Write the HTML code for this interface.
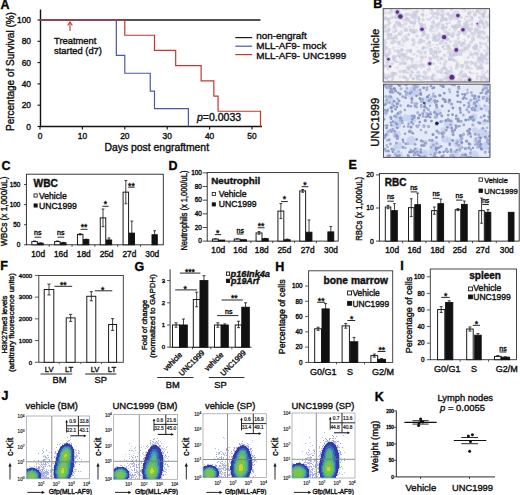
<!DOCTYPE html>
<html><head><meta charset="utf-8"><style>
html,body{margin:0;padding:0;background:#fff;}
svg{display:block;font-family:"Liberation Sans", sans-serif;}
text{stroke:#111;stroke-width:0.38px;}
</style></head><body>
<svg width="520" height="495" viewBox="0 0 520 495">
<defs><filter id="bl1" x="-30%" y="-30%" width="160%" height="160%"><feGaussianBlur stdDeviation="0.7"/></filter><filter id="bl2" x="-10%" y="-10%" width="120%" height="120%"><feGaussianBlur stdDeviation="0.45"/></filter></defs>
<rect width="520" height="495" fill="#fff"/>
<text x="0.5" y="8.5" font-size="12.5" text-anchor="start" font-weight="bold" fill="#000">A</text>
<line x1="40.5" y1="9.5" x2="40.5" y2="127.0" stroke="#111" stroke-width="1.4"/>
<line x1="39.9" y1="126.5" x2="262" y2="126.5" stroke="#111" stroke-width="1.4"/>
<line x1="37.5" y1="126.5" x2="40.5" y2="126.5" stroke="#111" stroke-width="1.1"/>
<text x="31" y="129.5" font-size="8.4" text-anchor="end" fill="#111">0</text>
<line x1="37.5" y1="105.2" x2="40.5" y2="105.2" stroke="#111" stroke-width="1.1"/>
<text x="31" y="108.2" font-size="8.4" text-anchor="end" fill="#111">20</text>
<line x1="37.5" y1="83.9" x2="40.5" y2="83.9" stroke="#111" stroke-width="1.1"/>
<text x="31" y="86.9" font-size="8.4" text-anchor="end" fill="#111">40</text>
<line x1="37.5" y1="62.6" x2="40.5" y2="62.6" stroke="#111" stroke-width="1.1"/>
<text x="31" y="65.6" font-size="8.4" text-anchor="end" fill="#111">60</text>
<line x1="37.5" y1="41.30000000000001" x2="40.5" y2="41.30000000000001" stroke="#111" stroke-width="1.1"/>
<text x="31" y="44.30000000000001" font-size="8.4" text-anchor="end" fill="#111">80</text>
<line x1="37.5" y1="20.0" x2="40.5" y2="20.0" stroke="#111" stroke-width="1.1"/>
<text x="31" y="23.0" font-size="8.4" text-anchor="end" fill="#111">100</text>
<line x1="40.0" y1="126.5" x2="40.0" y2="129.5" stroke="#111" stroke-width="1.1"/>
<text x="40.0" y="139" font-size="8.4" text-anchor="middle" fill="#111">0</text>
<line x1="82.4" y1="126.5" x2="82.4" y2="129.5" stroke="#111" stroke-width="1.1"/>
<text x="82.4" y="139" font-size="8.4" text-anchor="middle" fill="#111">10</text>
<line x1="124.80000000000001" y1="126.5" x2="124.80000000000001" y2="129.5" stroke="#111" stroke-width="1.1"/>
<text x="124.80000000000001" y="139" font-size="8.4" text-anchor="middle" fill="#111">20</text>
<line x1="167.2" y1="126.5" x2="167.2" y2="129.5" stroke="#111" stroke-width="1.1"/>
<text x="167.2" y="139" font-size="8.4" text-anchor="middle" fill="#111">30</text>
<line x1="209.60000000000002" y1="126.5" x2="209.60000000000002" y2="129.5" stroke="#111" stroke-width="1.1"/>
<text x="209.60000000000002" y="139" font-size="8.4" text-anchor="middle" fill="#111">40</text>
<line x1="252.0" y1="126.5" x2="252.0" y2="129.5" stroke="#111" stroke-width="1.1"/>
<text x="252.0" y="139" font-size="8.4" text-anchor="middle" fill="#111">50</text>
<text x="104.5" y="151" font-size="10.4" text-anchor="start" fill="#111">Days post engraftment</text>
<text x="13.5" y="131" font-size="10" text-anchor="start" fill="#111" transform="rotate(-90 13.5 131)">Percentage of Survival (%)</text>
<path d="M40.0,20.0 H260.48" stroke="#1a1a1a" stroke-width="1.3" fill="none"/>
<path d="M40.0,20.0 H116.32 V55.46 H124.80 V73.25 H150.24 V91.04 H154.48 V108.71 H188.40 V126.50" stroke="#4b5aa6" stroke-width="1.2" fill="none"/>
<path d="M40.0,20.0 H124.80 V35.23 H154.48 V50.46 H175.68 V65.69 H201.12 V80.81 H213.84 V96.04 H218.08 V111.27 H260.48 V126.50" stroke="#c8362f" stroke-width="1.2" fill="none"/>
<path d="M70,31 V22.5" stroke="#c8362f" stroke-width="1.1" fill="none"/>
<path d="M67.6,25.5 L70,22 L72.4,25.5" stroke="#c8362f" stroke-width="1.1" fill="none"/>
<text x="54" y="44.2" font-size="9.4" text-anchor="start" fill="#111">Treatment</text>
<text x="54" y="53.6" font-size="9.4" text-anchor="start" fill="#111">started (d7)</text>
<text x="197" y="121.3" font-size="10.5" fill="#111"><tspan font-style="italic">p</tspan>=0.0033</text>
<line x1="235.3" y1="37.6" x2="252.2" y2="37.6" stroke="#1a1a1a" stroke-width="1.2"/>
<text x="256.2" y="39.3" font-size="9.9" text-anchor="start" fill="#111">non-engraft</text>
<line x1="235.3" y1="46.2" x2="252.2" y2="46.2" stroke="#4b5aa6" stroke-width="1.2"/>
<text x="256.2" y="49.3" font-size="9.9" text-anchor="start" fill="#111">MLL-AF9- mock</text>
<line x1="235.3" y1="54.6" x2="252.2" y2="54.6" stroke="#c8362f" stroke-width="1.2"/>
<text x="256.2" y="58.7" font-size="9.9" text-anchor="start" fill="#111">MLL-AF9- UNC1999</text>
<text x="1.5" y="170" font-size="12.5" text-anchor="start" font-weight="bold" fill="#000">C</text>
<rect x="26.4" y="174.2" width="136.9" height="70.60000000000002" fill="none" stroke="#222" stroke-width="0.9"/>
<line x1="24.0" y1="244.8" x2="26.4" y2="244.8" stroke="#222" stroke-width="0.8"/>
<text x="20.4" y="247.104" font-size="6.4" text-anchor="end" fill="#111">0</text>
<line x1="24.0" y1="224.70000000000002" x2="26.4" y2="224.70000000000002" stroke="#222" stroke-width="0.8"/>
<text x="20.4" y="227.00400000000002" font-size="6.4" text-anchor="end" fill="#111">50</text>
<line x1="24.0" y1="204.60000000000002" x2="26.4" y2="204.60000000000002" stroke="#222" stroke-width="0.8"/>
<text x="20.4" y="206.90400000000002" font-size="6.4" text-anchor="end" fill="#111">100</text>
<line x1="24.0" y1="184.5" x2="26.4" y2="184.5" stroke="#222" stroke-width="0.8"/>
<text x="20.4" y="186.804" font-size="6.4" text-anchor="end" fill="#111">150</text>
<line x1="49.21666666666667" y1="244.8" x2="49.21666666666667" y2="246.8" stroke="#222" stroke-width="0.8"/>
<line x1="72.03333333333333" y1="244.8" x2="72.03333333333333" y2="246.8" stroke="#222" stroke-width="0.8"/>
<line x1="94.85" y1="244.8" x2="94.85" y2="246.8" stroke="#222" stroke-width="0.8"/>
<line x1="117.66666666666666" y1="244.8" x2="117.66666666666666" y2="246.8" stroke="#222" stroke-width="0.8"/>
<line x1="140.48333333333332" y1="244.8" x2="140.48333333333332" y2="246.8" stroke="#222" stroke-width="0.8"/>
<rect x="31.81" y="241.58" width="5.50" height="3.22" fill="#fff" stroke="#111" stroke-width="0.95"/>
<line x1="34.55833333333333" y1="241.584" x2="34.55833333333333" y2="240.98100000000002" stroke="#111" stroke-width="0.8"/>
<line x1="33.15833333333333" y1="240.98100000000002" x2="35.95833333333333" y2="240.98100000000002" stroke="#111" stroke-width="0.8"/>
<rect x="37.91" y="243.19" width="5.30" height="1.61" fill="#111" stroke="#111" stroke-width="0.95"/>
<line x1="40.55833333333332" y1="243.192" x2="40.55833333333332" y2="242.87040000000002" stroke="#111" stroke-width="0.8"/>
<line x1="39.158333333333324" y1="242.87040000000002" x2="41.95833333333332" y2="242.87040000000002" stroke="#111" stroke-width="0.8"/>
<rect x="54.62" y="241.58" width="5.50" height="3.22" fill="#fff" stroke="#111" stroke-width="0.95"/>
<line x1="57.375" y1="241.584" x2="57.375" y2="240.98100000000002" stroke="#111" stroke-width="0.8"/>
<line x1="55.975" y1="240.98100000000002" x2="58.775" y2="240.98100000000002" stroke="#111" stroke-width="0.8"/>
<rect x="60.72" y="242.79" width="5.30" height="2.01" fill="#111" stroke="#111" stroke-width="0.95"/>
<line x1="63.37499999999999" y1="242.79000000000002" x2="63.37499999999999" y2="242.388" stroke="#111" stroke-width="0.8"/>
<line x1="61.974999999999994" y1="242.388" x2="64.77499999999999" y2="242.388" stroke="#111" stroke-width="0.8"/>
<rect x="77.44" y="234.35" width="5.50" height="10.45" fill="#fff" stroke="#111" stroke-width="0.95"/>
<line x1="80.19166666666666" y1="234.348" x2="80.19166666666666" y2="233.745" stroke="#111" stroke-width="0.8"/>
<line x1="78.79166666666666" y1="233.745" x2="81.59166666666667" y2="233.745" stroke="#111" stroke-width="0.8"/>
<line x1="80.19166666666666" y1="234.348" x2="80.19166666666666" y2="234.95100000000002" stroke="#111" stroke-width="0.8"/>
<line x1="78.79166666666666" y1="234.95100000000002" x2="81.59166666666667" y2="234.95100000000002" stroke="#111" stroke-width="0.8"/>
<rect x="83.54" y="239.57" width="5.30" height="5.23" fill="#111" stroke="#111" stroke-width="0.95"/>
<line x1="86.19166666666666" y1="239.574" x2="86.19166666666666" y2="239.17200000000003" stroke="#111" stroke-width="0.8"/>
<line x1="84.79166666666666" y1="239.17200000000003" x2="87.59166666666667" y2="239.17200000000003" stroke="#111" stroke-width="0.8"/>
<rect x="100.26" y="217.87" width="5.50" height="26.93" fill="#fff" stroke="#111" stroke-width="0.95"/>
<line x1="103.00833333333333" y1="217.866" x2="103.00833333333333" y2="209.02200000000002" stroke="#111" stroke-width="0.8"/>
<line x1="101.60833333333332" y1="209.02200000000002" x2="104.40833333333333" y2="209.02200000000002" stroke="#111" stroke-width="0.8"/>
<line x1="103.00833333333333" y1="217.866" x2="103.00833333333333" y2="226.71" stroke="#111" stroke-width="0.8"/>
<line x1="101.60833333333332" y1="226.71" x2="104.40833333333333" y2="226.71" stroke="#111" stroke-width="0.8"/>
<rect x="106.36" y="239.98" width="5.30" height="4.82" fill="#111" stroke="#111" stroke-width="0.95"/>
<line x1="109.00833333333333" y1="239.976" x2="109.00833333333333" y2="237.966" stroke="#111" stroke-width="0.8"/>
<line x1="107.60833333333332" y1="237.966" x2="110.40833333333333" y2="237.966" stroke="#111" stroke-width="0.8"/>
<rect x="123.08" y="192.14" width="5.50" height="52.66" fill="#fff" stroke="#111" stroke-width="0.95"/>
<line x1="125.82499999999999" y1="192.138" x2="125.82499999999999" y2="180.48000000000002" stroke="#111" stroke-width="0.8"/>
<line x1="124.42499999999998" y1="180.48000000000002" x2="127.225" y2="180.48000000000002" stroke="#111" stroke-width="0.8"/>
<line x1="125.82499999999999" y1="192.138" x2="125.82499999999999" y2="203.796" stroke="#111" stroke-width="0.8"/>
<line x1="124.42499999999998" y1="203.796" x2="127.225" y2="203.796" stroke="#111" stroke-width="0.8"/>
<rect x="129.18" y="233.14" width="5.30" height="11.66" fill="#111" stroke="#111" stroke-width="0.95"/>
<line x1="131.825" y1="233.142" x2="131.825" y2="221.08200000000002" stroke="#111" stroke-width="0.8"/>
<line x1="130.42499999999998" y1="221.08200000000002" x2="133.225" y2="221.08200000000002" stroke="#111" stroke-width="0.8"/>
<rect x="151.99" y="234.75" width="5.30" height="10.05" fill="#111" stroke="#111" stroke-width="0.95"/>
<line x1="154.64166666666665" y1="234.75" x2="154.64166666666665" y2="230.73000000000002" stroke="#111" stroke-width="0.8"/>
<line x1="153.24166666666665" y1="230.73000000000002" x2="156.04166666666666" y2="230.73000000000002" stroke="#111" stroke-width="0.8"/>
<text x="38.10833333333333" y="256.6" font-size="8.3" text-anchor="middle" fill="#111">10d</text>
<text x="60.925" y="256.6" font-size="8.3" text-anchor="middle" fill="#111">16d</text>
<text x="83.74166666666666" y="256.6" font-size="8.3" text-anchor="middle" fill="#111">18d</text>
<text x="106.55833333333332" y="256.6" font-size="8.3" text-anchor="middle" fill="#111">25d</text>
<text x="129.375" y="256.6" font-size="8.3" text-anchor="middle" fill="#111">27d</text>
<text x="152.19166666666666" y="256.6" font-size="8.3" text-anchor="middle" fill="#111">30d</text>
<text x="33.6" y="186.6" font-size="10.2" text-anchor="start" font-weight="bold" fill="#111">WBC</text>
<rect x="34.0" y="193.9" width="3.2" height="3.2" fill="#fff" stroke="#111" stroke-width="0.8"/>
<text x="39.0" y="198.596" font-size="8.6" text-anchor="start" fill="#111">Vehicle</text>
<rect x="34.0" y="203.9" width="3.2" height="3.2" fill="#111" stroke="#111" stroke-width="0.8"/>
<text x="39.0" y="208.596" font-size="8.6" text-anchor="start" fill="#111">UNC1999</text>
<text x="6.7" y="211.3" font-size="8.9" text-anchor="middle" fill="#111" textLength="69.5" lengthAdjust="spacingAndGlyphs" transform="rotate(-90 6.7 211.3)">WBCs (x 1,000/uL)</text>
<text x="37.7" y="234.8" font-size="7" text-anchor="middle" fill="#111">ns</text>
<line x1="34.6" y1="237.2" x2="41.2" y2="237.2" stroke="#111" stroke-width="0.9"/>
<text x="60.8" y="234.8" font-size="7" text-anchor="middle" fill="#111">ns</text>
<line x1="57.6" y1="237.2" x2="64.2" y2="237.2" stroke="#111" stroke-width="0.9"/>
<text x="84.1" y="230.1" font-size="8.6" text-anchor="middle" fill="#111">**</text>
<line x1="80.6" y1="229.3" x2="87.6" y2="229.3" stroke="#111" stroke-width="0.9"/>
<text x="105.4" y="207.20000000000002" font-size="8.6" text-anchor="middle" fill="#111">*</text>
<line x1="102.3" y1="206.3" x2="108.6" y2="206.3" stroke="#111" stroke-width="0.9"/>
<text x="131.4" y="189.0" font-size="8.6" text-anchor="middle" fill="#111">**</text>
<line x1="128.2" y1="187.2" x2="134.6" y2="187.2" stroke="#111" stroke-width="0.9"/>
<text x="168.4" y="169.6" font-size="12.5" text-anchor="start" font-weight="bold" fill="#000">D</text>
<rect x="207.2" y="172.6" width="131.0" height="68.5" fill="none" stroke="#222" stroke-width="0.9"/>
<line x1="202.7" y1="241.1" x2="207.2" y2="241.1" stroke="#222" stroke-width="0.8"/>
<text x="201.8" y="243.404" font-size="6.4" text-anchor="end" fill="#111">0</text>
<line x1="202.7" y1="227.45999999999998" x2="207.2" y2="227.45999999999998" stroke="#222" stroke-width="0.8"/>
<text x="201.8" y="229.76399999999998" font-size="6.4" text-anchor="end" fill="#111">20</text>
<line x1="202.7" y1="213.82" x2="207.2" y2="213.82" stroke="#222" stroke-width="0.8"/>
<text x="201.8" y="216.124" font-size="6.4" text-anchor="end" fill="#111">40</text>
<line x1="202.7" y1="200.18" x2="207.2" y2="200.18" stroke="#222" stroke-width="0.8"/>
<text x="201.8" y="202.484" font-size="6.4" text-anchor="end" fill="#111">60</text>
<line x1="202.7" y1="186.54" x2="207.2" y2="186.54" stroke="#222" stroke-width="0.8"/>
<text x="201.8" y="188.844" font-size="6.4" text-anchor="end" fill="#111">80</text>
<line x1="202.7" y1="172.89999999999998" x2="207.2" y2="172.89999999999998" stroke="#222" stroke-width="0.8"/>
<text x="201.8" y="175.20399999999998" font-size="6.4" text-anchor="end" fill="#111">100</text>
<line x1="229.03333333333333" y1="241.1" x2="229.03333333333333" y2="243.1" stroke="#222" stroke-width="0.8"/>
<line x1="250.86666666666665" y1="241.1" x2="250.86666666666665" y2="243.1" stroke="#222" stroke-width="0.8"/>
<line x1="272.7" y1="241.1" x2="272.7" y2="243.1" stroke="#222" stroke-width="0.8"/>
<line x1="294.5333333333333" y1="241.1" x2="294.5333333333333" y2="243.1" stroke="#222" stroke-width="0.8"/>
<line x1="316.3666666666667" y1="241.1" x2="316.3666666666667" y2="243.1" stroke="#222" stroke-width="0.8"/>
<rect x="212.42" y="239.05" width="5.90" height="2.05" fill="#fff" stroke="#111" stroke-width="0.95"/>
<line x1="215.36666666666667" y1="239.054" x2="215.36666666666667" y2="238.713" stroke="#111" stroke-width="0.8"/>
<line x1="213.96666666666667" y1="238.713" x2="216.76666666666668" y2="238.713" stroke="#111" stroke-width="0.8"/>
<rect x="218.72" y="240.08" width="5.90" height="1.02" fill="#111" stroke="#111" stroke-width="0.95"/>
<rect x="234.25" y="239.05" width="5.90" height="2.05" fill="#fff" stroke="#111" stroke-width="0.95"/>
<line x1="237.2" y1="239.054" x2="237.2" y2="238.713" stroke="#111" stroke-width="0.8"/>
<line x1="235.79999999999998" y1="238.713" x2="238.6" y2="238.713" stroke="#111" stroke-width="0.8"/>
<rect x="240.55" y="239.74" width="5.90" height="1.36" fill="#111" stroke="#111" stroke-width="0.95"/>
<rect x="256.08" y="232.92" width="5.90" height="8.18" fill="#fff" stroke="#111" stroke-width="0.95"/>
<line x1="259.0333333333333" y1="232.916" x2="259.0333333333333" y2="231.552" stroke="#111" stroke-width="0.8"/>
<line x1="257.6333333333333" y1="231.552" x2="260.4333333333333" y2="231.552" stroke="#111" stroke-width="0.8"/>
<line x1="259.0333333333333" y1="232.916" x2="259.0333333333333" y2="234.28" stroke="#111" stroke-width="0.8"/>
<line x1="257.6333333333333" y1="234.28" x2="260.4333333333333" y2="234.28" stroke="#111" stroke-width="0.8"/>
<rect x="262.38" y="238.71" width="5.90" height="2.39" fill="#111" stroke="#111" stroke-width="0.95"/>
<line x1="265.33333333333326" y1="238.713" x2="265.33333333333326" y2="238.37199999999999" stroke="#111" stroke-width="0.8"/>
<line x1="263.9333333333333" y1="238.37199999999999" x2="266.73333333333323" y2="238.37199999999999" stroke="#111" stroke-width="0.8"/>
<rect x="277.92" y="211.09" width="5.90" height="30.01" fill="#fff" stroke="#111" stroke-width="0.95"/>
<line x1="280.8666666666667" y1="211.09199999999998" x2="280.8666666666667" y2="203.58999999999997" stroke="#111" stroke-width="0.8"/>
<line x1="279.4666666666667" y1="203.58999999999997" x2="282.26666666666665" y2="203.58999999999997" stroke="#111" stroke-width="0.8"/>
<line x1="280.8666666666667" y1="211.09199999999998" x2="280.8666666666667" y2="218.594" stroke="#111" stroke-width="0.8"/>
<line x1="279.4666666666667" y1="218.594" x2="282.26666666666665" y2="218.594" stroke="#111" stroke-width="0.8"/>
<rect x="284.22" y="239.74" width="5.90" height="1.36" fill="#111" stroke="#111" stroke-width="0.95"/>
<line x1="287.16666666666663" y1="239.736" x2="287.16666666666663" y2="239.054" stroke="#111" stroke-width="0.8"/>
<line x1="285.76666666666665" y1="239.054" x2="288.5666666666666" y2="239.054" stroke="#111" stroke-width="0.8"/>
<rect x="299.75" y="190.90" width="5.90" height="50.20" fill="#fff" stroke="#111" stroke-width="0.95"/>
<line x1="302.69999999999993" y1="190.9048" x2="302.69999999999993" y2="189.5408" stroke="#111" stroke-width="0.8"/>
<line x1="301.29999999999995" y1="189.5408" x2="304.0999999999999" y2="189.5408" stroke="#111" stroke-width="0.8"/>
<line x1="302.69999999999993" y1="190.9048" x2="302.69999999999993" y2="192.2688" stroke="#111" stroke-width="0.8"/>
<line x1="301.29999999999995" y1="192.2688" x2="304.0999999999999" y2="192.2688" stroke="#111" stroke-width="0.8"/>
<rect x="306.05" y="232.23" width="5.90" height="8.87" fill="#111" stroke="#111" stroke-width="0.95"/>
<line x1="309.0" y1="232.23399999999998" x2="309.0" y2="219.958" stroke="#111" stroke-width="0.8"/>
<line x1="307.6" y1="219.958" x2="310.4" y2="219.958" stroke="#111" stroke-width="0.8"/>
<rect x="327.88" y="231.89" width="5.90" height="9.21" fill="#111" stroke="#111" stroke-width="0.95"/>
<line x1="330.83333333333326" y1="231.893" x2="330.83333333333326" y2="226.43699999999998" stroke="#111" stroke-width="0.8"/>
<line x1="329.4333333333333" y1="226.43699999999998" x2="332.23333333333323" y2="226.43699999999998" stroke="#111" stroke-width="0.8"/>
<text x="218.2" y="252.9" font-size="8.3" text-anchor="middle" fill="#111">10d</text>
<text x="240.2" y="252.9" font-size="8.3" text-anchor="middle" fill="#111">16d</text>
<text x="261.7" y="252.9" font-size="8.3" text-anchor="middle" fill="#111">18d</text>
<text x="284.4" y="252.9" font-size="8.3" text-anchor="middle" fill="#111">25d</text>
<text x="307.6" y="252.9" font-size="8.3" text-anchor="middle" fill="#111">27d</text>
<text x="331.0" y="252.9" font-size="8.3" text-anchor="middle" fill="#111">30d</text>
<text x="211.2" y="184.4" font-size="9.8" text-anchor="start" font-weight="bold" fill="#111">Neutrophil</text>
<rect x="212.20000000000002" y="192.4" width="3.2" height="3.2" fill="#fff" stroke="#111" stroke-width="0.8"/>
<text x="218.8" y="197.096" font-size="8.6" text-anchor="start" fill="#111">Vehicle</text>
<rect x="212.20000000000002" y="202.8" width="3.2" height="3.2" fill="#111" stroke="#111" stroke-width="0.8"/>
<text x="218.8" y="207.496" font-size="8.6" text-anchor="start" fill="#111">UNC1999</text>
<text x="187.4" y="210.6" font-size="8.5" text-anchor="middle" fill="#111" textLength="80.0" lengthAdjust="spacingAndGlyphs" transform="rotate(-90 187.4 210.6)">Neutrophils (x 1,000/uL)</text>
<text x="217.7" y="236.20000000000002" font-size="8.6" text-anchor="middle" fill="#111">*</text>
<line x1="214.8" y1="234.6" x2="221.2" y2="234.6" stroke="#111" stroke-width="0.9"/>
<text x="240.2" y="232.6" font-size="7" text-anchor="middle" fill="#111">ns</text>
<line x1="236.8" y1="234.0" x2="243.6" y2="234.0" stroke="#111" stroke-width="0.9"/>
<text x="261.0" y="228.70000000000002" font-size="8.6" text-anchor="middle" fill="#111">**</text>
<line x1="257.8" y1="227.8" x2="264.6" y2="227.8" stroke="#111" stroke-width="0.9"/>
<text x="284.4" y="202.20000000000002" font-size="8.6" text-anchor="middle" fill="#111">*</text>
<line x1="281.0" y1="201.6" x2="287.8" y2="201.6" stroke="#111" stroke-width="0.9"/>
<text x="304.9" y="187.70000000000002" font-size="8.6" text-anchor="middle" fill="#111">*</text>
<line x1="301.6" y1="186.7" x2="308.4" y2="186.7" stroke="#111" stroke-width="0.9"/>
<text x="348.6" y="169.2" font-size="12.5" text-anchor="start" font-weight="bold" fill="#000">E</text>
<rect x="379.4" y="173.6" width="139.80000000000007" height="67.5" fill="none" stroke="#222" stroke-width="0.9"/>
<line x1="376.0" y1="241.1" x2="379.4" y2="241.1" stroke="#222" stroke-width="0.8"/>
<text x="373.8" y="243.548" font-size="6.8" text-anchor="end" fill="#111">0</text>
<line x1="376.0" y1="208.0" x2="379.4" y2="208.0" stroke="#222" stroke-width="0.8"/>
<text x="373.8" y="210.448" font-size="6.8" text-anchor="end" fill="#111">10</text>
<line x1="376.0" y1="174.89999999999998" x2="379.4" y2="174.89999999999998" stroke="#222" stroke-width="0.8"/>
<text x="373.8" y="177.34799999999998" font-size="6.8" text-anchor="end" fill="#111">20</text>
<line x1="402.6" y1="241.1" x2="402.6" y2="243.1" stroke="#222" stroke-width="0.8"/>
<line x1="425.9" y1="241.1" x2="425.9" y2="243.1" stroke="#222" stroke-width="0.8"/>
<line x1="449.1" y1="241.1" x2="449.1" y2="243.1" stroke="#222" stroke-width="0.8"/>
<line x1="472.5" y1="241.1" x2="472.5" y2="243.1" stroke="#222" stroke-width="0.8"/>
<line x1="496.3" y1="241.1" x2="496.3" y2="243.1" stroke="#222" stroke-width="0.8"/>
<rect x="385.30" y="207.01" width="5.50" height="34.09" fill="#fff" stroke="#111" stroke-width="0.95"/>
<line x1="388.05" y1="207.007" x2="388.05" y2="205.35199999999998" stroke="#111" stroke-width="0.8"/>
<line x1="386.65000000000003" y1="205.35199999999998" x2="389.45" y2="205.35199999999998" stroke="#111" stroke-width="0.8"/>
<line x1="388.05" y1="207.007" x2="388.05" y2="208.66199999999998" stroke="#111" stroke-width="0.8"/>
<line x1="386.65000000000003" y1="208.66199999999998" x2="389.45" y2="208.66199999999998" stroke="#111" stroke-width="0.8"/>
<rect x="391.60" y="210.65" width="5.70" height="30.45" fill="#111" stroke="#111" stroke-width="0.95"/>
<line x1="394.45000000000005" y1="210.648" x2="394.45000000000005" y2="203.697" stroke="#111" stroke-width="0.8"/>
<line x1="393.05000000000007" y1="203.697" x2="395.85" y2="203.697" stroke="#111" stroke-width="0.8"/>
<rect x="408.50" y="207.67" width="5.50" height="33.43" fill="#fff" stroke="#111" stroke-width="0.95"/>
<line x1="411.25" y1="207.66899999999998" x2="411.25" y2="198.732" stroke="#111" stroke-width="0.8"/>
<line x1="409.85" y1="198.732" x2="412.65" y2="198.732" stroke="#111" stroke-width="0.8"/>
<line x1="411.25" y1="207.66899999999998" x2="411.25" y2="216.606" stroke="#111" stroke-width="0.8"/>
<line x1="409.85" y1="216.606" x2="412.65" y2="216.606" stroke="#111" stroke-width="0.8"/>
<rect x="414.80" y="204.69" width="5.70" height="36.41" fill="#111" stroke="#111" stroke-width="0.95"/>
<line x1="417.65" y1="204.69" x2="417.65" y2="193.105" stroke="#111" stroke-width="0.8"/>
<line x1="416.25" y1="193.105" x2="419.04999999999995" y2="193.105" stroke="#111" stroke-width="0.8"/>
<rect x="431.60" y="210.65" width="5.50" height="30.45" fill="#fff" stroke="#111" stroke-width="0.95"/>
<line x1="434.35" y1="210.648" x2="434.35" y2="207.007" stroke="#111" stroke-width="0.8"/>
<line x1="432.95000000000005" y1="207.007" x2="435.75" y2="207.007" stroke="#111" stroke-width="0.8"/>
<line x1="434.35" y1="210.648" x2="434.35" y2="214.289" stroke="#111" stroke-width="0.8"/>
<line x1="432.95000000000005" y1="214.289" x2="435.75" y2="214.289" stroke="#111" stroke-width="0.8"/>
<rect x="437.90" y="203.70" width="5.70" height="37.40" fill="#111" stroke="#111" stroke-width="0.95"/>
<line x1="440.75" y1="203.697" x2="440.75" y2="199.063" stroke="#111" stroke-width="0.8"/>
<line x1="439.35" y1="199.063" x2="442.15" y2="199.063" stroke="#111" stroke-width="0.8"/>
<rect x="455.20" y="209.66" width="5.50" height="31.44" fill="#fff" stroke="#111" stroke-width="0.95"/>
<line x1="457.95" y1="209.655" x2="457.95" y2="208.66199999999998" stroke="#111" stroke-width="0.8"/>
<line x1="456.55" y1="208.66199999999998" x2="459.34999999999997" y2="208.66199999999998" stroke="#111" stroke-width="0.8"/>
<line x1="457.95" y1="209.655" x2="457.95" y2="210.648" stroke="#111" stroke-width="0.8"/>
<line x1="456.55" y1="210.648" x2="459.34999999999997" y2="210.648" stroke="#111" stroke-width="0.8"/>
<rect x="461.50" y="204.36" width="5.70" height="36.74" fill="#111" stroke="#111" stroke-width="0.95"/>
<line x1="464.35" y1="204.35899999999998" x2="464.35" y2="201.04899999999998" stroke="#111" stroke-width="0.8"/>
<line x1="462.95000000000005" y1="201.04899999999998" x2="465.75" y2="201.04899999999998" stroke="#111" stroke-width="0.8"/>
<rect x="478.80" y="210.65" width="5.50" height="30.45" fill="#fff" stroke="#111" stroke-width="0.95"/>
<line x1="481.55" y1="210.648" x2="481.55" y2="198.07" stroke="#111" stroke-width="0.8"/>
<line x1="480.15000000000003" y1="198.07" x2="482.95" y2="198.07" stroke="#111" stroke-width="0.8"/>
<line x1="481.55" y1="210.648" x2="481.55" y2="223.226" stroke="#111" stroke-width="0.8"/>
<line x1="480.15000000000003" y1="223.226" x2="482.95" y2="223.226" stroke="#111" stroke-width="0.8"/>
<rect x="485.10" y="212.30" width="5.70" height="28.80" fill="#111" stroke="#111" stroke-width="0.95"/>
<line x1="487.95000000000005" y1="212.303" x2="487.95000000000005" y2="209.655" stroke="#111" stroke-width="0.8"/>
<line x1="486.55000000000007" y1="209.655" x2="489.35" y2="209.655" stroke="#111" stroke-width="0.8"/>
<rect x="508.30" y="212.30" width="5.70" height="28.80" fill="#111" stroke="#111" stroke-width="0.95"/>
<text x="392.1" y="252.9" font-size="8.3" text-anchor="middle" fill="#111">10d</text>
<text x="414.3" y="252.9" font-size="8.3" text-anchor="middle" fill="#111">16d</text>
<text x="437.4" y="252.9" font-size="8.3" text-anchor="middle" fill="#111">18d</text>
<text x="459.6" y="252.9" font-size="8.3" text-anchor="middle" fill="#111">25d</text>
<text x="482.6" y="252.9" font-size="8.3" text-anchor="middle" fill="#111">27d</text>
<text x="506.7" y="252.9" font-size="8.3" text-anchor="middle" fill="#111">30d</text>
<text x="384.8" y="185.8" font-size="10" text-anchor="start" font-weight="bold" fill="#111">RBC</text>
<rect x="479.0" y="177.9" width="3.4" height="3.4" fill="#fff" stroke="#111" stroke-width="0.8"/>
<rect x="479.0" y="189.0" width="3.4" height="3.4" fill="#111" stroke="#111" stroke-width="0.8"/>
<text x="484.3" y="182.6" font-size="8.0" text-anchor="start" fill="#111" textLength="23.5" lengthAdjust="spacingAndGlyphs">Vehicle</text>
<text x="484.3" y="193.7" font-size="8.0" text-anchor="start" fill="#111" textLength="33.4" lengthAdjust="spacingAndGlyphs">UNC1999</text>
<text x="361.9" y="208.8" font-size="8.5" text-anchor="middle" fill="#111" textLength="64.0" lengthAdjust="spacingAndGlyphs" transform="rotate(-90 361.9 208.8)">RBCs (x 1,000/uL)</text>
<text x="390.6" y="199.2" font-size="7" text-anchor="middle" fill="#111">ns</text>
<line x1="387.3" y1="201.2" x2="393.90000000000003" y2="201.2" stroke="#111" stroke-width="0.9"/>
<text x="413.9" y="190.3" font-size="7" text-anchor="middle" fill="#111">ns</text>
<line x1="410.59999999999997" y1="191.89999999999998" x2="417.2" y2="191.89999999999998" stroke="#111" stroke-width="0.9"/>
<text x="436.1" y="196.1" font-size="7" text-anchor="middle" fill="#111">ns</text>
<line x1="432.8" y1="198.29999999999998" x2="439.40000000000003" y2="198.29999999999998" stroke="#111" stroke-width="0.9"/>
<text x="459.3" y="197.7" font-size="7" text-anchor="middle" fill="#111">ns</text>
<line x1="456.0" y1="200.1" x2="462.6" y2="200.1" stroke="#111" stroke-width="0.9"/>
<text x="485.6" y="202.8" font-size="7" text-anchor="middle" fill="#111">ns</text>
<line x1="482.3" y1="204.5" x2="488.90000000000003" y2="204.5" stroke="#111" stroke-width="0.9"/>
<text x="0.3" y="269.9" font-size="12.5" text-anchor="start" font-weight="bold" fill="#000">F</text>
<rect x="38.8" y="275.5" width="84.5" height="86.80000000000001" fill="none" stroke="#333" stroke-width="0.9"/>
<line x1="34.8" y1="362.3" x2="38.8" y2="362.3" stroke="#333" stroke-width="0.8"/>
<text x="32.2" y="364.5" font-size="6.0" text-anchor="end" fill="#111">0</text>
<line x1="34.8" y1="340.575" x2="38.8" y2="340.575" stroke="#333" stroke-width="0.8"/>
<text x="32.2" y="342.775" font-size="6.0" text-anchor="end" fill="#111">1000</text>
<line x1="34.8" y1="318.85" x2="38.8" y2="318.85" stroke="#333" stroke-width="0.8"/>
<text x="32.2" y="321.05" font-size="6.0" text-anchor="end" fill="#111">2000</text>
<line x1="34.8" y1="297.125" x2="38.8" y2="297.125" stroke="#333" stroke-width="0.8"/>
<text x="32.2" y="299.325" font-size="6.0" text-anchor="end" fill="#111">3000</text>
<line x1="34.8" y1="275.4" x2="38.8" y2="275.4" stroke="#333" stroke-width="0.8"/>
<text x="32.2" y="277.59999999999997" font-size="6.0" text-anchor="end" fill="#111">4000</text>
<line x1="59.2" y1="362.3" x2="59.2" y2="364.1" stroke="#333" stroke-width="0.8"/>
<line x1="80.8" y1="362.3" x2="80.8" y2="364.1" stroke="#333" stroke-width="0.8"/>
<line x1="101.6" y1="362.3" x2="101.6" y2="364.1" stroke="#333" stroke-width="0.8"/>
<rect x="44.20" y="289.52" width="9.60" height="72.78" fill="#fff" stroke="#111" stroke-width="0.95"/>
<line x1="49.0" y1="289.52125" x2="49.0" y2="284.09" stroke="#111" stroke-width="0.8"/>
<line x1="47.4" y1="284.09" x2="50.6" y2="284.09" stroke="#111" stroke-width="0.8"/>
<line x1="49.0" y1="289.52125" x2="49.0" y2="294.9525" stroke="#111" stroke-width="0.8"/>
<line x1="47.4" y1="294.9525" x2="50.6" y2="294.9525" stroke="#111" stroke-width="0.8"/>
<rect x="66.20" y="317.87" width="8.90" height="44.43" fill="#fff" stroke="#111" stroke-width="0.95"/>
<line x1="70.65" y1="317.872375" x2="70.65" y2="314.396375" stroke="#111" stroke-width="0.8"/>
<line x1="69.05000000000001" y1="314.396375" x2="72.25" y2="314.396375" stroke="#111" stroke-width="0.8"/>
<line x1="70.65" y1="317.872375" x2="70.65" y2="321.348375" stroke="#111" stroke-width="0.8"/>
<line x1="69.05000000000001" y1="321.348375" x2="72.25" y2="321.348375" stroke="#111" stroke-width="0.8"/>
<rect x="86.80" y="296.26" width="9.00" height="66.04" fill="#fff" stroke="#111" stroke-width="0.95"/>
<line x1="91.3" y1="296.256" x2="91.3" y2="291.69374999999997" stroke="#111" stroke-width="0.8"/>
<line x1="89.7" y1="291.69374999999997" x2="92.89999999999999" y2="291.69374999999997" stroke="#111" stroke-width="0.8"/>
<line x1="91.3" y1="296.256" x2="91.3" y2="300.81825" stroke="#111" stroke-width="0.8"/>
<line x1="89.7" y1="300.81825" x2="92.89999999999999" y2="300.81825" stroke="#111" stroke-width="0.8"/>
<rect x="108.60" y="324.50" width="8.00" height="37.80" fill="#fff" stroke="#111" stroke-width="0.95"/>
<line x1="112.6" y1="324.4985" x2="112.6" y2="318.63275" stroke="#111" stroke-width="0.8"/>
<line x1="111.0" y1="318.63275" x2="114.19999999999999" y2="318.63275" stroke="#111" stroke-width="0.8"/>
<line x1="112.6" y1="324.4985" x2="112.6" y2="330.36424999999997" stroke="#111" stroke-width="0.8"/>
<line x1="111.0" y1="330.36424999999997" x2="114.19999999999999" y2="330.36424999999997" stroke="#111" stroke-width="0.8"/>
<text x="63.3" y="288.29999999999995" font-size="8.6" text-anchor="middle" fill="#111">**</text>
<line x1="54.4" y1="286.3" x2="72.2" y2="286.3" stroke="#111" stroke-width="0.9"/>
<text x="102.7" y="292.9" font-size="8.6" text-anchor="middle" fill="#111">*</text>
<line x1="94.9" y1="290.8" x2="112.3" y2="290.8" stroke="#111" stroke-width="0.9"/>
<text x="49.1" y="371.7" font-size="7.6" text-anchor="middle" fill="#111">LV</text>
<text x="69.1" y="371.7" font-size="7.6" text-anchor="middle" fill="#111">LT</text>
<text x="95.0" y="371.7" font-size="7.6" text-anchor="middle" fill="#111">LV</text>
<text x="112.0" y="371.7" font-size="7.6" text-anchor="middle" fill="#111">LT</text>
<line x1="40.5" y1="374.0" x2="72.2" y2="374.0" stroke="#333" stroke-width="1.1"/>
<line x1="85.2" y1="374.0" x2="116.3" y2="374.0" stroke="#333" stroke-width="1.1"/>
<text x="59.6" y="383.3" font-size="9.3" text-anchor="middle" fill="#111">BM</text>
<text x="100.8" y="383.3" font-size="9.3" text-anchor="middle" fill="#111">SP</text>
<text x="7.3" y="324.6" font-size="7.4" text-anchor="middle" fill="#111" transform="rotate(-90 7.3 324.6)">H3K27me3 levels</text>
<text x="13.7" y="322.6" font-size="7.8" text-anchor="middle" fill="#111" transform="rotate(-90 13.7 322.6)">(arbitrary fluorescence units)</text>
<text x="134.4" y="270.6" font-size="12.5" text-anchor="start" font-weight="bold" fill="#000">G</text>
<line x1="170.1" y1="269.3" x2="170.1" y2="347.2" stroke="#222" stroke-width="0.9"/>
<line x1="170.1" y1="347.2" x2="251.5" y2="347.2" stroke="#222" stroke-width="0.9"/>
<line x1="167.1" y1="347.2" x2="170.1" y2="347.2" stroke="#222" stroke-width="0.8"/>
<text x="165.0" y="349.4" font-size="6.0" text-anchor="end" fill="#111">0</text>
<line x1="167.1" y1="325.0" x2="170.1" y2="325.0" stroke="#222" stroke-width="0.8"/>
<text x="165.0" y="327.2" font-size="6.0" text-anchor="end" fill="#111">1</text>
<line x1="167.1" y1="302.8" x2="170.1" y2="302.8" stroke="#222" stroke-width="0.8"/>
<text x="165.0" y="305.0" font-size="6.0" text-anchor="end" fill="#111">2</text>
<line x1="167.1" y1="280.6" x2="170.1" y2="280.6" stroke="#222" stroke-width="0.8"/>
<text x="165.0" y="282.8" font-size="6.0" text-anchor="end" fill="#111">3</text>
<line x1="192.5" y1="347.2" x2="192.5" y2="349.2" stroke="#222" stroke-width="0.8"/>
<line x1="210.8" y1="347.2" x2="210.8" y2="349.2" stroke="#222" stroke-width="0.8"/>
<line x1="231.9" y1="347.2" x2="231.9" y2="349.2" stroke="#222" stroke-width="0.8"/>
<rect x="172.50" y="325.00" width="7.10" height="22.20" fill="#fff" stroke="#111" stroke-width="0.95"/>
<line x1="176.05" y1="325.0" x2="176.05" y2="322.78" stroke="#111" stroke-width="0.8"/>
<line x1="174.55" y1="322.78" x2="177.55" y2="322.78" stroke="#111" stroke-width="0.8"/>
<line x1="176.05" y1="325.0" x2="176.05" y2="327.21999999999997" stroke="#111" stroke-width="0.8"/>
<line x1="174.55" y1="327.21999999999997" x2="177.55" y2="327.21999999999997" stroke="#111" stroke-width="0.8"/>
<rect x="179.60" y="325.00" width="7.70" height="22.20" fill="#111" stroke="#111" stroke-width="0.95"/>
<line x1="183.45" y1="325.0" x2="183.45" y2="319.006" stroke="#111" stroke-width="0.8"/>
<line x1="181.95" y1="319.006" x2="184.95" y2="319.006" stroke="#111" stroke-width="0.8"/>
<rect x="193.30" y="299.47" width="6.70" height="47.73" fill="#fff" stroke="#111" stroke-width="0.95"/>
<line x1="196.65" y1="299.46999999999997" x2="196.65" y2="292.144" stroke="#111" stroke-width="0.8"/>
<line x1="195.15" y1="292.144" x2="198.15" y2="292.144" stroke="#111" stroke-width="0.8"/>
<line x1="196.65" y1="299.46999999999997" x2="196.65" y2="306.796" stroke="#111" stroke-width="0.8"/>
<line x1="195.15" y1="306.796" x2="198.15" y2="306.796" stroke="#111" stroke-width="0.8"/>
<rect x="200.00" y="280.60" width="7.90" height="66.60" fill="#111" stroke="#111" stroke-width="0.95"/>
<line x1="203.95" y1="280.6" x2="203.95" y2="275.716" stroke="#111" stroke-width="0.8"/>
<line x1="202.45" y1="275.716" x2="205.45" y2="275.716" stroke="#111" stroke-width="0.8"/>
<rect x="214.50" y="325.00" width="6.70" height="22.20" fill="#fff" stroke="#111" stroke-width="0.95"/>
<line x1="217.85" y1="325.0" x2="217.85" y2="322.78" stroke="#111" stroke-width="0.8"/>
<line x1="216.35" y1="322.78" x2="219.35" y2="322.78" stroke="#111" stroke-width="0.8"/>
<line x1="217.85" y1="325.0" x2="217.85" y2="327.21999999999997" stroke="#111" stroke-width="0.8"/>
<line x1="216.35" y1="327.21999999999997" x2="219.35" y2="327.21999999999997" stroke="#111" stroke-width="0.8"/>
<rect x="221.20" y="325.00" width="7.10" height="22.20" fill="#111" stroke="#111" stroke-width="0.95"/>
<line x1="224.75" y1="325.0" x2="224.75" y2="323.89" stroke="#111" stroke-width="0.8"/>
<line x1="223.25" y1="323.89" x2="226.25" y2="323.89" stroke="#111" stroke-width="0.8"/>
<rect x="235.20" y="325.00" width="6.60" height="22.20" fill="#fff" stroke="#111" stroke-width="0.95"/>
<line x1="238.5" y1="325.0" x2="238.5" y2="321.226" stroke="#111" stroke-width="0.8"/>
<line x1="237.0" y1="321.226" x2="240.0" y2="321.226" stroke="#111" stroke-width="0.8"/>
<line x1="238.5" y1="325.0" x2="238.5" y2="327.664" stroke="#111" stroke-width="0.8"/>
<line x1="237.0" y1="327.664" x2="240.0" y2="327.664" stroke="#111" stroke-width="0.8"/>
<rect x="241.80" y="307.24" width="7.50" height="39.96" fill="#111" stroke="#111" stroke-width="0.95"/>
<line x1="245.55" y1="307.24" x2="245.55" y2="302.8" stroke="#111" stroke-width="0.8"/>
<line x1="244.05" y1="302.8" x2="247.05" y2="302.8" stroke="#111" stroke-width="0.8"/>
<text x="189.9" y="274.7" font-size="8.6" text-anchor="middle" fill="#111">***</text>
<line x1="179.8" y1="273.1" x2="200.4" y2="273.1" stroke="#111" stroke-width="0.9"/>
<text x="185.3" y="291.5" font-size="8.6" text-anchor="middle" fill="#111">*</text>
<line x1="175.2" y1="289.9" x2="197.0" y2="289.9" stroke="#111" stroke-width="0.9"/>
<text x="234.3" y="301.4" font-size="8.6" text-anchor="middle" fill="#111">**</text>
<line x1="221.6" y1="300.0" x2="242.8" y2="300.0" stroke="#111" stroke-width="0.9"/>
<text x="228.7" y="314.0" font-size="7" text-anchor="middle" fill="#111">ns</text>
<line x1="217.2" y1="315.6" x2="238.4" y2="315.6" stroke="#111" stroke-width="0.9"/>
<rect x="226.4" y="272.0" width="3.2" height="3.3" fill="#fff" stroke="#111" stroke-width="0.9"/>
<rect x="226.4" y="279.2" width="3.2" height="3.3" fill="#111" stroke="#111" stroke-width="0.9"/>
<text x="230.6" y="276.6" font-size="8.6" text-anchor="start" font-weight="bold" font-style="italic" fill="#111" textLength="39.4" lengthAdjust="spacingAndGlyphs">p16Ink4a</text>
<text x="231.0" y="283.6" font-size="8.6" text-anchor="start" font-weight="bold" font-style="italic" fill="#111" textLength="28.2" lengthAdjust="spacingAndGlyphs">p19Arf</text>
<text x="147.3" y="324.8" font-size="7.6" text-anchor="middle" fill="#111" transform="rotate(-90 147.3 324.8)">Fold of change</text>
<text x="154.9" y="316.0" font-size="8.0" text-anchor="middle" fill="#111" transform="rotate(-90 154.9 316.0)">(normalized to GAPDH)</text>
<text x="166.4" y="371.6" font-size="7.8" text-anchor="start" fill="#111" textLength="23.0" lengthAdjust="spacingAndGlyphs" transform="rotate(-45 166.4 371.6)">vehicle</text>
<text x="182.0" y="376.4" font-size="7.8" text-anchor="start" fill="#111" textLength="32.5" lengthAdjust="spacingAndGlyphs" transform="rotate(-45 182.0 376.4)">UNC1999</text>
<text x="207.6" y="371.6" font-size="7.8" text-anchor="start" fill="#111" textLength="23.0" lengthAdjust="spacingAndGlyphs" transform="rotate(-45 207.6 371.6)">vehicle</text>
<text x="223.4" y="376.4" font-size="7.8" text-anchor="start" fill="#111" textLength="32.5" lengthAdjust="spacingAndGlyphs" transform="rotate(-45 223.4 376.4)">UNC1999</text>
<line x1="157.3" y1="377.5" x2="193.5" y2="377.5" stroke="#333" stroke-width="1.1"/>
<line x1="208.8" y1="377.5" x2="244.4" y2="377.5" stroke="#333" stroke-width="1.1"/>
<text x="172.8" y="388.2" font-size="9.3" text-anchor="middle" fill="#111">BM</text>
<text x="220.4" y="388.2" font-size="9.3" text-anchor="middle" fill="#111">SP</text>
<text x="275.2" y="271.0" font-size="12.5" text-anchor="start" font-weight="bold" fill="#000">H</text>
<rect x="308.6" y="270.8" width="84.09999999999997" height="91.59999999999997" fill="none" stroke="#333" stroke-width="0.9"/>
<line x1="305.1" y1="362.4" x2="308.6" y2="362.4" stroke="#333" stroke-width="0.8"/>
<text x="302.6" y="364.7" font-size="6.3" text-anchor="end" fill="#111">0</text>
<line x1="305.1" y1="347.12" x2="308.6" y2="347.12" stroke="#333" stroke-width="0.8"/>
<text x="302.6" y="349.42" font-size="6.3" text-anchor="end" fill="#111">20</text>
<line x1="305.1" y1="331.84" x2="308.6" y2="331.84" stroke="#333" stroke-width="0.8"/>
<text x="302.6" y="334.14" font-size="6.3" text-anchor="end" fill="#111">40</text>
<line x1="305.1" y1="316.56" x2="308.6" y2="316.56" stroke="#333" stroke-width="0.8"/>
<text x="302.6" y="318.86" font-size="6.3" text-anchor="end" fill="#111">60</text>
<line x1="305.1" y1="301.28" x2="308.6" y2="301.28" stroke="#333" stroke-width="0.8"/>
<text x="302.6" y="303.58" font-size="6.3" text-anchor="end" fill="#111">80</text>
<line x1="305.1" y1="286.0" x2="308.6" y2="286.0" stroke="#333" stroke-width="0.8"/>
<text x="302.6" y="288.3" font-size="6.3" text-anchor="end" fill="#111">100</text>
<line x1="336.5" y1="362.4" x2="336.5" y2="364.4" stroke="#333" stroke-width="0.8"/>
<line x1="364.5" y1="362.4" x2="364.5" y2="364.4" stroke="#333" stroke-width="0.8"/>
<rect x="314.70" y="328.78" width="6.80" height="33.62" fill="#fff" stroke="#111" stroke-width="0.95"/>
<line x1="318.1" y1="328.784" x2="318.1" y2="327.256" stroke="#111" stroke-width="0.8"/>
<line x1="316.6" y1="327.256" x2="319.6" y2="327.256" stroke="#111" stroke-width="0.8"/>
<line x1="318.1" y1="328.784" x2="318.1" y2="330.312" stroke="#111" stroke-width="0.8"/>
<line x1="316.6" y1="330.312" x2="319.6" y2="330.312" stroke="#111" stroke-width="0.8"/>
<rect x="322.00" y="308.92" width="7.20" height="53.48" fill="#111" stroke="#111" stroke-width="0.95"/>
<line x1="325.6" y1="308.92" x2="325.6" y2="303.572" stroke="#111" stroke-width="0.8"/>
<line x1="324.1" y1="303.572" x2="327.1" y2="303.572" stroke="#111" stroke-width="0.8"/>
<rect x="342.10" y="325.88" width="7.30" height="36.52" fill="#fff" stroke="#111" stroke-width="0.95"/>
<line x1="345.75" y1="325.88079999999997" x2="345.75" y2="323.5888" stroke="#111" stroke-width="0.8"/>
<line x1="344.25" y1="323.5888" x2="347.25" y2="323.5888" stroke="#111" stroke-width="0.8"/>
<line x1="345.75" y1="325.88079999999997" x2="345.75" y2="328.1728" stroke="#111" stroke-width="0.8"/>
<line x1="344.25" y1="328.1728" x2="347.25" y2="328.1728" stroke="#111" stroke-width="0.8"/>
<rect x="350.30" y="341.77" width="7.50" height="20.63" fill="#111" stroke="#111" stroke-width="0.95"/>
<line x1="354.05" y1="341.772" x2="354.05" y2="337.4172" stroke="#111" stroke-width="0.8"/>
<line x1="352.55" y1="337.4172" x2="355.55" y2="337.4172" stroke="#111" stroke-width="0.8"/>
<rect x="370.90" y="355.60" width="6.80" height="6.80" fill="#fff" stroke="#111" stroke-width="0.95"/>
<line x1="374.29999999999995" y1="355.6004" x2="374.29999999999995" y2="354.07239999999996" stroke="#111" stroke-width="0.8"/>
<line x1="372.79999999999995" y1="354.07239999999996" x2="375.79999999999995" y2="354.07239999999996" stroke="#111" stroke-width="0.8"/>
<line x1="374.29999999999995" y1="355.6004" x2="374.29999999999995" y2="357.1284" stroke="#111" stroke-width="0.8"/>
<line x1="372.79999999999995" y1="357.1284" x2="375.79999999999995" y2="357.1284" stroke="#111" stroke-width="0.8"/>
<rect x="377.70" y="359.34" width="7.80" height="3.06" fill="#111" stroke="#111" stroke-width="0.95"/>
<line x1="381.6" y1="359.344" x2="381.6" y2="358.58" stroke="#111" stroke-width="0.8"/>
<line x1="380.1" y1="358.58" x2="383.1" y2="358.58" stroke="#111" stroke-width="0.8"/>
<text x="321.2" y="303.9" font-size="8.6" text-anchor="middle" fill="#111">**</text>
<line x1="317.1" y1="302.3" x2="325.1" y2="302.3" stroke="#111" stroke-width="0.9"/>
<text x="351.8" y="322.09999999999997" font-size="8.6" text-anchor="middle" fill="#111">*</text>
<line x1="347.4" y1="320.5" x2="355.2" y2="320.5" stroke="#111" stroke-width="0.9"/>
<text x="381.8" y="352.9" font-size="8.6" text-anchor="middle" fill="#111">**</text>
<line x1="377.7" y1="351.5" x2="385.5" y2="351.5" stroke="#111" stroke-width="0.9"/>
<text x="323.6" y="283.6" font-size="10.2" text-anchor="start" font-weight="bold" fill="#111" textLength="64.3" lengthAdjust="spacingAndGlyphs">bone marrow</text>
<rect x="347.6" y="291.0" width="3.9" height="3.9" fill="#fff" stroke="#111" stroke-width="0.9"/>
<rect x="347.6" y="301.4" width="3.9" height="3.9" fill="#111" stroke="#111" stroke-width="0.9"/>
<text x="352.4" y="296.2" font-size="8.6" text-anchor="start" fill="#111" textLength="27.4" lengthAdjust="spacingAndGlyphs">Vehicle</text>
<text x="352.4" y="306.6" font-size="8.6" text-anchor="start" fill="#111" textLength="36.8" lengthAdjust="spacingAndGlyphs">UNC1999</text>
<text x="285.2" y="316.8" font-size="8.8" text-anchor="middle" fill="#111" transform="rotate(-90 285.2 316.8)">Percentage of cells</text>
<text x="323.2" y="374.6" font-size="9.0" text-anchor="middle" fill="#111">G0/G1</text>
<text x="350.0" y="374.6" font-size="9.0" text-anchor="middle" fill="#111">S</text>
<text x="383.0" y="374.6" font-size="9.0" text-anchor="middle" fill="#111">G2/M</text>
<text x="400.2" y="269.6" font-size="12.5" text-anchor="start" font-weight="bold" fill="#000">I</text>
<rect x="430.3" y="269.0" width="86.19999999999999" height="90.69999999999999" fill="none" stroke="#333" stroke-width="0.9"/>
<line x1="426.8" y1="359.7" x2="430.3" y2="359.7" stroke="#333" stroke-width="0.8"/>
<text x="424.6" y="362.0" font-size="6.3" text-anchor="end" fill="#111">0</text>
<line x1="426.8" y1="343.12" x2="430.3" y2="343.12" stroke="#333" stroke-width="0.8"/>
<text x="424.6" y="345.42" font-size="6.3" text-anchor="end" fill="#111">20</text>
<line x1="426.8" y1="326.54" x2="430.3" y2="326.54" stroke="#333" stroke-width="0.8"/>
<text x="424.6" y="328.84000000000003" font-size="6.3" text-anchor="end" fill="#111">40</text>
<line x1="426.8" y1="309.96000000000004" x2="430.3" y2="309.96000000000004" stroke="#333" stroke-width="0.8"/>
<text x="424.6" y="312.26000000000005" font-size="6.3" text-anchor="end" fill="#111">60</text>
<line x1="426.8" y1="293.38" x2="430.3" y2="293.38" stroke="#333" stroke-width="0.8"/>
<text x="424.6" y="295.68" font-size="6.3" text-anchor="end" fill="#111">80</text>
<line x1="426.8" y1="276.8" x2="430.3" y2="276.8" stroke="#333" stroke-width="0.8"/>
<text x="424.6" y="279.1" font-size="6.3" text-anchor="end" fill="#111">100</text>
<line x1="460.1" y1="359.7" x2="460.1" y2="361.7" stroke="#333" stroke-width="0.8"/>
<line x1="488.5" y1="359.7" x2="488.5" y2="361.7" stroke="#333" stroke-width="0.8"/>
<rect x="437.60" y="309.55" width="7.20" height="50.15" fill="#fff" stroke="#111" stroke-width="0.95"/>
<line x1="441.20000000000005" y1="309.5455" x2="441.20000000000005" y2="306.644" stroke="#111" stroke-width="0.8"/>
<line x1="439.70000000000005" y1="306.644" x2="442.70000000000005" y2="306.644" stroke="#111" stroke-width="0.8"/>
<line x1="441.20000000000005" y1="309.5455" x2="441.20000000000005" y2="312.447" stroke="#111" stroke-width="0.8"/>
<line x1="439.70000000000005" y1="312.447" x2="442.70000000000005" y2="312.447" stroke="#111" stroke-width="0.8"/>
<rect x="445.60" y="302.50" width="7.20" height="57.20" fill="#111" stroke="#111" stroke-width="0.95"/>
<line x1="449.20000000000005" y1="302.499" x2="449.20000000000005" y2="300.841" stroke="#111" stroke-width="0.8"/>
<line x1="447.70000000000005" y1="300.841" x2="450.70000000000005" y2="300.841" stroke="#111" stroke-width="0.8"/>
<rect x="466.70" y="329.03" width="6.50" height="30.67" fill="#fff" stroke="#111" stroke-width="0.95"/>
<line x1="469.95" y1="329.027" x2="469.95" y2="326.9545" stroke="#111" stroke-width="0.8"/>
<line x1="468.45" y1="326.9545" x2="471.45" y2="326.9545" stroke="#111" stroke-width="0.8"/>
<line x1="469.95" y1="329.027" x2="469.95" y2="331.0995" stroke="#111" stroke-width="0.8"/>
<line x1="468.45" y1="331.0995" x2="471.45" y2="331.0995" stroke="#111" stroke-width="0.8"/>
<rect x="474.70" y="335.24" width="6.50" height="24.46" fill="#111" stroke="#111" stroke-width="0.95"/>
<line x1="477.95" y1="335.2445" x2="477.95" y2="333.5865" stroke="#111" stroke-width="0.8"/>
<line x1="476.45" y1="333.5865" x2="479.45" y2="333.5865" stroke="#111" stroke-width="0.8"/>
<rect x="494.50" y="356.38" width="6.60" height="3.32" fill="#fff" stroke="#111" stroke-width="0.95"/>
<line x1="497.8" y1="356.384" x2="497.8" y2="355.555" stroke="#111" stroke-width="0.8"/>
<line x1="496.3" y1="355.555" x2="499.3" y2="355.555" stroke="#111" stroke-width="0.8"/>
<rect x="501.10" y="357.21" width="8.50" height="2.49" fill="#111" stroke="#111" stroke-width="0.95"/>
<line x1="505.35" y1="357.21299999999997" x2="505.35" y2="356.7985" stroke="#111" stroke-width="0.8"/>
<line x1="503.85" y1="356.7985" x2="506.85" y2="356.7985" stroke="#111" stroke-width="0.8"/>
<text x="445.6" y="299.09999999999997" font-size="8.6" text-anchor="middle" fill="#111">*</text>
<line x1="441.2" y1="297.4" x2="449.7" y2="297.4" stroke="#111" stroke-width="0.9"/>
<text x="476.4" y="327.0" font-size="8.6" text-anchor="middle" fill="#111">*</text>
<line x1="472.7" y1="325.3" x2="480.0" y2="325.3" stroke="#111" stroke-width="0.9"/>
<text x="503.0" y="351.0" font-size="7" text-anchor="middle" fill="#111">ns</text>
<line x1="499.5" y1="352.0" x2="506.5" y2="352.0" stroke="#111" stroke-width="0.9"/>
<text x="469.2" y="279.3" font-size="10.0" text-anchor="start" font-weight="bold" fill="#111" textLength="31.8" lengthAdjust="spacingAndGlyphs">spleen</text>
<rect x="468.6" y="287.0" width="3.8" height="3.8" fill="#fff" stroke="#111" stroke-width="0.9"/>
<rect x="468.6" y="295.0" width="3.8" height="3.8" fill="#111" stroke="#111" stroke-width="0.9"/>
<text x="473.3" y="291.4" font-size="8.2" text-anchor="start" fill="#111" textLength="28.0" lengthAdjust="spacingAndGlyphs">Vehicle</text>
<text x="473.3" y="299.6" font-size="8.2" text-anchor="start" fill="#111" textLength="37.4" lengthAdjust="spacingAndGlyphs">UNC1999</text>
<text x="411.6" y="315.0" font-size="9.0" text-anchor="middle" fill="#111" transform="rotate(-90 411.6 315.0)">Percentage of cells</text>
<text x="447.3" y="372.4" font-size="9.0" text-anchor="middle" fill="#111">G0/G1</text>
<text x="473.9" y="372.4" font-size="9.0" text-anchor="middle" fill="#111">S</text>
<text x="506.7" y="372.4" font-size="9.0" text-anchor="middle" fill="#111">G2/M</text>
<text x="373.2" y="7.8" font-size="12.5" text-anchor="start" font-weight="bold" fill="#000">B</text>
<text x="379.2" y="46.3" font-size="11.3" text-anchor="middle" fill="#111" textLength="35.0" lengthAdjust="spacingAndGlyphs" transform="rotate(-90 379.2 46.3)">vehicle</text>
<text x="379.2" y="122.2" font-size="11.3" text-anchor="middle" fill="#111" textLength="49.0" lengthAdjust="spacingAndGlyphs" transform="rotate(-90 379.2 122.2)">UNC1999</text>
<clipPath id="cb1"><rect x="383.2" y="8.6" width="106.40000000000003" height="73.4"/></clipPath>
<g clip-path="url(#cb1)">
<rect x="383.2" y="8.6" width="106.40000000000003" height="73.4" fill="#f2f2f7"/>
<g filter="url(#bl2)">
<circle cx="431.1" cy="49.9" r="2.1" fill="#d2d2e3" fill-opacity="0.65"/>
<circle cx="431.1" cy="72.8" r="1.4" fill="#f2f2f7" fill-opacity="0.65"/>
<circle cx="437.7" cy="55.4" r="2.0" fill="#c8c8dc" fill-opacity="0.65"/>
<circle cx="430.5" cy="17.6" r="1.7" fill="#cacbde" fill-opacity="0.65"/>
<circle cx="451.2" cy="52.7" r="1.6" fill="#d2d2e3" fill-opacity="0.65"/>
<circle cx="453.4" cy="54.2" r="1.4" fill="#c8c8dc" fill-opacity="0.65"/>
<circle cx="473.0" cy="11.5" r="1.2" fill="#cdcde0" fill-opacity="0.65"/>
<circle cx="447.4" cy="66.8" r="1.5" fill="#f7f7fa" fill-opacity="0.65"/>
<circle cx="474.2" cy="46.8" r="1.8" fill="#d2d2e3" fill-opacity="0.65"/>
<circle cx="381.7" cy="13.2" r="1.9" fill="#d2d2e3" fill-opacity="0.65"/>
<circle cx="491.3" cy="83.7" r="2.0" fill="#cacbde" fill-opacity="0.65"/>
<circle cx="409.2" cy="65.3" r="1.7" fill="#c8c8dc" fill-opacity="0.65"/>
<circle cx="389.0" cy="65.9" r="1.6" fill="#f2f2f7" fill-opacity="0.65"/>
<circle cx="413.3" cy="11.8" r="1.2" fill="#cacbde" fill-opacity="0.65"/>
<circle cx="381.3" cy="22.8" r="2.1" fill="#d2d2e3" fill-opacity="0.65"/>
<circle cx="422.7" cy="61.5" r="1.6" fill="#f7f7fa" fill-opacity="0.65"/>
<circle cx="450.7" cy="66.9" r="1.5" fill="#c8c8dc" fill-opacity="0.65"/>
<circle cx="415.6" cy="7.8" r="1.6" fill="#c8c8dc" fill-opacity="0.65"/>
<circle cx="396.1" cy="61.3" r="1.2" fill="#d2d2e3" fill-opacity="0.65"/>
<circle cx="469.2" cy="20.4" r="1.8" fill="#d2d2e3" fill-opacity="0.65"/>
<circle cx="437.4" cy="82.9" r="2.0" fill="#d2d2e3" fill-opacity="0.65"/>
<circle cx="452.3" cy="15.6" r="1.6" fill="#cdcde0" fill-opacity="0.65"/>
<circle cx="381.3" cy="73.5" r="2.2" fill="#f7f7fa" fill-opacity="0.65"/>
<circle cx="414.8" cy="75.1" r="1.4" fill="#d2d2e3" fill-opacity="0.65"/>
<circle cx="491.1" cy="53.2" r="1.8" fill="#c8c8dc" fill-opacity="0.65"/>
<circle cx="490.4" cy="23.1" r="1.5" fill="#f2f2f7" fill-opacity="0.65"/>
<circle cx="448.6" cy="70.9" r="1.6" fill="#c8c8dc" fill-opacity="0.65"/>
<circle cx="391.1" cy="51.7" r="1.4" fill="#f7f7fa" fill-opacity="0.65"/>
<circle cx="421.9" cy="54.8" r="1.3" fill="#f7f7fa" fill-opacity="0.65"/>
<circle cx="434.6" cy="51.1" r="2.1" fill="#cdcde0" fill-opacity="0.65"/>
<circle cx="450.4" cy="30.7" r="1.4" fill="#f7f7fa" fill-opacity="0.65"/>
<circle cx="408.7" cy="21.3" r="1.9" fill="#f7f7fa" fill-opacity="0.65"/>
<circle cx="402.9" cy="80.1" r="2.1" fill="#f7f7fa" fill-opacity="0.65"/>
<circle cx="389.9" cy="10.3" r="1.3" fill="#f7f7fa" fill-opacity="0.65"/>
<circle cx="487.5" cy="25.1" r="1.9" fill="#c4c5da" fill-opacity="0.65"/>
<circle cx="427.7" cy="76.6" r="1.7" fill="#f7f7fa" fill-opacity="0.65"/>
<circle cx="400.6" cy="62.4" r="1.3" fill="#cdcde0" fill-opacity="0.65"/>
<circle cx="434.1" cy="57.2" r="1.8" fill="#c8c8dc" fill-opacity="0.65"/>
<circle cx="412.1" cy="77.6" r="1.4" fill="#c8c8dc" fill-opacity="0.65"/>
<circle cx="388.8" cy="38.4" r="1.4" fill="#c8c8dc" fill-opacity="0.65"/>
<circle cx="400.7" cy="35.1" r="1.8" fill="#cdcde0" fill-opacity="0.65"/>
<circle cx="391.4" cy="17.3" r="1.7" fill="#c4c5da" fill-opacity="0.65"/>
<circle cx="453.7" cy="60.1" r="1.8" fill="#cdcde0" fill-opacity="0.65"/>
<circle cx="446.3" cy="78.1" r="1.7" fill="#c4c5da" fill-opacity="0.65"/>
<circle cx="458.6" cy="81.1" r="1.2" fill="#cacbde" fill-opacity="0.65"/>
<circle cx="389.5" cy="11.8" r="1.5" fill="#cdcde0" fill-opacity="0.65"/>
<circle cx="491.5" cy="12.4" r="1.7" fill="#cacbde" fill-opacity="0.65"/>
<circle cx="386.1" cy="79.1" r="1.9" fill="#cdcde0" fill-opacity="0.65"/>
<circle cx="468.8" cy="77.4" r="1.6" fill="#cacbde" fill-opacity="0.65"/>
<circle cx="433.4" cy="12.6" r="2.1" fill="#f2f2f7" fill-opacity="0.65"/>
<circle cx="384.5" cy="45.3" r="1.2" fill="#cacbde" fill-opacity="0.65"/>
<circle cx="423.4" cy="51.7" r="1.8" fill="#c8c8dc" fill-opacity="0.65"/>
<circle cx="391.2" cy="15.5" r="1.5" fill="#d2d2e3" fill-opacity="0.65"/>
<circle cx="461.6" cy="36.7" r="1.9" fill="#f7f7fa" fill-opacity="0.65"/>
<circle cx="431.7" cy="42.4" r="1.7" fill="#f7f7fa" fill-opacity="0.65"/>
<circle cx="464.0" cy="8.9" r="1.8" fill="#d2d2e3" fill-opacity="0.65"/>
<circle cx="383.7" cy="80.7" r="1.3" fill="#f2f2f7" fill-opacity="0.65"/>
<circle cx="449.0" cy="77.8" r="1.5" fill="#c8c8dc" fill-opacity="0.65"/>
<circle cx="421.8" cy="17.7" r="1.8" fill="#f7f7fa" fill-opacity="0.65"/>
<circle cx="399.9" cy="76.7" r="1.9" fill="#d2d2e3" fill-opacity="0.65"/>
<circle cx="436.2" cy="25.3" r="1.6" fill="#c4c5da" fill-opacity="0.65"/>
<circle cx="403.1" cy="40.0" r="2.0" fill="#cdcde0" fill-opacity="0.65"/>
<circle cx="478.4" cy="36.4" r="1.8" fill="#c4c5da" fill-opacity="0.65"/>
<circle cx="404.4" cy="17.0" r="1.6" fill="#f2f2f7" fill-opacity="0.65"/>
<circle cx="385.7" cy="11.6" r="2.2" fill="#f2f2f7" fill-opacity="0.65"/>
<circle cx="399.9" cy="41.5" r="1.5" fill="#cdcde0" fill-opacity="0.65"/>
<circle cx="472.9" cy="36.2" r="1.7" fill="#cacbde" fill-opacity="0.65"/>
<circle cx="416.0" cy="71.5" r="2.2" fill="#d2d2e3" fill-opacity="0.65"/>
<circle cx="416.6" cy="70.7" r="1.5" fill="#f7f7fa" fill-opacity="0.65"/>
<circle cx="385.8" cy="61.4" r="1.8" fill="#c4c5da" fill-opacity="0.65"/>
<circle cx="452.9" cy="50.3" r="1.8" fill="#d2d2e3" fill-opacity="0.65"/>
<circle cx="431.4" cy="8.5" r="2.0" fill="#cdcde0" fill-opacity="0.65"/>
<circle cx="467.2" cy="68.3" r="2.2" fill="#c8c8dc" fill-opacity="0.65"/>
<circle cx="430.5" cy="55.4" r="1.9" fill="#f2f2f7" fill-opacity="0.65"/>
<circle cx="421.9" cy="12.6" r="1.4" fill="#f2f2f7" fill-opacity="0.65"/>
<circle cx="433.7" cy="20.4" r="1.2" fill="#d2d2e3" fill-opacity="0.65"/>
<circle cx="440.2" cy="9.4" r="1.4" fill="#f2f2f7" fill-opacity="0.65"/>
<circle cx="419.4" cy="60.6" r="1.7" fill="#f7f7fa" fill-opacity="0.65"/>
<circle cx="491.2" cy="18.9" r="2.0" fill="#cacbde" fill-opacity="0.65"/>
<circle cx="481.2" cy="13.4" r="2.1" fill="#cacbde" fill-opacity="0.65"/>
<circle cx="424.0" cy="41.5" r="1.4" fill="#c8c8dc" fill-opacity="0.65"/>
<circle cx="422.8" cy="50.6" r="2.1" fill="#f2f2f7" fill-opacity="0.65"/>
<circle cx="471.7" cy="33.2" r="1.5" fill="#cdcde0" fill-opacity="0.65"/>
<circle cx="392.1" cy="73.6" r="2.0" fill="#cacbde" fill-opacity="0.65"/>
<circle cx="394.8" cy="25.4" r="1.6" fill="#c8c8dc" fill-opacity="0.65"/>
<circle cx="489.1" cy="48.2" r="2.0" fill="#c4c5da" fill-opacity="0.65"/>
<circle cx="410.1" cy="62.2" r="1.2" fill="#f7f7fa" fill-opacity="0.65"/>
<circle cx="390.3" cy="40.7" r="1.8" fill="#f2f2f7" fill-opacity="0.65"/>
<circle cx="411.6" cy="77.8" r="1.4" fill="#f2f2f7" fill-opacity="0.65"/>
<circle cx="388.3" cy="68.5" r="1.4" fill="#c4c5da" fill-opacity="0.65"/>
<circle cx="457.0" cy="77.5" r="1.7" fill="#f7f7fa" fill-opacity="0.65"/>
<circle cx="480.6" cy="46.7" r="1.9" fill="#d2d2e3" fill-opacity="0.65"/>
<circle cx="485.6" cy="44.7" r="2.1" fill="#c8c8dc" fill-opacity="0.65"/>
<circle cx="464.9" cy="40.6" r="1.8" fill="#f2f2f7" fill-opacity="0.65"/>
<circle cx="461.7" cy="56.0" r="1.7" fill="#f2f2f7" fill-opacity="0.65"/>
<circle cx="481.4" cy="26.5" r="1.9" fill="#f2f2f7" fill-opacity="0.65"/>
<circle cx="477.3" cy="53.8" r="1.5" fill="#cdcde0" fill-opacity="0.65"/>
<circle cx="488.1" cy="47.2" r="1.8" fill="#cdcde0" fill-opacity="0.65"/>
<circle cx="426.6" cy="15.4" r="1.2" fill="#d2d2e3" fill-opacity="0.65"/>
<circle cx="384.3" cy="81.6" r="1.7" fill="#d2d2e3" fill-opacity="0.65"/>
<circle cx="441.3" cy="83.2" r="1.3" fill="#c8c8dc" fill-opacity="0.65"/>
<circle cx="457.5" cy="11.7" r="1.7" fill="#d2d2e3" fill-opacity="0.65"/>
<circle cx="482.9" cy="68.6" r="1.6" fill="#cdcde0" fill-opacity="0.65"/>
<circle cx="433.4" cy="16.4" r="1.6" fill="#f2f2f7" fill-opacity="0.65"/>
<circle cx="484.5" cy="77.8" r="1.7" fill="#c8c8dc" fill-opacity="0.65"/>
<circle cx="402.3" cy="54.4" r="2.1" fill="#cdcde0" fill-opacity="0.65"/>
<circle cx="458.7" cy="82.2" r="1.2" fill="#cdcde0" fill-opacity="0.65"/>
<circle cx="406.3" cy="59.8" r="1.5" fill="#c4c5da" fill-opacity="0.65"/>
<circle cx="408.2" cy="45.2" r="1.7" fill="#f7f7fa" fill-opacity="0.65"/>
<circle cx="394.8" cy="46.1" r="1.5" fill="#cdcde0" fill-opacity="0.65"/>
<circle cx="458.6" cy="74.6" r="1.2" fill="#cacbde" fill-opacity="0.65"/>
<circle cx="426.8" cy="47.6" r="1.4" fill="#cdcde0" fill-opacity="0.65"/>
<circle cx="476.6" cy="47.9" r="1.4" fill="#cdcde0" fill-opacity="0.65"/>
<circle cx="475.2" cy="53.9" r="2.1" fill="#cdcde0" fill-opacity="0.65"/>
<circle cx="482.2" cy="55.2" r="1.5" fill="#cdcde0" fill-opacity="0.65"/>
<circle cx="416.1" cy="31.0" r="2.1" fill="#cdcde0" fill-opacity="0.65"/>
<circle cx="467.1" cy="21.7" r="1.3" fill="#cdcde0" fill-opacity="0.65"/>
<circle cx="395.8" cy="13.4" r="1.6" fill="#d2d2e3" fill-opacity="0.65"/>
<circle cx="473.1" cy="39.2" r="2.0" fill="#cdcde0" fill-opacity="0.65"/>
<circle cx="403.4" cy="55.2" r="2.0" fill="#c8c8dc" fill-opacity="0.65"/>
<circle cx="403.4" cy="59.4" r="2.1" fill="#c4c5da" fill-opacity="0.65"/>
<circle cx="393.9" cy="45.7" r="2.0" fill="#f7f7fa" fill-opacity="0.65"/>
<circle cx="491.4" cy="71.1" r="2.0" fill="#d2d2e3" fill-opacity="0.65"/>
<circle cx="392.9" cy="9.5" r="1.8" fill="#f7f7fa" fill-opacity="0.65"/>
<circle cx="481.1" cy="43.9" r="1.4" fill="#c8c8dc" fill-opacity="0.65"/>
<circle cx="403.7" cy="71.6" r="2.2" fill="#cacbde" fill-opacity="0.65"/>
<circle cx="391.7" cy="11.4" r="2.2" fill="#d2d2e3" fill-opacity="0.65"/>
<circle cx="389.8" cy="14.1" r="1.6" fill="#d2d2e3" fill-opacity="0.65"/>
<circle cx="438.1" cy="39.9" r="1.8" fill="#c8c8dc" fill-opacity="0.65"/>
<circle cx="451.2" cy="9.8" r="1.4" fill="#d2d2e3" fill-opacity="0.65"/>
<circle cx="431.3" cy="63.8" r="1.6" fill="#cdcde0" fill-opacity="0.65"/>
<circle cx="448.0" cy="13.9" r="2.0" fill="#c4c5da" fill-opacity="0.65"/>
<circle cx="479.8" cy="68.7" r="1.9" fill="#f2f2f7" fill-opacity="0.65"/>
<circle cx="481.5" cy="79.3" r="1.8" fill="#cdcde0" fill-opacity="0.65"/>
<circle cx="436.9" cy="82.7" r="2.0" fill="#c4c5da" fill-opacity="0.65"/>
<circle cx="412.1" cy="15.6" r="1.9" fill="#cdcde0" fill-opacity="0.65"/>
<circle cx="471.1" cy="38.0" r="2.1" fill="#f7f7fa" fill-opacity="0.65"/>
<circle cx="457.9" cy="66.0" r="2.0" fill="#d2d2e3" fill-opacity="0.65"/>
<circle cx="404.0" cy="20.9" r="2.0" fill="#c4c5da" fill-opacity="0.65"/>
<circle cx="433.0" cy="7.4" r="1.6" fill="#cacbde" fill-opacity="0.65"/>
<circle cx="480.9" cy="10.4" r="1.5" fill="#cacbde" fill-opacity="0.65"/>
<circle cx="414.2" cy="23.3" r="1.6" fill="#cdcde0" fill-opacity="0.65"/>
<circle cx="440.1" cy="36.8" r="2.2" fill="#cacbde" fill-opacity="0.65"/>
<circle cx="404.7" cy="15.9" r="1.6" fill="#f7f7fa" fill-opacity="0.65"/>
<circle cx="383.7" cy="54.2" r="1.9" fill="#c4c5da" fill-opacity="0.65"/>
<circle cx="430.2" cy="45.7" r="2.0" fill="#cacbde" fill-opacity="0.65"/>
<circle cx="422.7" cy="14.2" r="1.5" fill="#c4c5da" fill-opacity="0.65"/>
<circle cx="441.9" cy="45.9" r="2.2" fill="#f7f7fa" fill-opacity="0.65"/>
<circle cx="474.6" cy="14.3" r="1.6" fill="#cacbde" fill-opacity="0.65"/>
<circle cx="389.6" cy="52.8" r="2.0" fill="#c8c8dc" fill-opacity="0.65"/>
<circle cx="423.9" cy="79.2" r="1.6" fill="#cdcde0" fill-opacity="0.65"/>
<circle cx="475.7" cy="48.5" r="1.8" fill="#d2d2e3" fill-opacity="0.65"/>
<circle cx="485.6" cy="39.2" r="1.7" fill="#f7f7fa" fill-opacity="0.65"/>
<circle cx="415.7" cy="47.7" r="1.7" fill="#c4c5da" fill-opacity="0.65"/>
<circle cx="443.1" cy="28.5" r="1.9" fill="#c4c5da" fill-opacity="0.65"/>
<circle cx="384.2" cy="66.4" r="1.8" fill="#cacbde" fill-opacity="0.65"/>
<circle cx="398.5" cy="65.0" r="1.6" fill="#c4c5da" fill-opacity="0.65"/>
<circle cx="463.8" cy="10.5" r="2.2" fill="#c4c5da" fill-opacity="0.65"/>
<circle cx="389.3" cy="76.7" r="1.6" fill="#d2d2e3" fill-opacity="0.65"/>
<circle cx="408.9" cy="65.1" r="1.2" fill="#c8c8dc" fill-opacity="0.65"/>
<circle cx="484.7" cy="62.5" r="1.7" fill="#f2f2f7" fill-opacity="0.65"/>
<circle cx="408.3" cy="61.3" r="1.3" fill="#d2d2e3" fill-opacity="0.65"/>
<circle cx="431.5" cy="22.4" r="1.3" fill="#f7f7fa" fill-opacity="0.65"/>
<circle cx="398.3" cy="34.7" r="1.3" fill="#d2d2e3" fill-opacity="0.65"/>
<circle cx="431.5" cy="26.9" r="1.8" fill="#d2d2e3" fill-opacity="0.65"/>
<circle cx="421.4" cy="64.2" r="2.0" fill="#cdcde0" fill-opacity="0.65"/>
<circle cx="486.4" cy="63.4" r="1.4" fill="#c8c8dc" fill-opacity="0.65"/>
<circle cx="436.7" cy="30.5" r="1.7" fill="#f2f2f7" fill-opacity="0.65"/>
<circle cx="420.9" cy="27.6" r="1.9" fill="#f7f7fa" fill-opacity="0.65"/>
<circle cx="458.4" cy="21.3" r="1.5" fill="#cdcde0" fill-opacity="0.65"/>
<circle cx="402.2" cy="25.9" r="2.2" fill="#cdcde0" fill-opacity="0.65"/>
<circle cx="478.2" cy="9.7" r="1.3" fill="#c4c5da" fill-opacity="0.65"/>
<circle cx="409.9" cy="8.7" r="1.2" fill="#cdcde0" fill-opacity="0.65"/>
<circle cx="441.0" cy="12.2" r="1.3" fill="#cacbde" fill-opacity="0.65"/>
<circle cx="399.0" cy="24.8" r="2.2" fill="#d2d2e3" fill-opacity="0.65"/>
<circle cx="434.0" cy="22.9" r="1.5" fill="#cacbde" fill-opacity="0.65"/>
<circle cx="395.9" cy="73.9" r="2.0" fill="#d2d2e3" fill-opacity="0.65"/>
<circle cx="470.5" cy="54.9" r="2.0" fill="#cdcde0" fill-opacity="0.65"/>
<circle cx="430.3" cy="64.4" r="1.6" fill="#cdcde0" fill-opacity="0.65"/>
<circle cx="421.9" cy="57.2" r="2.2" fill="#c4c5da" fill-opacity="0.65"/>
<circle cx="413.3" cy="65.3" r="2.0" fill="#cdcde0" fill-opacity="0.65"/>
<circle cx="428.4" cy="35.2" r="1.3" fill="#c4c5da" fill-opacity="0.65"/>
<circle cx="389.9" cy="13.0" r="1.8" fill="#d2d2e3" fill-opacity="0.65"/>
<circle cx="471.2" cy="42.5" r="2.0" fill="#c8c8dc" fill-opacity="0.65"/>
<circle cx="389.6" cy="23.1" r="1.9" fill="#c8c8dc" fill-opacity="0.65"/>
<circle cx="457.9" cy="44.9" r="2.0" fill="#c4c5da" fill-opacity="0.65"/>
<circle cx="412.4" cy="17.7" r="1.6" fill="#cacbde" fill-opacity="0.65"/>
<circle cx="417.3" cy="76.7" r="1.5" fill="#d2d2e3" fill-opacity="0.65"/>
<circle cx="444.0" cy="77.7" r="2.1" fill="#c4c5da" fill-opacity="0.65"/>
<circle cx="429.6" cy="68.8" r="1.5" fill="#c4c5da" fill-opacity="0.65"/>
<circle cx="405.6" cy="81.5" r="1.9" fill="#f7f7fa" fill-opacity="0.65"/>
<circle cx="408.6" cy="34.6" r="1.6" fill="#c4c5da" fill-opacity="0.65"/>
<circle cx="455.9" cy="51.9" r="2.0" fill="#cacbde" fill-opacity="0.65"/>
<circle cx="443.4" cy="68.3" r="1.7" fill="#f2f2f7" fill-opacity="0.65"/>
<circle cx="446.5" cy="20.3" r="1.3" fill="#d2d2e3" fill-opacity="0.65"/>
<circle cx="478.5" cy="28.4" r="1.2" fill="#f7f7fa" fill-opacity="0.65"/>
<circle cx="387.6" cy="18.9" r="1.5" fill="#c8c8dc" fill-opacity="0.65"/>
<circle cx="453.1" cy="68.9" r="1.3" fill="#f7f7fa" fill-opacity="0.65"/>
<circle cx="414.9" cy="48.8" r="1.5" fill="#c4c5da" fill-opacity="0.65"/>
<circle cx="462.6" cy="76.2" r="1.3" fill="#cacbde" fill-opacity="0.65"/>
<circle cx="453.4" cy="14.1" r="2.0" fill="#d2d2e3" fill-opacity="0.65"/>
<circle cx="408.3" cy="23.7" r="2.0" fill="#f7f7fa" fill-opacity="0.65"/>
<circle cx="418.5" cy="42.1" r="1.6" fill="#f2f2f7" fill-opacity="0.65"/>
<circle cx="488.1" cy="58.6" r="1.7" fill="#f7f7fa" fill-opacity="0.65"/>
<circle cx="470.0" cy="12.2" r="1.8" fill="#c8c8dc" fill-opacity="0.65"/>
<circle cx="426.5" cy="70.6" r="1.9" fill="#f2f2f7" fill-opacity="0.65"/>
<circle cx="381.6" cy="35.9" r="1.3" fill="#d2d2e3" fill-opacity="0.65"/>
<circle cx="486.9" cy="56.2" r="1.7" fill="#cacbde" fill-opacity="0.65"/>
<circle cx="382.3" cy="15.1" r="2.1" fill="#cdcde0" fill-opacity="0.65"/>
<circle cx="408.3" cy="19.2" r="1.8" fill="#cacbde" fill-opacity="0.65"/>
<circle cx="399.7" cy="22.4" r="1.6" fill="#c4c5da" fill-opacity="0.65"/>
<circle cx="411.5" cy="75.2" r="1.7" fill="#cacbde" fill-opacity="0.65"/>
<circle cx="393.9" cy="56.8" r="2.0" fill="#cdcde0" fill-opacity="0.65"/>
<circle cx="481.9" cy="64.9" r="1.2" fill="#d2d2e3" fill-opacity="0.65"/>
<circle cx="481.6" cy="9.4" r="1.3" fill="#cdcde0" fill-opacity="0.65"/>
<circle cx="420.9" cy="52.1" r="1.8" fill="#d2d2e3" fill-opacity="0.65"/>
<circle cx="446.9" cy="23.9" r="1.4" fill="#c4c5da" fill-opacity="0.65"/>
<circle cx="425.6" cy="77.1" r="2.1" fill="#cacbde" fill-opacity="0.65"/>
<circle cx="441.7" cy="69.8" r="1.7" fill="#c4c5da" fill-opacity="0.65"/>
<circle cx="434.7" cy="37.8" r="2.2" fill="#cacbde" fill-opacity="0.65"/>
<circle cx="441.6" cy="80.7" r="1.7" fill="#cdcde0" fill-opacity="0.65"/>
<circle cx="425.3" cy="23.4" r="1.3" fill="#f2f2f7" fill-opacity="0.65"/>
<circle cx="423.7" cy="47.4" r="1.7" fill="#c4c5da" fill-opacity="0.65"/>
<circle cx="468.2" cy="11.1" r="2.1" fill="#c8c8dc" fill-opacity="0.65"/>
<circle cx="477.7" cy="76.7" r="1.7" fill="#cdcde0" fill-opacity="0.65"/>
<circle cx="459.9" cy="53.5" r="1.4" fill="#cdcde0" fill-opacity="0.65"/>
<circle cx="466.4" cy="17.8" r="2.1" fill="#f2f2f7" fill-opacity="0.65"/>
<circle cx="438.2" cy="55.9" r="2.2" fill="#c4c5da" fill-opacity="0.65"/>
<circle cx="438.2" cy="10.7" r="1.8" fill="#cdcde0" fill-opacity="0.65"/>
<circle cx="381.4" cy="70.2" r="2.0" fill="#f2f2f7" fill-opacity="0.65"/>
<circle cx="395.4" cy="33.8" r="1.8" fill="#f7f7fa" fill-opacity="0.65"/>
<circle cx="391.9" cy="43.8" r="1.7" fill="#cacbde" fill-opacity="0.65"/>
<circle cx="446.0" cy="73.0" r="1.5" fill="#f2f2f7" fill-opacity="0.65"/>
<circle cx="401.9" cy="21.5" r="1.9" fill="#f2f2f7" fill-opacity="0.65"/>
<circle cx="472.4" cy="22.7" r="1.7" fill="#f7f7fa" fill-opacity="0.65"/>
<circle cx="435.8" cy="79.9" r="2.2" fill="#c4c5da" fill-opacity="0.65"/>
<circle cx="415.5" cy="12.5" r="1.5" fill="#d2d2e3" fill-opacity="0.65"/>
<circle cx="454.9" cy="11.8" r="1.3" fill="#cdcde0" fill-opacity="0.65"/>
<circle cx="392.9" cy="37.1" r="1.7" fill="#f2f2f7" fill-opacity="0.65"/>
<circle cx="472.8" cy="57.2" r="1.2" fill="#d2d2e3" fill-opacity="0.65"/>
<circle cx="459.8" cy="43.4" r="1.5" fill="#c8c8dc" fill-opacity="0.65"/>
<circle cx="431.8" cy="7.4" r="2.2" fill="#f2f2f7" fill-opacity="0.65"/>
<circle cx="460.6" cy="76.4" r="1.4" fill="#cacbde" fill-opacity="0.65"/>
<circle cx="422.7" cy="48.4" r="1.5" fill="#c4c5da" fill-opacity="0.65"/>
<circle cx="464.5" cy="49.6" r="1.3" fill="#cdcde0" fill-opacity="0.65"/>
<circle cx="403.3" cy="63.2" r="1.5" fill="#c4c5da" fill-opacity="0.65"/>
<circle cx="443.3" cy="62.6" r="1.5" fill="#f2f2f7" fill-opacity="0.65"/>
<circle cx="423.4" cy="14.5" r="1.8" fill="#cdcde0" fill-opacity="0.65"/>
<circle cx="456.0" cy="61.4" r="1.4" fill="#d2d2e3" fill-opacity="0.65"/>
<circle cx="385.2" cy="42.4" r="1.9" fill="#c8c8dc" fill-opacity="0.65"/>
<circle cx="406.2" cy="18.8" r="1.3" fill="#d2d2e3" fill-opacity="0.65"/>
<circle cx="466.3" cy="33.0" r="2.0" fill="#f7f7fa" fill-opacity="0.65"/>
<circle cx="396.6" cy="22.5" r="1.3" fill="#cacbde" fill-opacity="0.65"/>
<circle cx="423.8" cy="32.3" r="1.6" fill="#c8c8dc" fill-opacity="0.65"/>
<circle cx="461.5" cy="54.1" r="1.5" fill="#f2f2f7" fill-opacity="0.65"/>
<circle cx="468.4" cy="57.7" r="1.8" fill="#c8c8dc" fill-opacity="0.65"/>
<circle cx="410.0" cy="21.2" r="1.5" fill="#d2d2e3" fill-opacity="0.65"/>
<circle cx="392.9" cy="35.8" r="1.7" fill="#f2f2f7" fill-opacity="0.65"/>
<circle cx="413.6" cy="14.5" r="1.9" fill="#c4c5da" fill-opacity="0.65"/>
<circle cx="465.8" cy="76.5" r="1.7" fill="#c4c5da" fill-opacity="0.65"/>
<circle cx="448.8" cy="46.3" r="1.8" fill="#cdcde0" fill-opacity="0.65"/>
<circle cx="490.1" cy="46.5" r="1.9" fill="#f2f2f7" fill-opacity="0.65"/>
<circle cx="484.5" cy="50.5" r="1.2" fill="#cacbde" fill-opacity="0.65"/>
<circle cx="403.0" cy="13.0" r="1.4" fill="#f7f7fa" fill-opacity="0.65"/>
<circle cx="427.3" cy="32.4" r="1.3" fill="#f2f2f7" fill-opacity="0.65"/>
<circle cx="421.1" cy="42.4" r="1.3" fill="#cacbde" fill-opacity="0.65"/>
<circle cx="396.2" cy="76.6" r="1.7" fill="#f7f7fa" fill-opacity="0.65"/>
<circle cx="388.2" cy="77.4" r="1.4" fill="#cacbde" fill-opacity="0.65"/>
<circle cx="490.7" cy="69.9" r="1.8" fill="#c8c8dc" fill-opacity="0.65"/>
<circle cx="484.3" cy="6.9" r="1.9" fill="#c4c5da" fill-opacity="0.65"/>
<circle cx="407.8" cy="51.0" r="2.0" fill="#cdcde0" fill-opacity="0.65"/>
<circle cx="447.2" cy="69.4" r="1.7" fill="#d2d2e3" fill-opacity="0.65"/>
<circle cx="401.1" cy="83.0" r="2.1" fill="#cacbde" fill-opacity="0.65"/>
<circle cx="396.5" cy="65.1" r="2.0" fill="#d2d2e3" fill-opacity="0.65"/>
<circle cx="449.1" cy="56.2" r="2.0" fill="#cdcde0" fill-opacity="0.65"/>
<circle cx="403.2" cy="42.8" r="1.3" fill="#d2d2e3" fill-opacity="0.65"/>
<circle cx="394.3" cy="38.0" r="1.5" fill="#cdcde0" fill-opacity="0.65"/>
<circle cx="410.3" cy="50.6" r="1.5" fill="#cacbde" fill-opacity="0.65"/>
<circle cx="467.8" cy="62.5" r="2.0" fill="#d2d2e3" fill-opacity="0.65"/>
<circle cx="487.1" cy="53.0" r="1.7" fill="#d2d2e3" fill-opacity="0.65"/>
<circle cx="480.2" cy="77.3" r="1.8" fill="#d2d2e3" fill-opacity="0.65"/>
<circle cx="464.2" cy="44.2" r="2.2" fill="#f2f2f7" fill-opacity="0.65"/>
<circle cx="481.2" cy="60.0" r="2.0" fill="#c8c8dc" fill-opacity="0.65"/>
<circle cx="443.7" cy="76.7" r="1.7" fill="#f7f7fa" fill-opacity="0.65"/>
<circle cx="438.7" cy="39.1" r="1.2" fill="#c8c8dc" fill-opacity="0.65"/>
<circle cx="413.9" cy="54.3" r="1.6" fill="#d2d2e3" fill-opacity="0.65"/>
<circle cx="447.2" cy="64.8" r="1.5" fill="#f7f7fa" fill-opacity="0.65"/>
<circle cx="478.0" cy="25.5" r="2.0" fill="#cdcde0" fill-opacity="0.65"/>
<circle cx="436.7" cy="37.3" r="1.3" fill="#cacbde" fill-opacity="0.65"/>
<circle cx="392.8" cy="77.0" r="1.7" fill="#cacbde" fill-opacity="0.65"/>
<circle cx="424.9" cy="24.9" r="1.3" fill="#cacbde" fill-opacity="0.65"/>
<circle cx="487.9" cy="58.1" r="2.1" fill="#d2d2e3" fill-opacity="0.65"/>
<circle cx="443.5" cy="19.3" r="1.8" fill="#d2d2e3" fill-opacity="0.65"/>
<circle cx="443.8" cy="76.5" r="1.3" fill="#f2f2f7" fill-opacity="0.65"/>
<circle cx="395.5" cy="74.9" r="1.8" fill="#d2d2e3" fill-opacity="0.65"/>
<circle cx="381.3" cy="25.5" r="1.5" fill="#c4c5da" fill-opacity="0.65"/>
<circle cx="400.2" cy="40.7" r="1.7" fill="#f7f7fa" fill-opacity="0.65"/>
<circle cx="425.1" cy="34.2" r="1.8" fill="#c8c8dc" fill-opacity="0.65"/>
<circle cx="415.0" cy="41.8" r="1.5" fill="#c4c5da" fill-opacity="0.65"/>
<circle cx="436.2" cy="78.9" r="2.2" fill="#d2d2e3" fill-opacity="0.65"/>
<circle cx="478.2" cy="22.3" r="2.1" fill="#cacbde" fill-opacity="0.65"/>
<circle cx="480.2" cy="21.7" r="2.0" fill="#c4c5da" fill-opacity="0.65"/>
<circle cx="480.5" cy="7.8" r="1.8" fill="#cacbde" fill-opacity="0.65"/>
<circle cx="491.1" cy="22.2" r="1.8" fill="#cdcde0" fill-opacity="0.65"/>
<circle cx="486.0" cy="82.2" r="1.9" fill="#c4c5da" fill-opacity="0.65"/>
<circle cx="461.3" cy="30.8" r="2.1" fill="#f2f2f7" fill-opacity="0.65"/>
<circle cx="427.6" cy="74.6" r="1.5" fill="#f2f2f7" fill-opacity="0.65"/>
<circle cx="430.3" cy="12.7" r="1.4" fill="#c4c5da" fill-opacity="0.65"/>
<circle cx="394.5" cy="60.1" r="1.5" fill="#cacbde" fill-opacity="0.65"/>
<circle cx="407.2" cy="58.0" r="2.0" fill="#c4c5da" fill-opacity="0.65"/>
<circle cx="469.9" cy="47.2" r="1.3" fill="#f7f7fa" fill-opacity="0.65"/>
<circle cx="406.5" cy="29.9" r="2.1" fill="#cacbde" fill-opacity="0.65"/>
<circle cx="406.1" cy="16.9" r="1.9" fill="#d2d2e3" fill-opacity="0.65"/>
<circle cx="489.7" cy="40.7" r="1.7" fill="#f7f7fa" fill-opacity="0.65"/>
<circle cx="481.4" cy="7.1" r="1.8" fill="#f7f7fa" fill-opacity="0.65"/>
<circle cx="408.9" cy="68.8" r="1.3" fill="#c4c5da" fill-opacity="0.65"/>
<circle cx="490.3" cy="21.3" r="1.4" fill="#cacbde" fill-opacity="0.65"/>
<circle cx="441.7" cy="21.0" r="2.1" fill="#c8c8dc" fill-opacity="0.65"/>
<circle cx="449.9" cy="77.5" r="1.8" fill="#c8c8dc" fill-opacity="0.65"/>
<circle cx="483.8" cy="45.3" r="1.4" fill="#f7f7fa" fill-opacity="0.65"/>
<circle cx="467.0" cy="77.0" r="1.5" fill="#d2d2e3" fill-opacity="0.65"/>
<circle cx="467.6" cy="46.6" r="1.7" fill="#f2f2f7" fill-opacity="0.65"/>
<circle cx="451.3" cy="82.7" r="1.9" fill="#f7f7fa" fill-opacity="0.65"/>
<circle cx="400.4" cy="66.9" r="1.4" fill="#f7f7fa" fill-opacity="0.65"/>
<circle cx="429.3" cy="58.3" r="1.7" fill="#c4c5da" fill-opacity="0.65"/>
<circle cx="468.0" cy="67.8" r="1.4" fill="#d2d2e3" fill-opacity="0.65"/>
<circle cx="441.3" cy="72.6" r="1.8" fill="#c4c5da" fill-opacity="0.65"/>
<circle cx="385.1" cy="52.8" r="1.9" fill="#f7f7fa" fill-opacity="0.65"/>
<circle cx="430.7" cy="74.8" r="1.5" fill="#f7f7fa" fill-opacity="0.65"/>
<circle cx="383.2" cy="45.0" r="1.6" fill="#d2d2e3" fill-opacity="0.65"/>
<circle cx="461.0" cy="72.9" r="1.2" fill="#c8c8dc" fill-opacity="0.65"/>
<circle cx="481.4" cy="50.6" r="1.7" fill="#f2f2f7" fill-opacity="0.65"/>
<circle cx="460.9" cy="54.8" r="1.3" fill="#d2d2e3" fill-opacity="0.65"/>
<circle cx="385.9" cy="30.9" r="1.8" fill="#f7f7fa" fill-opacity="0.65"/>
<circle cx="467.4" cy="65.8" r="1.7" fill="#cacbde" fill-opacity="0.65"/>
<circle cx="471.8" cy="19.9" r="1.5" fill="#cdcde0" fill-opacity="0.65"/>
<circle cx="436.1" cy="57.6" r="1.8" fill="#d2d2e3" fill-opacity="0.65"/>
<circle cx="388.0" cy="38.4" r="1.6" fill="#cdcde0" fill-opacity="0.65"/>
<circle cx="458.9" cy="80.7" r="1.3" fill="#f2f2f7" fill-opacity="0.65"/>
<circle cx="465.2" cy="82.9" r="1.3" fill="#d2d2e3" fill-opacity="0.65"/>
<circle cx="438.8" cy="82.9" r="1.2" fill="#d2d2e3" fill-opacity="0.65"/>
<circle cx="479.5" cy="17.6" r="1.6" fill="#c4c5da" fill-opacity="0.65"/>
<circle cx="433.3" cy="79.0" r="2.2" fill="#cacbde" fill-opacity="0.65"/>
<circle cx="491.2" cy="65.7" r="1.9" fill="#cdcde0" fill-opacity="0.65"/>
<circle cx="413.8" cy="15.8" r="2.1" fill="#d2d2e3" fill-opacity="0.65"/>
<circle cx="432.2" cy="78.8" r="1.6" fill="#c4c5da" fill-opacity="0.65"/>
<circle cx="485.7" cy="78.1" r="1.4" fill="#cdcde0" fill-opacity="0.65"/>
<circle cx="425.7" cy="56.9" r="1.3" fill="#c4c5da" fill-opacity="0.65"/>
<circle cx="443.8" cy="77.2" r="2.1" fill="#cdcde0" fill-opacity="0.65"/>
<circle cx="432.3" cy="37.0" r="2.0" fill="#d2d2e3" fill-opacity="0.65"/>
<circle cx="423.0" cy="10.4" r="1.6" fill="#cdcde0" fill-opacity="0.65"/>
<circle cx="401.5" cy="49.1" r="1.4" fill="#cdcde0" fill-opacity="0.65"/>
<circle cx="425.4" cy="52.6" r="2.0" fill="#d2d2e3" fill-opacity="0.65"/>
<circle cx="430.6" cy="83.5" r="1.9" fill="#f2f2f7" fill-opacity="0.65"/>
<circle cx="435.0" cy="48.4" r="1.6" fill="#c8c8dc" fill-opacity="0.65"/>
<circle cx="457.5" cy="34.7" r="1.5" fill="#c8c8dc" fill-opacity="0.65"/>
<circle cx="438.5" cy="64.0" r="1.7" fill="#f7f7fa" fill-opacity="0.65"/>
<circle cx="483.2" cy="62.0" r="1.5" fill="#c4c5da" fill-opacity="0.65"/>
<circle cx="387.5" cy="63.0" r="2.0" fill="#cdcde0" fill-opacity="0.65"/>
<circle cx="465.7" cy="62.6" r="2.1" fill="#c8c8dc" fill-opacity="0.65"/>
<circle cx="491.4" cy="71.5" r="1.6" fill="#f2f2f7" fill-opacity="0.65"/>
<circle cx="478.6" cy="31.8" r="2.0" fill="#f7f7fa" fill-opacity="0.65"/>
<circle cx="455.1" cy="30.0" r="1.8" fill="#d2d2e3" fill-opacity="0.65"/>
<circle cx="385.7" cy="18.3" r="1.8" fill="#c8c8dc" fill-opacity="0.65"/>
<circle cx="404.2" cy="38.4" r="1.7" fill="#cacbde" fill-opacity="0.65"/>
<circle cx="396.2" cy="61.3" r="1.5" fill="#cacbde" fill-opacity="0.65"/>
<circle cx="431.1" cy="35.8" r="2.1" fill="#f2f2f7" fill-opacity="0.65"/>
<circle cx="412.1" cy="61.8" r="1.6" fill="#d2d2e3" fill-opacity="0.65"/>
<circle cx="438.3" cy="34.1" r="1.3" fill="#c4c5da" fill-opacity="0.65"/>
<circle cx="419.3" cy="23.3" r="1.2" fill="#c8c8dc" fill-opacity="0.65"/>
<circle cx="463.7" cy="44.0" r="1.2" fill="#f2f2f7" fill-opacity="0.65"/>
<circle cx="488.9" cy="29.7" r="1.9" fill="#f2f2f7" fill-opacity="0.65"/>
<circle cx="405.1" cy="59.9" r="1.9" fill="#f2f2f7" fill-opacity="0.65"/>
<circle cx="477.1" cy="24.8" r="1.8" fill="#c8c8dc" fill-opacity="0.65"/>
<circle cx="469.5" cy="15.9" r="1.7" fill="#d2d2e3" fill-opacity="0.65"/>
<circle cx="423.5" cy="32.0" r="1.7" fill="#c4c5da" fill-opacity="0.65"/>
<circle cx="405.7" cy="78.2" r="1.4" fill="#f2f2f7" fill-opacity="0.65"/>
<circle cx="399.6" cy="58.1" r="1.4" fill="#c8c8dc" fill-opacity="0.65"/>
<circle cx="463.2" cy="76.8" r="2.0" fill="#d2d2e3" fill-opacity="0.65"/>
<circle cx="445.5" cy="60.9" r="1.8" fill="#cacbde" fill-opacity="0.65"/>
<circle cx="482.2" cy="76.5" r="1.3" fill="#c8c8dc" fill-opacity="0.65"/>
<circle cx="481.9" cy="27.7" r="1.6" fill="#f2f2f7" fill-opacity="0.65"/>
<circle cx="445.9" cy="42.9" r="1.5" fill="#c4c5da" fill-opacity="0.65"/>
<circle cx="389.2" cy="9.3" r="1.5" fill="#c4c5da" fill-opacity="0.65"/>
<circle cx="443.7" cy="26.9" r="1.9" fill="#cdcde0" fill-opacity="0.65"/>
<circle cx="452.1" cy="36.4" r="1.5" fill="#c4c5da" fill-opacity="0.65"/>
<circle cx="384.6" cy="61.3" r="1.4" fill="#c8c8dc" fill-opacity="0.65"/>
<circle cx="450.5" cy="54.7" r="1.6" fill="#d2d2e3" fill-opacity="0.65"/>
<circle cx="388.2" cy="11.9" r="1.7" fill="#d2d2e3" fill-opacity="0.65"/>
<circle cx="423.4" cy="77.0" r="1.2" fill="#cdcde0" fill-opacity="0.65"/>
<circle cx="456.7" cy="27.7" r="1.7" fill="#d2d2e3" fill-opacity="0.65"/>
<circle cx="489.1" cy="18.2" r="1.4" fill="#cdcde0" fill-opacity="0.65"/>
<circle cx="409.7" cy="23.6" r="1.7" fill="#f7f7fa" fill-opacity="0.65"/>
<circle cx="489.4" cy="6.9" r="1.7" fill="#f2f2f7" fill-opacity="0.65"/>
<circle cx="453.0" cy="49.0" r="1.8" fill="#f7f7fa" fill-opacity="0.65"/>
<circle cx="478.8" cy="60.1" r="2.0" fill="#c4c5da" fill-opacity="0.65"/>
<circle cx="419.5" cy="75.2" r="1.5" fill="#cacbde" fill-opacity="0.65"/>
<circle cx="404.2" cy="37.3" r="1.4" fill="#cdcde0" fill-opacity="0.65"/>
<circle cx="472.2" cy="18.9" r="1.8" fill="#d2d2e3" fill-opacity="0.65"/>
<circle cx="470.1" cy="29.3" r="1.6" fill="#c4c5da" fill-opacity="0.65"/>
<circle cx="463.9" cy="47.9" r="1.4" fill="#cdcde0" fill-opacity="0.65"/>
<circle cx="421.2" cy="61.3" r="2.1" fill="#cacbde" fill-opacity="0.65"/>
<circle cx="395.1" cy="11.5" r="1.3" fill="#c8c8dc" fill-opacity="0.65"/>
<circle cx="479.0" cy="30.6" r="2.0" fill="#f7f7fa" fill-opacity="0.65"/>
<circle cx="466.4" cy="43.8" r="1.4" fill="#f2f2f7" fill-opacity="0.65"/>
<circle cx="426.8" cy="43.9" r="1.5" fill="#d2d2e3" fill-opacity="0.65"/>
<circle cx="437.2" cy="68.2" r="1.6" fill="#cacbde" fill-opacity="0.65"/>
<circle cx="451.3" cy="35.1" r="1.9" fill="#cdcde0" fill-opacity="0.65"/>
<circle cx="418.1" cy="65.4" r="2.0" fill="#f2f2f7" fill-opacity="0.65"/>
<circle cx="395.5" cy="82.7" r="1.8" fill="#cdcde0" fill-opacity="0.65"/>
<circle cx="450.0" cy="70.9" r="2.0" fill="#cdcde0" fill-opacity="0.65"/>
<circle cx="403.4" cy="54.7" r="1.5" fill="#cacbde" fill-opacity="0.65"/>
<circle cx="401.6" cy="7.7" r="1.8" fill="#f2f2f7" fill-opacity="0.65"/>
<circle cx="488.3" cy="17.0" r="1.9" fill="#d2d2e3" fill-opacity="0.65"/>
<circle cx="409.0" cy="58.1" r="1.6" fill="#cacbde" fill-opacity="0.65"/>
<circle cx="490.4" cy="10.4" r="1.9" fill="#c8c8dc" fill-opacity="0.65"/>
<circle cx="477.3" cy="21.6" r="1.6" fill="#f7f7fa" fill-opacity="0.65"/>
<circle cx="490.9" cy="15.9" r="1.5" fill="#c8c8dc" fill-opacity="0.65"/>
<circle cx="473.1" cy="72.8" r="1.4" fill="#c8c8dc" fill-opacity="0.65"/>
<circle cx="415.3" cy="68.6" r="2.0" fill="#c4c5da" fill-opacity="0.65"/>
<circle cx="405.9" cy="62.5" r="1.6" fill="#cdcde0" fill-opacity="0.65"/>
<circle cx="489.5" cy="36.7" r="1.9" fill="#f7f7fa" fill-opacity="0.65"/>
<circle cx="412.4" cy="73.7" r="1.6" fill="#f2f2f7" fill-opacity="0.65"/>
<circle cx="393.0" cy="78.9" r="1.5" fill="#d2d2e3" fill-opacity="0.65"/>
<circle cx="429.0" cy="18.4" r="2.1" fill="#c4c5da" fill-opacity="0.65"/>
<circle cx="443.7" cy="17.7" r="1.8" fill="#c4c5da" fill-opacity="0.65"/>
<circle cx="416.8" cy="12.9" r="1.4" fill="#f7f7fa" fill-opacity="0.65"/>
<circle cx="409.9" cy="10.6" r="1.3" fill="#f2f2f7" fill-opacity="0.65"/>
<circle cx="415.4" cy="12.7" r="1.4" fill="#d2d2e3" fill-opacity="0.65"/>
<circle cx="396.6" cy="67.7" r="2.2" fill="#d2d2e3" fill-opacity="0.65"/>
<circle cx="434.7" cy="38.7" r="2.0" fill="#d2d2e3" fill-opacity="0.65"/>
<circle cx="442.7" cy="23.2" r="1.8" fill="#f2f2f7" fill-opacity="0.65"/>
<circle cx="450.0" cy="28.0" r="2.1" fill="#f2f2f7" fill-opacity="0.65"/>
<circle cx="408.8" cy="68.9" r="1.8" fill="#cacbde" fill-opacity="0.65"/>
<circle cx="386.4" cy="73.0" r="2.1" fill="#f7f7fa" fill-opacity="0.65"/>
<circle cx="394.3" cy="12.4" r="1.6" fill="#f2f2f7" fill-opacity="0.65"/>
<circle cx="442.6" cy="11.5" r="1.7" fill="#cdcde0" fill-opacity="0.65"/>
<circle cx="388.2" cy="34.8" r="2.0" fill="#c4c5da" fill-opacity="0.65"/>
<circle cx="470.6" cy="67.9" r="1.9" fill="#d2d2e3" fill-opacity="0.65"/>
<circle cx="415.2" cy="47.7" r="1.9" fill="#f2f2f7" fill-opacity="0.65"/>
<circle cx="490.0" cy="14.4" r="2.2" fill="#d2d2e3" fill-opacity="0.65"/>
<circle cx="473.9" cy="38.2" r="2.1" fill="#f7f7fa" fill-opacity="0.65"/>
<circle cx="383.8" cy="51.2" r="1.4" fill="#d2d2e3" fill-opacity="0.65"/>
<circle cx="461.2" cy="45.8" r="1.5" fill="#c4c5da" fill-opacity="0.65"/>
<circle cx="450.4" cy="41.4" r="1.5" fill="#c8c8dc" fill-opacity="0.65"/>
<circle cx="481.1" cy="31.5" r="1.3" fill="#c4c5da" fill-opacity="0.65"/>
<circle cx="404.8" cy="20.5" r="1.2" fill="#cdcde0" fill-opacity="0.65"/>
<circle cx="441.5" cy="59.2" r="1.4" fill="#c8c8dc" fill-opacity="0.65"/>
<circle cx="398.4" cy="35.5" r="1.4" fill="#c8c8dc" fill-opacity="0.65"/>
<circle cx="382.2" cy="45.5" r="1.6" fill="#c4c5da" fill-opacity="0.65"/>
<circle cx="486.1" cy="71.6" r="2.0" fill="#c8c8dc" fill-opacity="0.65"/>
<circle cx="478.4" cy="31.4" r="2.0" fill="#c8c8dc" fill-opacity="0.65"/>
<circle cx="445.1" cy="31.5" r="1.7" fill="#cdcde0" fill-opacity="0.65"/>
<circle cx="436.3" cy="67.0" r="2.1" fill="#f2f2f7" fill-opacity="0.65"/>
<circle cx="411.4" cy="59.0" r="2.1" fill="#c4c5da" fill-opacity="0.65"/>
<circle cx="478.5" cy="66.8" r="1.7" fill="#c8c8dc" fill-opacity="0.65"/>
<circle cx="397.6" cy="55.7" r="1.6" fill="#cacbde" fill-opacity="0.65"/>
<circle cx="387.3" cy="54.3" r="1.5" fill="#d2d2e3" fill-opacity="0.65"/>
<circle cx="475.7" cy="55.3" r="1.7" fill="#f7f7fa" fill-opacity="0.65"/>
<circle cx="483.3" cy="16.0" r="1.9" fill="#cacbde" fill-opacity="0.65"/>
<circle cx="431.2" cy="58.1" r="1.6" fill="#d2d2e3" fill-opacity="0.65"/>
<circle cx="436.6" cy="35.7" r="1.7" fill="#c8c8dc" fill-opacity="0.65"/>
<circle cx="438.1" cy="9.1" r="1.8" fill="#d2d2e3" fill-opacity="0.65"/>
<circle cx="412.6" cy="10.2" r="1.3" fill="#c4c5da" fill-opacity="0.65"/>
<circle cx="398.0" cy="42.9" r="2.2" fill="#cacbde" fill-opacity="0.65"/>
<circle cx="450.0" cy="21.2" r="1.7" fill="#f7f7fa" fill-opacity="0.65"/>
<circle cx="425.6" cy="73.7" r="1.3" fill="#d2d2e3" fill-opacity="0.65"/>
<circle cx="393.5" cy="21.1" r="2.1" fill="#f2f2f7" fill-opacity="0.65"/>
<circle cx="484.7" cy="70.8" r="2.0" fill="#f7f7fa" fill-opacity="0.65"/>
<circle cx="409.0" cy="26.8" r="1.4" fill="#c8c8dc" fill-opacity="0.65"/>
<circle cx="459.8" cy="26.0" r="2.0" fill="#d2d2e3" fill-opacity="0.65"/>
<circle cx="404.1" cy="7.7" r="1.6" fill="#d2d2e3" fill-opacity="0.65"/>
<circle cx="412.1" cy="56.4" r="1.3" fill="#f7f7fa" fill-opacity="0.65"/>
<circle cx="429.8" cy="65.2" r="2.1" fill="#c8c8dc" fill-opacity="0.65"/>
<circle cx="469.5" cy="72.8" r="2.0" fill="#f7f7fa" fill-opacity="0.65"/>
<circle cx="488.6" cy="11.7" r="2.1" fill="#f2f2f7" fill-opacity="0.65"/>
<circle cx="421.6" cy="14.4" r="1.2" fill="#c4c5da" fill-opacity="0.65"/>
<circle cx="486.7" cy="23.6" r="1.5" fill="#d2d2e3" fill-opacity="0.65"/>
<circle cx="401.3" cy="36.7" r="2.0" fill="#f7f7fa" fill-opacity="0.65"/>
<circle cx="432.6" cy="44.5" r="1.3" fill="#cacbde" fill-opacity="0.65"/>
<circle cx="404.0" cy="55.3" r="2.1" fill="#cacbde" fill-opacity="0.65"/>
<circle cx="488.3" cy="49.9" r="2.2" fill="#d2d2e3" fill-opacity="0.65"/>
<circle cx="382.9" cy="32.9" r="1.5" fill="#cacbde" fill-opacity="0.65"/>
<circle cx="485.6" cy="57.6" r="1.4" fill="#cdcde0" fill-opacity="0.65"/>
<circle cx="401.1" cy="16.5" r="1.9" fill="#d2d2e3" fill-opacity="0.65"/>
<circle cx="385.8" cy="28.1" r="1.5" fill="#c4c5da" fill-opacity="0.65"/>
<circle cx="448.5" cy="34.3" r="1.4" fill="#c8c8dc" fill-opacity="0.65"/>
<circle cx="457.6" cy="63.6" r="1.6" fill="#c4c5da" fill-opacity="0.65"/>
<circle cx="466.2" cy="22.1" r="1.3" fill="#c4c5da" fill-opacity="0.65"/>
<circle cx="428.1" cy="70.1" r="1.6" fill="#d2d2e3" fill-opacity="0.65"/>
<circle cx="396.0" cy="16.2" r="1.3" fill="#f7f7fa" fill-opacity="0.65"/>
<circle cx="458.9" cy="24.8" r="1.8" fill="#c4c5da" fill-opacity="0.65"/>
<circle cx="394.8" cy="74.5" r="2.2" fill="#c8c8dc" fill-opacity="0.65"/>
<circle cx="455.9" cy="41.8" r="2.1" fill="#d2d2e3" fill-opacity="0.65"/>
<circle cx="403.1" cy="38.6" r="1.4" fill="#cacbde" fill-opacity="0.65"/>
<circle cx="388.3" cy="39.0" r="1.5" fill="#d2d2e3" fill-opacity="0.65"/>
<circle cx="453.9" cy="27.3" r="1.9" fill="#c8c8dc" fill-opacity="0.65"/>
<circle cx="455.4" cy="25.5" r="1.6" fill="#cdcde0" fill-opacity="0.65"/>
<circle cx="446.7" cy="73.6" r="1.6" fill="#c4c5da" fill-opacity="0.65"/>
<circle cx="418.9" cy="70.1" r="2.1" fill="#f7f7fa" fill-opacity="0.65"/>
<circle cx="392.7" cy="57.5" r="1.7" fill="#cdcde0" fill-opacity="0.65"/>
<circle cx="391.0" cy="34.7" r="1.6" fill="#cacbde" fill-opacity="0.65"/>
<circle cx="446.4" cy="60.6" r="2.2" fill="#f2f2f7" fill-opacity="0.65"/>
<circle cx="486.0" cy="8.4" r="1.8" fill="#d2d2e3" fill-opacity="0.65"/>
<circle cx="389.2" cy="19.8" r="1.7" fill="#d2d2e3" fill-opacity="0.65"/>
<circle cx="455.3" cy="53.5" r="2.2" fill="#c8c8dc" fill-opacity="0.65"/>
<circle cx="490.8" cy="37.2" r="2.0" fill="#cacbde" fill-opacity="0.65"/>
<circle cx="441.0" cy="15.1" r="1.3" fill="#d2d2e3" fill-opacity="0.65"/>
<circle cx="453.6" cy="67.8" r="2.1" fill="#f7f7fa" fill-opacity="0.65"/>
<circle cx="490.5" cy="22.8" r="1.6" fill="#cdcde0" fill-opacity="0.65"/>
<circle cx="438.1" cy="14.0" r="2.0" fill="#c8c8dc" fill-opacity="0.65"/>
<circle cx="399.6" cy="56.8" r="1.8" fill="#cacbde" fill-opacity="0.65"/>
<circle cx="481.2" cy="57.9" r="2.2" fill="#d2d2e3" fill-opacity="0.65"/>
<circle cx="466.9" cy="15.9" r="1.7" fill="#c8c8dc" fill-opacity="0.65"/>
<circle cx="422.1" cy="34.9" r="2.0" fill="#c8c8dc" fill-opacity="0.65"/>
<circle cx="393.2" cy="38.6" r="1.8" fill="#c8c8dc" fill-opacity="0.65"/>
<circle cx="466.9" cy="13.9" r="2.2" fill="#f7f7fa" fill-opacity="0.65"/>
<circle cx="395.0" cy="50.6" r="1.3" fill="#c8c8dc" fill-opacity="0.65"/>
<circle cx="437.5" cy="30.5" r="1.6" fill="#cdcde0" fill-opacity="0.65"/>
<circle cx="408.4" cy="38.6" r="1.3" fill="#cdcde0" fill-opacity="0.65"/>
<circle cx="446.2" cy="19.8" r="1.3" fill="#cdcde0" fill-opacity="0.65"/>
<circle cx="475.1" cy="14.7" r="2.1" fill="#cdcde0" fill-opacity="0.65"/>
<circle cx="397.1" cy="50.3" r="1.4" fill="#f7f7fa" fill-opacity="0.65"/>
<circle cx="448.8" cy="73.5" r="2.2" fill="#d2d2e3" fill-opacity="0.65"/>
<circle cx="472.0" cy="24.3" r="2.0" fill="#c8c8dc" fill-opacity="0.65"/>
<circle cx="462.3" cy="61.8" r="1.4" fill="#f7f7fa" fill-opacity="0.65"/>
<circle cx="449.5" cy="37.9" r="1.7" fill="#f7f7fa" fill-opacity="0.65"/>
<circle cx="452.2" cy="72.2" r="1.2" fill="#d2d2e3" fill-opacity="0.65"/>
<circle cx="414.3" cy="23.2" r="1.7" fill="#cacbde" fill-opacity="0.65"/>
<circle cx="482.6" cy="32.0" r="1.7" fill="#cacbde" fill-opacity="0.65"/>
<circle cx="490.9" cy="50.0" r="1.3" fill="#f7f7fa" fill-opacity="0.65"/>
<circle cx="483.5" cy="14.1" r="1.8" fill="#c4c5da" fill-opacity="0.65"/>
<circle cx="462.8" cy="26.6" r="1.6" fill="#d2d2e3" fill-opacity="0.65"/>
<circle cx="468.6" cy="36.4" r="1.8" fill="#c4c5da" fill-opacity="0.65"/>
<circle cx="431.0" cy="10.4" r="2.0" fill="#c8c8dc" fill-opacity="0.65"/>
<circle cx="399.2" cy="36.2" r="1.5" fill="#f2f2f7" fill-opacity="0.65"/>
<circle cx="405.8" cy="14.3" r="1.6" fill="#c4c5da" fill-opacity="0.65"/>
<circle cx="420.9" cy="80.2" r="1.7" fill="#f7f7fa" fill-opacity="0.65"/>
<circle cx="435.0" cy="7.3" r="1.6" fill="#c8c8dc" fill-opacity="0.65"/>
<circle cx="382.0" cy="52.5" r="2.2" fill="#c4c5da" fill-opacity="0.65"/>
<circle cx="487.6" cy="60.3" r="2.0" fill="#cdcde0" fill-opacity="0.65"/>
<circle cx="448.5" cy="52.2" r="1.5" fill="#d2d2e3" fill-opacity="0.65"/>
<circle cx="394.2" cy="65.3" r="1.5" fill="#f2f2f7" fill-opacity="0.65"/>
<circle cx="391.4" cy="26.1" r="1.5" fill="#f2f2f7" fill-opacity="0.65"/>
<circle cx="485.4" cy="56.7" r="1.6" fill="#c8c8dc" fill-opacity="0.65"/>
<circle cx="412.7" cy="59.2" r="1.3" fill="#cdcde0" fill-opacity="0.65"/>
<circle cx="473.0" cy="32.0" r="1.5" fill="#f2f2f7" fill-opacity="0.65"/>
<circle cx="398.4" cy="28.7" r="1.5" fill="#f2f2f7" fill-opacity="0.65"/>
<circle cx="435.3" cy="37.2" r="1.3" fill="#cdcde0" fill-opacity="0.65"/>
<circle cx="483.6" cy="56.0" r="1.2" fill="#cacbde" fill-opacity="0.65"/>
<circle cx="464.3" cy="51.5" r="1.2" fill="#cacbde" fill-opacity="0.65"/>
<circle cx="434.1" cy="32.6" r="1.8" fill="#f2f2f7" fill-opacity="0.65"/>
<circle cx="389.5" cy="67.1" r="1.6" fill="#f2f2f7" fill-opacity="0.65"/>
<circle cx="396.7" cy="65.2" r="1.9" fill="#f2f2f7" fill-opacity="0.65"/>
<circle cx="394.2" cy="31.4" r="1.9" fill="#c8c8dc" fill-opacity="0.65"/>
<circle cx="473.4" cy="80.6" r="1.6" fill="#f2f2f7" fill-opacity="0.65"/>
<circle cx="441.7" cy="15.4" r="1.3" fill="#c4c5da" fill-opacity="0.65"/>
<circle cx="457.5" cy="57.1" r="1.3" fill="#f2f2f7" fill-opacity="0.65"/>
<circle cx="404.5" cy="38.7" r="1.7" fill="#f2f2f7" fill-opacity="0.65"/>
<circle cx="485.8" cy="18.6" r="1.5" fill="#d2d2e3" fill-opacity="0.65"/>
<circle cx="384.7" cy="40.0" r="1.6" fill="#cacbde" fill-opacity="0.65"/>
<circle cx="458.8" cy="44.9" r="1.6" fill="#f2f2f7" fill-opacity="0.65"/>
<circle cx="424.0" cy="66.9" r="1.3" fill="#cacbde" fill-opacity="0.65"/>
<circle cx="475.6" cy="66.4" r="1.5" fill="#c8c8dc" fill-opacity="0.65"/>
<circle cx="419.4" cy="19.3" r="1.5" fill="#f7f7fa" fill-opacity="0.65"/>
<circle cx="469.8" cy="59.5" r="1.7" fill="#f7f7fa" fill-opacity="0.65"/>
<circle cx="474.2" cy="34.3" r="1.8" fill="#d2d2e3" fill-opacity="0.65"/>
<circle cx="458.9" cy="37.3" r="1.3" fill="#d2d2e3" fill-opacity="0.65"/>
<circle cx="407.0" cy="26.8" r="1.9" fill="#f7f7fa" fill-opacity="0.65"/>
<circle cx="386.2" cy="77.9" r="2.0" fill="#c4c5da" fill-opacity="0.65"/>
<circle cx="422.9" cy="62.1" r="1.6" fill="#f7f7fa" fill-opacity="0.65"/>
<circle cx="388.4" cy="20.5" r="1.6" fill="#f7f7fa" fill-opacity="0.65"/>
<circle cx="431.5" cy="44.3" r="1.4" fill="#f2f2f7" fill-opacity="0.65"/>
<circle cx="449.6" cy="59.2" r="1.7" fill="#cdcde0" fill-opacity="0.65"/>
<circle cx="385.1" cy="60.7" r="1.8" fill="#f7f7fa" fill-opacity="0.65"/>
<circle cx="435.3" cy="44.5" r="1.6" fill="#f2f2f7" fill-opacity="0.65"/>
<circle cx="420.6" cy="30.0" r="1.4" fill="#cdcde0" fill-opacity="0.65"/>
<circle cx="405.3" cy="22.0" r="1.7" fill="#f7f7fa" fill-opacity="0.65"/>
<circle cx="419.2" cy="19.2" r="1.4" fill="#cdcde0" fill-opacity="0.65"/>
<circle cx="480.5" cy="78.1" r="1.9" fill="#c4c5da" fill-opacity="0.65"/>
<circle cx="393.2" cy="67.6" r="2.0" fill="#f7f7fa" fill-opacity="0.65"/>
<circle cx="475.9" cy="62.9" r="1.5" fill="#cdcde0" fill-opacity="0.65"/>
<circle cx="420.7" cy="20.0" r="2.1" fill="#cacbde" fill-opacity="0.65"/>
<circle cx="413.6" cy="26.2" r="1.3" fill="#d2d2e3" fill-opacity="0.65"/>
<circle cx="389.6" cy="8.8" r="2.0" fill="#f7f7fa" fill-opacity="0.65"/>
<circle cx="398.0" cy="36.8" r="2.0" fill="#f7f7fa" fill-opacity="0.65"/>
<circle cx="475.6" cy="53.8" r="1.7" fill="#cacbde" fill-opacity="0.65"/>
<circle cx="399.2" cy="64.7" r="1.9" fill="#f7f7fa" fill-opacity="0.65"/>
<circle cx="466.8" cy="26.7" r="1.3" fill="#f2f2f7" fill-opacity="0.65"/>
<circle cx="421.2" cy="67.5" r="1.4" fill="#d2d2e3" fill-opacity="0.65"/>
<circle cx="457.0" cy="33.4" r="1.4" fill="#cacbde" fill-opacity="0.65"/>
<circle cx="437.0" cy="50.4" r="1.5" fill="#cdcde0" fill-opacity="0.65"/>
<circle cx="389.5" cy="49.2" r="1.8" fill="#cacbde" fill-opacity="0.65"/>
<circle cx="463.2" cy="30.0" r="1.2" fill="#f7f7fa" fill-opacity="0.65"/>
<circle cx="487.3" cy="21.7" r="1.6" fill="#c4c5da" fill-opacity="0.65"/>
<circle cx="477.5" cy="11.4" r="1.9" fill="#c8c8dc" fill-opacity="0.65"/>
<circle cx="396.7" cy="38.6" r="1.3" fill="#cacbde" fill-opacity="0.65"/>
<circle cx="488.8" cy="82.0" r="2.1" fill="#f7f7fa" fill-opacity="0.65"/>
<circle cx="389.7" cy="47.4" r="1.4" fill="#f7f7fa" fill-opacity="0.65"/>
<circle cx="457.9" cy="54.0" r="2.1" fill="#cacbde" fill-opacity="0.65"/>
<circle cx="392.4" cy="17.4" r="1.4" fill="#cacbde" fill-opacity="0.65"/>
<circle cx="435.0" cy="49.8" r="2.2" fill="#f7f7fa" fill-opacity="0.65"/>
<circle cx="391.0" cy="76.2" r="1.5" fill="#cdcde0" fill-opacity="0.65"/>
<circle cx="458.7" cy="79.3" r="2.2" fill="#f2f2f7" fill-opacity="0.65"/>
<circle cx="483.4" cy="73.1" r="2.1" fill="#c8c8dc" fill-opacity="0.65"/>
<circle cx="448.4" cy="68.2" r="2.2" fill="#f7f7fa" fill-opacity="0.65"/>
<circle cx="448.8" cy="54.1" r="2.1" fill="#c8c8dc" fill-opacity="0.65"/>
<circle cx="466.1" cy="18.8" r="2.1" fill="#c8c8dc" fill-opacity="0.65"/>
<circle cx="393.5" cy="73.9" r="2.2" fill="#c8c8dc" fill-opacity="0.65"/>
<circle cx="426.9" cy="18.1" r="1.4" fill="#f7f7fa" fill-opacity="0.65"/>
<circle cx="438.6" cy="51.5" r="2.0" fill="#f2f2f7" fill-opacity="0.65"/>
<circle cx="390.4" cy="35.3" r="2.2" fill="#cdcde0" fill-opacity="0.65"/>
<circle cx="488.9" cy="71.1" r="1.6" fill="#c4c5da" fill-opacity="0.65"/>
<circle cx="405.4" cy="36.9" r="2.1" fill="#cdcde0" fill-opacity="0.65"/>
<circle cx="410.2" cy="51.9" r="1.7" fill="#c4c5da" fill-opacity="0.65"/>
<circle cx="438.7" cy="33.8" r="1.9" fill="#d2d2e3" fill-opacity="0.65"/>
<circle cx="400.6" cy="18.2" r="1.5" fill="#d2d2e3" fill-opacity="0.65"/>
<circle cx="405.6" cy="77.7" r="1.4" fill="#cacbde" fill-opacity="0.65"/>
<circle cx="453.4" cy="26.7" r="1.7" fill="#c4c5da" fill-opacity="0.65"/>
<circle cx="444.5" cy="8.3" r="1.5" fill="#c8c8dc" fill-opacity="0.65"/>
<circle cx="414.5" cy="32.1" r="1.9" fill="#cacbde" fill-opacity="0.65"/>
<circle cx="385.0" cy="25.8" r="1.3" fill="#cacbde" fill-opacity="0.65"/>
<circle cx="465.5" cy="25.5" r="1.4" fill="#d2d2e3" fill-opacity="0.65"/>
<circle cx="442.7" cy="17.3" r="1.9" fill="#c8c8dc" fill-opacity="0.65"/>
<circle cx="481.8" cy="83.3" r="1.6" fill="#cdcde0" fill-opacity="0.65"/>
<circle cx="427.5" cy="58.5" r="1.4" fill="#f2f2f7" fill-opacity="0.65"/>
<circle cx="404.0" cy="76.8" r="1.8" fill="#cacbde" fill-opacity="0.65"/>
<circle cx="388.7" cy="82.0" r="2.1" fill="#c8c8dc" fill-opacity="0.65"/>
<circle cx="436.3" cy="36.0" r="1.3" fill="#cdcde0" fill-opacity="0.65"/>
<circle cx="397.0" cy="22.5" r="2.1" fill="#cdcde0" fill-opacity="0.65"/>
<circle cx="484.0" cy="33.1" r="2.1" fill="#cdcde0" fill-opacity="0.65"/>
<circle cx="469.9" cy="31.3" r="1.2" fill="#cdcde0" fill-opacity="0.65"/>
<circle cx="396.2" cy="59.1" r="2.1" fill="#cacbde" fill-opacity="0.65"/>
<circle cx="479.0" cy="58.3" r="1.6" fill="#cacbde" fill-opacity="0.65"/>
<circle cx="394.5" cy="27.7" r="2.1" fill="#c8c8dc" fill-opacity="0.65"/>
<circle cx="489.8" cy="62.8" r="1.9" fill="#c8c8dc" fill-opacity="0.65"/>
<circle cx="415.1" cy="20.8" r="1.3" fill="#f7f7fa" fill-opacity="0.65"/>
<circle cx="438.8" cy="69.8" r="1.6" fill="#f2f2f7" fill-opacity="0.65"/>
<circle cx="439.4" cy="79.9" r="1.3" fill="#cdcde0" fill-opacity="0.65"/>
<circle cx="383.0" cy="77.9" r="2.2" fill="#cacbde" fill-opacity="0.65"/>
<circle cx="436.8" cy="19.0" r="1.5" fill="#f7f7fa" fill-opacity="0.65"/>
<circle cx="392.8" cy="44.0" r="2.1" fill="#f7f7fa" fill-opacity="0.65"/>
<circle cx="432.0" cy="53.3" r="2.0" fill="#d2d2e3" fill-opacity="0.65"/>
<circle cx="385.5" cy="18.0" r="1.7" fill="#cacbde" fill-opacity="0.65"/>
<circle cx="383.9" cy="65.6" r="1.6" fill="#c8c8dc" fill-opacity="0.65"/>
<circle cx="412.3" cy="10.1" r="1.6" fill="#f2f2f7" fill-opacity="0.65"/>
<circle cx="404.6" cy="8.1" r="1.4" fill="#f2f2f7" fill-opacity="0.65"/>
<circle cx="487.3" cy="54.0" r="1.3" fill="#c8c8dc" fill-opacity="0.65"/>
<circle cx="401.4" cy="7.8" r="1.5" fill="#c8c8dc" fill-opacity="0.65"/>
<circle cx="418.4" cy="72.2" r="1.8" fill="#cacbde" fill-opacity="0.65"/>
<circle cx="433.4" cy="54.9" r="1.5" fill="#c4c5da" fill-opacity="0.65"/>
<circle cx="397.1" cy="51.4" r="1.8" fill="#d2d2e3" fill-opacity="0.65"/>
<circle cx="440.8" cy="42.2" r="1.5" fill="#d2d2e3" fill-opacity="0.65"/>
<circle cx="407.0" cy="79.0" r="2.1" fill="#cacbde" fill-opacity="0.65"/>
<circle cx="399.2" cy="46.0" r="2.2" fill="#c4c5da" fill-opacity="0.65"/>
<circle cx="465.7" cy="78.9" r="1.5" fill="#f7f7fa" fill-opacity="0.65"/>
<circle cx="445.6" cy="18.8" r="2.1" fill="#c4c5da" fill-opacity="0.65"/>
<circle cx="451.7" cy="55.7" r="1.2" fill="#d2d2e3" fill-opacity="0.65"/>
<circle cx="443.0" cy="45.1" r="2.1" fill="#f7f7fa" fill-opacity="0.65"/>
<circle cx="453.0" cy="59.7" r="1.9" fill="#d2d2e3" fill-opacity="0.65"/>
<circle cx="410.9" cy="51.0" r="1.8" fill="#d2d2e3" fill-opacity="0.65"/>
<circle cx="387.4" cy="31.3" r="1.8" fill="#c8c8dc" fill-opacity="0.65"/>
<circle cx="452.0" cy="81.7" r="1.5" fill="#d2d2e3" fill-opacity="0.65"/>
<circle cx="386.8" cy="28.3" r="1.3" fill="#f7f7fa" fill-opacity="0.65"/>
<circle cx="472.7" cy="68.4" r="1.5" fill="#cacbde" fill-opacity="0.65"/>
<circle cx="436.8" cy="39.6" r="1.8" fill="#c8c8dc" fill-opacity="0.65"/>
<circle cx="435.3" cy="43.9" r="1.5" fill="#f2f2f7" fill-opacity="0.65"/>
<circle cx="454.7" cy="45.5" r="2.1" fill="#cacbde" fill-opacity="0.65"/>
<circle cx="405.0" cy="71.2" r="2.0" fill="#cacbde" fill-opacity="0.65"/>
<circle cx="482.4" cy="59.6" r="2.0" fill="#cacbde" fill-opacity="0.65"/>
<circle cx="411.4" cy="29.6" r="2.1" fill="#c8c8dc" fill-opacity="0.65"/>
<circle cx="471.1" cy="30.1" r="1.4" fill="#f2f2f7" fill-opacity="0.65"/>
<circle cx="383.7" cy="46.2" r="1.5" fill="#f2f2f7" fill-opacity="0.65"/>
<circle cx="452.3" cy="58.9" r="1.6" fill="#cacbde" fill-opacity="0.65"/>
<circle cx="476.7" cy="82.2" r="1.4" fill="#c4c5da" fill-opacity="0.65"/>
<circle cx="489.6" cy="74.0" r="1.5" fill="#cdcde0" fill-opacity="0.65"/>
<circle cx="448.6" cy="66.6" r="1.5" fill="#cacbde" fill-opacity="0.65"/>
<circle cx="450.0" cy="16.3" r="1.9" fill="#c8c8dc" fill-opacity="0.65"/>
<circle cx="429.4" cy="38.1" r="1.6" fill="#f2f2f7" fill-opacity="0.65"/>
<circle cx="477.6" cy="50.7" r="2.1" fill="#cacbde" fill-opacity="0.65"/>
<circle cx="483.3" cy="24.0" r="1.9" fill="#c8c8dc" fill-opacity="0.65"/>
<circle cx="383.7" cy="19.1" r="2.0" fill="#cdcde0" fill-opacity="0.65"/>
<circle cx="406.7" cy="54.5" r="1.3" fill="#cdcde0" fill-opacity="0.65"/>
<circle cx="438.1" cy="31.1" r="1.5" fill="#cdcde0" fill-opacity="0.65"/>
<circle cx="384.2" cy="27.3" r="2.0" fill="#c8c8dc" fill-opacity="0.65"/>
<circle cx="417.7" cy="78.4" r="2.1" fill="#c4c5da" fill-opacity="0.65"/>
<circle cx="440.0" cy="51.5" r="1.5" fill="#d2d2e3" fill-opacity="0.65"/>
<circle cx="466.7" cy="32.4" r="1.5" fill="#f7f7fa" fill-opacity="0.65"/>
<circle cx="490.7" cy="11.7" r="1.3" fill="#cacbde" fill-opacity="0.65"/>
<circle cx="440.3" cy="43.2" r="1.9" fill="#cdcde0" fill-opacity="0.65"/>
<circle cx="413.0" cy="78.8" r="1.6" fill="#d2d2e3" fill-opacity="0.65"/>
<circle cx="417.4" cy="12.0" r="1.3" fill="#c4c5da" fill-opacity="0.65"/>
<circle cx="413.8" cy="73.2" r="2.1" fill="#f7f7fa" fill-opacity="0.65"/>
<circle cx="427.0" cy="38.1" r="1.4" fill="#d2d2e3" fill-opacity="0.65"/>
<circle cx="482.4" cy="12.7" r="1.6" fill="#d2d2e3" fill-opacity="0.65"/>
<circle cx="456.9" cy="65.6" r="1.8" fill="#cacbde" fill-opacity="0.65"/>
<circle cx="483.3" cy="45.3" r="2.1" fill="#f7f7fa" fill-opacity="0.65"/>
<circle cx="440.9" cy="83.8" r="1.7" fill="#cdcde0" fill-opacity="0.65"/>
<circle cx="401.3" cy="83.0" r="1.8" fill="#cdcde0" fill-opacity="0.65"/>
<circle cx="442.1" cy="27.7" r="1.9" fill="#cacbde" fill-opacity="0.65"/>
<circle cx="484.4" cy="27.4" r="2.0" fill="#c8c8dc" fill-opacity="0.65"/>
<circle cx="459.1" cy="41.9" r="1.6" fill="#c8c8dc" fill-opacity="0.65"/>
<circle cx="486.3" cy="21.6" r="1.5" fill="#c8c8dc" fill-opacity="0.65"/>
<circle cx="442.0" cy="6.8" r="1.7" fill="#f7f7fa" fill-opacity="0.65"/>
<circle cx="429.5" cy="16.5" r="1.6" fill="#f7f7fa" fill-opacity="0.65"/>
<circle cx="467.8" cy="25.5" r="2.0" fill="#cdcde0" fill-opacity="0.65"/>
<circle cx="456.4" cy="54.3" r="1.2" fill="#cacbde" fill-opacity="0.65"/>
<circle cx="443.5" cy="25.6" r="1.8" fill="#d2d2e3" fill-opacity="0.65"/>
<circle cx="383.1" cy="12.2" r="1.6" fill="#d2d2e3" fill-opacity="0.65"/>
<circle cx="449.5" cy="22.7" r="1.4" fill="#cacbde" fill-opacity="0.65"/>
<circle cx="434.9" cy="52.1" r="1.5" fill="#cacbde" fill-opacity="0.65"/>
<circle cx="394.4" cy="30.1" r="1.4" fill="#f2f2f7" fill-opacity="0.65"/>
<circle cx="460.8" cy="51.3" r="1.9" fill="#f2f2f7" fill-opacity="0.65"/>
<circle cx="479.1" cy="26.5" r="2.0" fill="#cacbde" fill-opacity="0.65"/>
<circle cx="410.8" cy="22.6" r="1.9" fill="#cdcde0" fill-opacity="0.65"/>
<circle cx="431.2" cy="31.0" r="1.8" fill="#d2d2e3" fill-opacity="0.65"/>
<circle cx="477.5" cy="54.7" r="1.3" fill="#cacbde" fill-opacity="0.65"/>
<circle cx="433.5" cy="74.7" r="1.7" fill="#d2d2e3" fill-opacity="0.65"/>
<circle cx="456.0" cy="45.7" r="2.0" fill="#d2d2e3" fill-opacity="0.65"/>
<circle cx="479.0" cy="12.4" r="1.4" fill="#cdcde0" fill-opacity="0.65"/>
<circle cx="461.1" cy="80.1" r="1.9" fill="#cacbde" fill-opacity="0.65"/>
<circle cx="431.4" cy="23.1" r="1.5" fill="#f7f7fa" fill-opacity="0.65"/>
<circle cx="466.2" cy="48.3" r="2.2" fill="#c4c5da" fill-opacity="0.65"/>
<circle cx="443.4" cy="36.9" r="2.0" fill="#c4c5da" fill-opacity="0.65"/>
<circle cx="465.8" cy="26.7" r="1.8" fill="#cdcde0" fill-opacity="0.65"/>
<circle cx="476.6" cy="29.8" r="2.2" fill="#cacbde" fill-opacity="0.65"/>
<circle cx="482.0" cy="11.2" r="1.8" fill="#f2f2f7" fill-opacity="0.65"/>
<circle cx="405.0" cy="57.1" r="1.3" fill="#cacbde" fill-opacity="0.65"/>
<circle cx="459.8" cy="32.9" r="1.6" fill="#d2d2e3" fill-opacity="0.65"/>
<circle cx="409.0" cy="61.2" r="1.8" fill="#f7f7fa" fill-opacity="0.65"/>
<circle cx="398.5" cy="8.6" r="2.0" fill="#f7f7fa" fill-opacity="0.65"/>
<circle cx="417.1" cy="62.8" r="2.2" fill="#c4c5da" fill-opacity="0.65"/>
<circle cx="464.8" cy="33.2" r="2.2" fill="#c4c5da" fill-opacity="0.65"/>
<circle cx="399.6" cy="55.0" r="2.1" fill="#cacbde" fill-opacity="0.65"/>
<circle cx="435.0" cy="76.7" r="2.2" fill="#cacbde" fill-opacity="0.65"/>
<circle cx="397.2" cy="53.5" r="1.7" fill="#f7f7fa" fill-opacity="0.65"/>
<circle cx="442.7" cy="40.6" r="1.2" fill="#c4c5da" fill-opacity="0.65"/>
<circle cx="420.1" cy="65.3" r="1.3" fill="#c4c5da" fill-opacity="0.65"/>
<circle cx="441.5" cy="19.6" r="1.6" fill="#cdcde0" fill-opacity="0.65"/>
<circle cx="423.2" cy="27.8" r="1.6" fill="#f7f7fa" fill-opacity="0.65"/>
<circle cx="437.9" cy="48.4" r="1.6" fill="#d2d2e3" fill-opacity="0.65"/>
<circle cx="397.6" cy="30.7" r="2.1" fill="#f7f7fa" fill-opacity="0.65"/>
<circle cx="408.8" cy="20.4" r="1.3" fill="#c8c8dc" fill-opacity="0.65"/>
<circle cx="451.5" cy="8.7" r="1.4" fill="#c8c8dc" fill-opacity="0.65"/>
<circle cx="435.2" cy="60.4" r="1.2" fill="#f2f2f7" fill-opacity="0.65"/>
<circle cx="413.4" cy="32.2" r="1.8" fill="#c4c5da" fill-opacity="0.65"/>
<circle cx="458.4" cy="32.7" r="2.1" fill="#cdcde0" fill-opacity="0.65"/>
<circle cx="474.6" cy="60.9" r="1.2" fill="#f2f2f7" fill-opacity="0.65"/>
<circle cx="468.2" cy="28.4" r="1.7" fill="#c4c5da" fill-opacity="0.65"/>
<circle cx="405.9" cy="23.8" r="1.8" fill="#cdcde0" fill-opacity="0.65"/>
<circle cx="452.7" cy="77.9" r="2.0" fill="#d2d2e3" fill-opacity="0.65"/>
<circle cx="400.6" cy="20.7" r="1.8" fill="#f2f2f7" fill-opacity="0.65"/>
<circle cx="400.1" cy="34.1" r="1.9" fill="#cdcde0" fill-opacity="0.65"/>
<circle cx="466.2" cy="31.3" r="2.1" fill="#d2d2e3" fill-opacity="0.65"/>
<circle cx="421.4" cy="24.3" r="1.9" fill="#c8c8dc" fill-opacity="0.65"/>
<circle cx="475.1" cy="64.3" r="2.0" fill="#cacbde" fill-opacity="0.65"/>
<circle cx="441.2" cy="51.7" r="1.3" fill="#c8c8dc" fill-opacity="0.65"/>
<circle cx="446.7" cy="65.6" r="1.7" fill="#f7f7fa" fill-opacity="0.65"/>
<circle cx="476.4" cy="11.4" r="1.3" fill="#c8c8dc" fill-opacity="0.65"/>
<circle cx="481.5" cy="54.2" r="1.8" fill="#c8c8dc" fill-opacity="0.65"/>
<circle cx="454.8" cy="60.4" r="1.5" fill="#d2d2e3" fill-opacity="0.65"/>
<circle cx="467.3" cy="23.7" r="1.2" fill="#cdcde0" fill-opacity="0.65"/>
<circle cx="420.9" cy="25.9" r="1.5" fill="#c4c5da" fill-opacity="0.65"/>
<circle cx="382.9" cy="34.8" r="1.6" fill="#cdcde0" fill-opacity="0.65"/>
<circle cx="410.9" cy="15.3" r="2.0" fill="#d2d2e3" fill-opacity="0.65"/>
<circle cx="456.0" cy="21.3" r="1.7" fill="#f2f2f7" fill-opacity="0.65"/>
<circle cx="477.5" cy="68.5" r="1.6" fill="#cacbde" fill-opacity="0.65"/>
<circle cx="436.5" cy="38.6" r="1.6" fill="#f7f7fa" fill-opacity="0.65"/>
<circle cx="410.5" cy="41.0" r="1.8" fill="#f2f2f7" fill-opacity="0.65"/>
<circle cx="469.9" cy="72.0" r="1.5" fill="#c4c5da" fill-opacity="0.65"/>
<circle cx="414.4" cy="9.1" r="2.0" fill="#f7f7fa" fill-opacity="0.65"/>
<circle cx="431.6" cy="47.0" r="1.6" fill="#f2f2f7" fill-opacity="0.65"/>
<circle cx="442.7" cy="42.4" r="1.6" fill="#d2d2e3" fill-opacity="0.65"/>
<circle cx="391.2" cy="45.4" r="1.4" fill="#f7f7fa" fill-opacity="0.65"/>
<circle cx="490.6" cy="77.6" r="2.0" fill="#c8c8dc" fill-opacity="0.65"/>
<circle cx="393.3" cy="48.0" r="1.5" fill="#d2d2e3" fill-opacity="0.65"/>
<circle cx="438.0" cy="30.6" r="2.1" fill="#f7f7fa" fill-opacity="0.65"/>
<circle cx="420.6" cy="80.5" r="1.7" fill="#c8c8dc" fill-opacity="0.65"/>
<circle cx="382.7" cy="18.1" r="1.6" fill="#cacbde" fill-opacity="0.65"/>
<circle cx="464.1" cy="41.2" r="2.2" fill="#d2d2e3" fill-opacity="0.65"/>
<circle cx="446.5" cy="48.9" r="1.3" fill="#cacbde" fill-opacity="0.65"/>
<circle cx="400.3" cy="42.5" r="2.1" fill="#cacbde" fill-opacity="0.65"/>
<circle cx="436.3" cy="79.0" r="1.9" fill="#f2f2f7" fill-opacity="0.65"/>
<circle cx="418.4" cy="51.3" r="1.8" fill="#c8c8dc" fill-opacity="0.65"/>
<circle cx="382.6" cy="62.4" r="2.1" fill="#f7f7fa" fill-opacity="0.65"/>
<circle cx="389.2" cy="65.6" r="1.5" fill="#f7f7fa" fill-opacity="0.65"/>
<circle cx="439.0" cy="82.2" r="1.4" fill="#cdcde0" fill-opacity="0.65"/>
<circle cx="471.1" cy="62.6" r="2.0" fill="#c8c8dc" fill-opacity="0.65"/>
<circle cx="419.2" cy="62.8" r="1.9" fill="#f2f2f7" fill-opacity="0.65"/>
<circle cx="403.5" cy="8.9" r="1.4" fill="#d2d2e3" fill-opacity="0.65"/>
<circle cx="452.4" cy="82.8" r="2.0" fill="#f2f2f7" fill-opacity="0.65"/>
<circle cx="463.1" cy="31.3" r="1.3" fill="#c8c8dc" fill-opacity="0.65"/>
<circle cx="484.5" cy="10.0" r="1.8" fill="#d2d2e3" fill-opacity="0.65"/>
<circle cx="478.2" cy="57.4" r="1.6" fill="#cacbde" fill-opacity="0.65"/>
<circle cx="401.7" cy="44.9" r="2.2" fill="#cdcde0" fill-opacity="0.65"/>
<circle cx="446.4" cy="27.5" r="1.4" fill="#c8c8dc" fill-opacity="0.65"/>
<circle cx="388.5" cy="21.0" r="1.4" fill="#c4c5da" fill-opacity="0.65"/>
<circle cx="484.5" cy="58.1" r="1.3" fill="#cacbde" fill-opacity="0.65"/>
<circle cx="455.1" cy="55.2" r="1.6" fill="#cacbde" fill-opacity="0.65"/>
<circle cx="416.5" cy="7.1" r="1.6" fill="#f7f7fa" fill-opacity="0.65"/>
<circle cx="423.6" cy="47.7" r="1.2" fill="#c8c8dc" fill-opacity="0.65"/>
<circle cx="420.9" cy="53.7" r="1.8" fill="#d2d2e3" fill-opacity="0.65"/>
<circle cx="397.6" cy="52.5" r="2.1" fill="#cdcde0" fill-opacity="0.65"/>
<circle cx="403.7" cy="7.5" r="1.9" fill="#cacbde" fill-opacity="0.65"/>
<circle cx="443.6" cy="25.1" r="1.4" fill="#cacbde" fill-opacity="0.65"/>
<circle cx="385.9" cy="48.6" r="2.2" fill="#cdcde0" fill-opacity="0.65"/>
<circle cx="402.1" cy="42.8" r="2.0" fill="#f7f7fa" fill-opacity="0.65"/>
<circle cx="422.7" cy="19.2" r="1.6" fill="#c8c8dc" fill-opacity="0.65"/>
<circle cx="419.9" cy="11.8" r="1.5" fill="#f7f7fa" fill-opacity="0.65"/>
<circle cx="385.3" cy="8.8" r="2.1" fill="#d2d2e3" fill-opacity="0.65"/>
<circle cx="397.2" cy="61.8" r="1.3" fill="#c4c5da" fill-opacity="0.65"/>
<circle cx="447.6" cy="77.5" r="1.2" fill="#c8c8dc" fill-opacity="0.65"/>
<circle cx="406.6" cy="20.5" r="1.7" fill="#d2d2e3" fill-opacity="0.65"/>
<circle cx="403.3" cy="56.2" r="1.4" fill="#cdcde0" fill-opacity="0.65"/>
<circle cx="472.4" cy="67.9" r="1.6" fill="#d2d2e3" fill-opacity="0.65"/>
<circle cx="443.9" cy="45.9" r="1.6" fill="#d2d2e3" fill-opacity="0.65"/>
<circle cx="415.1" cy="83.0" r="1.2" fill="#f2f2f7" fill-opacity="0.65"/>
<circle cx="418.3" cy="7.3" r="2.1" fill="#f7f7fa" fill-opacity="0.65"/>
<circle cx="475.2" cy="29.0" r="1.5" fill="#cacbde" fill-opacity="0.65"/>
<circle cx="395.8" cy="36.3" r="1.9" fill="#c4c5da" fill-opacity="0.65"/>
<circle cx="483.3" cy="14.9" r="1.9" fill="#c4c5da" fill-opacity="0.65"/>
<circle cx="412.6" cy="29.3" r="2.0" fill="#f2f2f7" fill-opacity="0.65"/>
<circle cx="392.2" cy="63.4" r="1.8" fill="#cacbde" fill-opacity="0.65"/>
<circle cx="424.6" cy="72.6" r="2.0" fill="#c8c8dc" fill-opacity="0.65"/>
<circle cx="442.7" cy="15.9" r="1.6" fill="#cacbde" fill-opacity="0.65"/>
<circle cx="421.2" cy="53.5" r="2.2" fill="#f7f7fa" fill-opacity="0.65"/>
<circle cx="479.4" cy="28.1" r="1.4" fill="#d2d2e3" fill-opacity="0.65"/>
<circle cx="453.6" cy="80.9" r="1.3" fill="#d2d2e3" fill-opacity="0.65"/>
<circle cx="436.0" cy="13.6" r="2.0" fill="#cacbde" fill-opacity="0.65"/>
<circle cx="388.1" cy="55.3" r="1.5" fill="#c4c5da" fill-opacity="0.65"/>
<circle cx="486.7" cy="36.7" r="1.5" fill="#cacbde" fill-opacity="0.65"/>
<circle cx="475.8" cy="83.0" r="1.5" fill="#c4c5da" fill-opacity="0.65"/>
<circle cx="437.1" cy="53.5" r="1.7" fill="#c4c5da" fill-opacity="0.65"/>
<circle cx="403.1" cy="49.7" r="1.5" fill="#c8c8dc" fill-opacity="0.65"/>
<circle cx="393.9" cy="59.8" r="1.8" fill="#cacbde" fill-opacity="0.65"/>
<circle cx="411.6" cy="83.3" r="1.8" fill="#c8c8dc" fill-opacity="0.65"/>
<circle cx="428.8" cy="77.8" r="2.0" fill="#cdcde0" fill-opacity="0.65"/>
<circle cx="461.0" cy="72.9" r="2.1" fill="#d2d2e3" fill-opacity="0.65"/>
<circle cx="410.8" cy="50.1" r="1.4" fill="#cacbde" fill-opacity="0.65"/>
<circle cx="463.1" cy="42.4" r="1.9" fill="#cdcde0" fill-opacity="0.65"/>
<circle cx="482.2" cy="57.3" r="2.2" fill="#cdcde0" fill-opacity="0.65"/>
<circle cx="449.3" cy="19.1" r="1.2" fill="#d2d2e3" fill-opacity="0.65"/>
<circle cx="474.4" cy="48.8" r="1.4" fill="#cacbde" fill-opacity="0.65"/>
<circle cx="455.7" cy="81.5" r="1.3" fill="#c8c8dc" fill-opacity="0.65"/>
<circle cx="484.2" cy="17.4" r="1.9" fill="#c4c5da" fill-opacity="0.65"/>
<circle cx="456.7" cy="49.0" r="2.1" fill="#c4c5da" fill-opacity="0.65"/>
<circle cx="485.1" cy="11.0" r="1.8" fill="#d2d2e3" fill-opacity="0.65"/>
<circle cx="406.5" cy="8.9" r="1.4" fill="#c8c8dc" fill-opacity="0.65"/>
<circle cx="398.9" cy="33.6" r="1.3" fill="#cacbde" fill-opacity="0.65"/>
<circle cx="472.2" cy="33.3" r="1.3" fill="#cacbde" fill-opacity="0.65"/>
<circle cx="452.9" cy="35.3" r="1.6" fill="#cacbde" fill-opacity="0.65"/>
<circle cx="445.5" cy="73.4" r="1.9" fill="#c4c5da" fill-opacity="0.65"/>
<circle cx="412.9" cy="66.5" r="1.8" fill="#d2d2e3" fill-opacity="0.65"/>
<circle cx="404.5" cy="40.8" r="2.1" fill="#d2d2e3" fill-opacity="0.65"/>
<circle cx="447.6" cy="46.0" r="1.7" fill="#c8c8dc" fill-opacity="0.65"/>
<circle cx="440.7" cy="34.4" r="1.6" fill="#c8c8dc" fill-opacity="0.65"/>
<circle cx="490.6" cy="68.0" r="1.5" fill="#d2d2e3" fill-opacity="0.65"/>
<circle cx="448.4" cy="39.1" r="1.5" fill="#cacbde" fill-opacity="0.65"/>
<circle cx="434.6" cy="37.4" r="1.7" fill="#c4c5da" fill-opacity="0.65"/>
<circle cx="390.1" cy="15.7" r="1.9" fill="#f7f7fa" fill-opacity="0.65"/>
<circle cx="390.0" cy="59.1" r="1.4" fill="#cdcde0" fill-opacity="0.65"/>
<circle cx="444.0" cy="14.2" r="1.4" fill="#cdcde0" fill-opacity="0.65"/>
<circle cx="430.3" cy="29.4" r="1.6" fill="#cdcde0" fill-opacity="0.65"/>
<circle cx="461.6" cy="6.9" r="1.4" fill="#cdcde0" fill-opacity="0.65"/>
<circle cx="395.8" cy="17.1" r="2.1" fill="#cacbde" fill-opacity="0.65"/>
<circle cx="462.2" cy="50.4" r="1.4" fill="#c4c5da" fill-opacity="0.65"/>
<circle cx="430.4" cy="53.4" r="1.3" fill="#c8c8dc" fill-opacity="0.65"/>
<circle cx="418.2" cy="17.7" r="2.0" fill="#c8c8dc" fill-opacity="0.65"/>
<circle cx="442.2" cy="82.1" r="1.5" fill="#d2d2e3" fill-opacity="0.65"/>
<circle cx="480.6" cy="67.8" r="1.4" fill="#c8c8dc" fill-opacity="0.65"/>
<circle cx="481.8" cy="20.4" r="1.7" fill="#c4c5da" fill-opacity="0.65"/>
<circle cx="482.4" cy="22.7" r="1.8" fill="#c8c8dc" fill-opacity="0.65"/>
<circle cx="427.5" cy="18.8" r="1.7" fill="#cdcde0" fill-opacity="0.65"/>
<circle cx="416.6" cy="62.6" r="2.1" fill="#f2f2f7" fill-opacity="0.65"/>
<circle cx="488.8" cy="69.8" r="1.4" fill="#f2f2f7" fill-opacity="0.65"/>
<circle cx="441.5" cy="80.1" r="2.1" fill="#cdcde0" fill-opacity="0.65"/>
<circle cx="400.1" cy="46.6" r="2.1" fill="#f7f7fa" fill-opacity="0.65"/>
<circle cx="463.3" cy="65.4" r="1.5" fill="#d2d2e3" fill-opacity="0.65"/>
<circle cx="477.1" cy="79.1" r="1.4" fill="#c8c8dc" fill-opacity="0.65"/>
<circle cx="394.3" cy="14.0" r="1.4" fill="#f2f2f7" fill-opacity="0.65"/>
<circle cx="427.7" cy="72.1" r="1.7" fill="#cdcde0" fill-opacity="0.65"/>
<circle cx="421.9" cy="20.2" r="2.2" fill="#f7f7fa" fill-opacity="0.65"/>
<circle cx="408.6" cy="13.6" r="1.7" fill="#f7f7fa" fill-opacity="0.65"/>
<circle cx="448.9" cy="66.2" r="1.8" fill="#f2f2f7" fill-opacity="0.65"/>
<circle cx="488.3" cy="38.1" r="1.8" fill="#c4c5da" fill-opacity="0.65"/>
<circle cx="481.8" cy="67.1" r="1.3" fill="#c4c5da" fill-opacity="0.65"/>
<circle cx="420.1" cy="33.8" r="2.0" fill="#f2f2f7" fill-opacity="0.65"/>
<circle cx="457.2" cy="18.5" r="1.5" fill="#cacbde" fill-opacity="0.65"/>
<circle cx="452.1" cy="26.0" r="1.5" fill="#c8c8dc" fill-opacity="0.65"/>
<circle cx="488.2" cy="20.0" r="2.1" fill="#f7f7fa" fill-opacity="0.65"/>
<circle cx="423.0" cy="15.7" r="1.3" fill="#cacbde" fill-opacity="0.65"/>
<circle cx="439.8" cy="55.3" r="1.7" fill="#f2f2f7" fill-opacity="0.65"/>
<circle cx="465.0" cy="24.1" r="2.1" fill="#c4c5da" fill-opacity="0.65"/>
<circle cx="458.4" cy="79.5" r="2.0" fill="#d2d2e3" fill-opacity="0.65"/>
<circle cx="470.2" cy="30.2" r="1.7" fill="#cdcde0" fill-opacity="0.65"/>
<circle cx="451.7" cy="68.7" r="1.5" fill="#cdcde0" fill-opacity="0.65"/>
<circle cx="382.5" cy="39.1" r="1.3" fill="#cacbde" fill-opacity="0.65"/>
<circle cx="447.8" cy="7.8" r="1.7" fill="#f7f7fa" fill-opacity="0.65"/>
<circle cx="435.1" cy="31.3" r="1.7" fill="#d2d2e3" fill-opacity="0.65"/>
<circle cx="420.2" cy="81.9" r="1.6" fill="#f2f2f7" fill-opacity="0.65"/>
<circle cx="477.0" cy="51.1" r="1.3" fill="#f2f2f7" fill-opacity="0.65"/>
<circle cx="450.7" cy="20.2" r="1.9" fill="#f7f7fa" fill-opacity="0.65"/>
<circle cx="391.4" cy="38.4" r="1.4" fill="#c4c5da" fill-opacity="0.65"/>
<circle cx="445.0" cy="76.0" r="2.2" fill="#f2f2f7" fill-opacity="0.65"/>
<circle cx="431.3" cy="9.4" r="1.3" fill="#c4c5da" fill-opacity="0.65"/>
<circle cx="455.1" cy="18.8" r="1.7" fill="#d2d2e3" fill-opacity="0.65"/>
<circle cx="470.2" cy="64.3" r="2.1" fill="#f7f7fa" fill-opacity="0.65"/>
<circle cx="444.1" cy="67.7" r="2.0" fill="#c8c8dc" fill-opacity="0.65"/>
<circle cx="471.5" cy="64.3" r="2.1" fill="#f2f2f7" fill-opacity="0.65"/>
<circle cx="415.4" cy="40.6" r="1.7" fill="#f7f7fa" fill-opacity="0.65"/>
<circle cx="444.6" cy="55.2" r="1.8" fill="#c8c8dc" fill-opacity="0.65"/>
<circle cx="474.6" cy="68.8" r="1.2" fill="#f7f7fa" fill-opacity="0.65"/>
<circle cx="423.0" cy="76.6" r="1.4" fill="#c4c5da" fill-opacity="0.65"/>
<circle cx="410.7" cy="66.1" r="1.8" fill="#cacbde" fill-opacity="0.65"/>
<circle cx="401.3" cy="32.0" r="1.9" fill="#d2d2e3" fill-opacity="0.65"/>
<circle cx="432.2" cy="26.5" r="1.9" fill="#c8c8dc" fill-opacity="0.65"/>
<circle cx="441.7" cy="52.8" r="1.8" fill="#f7f7fa" fill-opacity="0.65"/>
<circle cx="445.4" cy="6.8" r="2.2" fill="#f2f2f7" fill-opacity="0.65"/>
<circle cx="453.1" cy="55.1" r="1.7" fill="#cacbde" fill-opacity="0.65"/>
<circle cx="489.1" cy="20.4" r="2.0" fill="#f2f2f7" fill-opacity="0.65"/>
<circle cx="435.8" cy="51.9" r="1.8" fill="#c4c5da" fill-opacity="0.65"/>
<circle cx="399.4" cy="24.5" r="2.1" fill="#c8c8dc" fill-opacity="0.65"/>
<circle cx="433.5" cy="16.5" r="1.6" fill="#cdcde0" fill-opacity="0.65"/>
<circle cx="412.6" cy="72.1" r="1.7" fill="#c4c5da" fill-opacity="0.65"/>
<circle cx="429.4" cy="42.0" r="1.7" fill="#c4c5da" fill-opacity="0.65"/>
<circle cx="468.8" cy="45.7" r="2.2" fill="#c4c5da" fill-opacity="0.65"/>
<circle cx="488.5" cy="60.6" r="1.4" fill="#f7f7fa" fill-opacity="0.65"/>
<circle cx="423.9" cy="34.4" r="1.2" fill="#c8c8dc" fill-opacity="0.65"/>
<circle cx="480.0" cy="58.4" r="1.4" fill="#c4c5da" fill-opacity="0.65"/>
<circle cx="384.5" cy="31.1" r="1.6" fill="#c4c5da" fill-opacity="0.65"/>
<circle cx="467.9" cy="11.2" r="1.9" fill="#f7f7fa" fill-opacity="0.65"/>
<circle cx="423.3" cy="20.2" r="1.3" fill="#c8c8dc" fill-opacity="0.65"/>
<circle cx="430.2" cy="65.9" r="1.4" fill="#f2f2f7" fill-opacity="0.65"/>
<circle cx="468.5" cy="13.1" r="1.4" fill="#c4c5da" fill-opacity="0.65"/>
<circle cx="433.1" cy="13.6" r="2.0" fill="#c8c8dc" fill-opacity="0.65"/>
<circle cx="431.1" cy="34.1" r="1.7" fill="#f2f2f7" fill-opacity="0.65"/>
<circle cx="488.1" cy="78.9" r="1.3" fill="#c4c5da" fill-opacity="0.65"/>
<circle cx="447.6" cy="80.8" r="2.1" fill="#cdcde0" fill-opacity="0.65"/>
<circle cx="475.3" cy="32.1" r="2.1" fill="#cdcde0" fill-opacity="0.65"/>
<circle cx="394.6" cy="30.0" r="1.6" fill="#f2f2f7" fill-opacity="0.65"/>
<circle cx="446.0" cy="31.3" r="1.3" fill="#d2d2e3" fill-opacity="0.65"/>
<circle cx="476.7" cy="46.1" r="1.3" fill="#c4c5da" fill-opacity="0.65"/>
<circle cx="481.9" cy="69.0" r="1.6" fill="#c8c8dc" fill-opacity="0.65"/>
<circle cx="446.9" cy="70.0" r="1.3" fill="#cdcde0" fill-opacity="0.65"/>
<circle cx="425.8" cy="52.9" r="1.6" fill="#d2d2e3" fill-opacity="0.65"/>
<circle cx="388.2" cy="10.5" r="1.6" fill="#f7f7fa" fill-opacity="0.65"/>
<circle cx="413.4" cy="78.2" r="1.7" fill="#c4c5da" fill-opacity="0.65"/>
<circle cx="383.1" cy="58.8" r="1.5" fill="#d2d2e3" fill-opacity="0.65"/>
<circle cx="469.1" cy="13.8" r="1.8" fill="#c8c8dc" fill-opacity="0.65"/>
<circle cx="413.9" cy="29.7" r="1.3" fill="#c8c8dc" fill-opacity="0.65"/>
<circle cx="469.9" cy="52.7" r="1.9" fill="#c8c8dc" fill-opacity="0.65"/>
<circle cx="421.0" cy="40.9" r="1.7" fill="#c8c8dc" fill-opacity="0.65"/>
<circle cx="427.5" cy="37.7" r="2.0" fill="#cacbde" fill-opacity="0.65"/>
<circle cx="435.7" cy="33.2" r="2.0" fill="#f7f7fa" fill-opacity="0.65"/>
<circle cx="424.3" cy="81.6" r="1.9" fill="#f2f2f7" fill-opacity="0.65"/>
<circle cx="461.3" cy="58.8" r="1.7" fill="#f7f7fa" fill-opacity="0.65"/>
<circle cx="480.3" cy="71.3" r="1.7" fill="#f2f2f7" fill-opacity="0.65"/>
<circle cx="482.9" cy="71.1" r="2.0" fill="#f7f7fa" fill-opacity="0.65"/>
<circle cx="447.3" cy="76.9" r="1.2" fill="#d2d2e3" fill-opacity="0.65"/>
<circle cx="395.8" cy="7.2" r="1.8" fill="#f7f7fa" fill-opacity="0.65"/>
<circle cx="411.0" cy="76.0" r="2.0" fill="#c8c8dc" fill-opacity="0.65"/>
<circle cx="462.4" cy="30.4" r="2.1" fill="#c8c8dc" fill-opacity="0.65"/>
<circle cx="417.4" cy="75.8" r="1.6" fill="#cacbde" fill-opacity="0.65"/>
<circle cx="467.0" cy="27.9" r="1.3" fill="#cacbde" fill-opacity="0.65"/>
<circle cx="432.2" cy="78.6" r="1.8" fill="#cacbde" fill-opacity="0.65"/>
<circle cx="439.5" cy="9.2" r="1.7" fill="#c4c5da" fill-opacity="0.65"/>
<circle cx="400.1" cy="51.5" r="1.6" fill="#d2d2e3" fill-opacity="0.65"/>
<circle cx="394.9" cy="41.1" r="1.5" fill="#cacbde" fill-opacity="0.65"/>
<circle cx="436.5" cy="20.7" r="1.6" fill="#f7f7fa" fill-opacity="0.65"/>
<circle cx="433.4" cy="40.3" r="1.8" fill="#c8c8dc" fill-opacity="0.65"/>
<circle cx="484.0" cy="76.8" r="2.0" fill="#cdcde0" fill-opacity="0.65"/>
<circle cx="459.3" cy="21.9" r="2.1" fill="#d2d2e3" fill-opacity="0.65"/>
<circle cx="448.1" cy="33.7" r="2.2" fill="#c4c5da" fill-opacity="0.65"/>
<circle cx="453.3" cy="16.6" r="2.1" fill="#cacbde" fill-opacity="0.65"/>
<circle cx="486.3" cy="79.7" r="1.9" fill="#c8c8dc" fill-opacity="0.65"/>
<circle cx="408.0" cy="67.5" r="2.1" fill="#c4c5da" fill-opacity="0.65"/>
<circle cx="441.7" cy="41.0" r="1.5" fill="#cacbde" fill-opacity="0.65"/>
<circle cx="445.3" cy="16.5" r="1.6" fill="#f7f7fa" fill-opacity="0.65"/>
<circle cx="465.5" cy="80.6" r="1.8" fill="#cacbde" fill-opacity="0.65"/>
<circle cx="417.0" cy="56.1" r="1.3" fill="#cdcde0" fill-opacity="0.65"/>
<circle cx="400.4" cy="64.2" r="1.3" fill="#c8c8dc" fill-opacity="0.65"/>
<circle cx="483.3" cy="71.7" r="2.0" fill="#f2f2f7" fill-opacity="0.65"/>
<circle cx="418.1" cy="59.3" r="2.1" fill="#f2f2f7" fill-opacity="0.65"/>
<circle cx="463.3" cy="11.2" r="1.6" fill="#f7f7fa" fill-opacity="0.65"/>
<circle cx="461.9" cy="44.4" r="2.1" fill="#cacbde" fill-opacity="0.65"/>
<circle cx="430.5" cy="58.9" r="1.9" fill="#cacbde" fill-opacity="0.65"/>
<circle cx="429.2" cy="11.2" r="2.2" fill="#f2f2f7" fill-opacity="0.65"/>
<circle cx="480.6" cy="62.6" r="2.0" fill="#d2d2e3" fill-opacity="0.65"/>
<circle cx="485.3" cy="18.2" r="1.6" fill="#f2f2f7" fill-opacity="0.65"/>
<circle cx="441.7" cy="15.0" r="1.2" fill="#d2d2e3" fill-opacity="0.65"/>
<circle cx="482.7" cy="71.3" r="1.3" fill="#d2d2e3" fill-opacity="0.65"/>
<circle cx="471.7" cy="52.3" r="1.3" fill="#f2f2f7" fill-opacity="0.65"/>
<circle cx="383.5" cy="73.8" r="1.8" fill="#cacbde" fill-opacity="0.65"/>
<circle cx="415.1" cy="20.2" r="1.3" fill="#cacbde" fill-opacity="0.65"/>
<circle cx="389.1" cy="58.0" r="1.3" fill="#cacbde" fill-opacity="0.65"/>
<circle cx="441.9" cy="10.7" r="1.7" fill="#d2d2e3" fill-opacity="0.65"/>
<circle cx="470.4" cy="80.9" r="2.0" fill="#d2d2e3" fill-opacity="0.65"/>
<circle cx="431.9" cy="7.7" r="1.8" fill="#cacbde" fill-opacity="0.65"/>
<circle cx="400.0" cy="71.4" r="1.6" fill="#c8c8dc" fill-opacity="0.65"/>
<circle cx="381.7" cy="70.9" r="1.8" fill="#d2d2e3" fill-opacity="0.65"/>
<circle cx="446.7" cy="72.6" r="2.0" fill="#cdcde0" fill-opacity="0.65"/>
<circle cx="432.2" cy="76.0" r="1.6" fill="#c8c8dc" fill-opacity="0.65"/>
<circle cx="442.4" cy="77.6" r="1.3" fill="#f7f7fa" fill-opacity="0.65"/>
<circle cx="424.8" cy="27.9" r="1.9" fill="#c8c8dc" fill-opacity="0.65"/>
<circle cx="444.8" cy="64.2" r="1.9" fill="#c8c8dc" fill-opacity="0.65"/>
<circle cx="447.2" cy="39.3" r="2.0" fill="#c4c5da" fill-opacity="0.65"/>
<circle cx="449.8" cy="59.5" r="1.8" fill="#c4c5da" fill-opacity="0.65"/>
<circle cx="406.2" cy="7.7" r="1.5" fill="#cacbde" fill-opacity="0.65"/>
<circle cx="413.4" cy="44.4" r="1.7" fill="#c4c5da" fill-opacity="0.65"/>
<circle cx="458.2" cy="34.3" r="1.6" fill="#c4c5da" fill-opacity="0.65"/>
<circle cx="486.3" cy="66.7" r="2.0" fill="#f7f7fa" fill-opacity="0.65"/>
<circle cx="395.9" cy="30.6" r="1.6" fill="#c4c5da" fill-opacity="0.65"/>
<circle cx="395.6" cy="64.5" r="2.0" fill="#f7f7fa" fill-opacity="0.65"/>
<circle cx="466.8" cy="18.8" r="1.8" fill="#f7f7fa" fill-opacity="0.65"/>
<circle cx="429.6" cy="42.5" r="1.6" fill="#c4c5da" fill-opacity="0.65"/>
<circle cx="437.5" cy="27.4" r="2.2" fill="#d2d2e3" fill-opacity="0.65"/>
<circle cx="472.0" cy="63.5" r="1.2" fill="#c8c8dc" fill-opacity="0.65"/>
<circle cx="405.3" cy="30.0" r="1.8" fill="#c4c5da" fill-opacity="0.65"/>
<circle cx="474.7" cy="82.2" r="1.8" fill="#cdcde0" fill-opacity="0.65"/>
<circle cx="479.3" cy="77.9" r="1.5" fill="#f2f2f7" fill-opacity="0.65"/>
<circle cx="420.7" cy="53.1" r="2.0" fill="#d2d2e3" fill-opacity="0.65"/>
<circle cx="392.1" cy="80.0" r="1.3" fill="#cacbde" fill-opacity="0.65"/>
<circle cx="460.9" cy="51.9" r="2.0" fill="#cdcde0" fill-opacity="0.65"/>
<circle cx="387.9" cy="75.2" r="2.0" fill="#d2d2e3" fill-opacity="0.65"/>
<circle cx="475.8" cy="44.9" r="1.6" fill="#c4c5da" fill-opacity="0.65"/>
<circle cx="385.5" cy="47.3" r="2.1" fill="#cacbde" fill-opacity="0.65"/>
<circle cx="491.5" cy="32.0" r="1.4" fill="#d2d2e3" fill-opacity="0.65"/>
<circle cx="417.6" cy="66.3" r="1.8" fill="#d2d2e3" fill-opacity="0.65"/>
<circle cx="438.1" cy="71.2" r="2.1" fill="#cacbde" fill-opacity="0.65"/>
<circle cx="479.3" cy="33.7" r="2.0" fill="#c4c5da" fill-opacity="0.65"/>
<circle cx="403.8" cy="77.7" r="1.3" fill="#c8c8dc" fill-opacity="0.65"/>
<circle cx="464.2" cy="82.6" r="1.8" fill="#c8c8dc" fill-opacity="0.65"/>
<circle cx="433.4" cy="76.7" r="1.9" fill="#c4c5da" fill-opacity="0.65"/>
<circle cx="449.9" cy="80.6" r="1.5" fill="#cdcde0" fill-opacity="0.65"/>
<circle cx="390.5" cy="8.0" r="2.0" fill="#cdcde0" fill-opacity="0.65"/>
<circle cx="435.7" cy="39.1" r="1.6" fill="#c4c5da" fill-opacity="0.65"/>
<circle cx="415.0" cy="21.2" r="1.6" fill="#d2d2e3" fill-opacity="0.65"/>
<circle cx="384.5" cy="53.8" r="2.1" fill="#c8c8dc" fill-opacity="0.65"/>
<circle cx="408.1" cy="16.3" r="1.5" fill="#f2f2f7" fill-opacity="0.65"/>
<circle cx="473.2" cy="62.9" r="1.4" fill="#cdcde0" fill-opacity="0.65"/>
<circle cx="436.8" cy="45.0" r="1.3" fill="#cdcde0" fill-opacity="0.65"/>
<circle cx="440.9" cy="10.6" r="1.6" fill="#cdcde0" fill-opacity="0.65"/>
<circle cx="388.6" cy="29.5" r="1.2" fill="#c4c5da" fill-opacity="0.65"/>
<circle cx="477.0" cy="73.7" r="1.2" fill="#d2d2e3" fill-opacity="0.65"/>
<circle cx="407.6" cy="72.6" r="1.4" fill="#c4c5da" fill-opacity="0.65"/>
<circle cx="440.2" cy="10.9" r="1.6" fill="#f2f2f7" fill-opacity="0.65"/>
<circle cx="462.8" cy="40.7" r="1.3" fill="#f7f7fa" fill-opacity="0.65"/>
<circle cx="424.6" cy="67.9" r="1.2" fill="#f7f7fa" fill-opacity="0.65"/>
<circle cx="422.7" cy="25.3" r="1.6" fill="#cdcde0" fill-opacity="0.65"/>
<circle cx="457.9" cy="23.9" r="1.4" fill="#d2d2e3" fill-opacity="0.65"/>
<circle cx="475.1" cy="23.9" r="2.2" fill="#f7f7fa" fill-opacity="0.65"/>
<circle cx="457.8" cy="38.8" r="1.2" fill="#c8c8dc" fill-opacity="0.65"/>
<circle cx="386.9" cy="55.5" r="1.7" fill="#cacbde" fill-opacity="0.65"/>
<circle cx="424.2" cy="82.8" r="1.4" fill="#cacbde" fill-opacity="0.65"/>
<circle cx="431.0" cy="50.0" r="2.2" fill="#cdcde0" fill-opacity="0.65"/>
<circle cx="395.2" cy="13.1" r="2.0" fill="#f7f7fa" fill-opacity="0.65"/>
<circle cx="473.0" cy="38.8" r="2.2" fill="#c8c8dc" fill-opacity="0.65"/>
<circle cx="396.3" cy="16.9" r="1.8" fill="#cacbde" fill-opacity="0.65"/>
<circle cx="481.2" cy="84.0" r="1.8" fill="#f7f7fa" fill-opacity="0.65"/>
<circle cx="414.8" cy="17.7" r="1.7" fill="#c8c8dc" fill-opacity="0.65"/>
<circle cx="451.0" cy="19.0" r="2.1" fill="#cacbde" fill-opacity="0.65"/>
<circle cx="435.1" cy="77.2" r="2.0" fill="#f2f2f7" fill-opacity="0.65"/>
<circle cx="461.8" cy="71.0" r="1.5" fill="#cdcde0" fill-opacity="0.65"/>
<circle cx="387.4" cy="65.8" r="1.7" fill="#cdcde0" fill-opacity="0.65"/>
<circle cx="413.2" cy="40.0" r="2.1" fill="#c4c5da" fill-opacity="0.65"/>
<circle cx="464.8" cy="74.9" r="2.1" fill="#c4c5da" fill-opacity="0.65"/>
<circle cx="414.6" cy="49.3" r="2.2" fill="#f7f7fa" fill-opacity="0.65"/>
<circle cx="437.0" cy="17.9" r="1.8" fill="#c8c8dc" fill-opacity="0.65"/>
<circle cx="421.7" cy="83.4" r="2.0" fill="#d2d2e3" fill-opacity="0.65"/>
<circle cx="471.5" cy="63.8" r="2.1" fill="#d2d2e3" fill-opacity="0.65"/>
<circle cx="436.9" cy="68.2" r="2.1" fill="#c8c8dc" fill-opacity="0.65"/>
<circle cx="444.1" cy="38.2" r="1.3" fill="#d2d2e3" fill-opacity="0.65"/>
<circle cx="460.8" cy="17.2" r="1.7" fill="#cacbde" fill-opacity="0.65"/>
<circle cx="428.1" cy="17.2" r="2.0" fill="#f7f7fa" fill-opacity="0.65"/>
<circle cx="389.3" cy="41.1" r="1.9" fill="#f2f2f7" fill-opacity="0.65"/>
<circle cx="411.7" cy="71.6" r="1.8" fill="#cacbde" fill-opacity="0.65"/>
<circle cx="444.2" cy="48.8" r="1.2" fill="#c4c5da" fill-opacity="0.65"/>
<circle cx="428.8" cy="71.9" r="2.1" fill="#f7f7fa" fill-opacity="0.65"/>
<circle cx="388.5" cy="18.9" r="1.4" fill="#c4c5da" fill-opacity="0.65"/>
<circle cx="426.4" cy="78.6" r="1.4" fill="#cdcde0" fill-opacity="0.65"/>
<circle cx="404.6" cy="38.5" r="1.3" fill="#f2f2f7" fill-opacity="0.65"/>
<circle cx="477.4" cy="18.5" r="1.2" fill="#f7f7fa" fill-opacity="0.65"/>
<circle cx="419.1" cy="21.0" r="1.4" fill="#cacbde" fill-opacity="0.65"/>
<circle cx="439.6" cy="62.9" r="1.8" fill="#c4c5da" fill-opacity="0.65"/>
<circle cx="465.1" cy="26.6" r="2.1" fill="#cacbde" fill-opacity="0.65"/>
<circle cx="404.5" cy="49.2" r="1.4" fill="#f7f7fa" fill-opacity="0.65"/>
<circle cx="445.5" cy="26.5" r="1.8" fill="#c4c5da" fill-opacity="0.65"/>
<circle cx="462.2" cy="66.3" r="1.8" fill="#cdcde0" fill-opacity="0.65"/>
<circle cx="407.9" cy="14.3" r="2.0" fill="#cdcde0" fill-opacity="0.65"/>
<circle cx="480.1" cy="42.8" r="1.4" fill="#c8c8dc" fill-opacity="0.65"/>
<circle cx="472.7" cy="71.2" r="2.2" fill="#f7f7fa" fill-opacity="0.65"/>
<circle cx="445.3" cy="25.4" r="1.4" fill="#f7f7fa" fill-opacity="0.65"/>
<circle cx="417.0" cy="36.0" r="1.8" fill="#cdcde0" fill-opacity="0.65"/>
<circle cx="490.5" cy="37.0" r="1.4" fill="#f2f2f7" fill-opacity="0.65"/>
<circle cx="406.0" cy="8.7" r="1.6" fill="#d2d2e3" fill-opacity="0.65"/>
<circle cx="396.2" cy="68.9" r="1.5" fill="#f7f7fa" fill-opacity="0.65"/>
<circle cx="471.8" cy="9.3" r="1.4" fill="#f2f2f7" fill-opacity="0.65"/>
<circle cx="442.2" cy="24.9" r="1.3" fill="#d2d2e3" fill-opacity="0.65"/>
<circle cx="415.7" cy="14.8" r="2.1" fill="#c8c8dc" fill-opacity="0.65"/>
<circle cx="444.6" cy="46.7" r="1.7" fill="#cdcde0" fill-opacity="0.65"/>
<circle cx="486.8" cy="53.9" r="1.9" fill="#cacbde" fill-opacity="0.65"/>
<circle cx="412.0" cy="22.3" r="1.4" fill="#c8c8dc" fill-opacity="0.65"/>
<circle cx="401.0" cy="62.1" r="1.8" fill="#cacbde" fill-opacity="0.65"/>
<circle cx="447.5" cy="54.9" r="1.7" fill="#f7f7fa" fill-opacity="0.65"/>
<circle cx="396.7" cy="45.8" r="1.7" fill="#f7f7fa" fill-opacity="0.65"/>
<circle cx="405.0" cy="63.4" r="1.8" fill="#c4c5da" fill-opacity="0.65"/>
<circle cx="449.2" cy="49.1" r="2.0" fill="#c4c5da" fill-opacity="0.65"/>
<circle cx="415.2" cy="65.6" r="1.7" fill="#cacbde" fill-opacity="0.65"/>
<circle cx="441.8" cy="34.2" r="1.3" fill="#f7f7fa" fill-opacity="0.65"/>
<circle cx="435.9" cy="83.7" r="1.8" fill="#d2d2e3" fill-opacity="0.65"/>
<circle cx="429.6" cy="15.8" r="1.5" fill="#f2f2f7" fill-opacity="0.65"/>
<circle cx="460.5" cy="54.3" r="2.0" fill="#d2d2e3" fill-opacity="0.65"/>
<circle cx="490.8" cy="44.2" r="2.0" fill="#cacbde" fill-opacity="0.65"/>
<circle cx="441.7" cy="58.2" r="1.8" fill="#c8c8dc" fill-opacity="0.65"/>
<circle cx="476.2" cy="49.0" r="1.2" fill="#d2d2e3" fill-opacity="0.65"/>
<circle cx="488.3" cy="43.8" r="1.4" fill="#f7f7fa" fill-opacity="0.65"/>
<circle cx="449.7" cy="29.7" r="1.2" fill="#cdcde0" fill-opacity="0.65"/>
<circle cx="400.8" cy="61.7" r="1.4" fill="#f7f7fa" fill-opacity="0.65"/>
<circle cx="405.7" cy="29.2" r="1.9" fill="#d2d2e3" fill-opacity="0.65"/>
<circle cx="381.9" cy="82.3" r="2.1" fill="#d2d2e3" fill-opacity="0.65"/>
<circle cx="389.8" cy="67.4" r="2.2" fill="#f2f2f7" fill-opacity="0.65"/>
<circle cx="420.5" cy="40.7" r="2.1" fill="#c8c8dc" fill-opacity="0.65"/>
<circle cx="448.9" cy="82.7" r="2.0" fill="#c8c8dc" fill-opacity="0.65"/>
<circle cx="468.7" cy="53.0" r="1.5" fill="#f7f7fa" fill-opacity="0.65"/>
<circle cx="456.6" cy="33.0" r="1.7" fill="#f7f7fa" fill-opacity="0.65"/>
<circle cx="386.3" cy="56.7" r="1.7" fill="#c4c5da" fill-opacity="0.65"/>
<circle cx="435.7" cy="40.9" r="1.4" fill="#cdcde0" fill-opacity="0.65"/>
<circle cx="427.8" cy="53.1" r="1.5" fill="#f7f7fa" fill-opacity="0.65"/>
<circle cx="451.6" cy="55.8" r="2.1" fill="#cdcde0" fill-opacity="0.65"/>
<circle cx="407.4" cy="82.2" r="1.7" fill="#c4c5da" fill-opacity="0.65"/>
<circle cx="421.0" cy="40.2" r="2.2" fill="#d2d2e3" fill-opacity="0.65"/>
<circle cx="456.7" cy="26.4" r="2.1" fill="#c4c5da" fill-opacity="0.65"/>
<circle cx="423.4" cy="83.9" r="1.6" fill="#d2d2e3" fill-opacity="0.65"/>
<circle cx="445.0" cy="47.1" r="1.7" fill="#f7f7fa" fill-opacity="0.65"/>
<circle cx="407.1" cy="18.4" r="1.4" fill="#c4c5da" fill-opacity="0.65"/>
<circle cx="490.3" cy="7.8" r="1.3" fill="#f2f2f7" fill-opacity="0.65"/>
<circle cx="481.4" cy="81.6" r="2.0" fill="#d2d2e3" fill-opacity="0.65"/>
<circle cx="392.8" cy="42.3" r="2.2" fill="#c4c5da" fill-opacity="0.65"/>
<circle cx="382.6" cy="10.7" r="1.5" fill="#d2d2e3" fill-opacity="0.65"/>
<circle cx="471.9" cy="54.4" r="1.9" fill="#cdcde0" fill-opacity="0.65"/>
<circle cx="446.4" cy="77.1" r="1.9" fill="#cdcde0" fill-opacity="0.65"/>
<circle cx="433.7" cy="34.6" r="1.9" fill="#d2d2e3" fill-opacity="0.65"/>
<circle cx="483.2" cy="44.0" r="1.4" fill="#d2d2e3" fill-opacity="0.65"/>
<circle cx="464.3" cy="44.2" r="1.4" fill="#c8c8dc" fill-opacity="0.65"/>
<circle cx="391.3" cy="25.3" r="1.4" fill="#f7f7fa" fill-opacity="0.65"/>
<circle cx="425.1" cy="14.5" r="1.2" fill="#f7f7fa" fill-opacity="0.65"/>
<circle cx="410.2" cy="74.8" r="1.2" fill="#cdcde0" fill-opacity="0.65"/>
<circle cx="491.2" cy="41.8" r="1.7" fill="#cdcde0" fill-opacity="0.65"/>
<circle cx="408.9" cy="64.1" r="2.2" fill="#f2f2f7" fill-opacity="0.65"/>
<circle cx="385.0" cy="13.1" r="1.7" fill="#cdcde0" fill-opacity="0.65"/>
<circle cx="479.8" cy="68.1" r="1.8" fill="#c4c5da" fill-opacity="0.65"/>
<circle cx="397.5" cy="59.2" r="2.2" fill="#f7f7fa" fill-opacity="0.65"/>
<circle cx="406.8" cy="62.1" r="1.4" fill="#f2f2f7" fill-opacity="0.65"/>
<circle cx="473.7" cy="67.4" r="1.4" fill="#f2f2f7" fill-opacity="0.65"/>
<circle cx="471.0" cy="73.1" r="1.3" fill="#cdcde0" fill-opacity="0.65"/>
<circle cx="401.6" cy="50.0" r="1.5" fill="#c4c5da" fill-opacity="0.65"/>
<circle cx="429.0" cy="69.7" r="2.1" fill="#d2d2e3" fill-opacity="0.65"/>
<circle cx="409.7" cy="7.4" r="2.2" fill="#c4c5da" fill-opacity="0.65"/>
<circle cx="394.9" cy="57.6" r="2.1" fill="#cacbde" fill-opacity="0.65"/>
<circle cx="426.2" cy="11.9" r="2.0" fill="#f2f2f7" fill-opacity="0.65"/>
<circle cx="424.4" cy="66.4" r="1.2" fill="#d2d2e3" fill-opacity="0.65"/>
<circle cx="414.3" cy="70.8" r="1.7" fill="#f7f7fa" fill-opacity="0.65"/>
<circle cx="409.2" cy="37.8" r="1.4" fill="#f7f7fa" fill-opacity="0.65"/>
<circle cx="438.7" cy="61.9" r="1.7" fill="#f7f7fa" fill-opacity="0.65"/>
<circle cx="467.7" cy="49.3" r="1.3" fill="#d2d2e3" fill-opacity="0.65"/>
<circle cx="448.0" cy="65.1" r="1.6" fill="#f7f7fa" fill-opacity="0.65"/>
<circle cx="434.2" cy="63.8" r="1.4" fill="#cacbde" fill-opacity="0.65"/>
<circle cx="481.0" cy="37.2" r="2.0" fill="#cacbde" fill-opacity="0.65"/>
<circle cx="383.9" cy="76.8" r="2.2" fill="#c4c5da" fill-opacity="0.65"/>
<circle cx="461.6" cy="65.8" r="1.7" fill="#cdcde0" fill-opacity="0.65"/>
<circle cx="386.2" cy="65.9" r="1.3" fill="#cdcde0" fill-opacity="0.65"/>
<circle cx="383.4" cy="45.6" r="2.0" fill="#d2d2e3" fill-opacity="0.65"/>
<circle cx="437.3" cy="68.6" r="1.8" fill="#f7f7fa" fill-opacity="0.65"/>
<circle cx="438.8" cy="23.9" r="2.0" fill="#c4c5da" fill-opacity="0.65"/>
<circle cx="439.1" cy="52.7" r="1.7" fill="#cacbde" fill-opacity="0.65"/>
<circle cx="451.4" cy="51.4" r="1.7" fill="#d2d2e3" fill-opacity="0.65"/>
<circle cx="474.2" cy="47.7" r="2.1" fill="#c8c8dc" fill-opacity="0.65"/>
<circle cx="472.6" cy="66.4" r="1.9" fill="#f7f7fa" fill-opacity="0.65"/>
<circle cx="439.5" cy="51.9" r="1.3" fill="#c4c5da" fill-opacity="0.65"/>
<circle cx="408.6" cy="54.0" r="1.7" fill="#f7f7fa" fill-opacity="0.65"/>
<circle cx="420.2" cy="76.3" r="1.4" fill="#cacbde" fill-opacity="0.65"/>
<circle cx="381.9" cy="17.3" r="1.7" fill="#f7f7fa" fill-opacity="0.65"/>
<circle cx="430.6" cy="39.8" r="1.8" fill="#f2f2f7" fill-opacity="0.65"/>
<circle cx="383.5" cy="49.4" r="2.1" fill="#f7f7fa" fill-opacity="0.65"/>
<circle cx="488.5" cy="41.3" r="1.6" fill="#cacbde" fill-opacity="0.65"/>
<circle cx="412.5" cy="22.7" r="1.5" fill="#cdcde0" fill-opacity="0.65"/>
<circle cx="442.7" cy="46.8" r="1.6" fill="#c8c8dc" fill-opacity="0.65"/>
<circle cx="470.6" cy="57.1" r="1.7" fill="#f2f2f7" fill-opacity="0.65"/>
<circle cx="396.3" cy="76.5" r="2.2" fill="#f2f2f7" fill-opacity="0.65"/>
<circle cx="456.4" cy="68.1" r="1.9" fill="#cdcde0" fill-opacity="0.65"/>
<circle cx="388.8" cy="29.7" r="2.1" fill="#cacbde" fill-opacity="0.65"/>
<circle cx="439.0" cy="54.6" r="2.2" fill="#f7f7fa" fill-opacity="0.65"/>
<circle cx="480.9" cy="65.1" r="1.4" fill="#c4c5da" fill-opacity="0.65"/>
<circle cx="471.4" cy="29.0" r="1.9" fill="#cdcde0" fill-opacity="0.65"/>
<circle cx="431.1" cy="66.0" r="2.2" fill="#f7f7fa" fill-opacity="0.65"/>
<circle cx="445.9" cy="61.8" r="1.6" fill="#d2d2e3" fill-opacity="0.65"/>
<circle cx="461.0" cy="50.6" r="2.1" fill="#cdcde0" fill-opacity="0.65"/>
<circle cx="438.8" cy="64.6" r="1.3" fill="#f2f2f7" fill-opacity="0.65"/>
<circle cx="486.7" cy="59.2" r="1.2" fill="#c4c5da" fill-opacity="0.65"/>
<circle cx="432.8" cy="22.5" r="2.0" fill="#cacbde" fill-opacity="0.65"/>
<circle cx="396.1" cy="52.9" r="1.5" fill="#f7f7fa" fill-opacity="0.65"/>
<circle cx="433.1" cy="42.7" r="1.6" fill="#f7f7fa" fill-opacity="0.65"/>
<circle cx="427.4" cy="64.5" r="1.4" fill="#d2d2e3" fill-opacity="0.65"/>
<circle cx="384.2" cy="47.3" r="1.9" fill="#d2d2e3" fill-opacity="0.65"/>
<circle cx="471.8" cy="17.4" r="1.6" fill="#c4c5da" fill-opacity="0.65"/>
<circle cx="412.8" cy="76.2" r="1.5" fill="#f2f2f7" fill-opacity="0.65"/>
<circle cx="459.5" cy="21.7" r="1.6" fill="#d2d2e3" fill-opacity="0.65"/>
<circle cx="400.9" cy="63.2" r="1.4" fill="#d2d2e3" fill-opacity="0.65"/>
<circle cx="421.9" cy="25.6" r="1.5" fill="#cdcde0" fill-opacity="0.65"/>
<circle cx="398.9" cy="37.6" r="1.3" fill="#f2f2f7" fill-opacity="0.65"/>
<circle cx="467.9" cy="27.0" r="1.4" fill="#cdcde0" fill-opacity="0.65"/>
<circle cx="478.3" cy="61.2" r="2.0" fill="#d2d2e3" fill-opacity="0.65"/>
<circle cx="483.9" cy="38.6" r="1.8" fill="#c8c8dc" fill-opacity="0.65"/>
<circle cx="384.3" cy="50.5" r="1.6" fill="#c4c5da" fill-opacity="0.65"/>
<circle cx="382.0" cy="65.0" r="1.3" fill="#d2d2e3" fill-opacity="0.65"/>
<circle cx="382.3" cy="62.7" r="1.3" fill="#c8c8dc" fill-opacity="0.65"/>
<circle cx="397.5" cy="58.2" r="1.4" fill="#f7f7fa" fill-opacity="0.65"/>
<circle cx="398.4" cy="51.2" r="1.9" fill="#cdcde0" fill-opacity="0.65"/>
<circle cx="411.2" cy="30.6" r="2.2" fill="#c4c5da" fill-opacity="0.65"/>
<circle cx="416.9" cy="11.3" r="1.9" fill="#cacbde" fill-opacity="0.65"/>
<circle cx="485.0" cy="12.8" r="1.5" fill="#cacbde" fill-opacity="0.65"/>
<circle cx="467.3" cy="70.3" r="1.9" fill="#f2f2f7" fill-opacity="0.65"/>
<circle cx="391.4" cy="10.5" r="1.4" fill="#c4c5da" fill-opacity="0.65"/>
<circle cx="406.9" cy="39.1" r="1.9" fill="#c4c5da" fill-opacity="0.65"/>
<circle cx="384.1" cy="47.2" r="2.0" fill="#cdcde0" fill-opacity="0.65"/>
<circle cx="455.5" cy="78.0" r="1.7" fill="#f7f7fa" fill-opacity="0.65"/>
<circle cx="396.7" cy="44.6" r="1.5" fill="#f2f2f7" fill-opacity="0.65"/>
<circle cx="438.1" cy="59.9" r="1.5" fill="#c4c5da" fill-opacity="0.65"/>
<circle cx="384.3" cy="70.1" r="1.6" fill="#f2f2f7" fill-opacity="0.65"/>
<circle cx="487.5" cy="57.3" r="1.7" fill="#f2f2f7" fill-opacity="0.65"/>
<circle cx="398.3" cy="12.3" r="2.1" fill="#c4c5da" fill-opacity="0.65"/>
<circle cx="491.6" cy="48.7" r="1.9" fill="#f7f7fa" fill-opacity="0.65"/>
<circle cx="397.6" cy="14.7" r="2.1" fill="#d2d2e3" fill-opacity="0.65"/>
<circle cx="430.1" cy="59.1" r="1.2" fill="#c4c5da" fill-opacity="0.65"/>
<circle cx="444.1" cy="68.2" r="1.6" fill="#c4c5da" fill-opacity="0.65"/>
<circle cx="412.8" cy="67.1" r="1.7" fill="#c4c5da" fill-opacity="0.65"/>
<circle cx="418.6" cy="42.8" r="1.6" fill="#cacbde" fill-opacity="0.65"/>
<circle cx="385.3" cy="81.0" r="2.1" fill="#f7f7fa" fill-opacity="0.65"/>
<circle cx="491.4" cy="10.4" r="2.0" fill="#c8c8dc" fill-opacity="0.65"/>
<circle cx="445.0" cy="68.2" r="1.8" fill="#c8c8dc" fill-opacity="0.65"/>
<circle cx="453.3" cy="33.2" r="1.9" fill="#cdcde0" fill-opacity="0.65"/>
<circle cx="472.2" cy="44.5" r="1.4" fill="#f2f2f7" fill-opacity="0.65"/>
<circle cx="387.3" cy="25.4" r="1.9" fill="#cdcde0" fill-opacity="0.65"/>
<circle cx="488.9" cy="81.6" r="2.0" fill="#c4c5da" fill-opacity="0.65"/>
<circle cx="462.2" cy="66.3" r="2.2" fill="#d2d2e3" fill-opacity="0.65"/>
<circle cx="423.2" cy="65.0" r="1.7" fill="#cacbde" fill-opacity="0.65"/>
<circle cx="432.9" cy="27.6" r="1.8" fill="#cacbde" fill-opacity="0.65"/>
<circle cx="397.8" cy="13.0" r="1.8" fill="#d2d2e3" fill-opacity="0.65"/>
<circle cx="389.9" cy="57.7" r="2.1" fill="#f7f7fa" fill-opacity="0.65"/>
<circle cx="467.8" cy="28.9" r="1.2" fill="#cdcde0" fill-opacity="0.65"/>
<circle cx="397.3" cy="12.1" r="3.0" fill="#c8aedc" fill-opacity="0.6"/>
<circle cx="397.3" cy="12.1" r="1.8" fill="#58318a"/>
<circle cx="400.4" cy="16.5" r="3.5" fill="#c8aedc" fill-opacity="0.6"/>
<circle cx="400.4" cy="16.5" r="2.3" fill="#58318a"/>
<circle cx="457.9" cy="15.6" r="3.0" fill="#c8aedc" fill-opacity="0.6"/>
<circle cx="457.9" cy="15.6" r="1.8" fill="#58318a"/>
<circle cx="422.0" cy="29.3" r="3.0" fill="#c8aedc" fill-opacity="0.6"/>
<circle cx="422.0" cy="29.3" r="1.8" fill="#58318a"/>
<circle cx="463.0" cy="29.8" r="3.0" fill="#c8aedc" fill-opacity="0.6"/>
<circle cx="463.0" cy="29.8" r="1.8" fill="#58318a"/>
<circle cx="444.2" cy="37.1" r="3.4000000000000004" fill="#c8aedc" fill-opacity="0.6"/>
<circle cx="444.2" cy="37.1" r="2.2" fill="#58318a"/>
<circle cx="456.3" cy="49.9" r="3.0999999999999996" fill="#c8aedc" fill-opacity="0.6"/>
<circle cx="456.3" cy="49.9" r="1.9" fill="#58318a"/>
<circle cx="388.4" cy="59.2" r="2.5" fill="#c8aedc" fill-opacity="0.6"/>
<circle cx="388.4" cy="59.2" r="1.3" fill="#58318a"/>
<circle cx="390.0" cy="66.5" r="2.1" fill="#c8aedc" fill-opacity="0.6"/>
<circle cx="390.0" cy="66.5" r="0.9" fill="#58318a"/>
<circle cx="429.8" cy="63.6" r="2.8" fill="#c8aedc" fill-opacity="0.6"/>
<circle cx="429.8" cy="63.6" r="1.6" fill="#58318a"/>
<circle cx="451.9" cy="77.3" r="3.7" fill="#c8aedc" fill-opacity="0.6"/>
<circle cx="451.9" cy="77.3" r="2.5" fill="#58318a"/>
<circle cx="469.6" cy="79.8" r="2.8" fill="#c8aedc" fill-opacity="0.6"/>
<circle cx="469.6" cy="79.8" r="1.6" fill="#58318a"/>
<circle cx="477.3" cy="23.8" r="2.0" fill="#c8aedc" fill-opacity="0.6"/>
<circle cx="477.3" cy="23.8" r="0.8" fill="#58318a"/>
</g>
</g>
<rect x="383.2" y="8.6" width="106.40000000000003" height="73.4" fill="none" stroke="#555" stroke-width="1"/>
<clipPath id="cb2"><rect x="383.5" y="84.2" width="106.5" height="73.2"/></clipPath>
<g clip-path="url(#cb2)">
<rect x="383.5" y="84.2" width="106.5" height="73.2" fill="#e4eaf7"/>
<g filter="url(#bl2)">
<circle cx="417.2" cy="151.0" r="3.5" fill="#c4d0ee" fill-opacity="0.8"/>
<circle cx="485.4" cy="146.0" r="4.1" fill="#c4d0ee" fill-opacity="0.8"/>
<circle cx="425.0" cy="153.0" r="3.4" fill="#c4d0ee" fill-opacity="0.8"/>
<circle cx="395.1" cy="147.4" r="2.5" fill="#c4d0ee" fill-opacity="0.8"/>
<circle cx="405.9" cy="117.7" r="3.5" fill="#c4d0ee" fill-opacity="0.8"/>
<circle cx="476.3" cy="107.4" r="4.7" fill="#c4d0ee" fill-opacity="0.8"/>
<circle cx="389.9" cy="99.7" r="4.2" fill="#c4d0ee" fill-opacity="0.8"/>
<circle cx="454.6" cy="152.1" r="2.4" fill="#c4d0ee" fill-opacity="0.8"/>
<circle cx="396.2" cy="123.9" r="4.9" fill="#c4d0ee" fill-opacity="0.8"/>
<circle cx="458.0" cy="143.3" r="4.9" fill="#c4d0ee" fill-opacity="0.8"/>
<circle cx="413.7" cy="90.5" r="4.1" fill="#c4d0ee" fill-opacity="0.8"/>
<circle cx="389.5" cy="97.6" r="2.9" fill="#c4d0ee" fill-opacity="0.8"/>
<circle cx="387.2" cy="134.2" r="2.5" fill="#c4d0ee" fill-opacity="0.8"/>
<circle cx="463.6" cy="156.5" r="4.2" fill="#c4d0ee" fill-opacity="0.8"/>
<circle cx="443.6" cy="130.3" r="3.1" fill="#c4d0ee" fill-opacity="0.8"/>
<circle cx="396.6" cy="134.5" r="4.1" fill="#c4d0ee" fill-opacity="0.8"/>
<circle cx="411.0" cy="140.5" r="4.6" fill="#c4d0ee" fill-opacity="0.8"/>
<circle cx="424.5" cy="143.1" r="3.2" fill="#c4d0ee" fill-opacity="0.8"/>
<circle cx="434.7" cy="145.2" r="4.8" fill="#c4d0ee" fill-opacity="0.8"/>
<circle cx="487.7" cy="145.8" r="4.2" fill="#c4d0ee" fill-opacity="0.8"/>
<circle cx="423.5" cy="100.5" r="3.3" fill="#c4d0ee" fill-opacity="0.8"/>
<circle cx="400.4" cy="117.7" r="2.2" fill="#c4d0ee" fill-opacity="0.8"/>
<circle cx="410.9" cy="93.3" r="4.4" fill="#c4d0ee" fill-opacity="0.8"/>
<circle cx="444.7" cy="139.1" r="3.7" fill="#c4d0ee" fill-opacity="0.8"/>
<circle cx="473.8" cy="116.9" r="3.4" fill="#c4d0ee" fill-opacity="0.8"/>
<circle cx="384.2" cy="114.3" r="2.5" fill="#c4d0ee" fill-opacity="0.8"/>
<circle cx="487.6" cy="108.7" r="3.3" fill="#c4d0ee" fill-opacity="0.8"/>
<circle cx="398.3" cy="116.3" r="3.5" fill="#c4d0ee" fill-opacity="0.8"/>
<circle cx="476.2" cy="140.7" r="2.9" fill="#c4d0ee" fill-opacity="0.8"/>
<circle cx="432.8" cy="152.1" r="4.0" fill="#c4d0ee" fill-opacity="0.8"/>
<circle cx="483.9" cy="122.7" r="2.7" fill="#c4d0ee" fill-opacity="0.8"/>
<circle cx="489.0" cy="136.2" r="4.9" fill="#c4d0ee" fill-opacity="0.8"/>
<circle cx="474.3" cy="155.3" r="4.7" fill="#c4d0ee" fill-opacity="0.8"/>
<circle cx="414.3" cy="90.2" r="4.8" fill="#c4d0ee" fill-opacity="0.8"/>
<circle cx="482.2" cy="133.1" r="4.8" fill="#c4d0ee" fill-opacity="0.8"/>
<circle cx="398.5" cy="145.7" r="3.9" fill="#c4d0ee" fill-opacity="0.8"/>
<circle cx="485.4" cy="86.0" r="3.4" fill="#c4d0ee" fill-opacity="0.8"/>
<circle cx="475.2" cy="130.4" r="3.1" fill="#c4d0ee" fill-opacity="0.8"/>
<circle cx="429.9" cy="99.9" r="3.9" fill="#c4d0ee" fill-opacity="0.8"/>
<circle cx="448.8" cy="123.8" r="5.0" fill="#c4d0ee" fill-opacity="0.8"/>
<circle cx="435.7" cy="116.3" r="2.3" fill="#c4d0ee" fill-opacity="0.8"/>
<circle cx="397.2" cy="124.9" r="3.7" fill="#c4d0ee" fill-opacity="0.8"/>
<circle cx="411.5" cy="119.3" r="5.0" fill="#c4d0ee" fill-opacity="0.8"/>
<circle cx="488.0" cy="98.3" r="3.3" fill="#c4d0ee" fill-opacity="0.8"/>
<circle cx="423.4" cy="156.0" r="4.8" fill="#c4d0ee" fill-opacity="0.8"/>
<circle cx="437.4" cy="111.8" r="3.9" fill="#c4d0ee" fill-opacity="0.8"/>
<circle cx="448.7" cy="140.1" r="2.9" fill="#c4d0ee" fill-opacity="0.8"/>
<circle cx="417.5" cy="84.5" r="3.1" fill="#c4d0ee" fill-opacity="0.8"/>
<circle cx="398.2" cy="155.3" r="4.8" fill="#c4d0ee" fill-opacity="0.8"/>
<circle cx="455.2" cy="153.8" r="4.3" fill="#c4d0ee" fill-opacity="0.8"/>
<circle cx="440.1" cy="146.9" r="1.4" fill="#a0aad2"/>
<circle cx="417.3" cy="87.1" r="1.2" fill="#a0aad2"/>
<circle cx="414.8" cy="83.8" r="1.6" fill="#8894c4"/>
<circle cx="443.1" cy="99.1" r="1.5" fill="#8e9ac8"/>
<circle cx="414.8" cy="87.5" r="1.3" fill="#a0aad2"/>
<circle cx="392.9" cy="129.6" r="1.5" fill="#8e9ac8"/>
<circle cx="433.0" cy="96.0" r="1.5" fill="#aab3d8"/>
<circle cx="421.2" cy="105.1" r="1.2" fill="#8e9ac8"/>
<circle cx="467.4" cy="130.9" r="1.4" fill="#97a2cc"/>
<circle cx="447.3" cy="127.3" r="1.4" fill="#8894c4"/>
<circle cx="413.9" cy="155.0" r="1.2" fill="#8e9ac8"/>
<circle cx="395.5" cy="91.0" r="1.6" fill="#97a2cc"/>
<circle cx="408.2" cy="126.5" r="1.3" fill="#97a2cc"/>
<circle cx="420.5" cy="93.8" r="1.5" fill="#a0aad2"/>
<circle cx="383.8" cy="119.2" r="1.5" fill="#8e9ac8"/>
<circle cx="428.4" cy="109.7" r="1.6" fill="#aab3d8"/>
<circle cx="430.3" cy="112.3" r="1.3" fill="#aab3d8"/>
<circle cx="421.2" cy="107.0" r="1.4" fill="#aab3d8"/>
<circle cx="446.0" cy="120.4" r="1.5" fill="#8894c4"/>
<circle cx="458.7" cy="87.1" r="1.5" fill="#8894c4"/>
<circle cx="398.1" cy="113.3" r="1.6" fill="#8e9ac8"/>
<circle cx="392.8" cy="151.8" r="1.3" fill="#8894c4"/>
<circle cx="485.6" cy="131.1" r="1.3" fill="#aab3d8"/>
<circle cx="402.8" cy="96.6" r="1.4" fill="#97a2cc"/>
<circle cx="444.8" cy="83.3" r="1.3" fill="#aab3d8"/>
<circle cx="385.5" cy="135.4" r="1.5" fill="#97a2cc"/>
<circle cx="468.2" cy="134.4" r="1.4" fill="#aab3d8"/>
<circle cx="450.4" cy="124.8" r="1.3" fill="#97a2cc"/>
<circle cx="435.2" cy="102.3" r="1.3" fill="#8894c4"/>
<circle cx="391.9" cy="149.1" r="1.6" fill="#97a2cc"/>
<circle cx="431.5" cy="121.1" r="1.4" fill="#8894c4"/>
<circle cx="424.1" cy="110.4" r="1.3" fill="#8e9ac8"/>
<circle cx="473.3" cy="119.3" r="1.2" fill="#aab3d8"/>
<circle cx="434.8" cy="100.6" r="1.6" fill="#97a2cc"/>
<circle cx="436.7" cy="143.5" r="1.3" fill="#a0aad2"/>
<circle cx="466.9" cy="109.7" r="1.5" fill="#a0aad2"/>
<circle cx="470.1" cy="144.4" r="1.4" fill="#a0aad2"/>
<circle cx="460.4" cy="102.1" r="1.4" fill="#8e9ac8"/>
<circle cx="447.4" cy="151.5" r="1.5" fill="#8894c4"/>
<circle cx="462.9" cy="135.1" r="1.6" fill="#aab3d8"/>
<circle cx="470.5" cy="152.8" r="1.4" fill="#a0aad2"/>
<circle cx="484.6" cy="105.8" r="1.3" fill="#aab3d8"/>
<circle cx="445.1" cy="99.9" r="1.3" fill="#8894c4"/>
<circle cx="382.7" cy="98.9" r="1.4" fill="#8894c4"/>
<circle cx="436.5" cy="137.4" r="1.3" fill="#8894c4"/>
<circle cx="488.1" cy="90.1" r="1.4" fill="#aab3d8"/>
<circle cx="472.4" cy="95.4" r="1.5" fill="#a0aad2"/>
<circle cx="489.8" cy="148.8" r="1.4" fill="#8894c4"/>
<circle cx="469.9" cy="158.2" r="1.2" fill="#97a2cc"/>
<circle cx="386.5" cy="111.6" r="1.4" fill="#97a2cc"/>
<circle cx="447.0" cy="150.7" r="1.3" fill="#97a2cc"/>
<circle cx="446.2" cy="150.4" r="1.6" fill="#8e9ac8"/>
<circle cx="389.7" cy="87.5" r="1.3" fill="#8e9ac8"/>
<circle cx="464.2" cy="105.3" r="1.3" fill="#97a2cc"/>
<circle cx="468.4" cy="156.6" r="1.2" fill="#a0aad2"/>
<circle cx="462.7" cy="155.1" r="1.5" fill="#a0aad2"/>
<circle cx="415.1" cy="154.9" r="1.3" fill="#aab3d8"/>
<circle cx="448.8" cy="111.0" r="1.2" fill="#8894c4"/>
<circle cx="456.9" cy="144.5" r="1.2" fill="#aab3d8"/>
<circle cx="386.1" cy="103.8" r="1.2" fill="#8e9ac8"/>
<circle cx="385.1" cy="148.9" r="1.5" fill="#a0aad2"/>
<circle cx="398.6" cy="151.6" r="1.4" fill="#aab3d8"/>
<circle cx="391.4" cy="131.3" r="1.6" fill="#97a2cc"/>
<circle cx="441.6" cy="158.0" r="1.2" fill="#97a2cc"/>
<circle cx="443.7" cy="132.8" r="1.2" fill="#97a2cc"/>
<circle cx="391.2" cy="107.3" r="1.5" fill="#8e9ac8"/>
<circle cx="389.2" cy="96.9" r="1.6" fill="#aab3d8"/>
<circle cx="401.0" cy="88.8" r="1.5" fill="#aab3d8"/>
<circle cx="482.2" cy="92.7" r="1.4" fill="#a0aad2"/>
<circle cx="402.9" cy="139.8" r="1.5" fill="#97a2cc"/>
<circle cx="486.2" cy="93.5" r="1.4" fill="#8e9ac8"/>
<circle cx="490.2" cy="155.3" r="1.2" fill="#a0aad2"/>
<circle cx="452.6" cy="114.7" r="1.4" fill="#8e9ac8"/>
<circle cx="411.6" cy="122.3" r="1.2" fill="#8e9ac8"/>
<circle cx="490.4" cy="113.5" r="1.2" fill="#aab3d8"/>
<circle cx="392.6" cy="104.4" r="1.4" fill="#aab3d8"/>
<circle cx="431.0" cy="147.3" r="1.4" fill="#a0aad2"/>
<circle cx="437.1" cy="101.2" r="1.5" fill="#8e9ac8"/>
<circle cx="405.5" cy="97.7" r="1.4" fill="#8894c4"/>
<circle cx="449.3" cy="99.8" r="1.3" fill="#a0aad2"/>
<circle cx="472.6" cy="116.8" r="1.3" fill="#8894c4"/>
<circle cx="405.3" cy="91.4" r="1.2" fill="#8e9ac8"/>
<circle cx="404.0" cy="126.5" r="1.2" fill="#97a2cc"/>
<circle cx="475.3" cy="134.3" r="1.5" fill="#97a2cc"/>
<circle cx="457.0" cy="150.0" r="1.3" fill="#97a2cc"/>
<circle cx="383.3" cy="125.8" r="1.4" fill="#97a2cc"/>
<circle cx="473.0" cy="147.9" r="1.2" fill="#8e9ac8"/>
<circle cx="484.0" cy="97.0" r="1.3" fill="#a0aad2"/>
<circle cx="420.5" cy="92.8" r="1.5" fill="#97a2cc"/>
<circle cx="427.1" cy="87.7" r="1.4" fill="#a0aad2"/>
<circle cx="394.7" cy="116.3" r="1.3" fill="#97a2cc"/>
<circle cx="392.9" cy="92.6" r="1.3" fill="#a0aad2"/>
<circle cx="389.8" cy="155.6" r="1.4" fill="#97a2cc"/>
<circle cx="439.8" cy="113.6" r="1.2" fill="#a0aad2"/>
<circle cx="476.1" cy="158.3" r="1.5" fill="#97a2cc"/>
<circle cx="386.8" cy="84.3" r="1.2" fill="#97a2cc"/>
<circle cx="453.8" cy="156.9" r="1.5" fill="#a0aad2"/>
<circle cx="454.3" cy="84.9" r="1.6" fill="#a0aad2"/>
<circle cx="416.7" cy="139.4" r="1.4" fill="#8e9ac8"/>
<circle cx="439.6" cy="152.3" r="1.5" fill="#8894c4"/>
<circle cx="449.0" cy="101.9" r="1.6" fill="#a0aad2"/>
<circle cx="461.8" cy="142.4" r="1.5" fill="#8894c4"/>
<circle cx="471.2" cy="119.2" r="1.2" fill="#a0aad2"/>
<circle cx="465.5" cy="148.5" r="1.6" fill="#8894c4"/>
<circle cx="428.8" cy="126.7" r="1.3" fill="#8894c4"/>
<circle cx="472.1" cy="108.6" r="1.5" fill="#8894c4"/>
<circle cx="490.1" cy="102.4" r="1.5" fill="#8e9ac8"/>
<circle cx="468.8" cy="102.9" r="1.6" fill="#a0aad2"/>
<circle cx="470.9" cy="149.6" r="1.3" fill="#a0aad2"/>
<circle cx="436.5" cy="116.7" r="1.6" fill="#aab3d8"/>
<circle cx="424.5" cy="106.7" r="1.5" fill="#97a2cc"/>
<circle cx="485.1" cy="88.3" r="1.4" fill="#a0aad2"/>
<circle cx="406.1" cy="84.8" r="1.6" fill="#a0aad2"/>
<circle cx="459.9" cy="108.2" r="1.4" fill="#8e9ac8"/>
<circle cx="395.6" cy="116.0" r="1.4" fill="#a0aad2"/>
<circle cx="451.0" cy="149.7" r="1.3" fill="#8894c4"/>
<circle cx="388.1" cy="131.6" r="1.5" fill="#aab3d8"/>
<circle cx="490.1" cy="151.7" r="1.5" fill="#a0aad2"/>
<circle cx="462.1" cy="138.6" r="1.2" fill="#8894c4"/>
<circle cx="389.1" cy="139.8" r="1.6" fill="#97a2cc"/>
<circle cx="422.9" cy="101.5" r="1.2" fill="#aab3d8"/>
<circle cx="404.8" cy="110.0" r="1.2" fill="#97a2cc"/>
<circle cx="429.1" cy="95.0" r="1.2" fill="#a0aad2"/>
<circle cx="448.9" cy="120.4" r="1.4" fill="#8894c4"/>
<circle cx="411.0" cy="126.9" r="1.5" fill="#8894c4"/>
<circle cx="468.7" cy="106.9" r="1.3" fill="#8894c4"/>
<circle cx="459.8" cy="121.2" r="1.5" fill="#a0aad2"/>
<circle cx="442.8" cy="136.9" r="1.3" fill="#97a2cc"/>
<circle cx="421.0" cy="130.0" r="1.2" fill="#a0aad2"/>
<circle cx="400.4" cy="111.9" r="1.5" fill="#8e9ac8"/>
<circle cx="424.7" cy="156.8" r="1.6" fill="#97a2cc"/>
<circle cx="442.5" cy="157.3" r="1.6" fill="#8e9ac8"/>
<circle cx="390.6" cy="130.2" r="1.6" fill="#a0aad2"/>
<circle cx="446.5" cy="149.0" r="1.5" fill="#a0aad2"/>
<circle cx="449.3" cy="89.6" r="1.4" fill="#aab3d8"/>
<circle cx="452.0" cy="130.6" r="1.3" fill="#8e9ac8"/>
<circle cx="486.6" cy="87.9" r="1.4" fill="#a0aad2"/>
<circle cx="450.8" cy="151.7" r="1.2" fill="#97a2cc"/>
<circle cx="439.8" cy="95.6" r="1.3" fill="#8894c4"/>
<circle cx="453.1" cy="134.6" r="1.6" fill="#97a2cc"/>
<circle cx="469.2" cy="105.2" r="1.5" fill="#aab3d8"/>
<circle cx="487.6" cy="84.6" r="1.5" fill="#8e9ac8"/>
<circle cx="489.3" cy="111.4" r="1.3" fill="#aab3d8"/>
<circle cx="471.3" cy="92.6" r="1.4" fill="#a0aad2"/>
<circle cx="424.8" cy="103.9" r="1.3" fill="#97a2cc"/>
<circle cx="475.1" cy="107.9" r="1.4" fill="#aab3d8"/>
<circle cx="436.4" cy="157.4" r="1.4" fill="#97a2cc"/>
<circle cx="463.0" cy="98.7" r="1.4" fill="#8e9ac8"/>
<circle cx="469.1" cy="143.8" r="1.5" fill="#8894c4"/>
<circle cx="395.6" cy="109.2" r="1.4" fill="#97a2cc"/>
<circle cx="440.7" cy="85.5" r="1.2" fill="#97a2cc"/>
<circle cx="489.4" cy="151.9" r="1.3" fill="#97a2cc"/>
<circle cx="382.9" cy="101.6" r="1.5" fill="#8894c4"/>
<circle cx="452.9" cy="155.7" r="1.6" fill="#a0aad2"/>
<circle cx="391.3" cy="125.3" r="1.3" fill="#8e9ac8"/>
<circle cx="487.8" cy="140.5" r="1.5" fill="#8e9ac8"/>
<circle cx="428.4" cy="126.3" r="1.6" fill="#aab3d8"/>
<circle cx="386.6" cy="100.1" r="1.5" fill="#a0aad2"/>
<circle cx="434.9" cy="153.4" r="1.5" fill="#97a2cc"/>
<circle cx="465.5" cy="154.9" r="1.6" fill="#8894c4"/>
<circle cx="484.2" cy="115.7" r="1.5" fill="#8e9ac8"/>
<circle cx="394.7" cy="131.3" r="1.3" fill="#97a2cc"/>
<circle cx="468.9" cy="132.1" r="1.6" fill="#8e9ac8"/>
<circle cx="468.9" cy="148.1" r="1.4" fill="#8894c4"/>
<circle cx="490.0" cy="148.8" r="1.4" fill="#aab3d8"/>
<circle cx="458.8" cy="88.3" r="1.6" fill="#a0aad2"/>
<circle cx="399.6" cy="85.5" r="1.5" fill="#97a2cc"/>
<circle cx="403.1" cy="147.2" r="1.5" fill="#97a2cc"/>
<circle cx="461.1" cy="158.0" r="1.3" fill="#97a2cc"/>
<circle cx="434.4" cy="156.2" r="1.4" fill="#8e9ac8"/>
<circle cx="395.6" cy="135.9" r="1.4" fill="#8e9ac8"/>
<circle cx="430.7" cy="114.2" r="1.3" fill="#8e9ac8"/>
<circle cx="417.2" cy="151.7" r="1.2" fill="#8e9ac8"/>
<circle cx="384.6" cy="137.6" r="1.6" fill="#a0aad2"/>
<circle cx="425.8" cy="132.4" r="1.6" fill="#aab3d8"/>
<circle cx="473.5" cy="120.3" r="1.5" fill="#8e9ac8"/>
<circle cx="432.6" cy="88.2" r="1.2" fill="#97a2cc"/>
<circle cx="385.0" cy="84.9" r="1.4" fill="#8894c4"/>
<circle cx="449.9" cy="92.1" r="1.3" fill="#aab3d8"/>
<circle cx="421.3" cy="140.8" r="1.5" fill="#8e9ac8"/>
<circle cx="392.9" cy="130.2" r="1.5" fill="#a0aad2"/>
<circle cx="442.8" cy="135.1" r="1.4" fill="#aab3d8"/>
<circle cx="433.9" cy="87.7" r="1.4" fill="#8894c4"/>
<circle cx="397.5" cy="103.6" r="1.6" fill="#8894c4"/>
<circle cx="448.1" cy="119.1" r="1.4" fill="#a0aad2"/>
<circle cx="399.8" cy="112.5" r="1.5" fill="#aab3d8"/>
<circle cx="436.9" cy="131.1" r="1.5" fill="#97a2cc"/>
<circle cx="475.8" cy="98.8" r="1.4" fill="#aab3d8"/>
<circle cx="466.5" cy="98.7" r="1.3" fill="#a0aad2"/>
<circle cx="443.6" cy="155.6" r="1.3" fill="#a0aad2"/>
<circle cx="487.2" cy="142.1" r="1.5" fill="#aab3d8"/>
<circle cx="414.0" cy="117.4" r="1.4" fill="#8894c4"/>
<circle cx="425.9" cy="117.1" r="1.4" fill="#a0aad2"/>
<circle cx="440.3" cy="95.7" r="1.3" fill="#aab3d8"/>
<circle cx="479.0" cy="146.0" r="1.6" fill="#aab3d8"/>
<circle cx="456.0" cy="127.8" r="1.2" fill="#8894c4"/>
<circle cx="440.9" cy="146.2" r="1.3" fill="#aab3d8"/>
<circle cx="487.1" cy="139.0" r="1.4" fill="#aab3d8"/>
<circle cx="397.3" cy="127.8" r="1.4" fill="#8894c4"/>
<circle cx="427.3" cy="83.6" r="1.2" fill="#aab3d8"/>
<circle cx="441.8" cy="156.3" r="1.2" fill="#8894c4"/>
<circle cx="436.0" cy="124.5" r="1.3" fill="#aab3d8"/>
<circle cx="432.7" cy="140.2" r="1.2" fill="#aab3d8"/>
<circle cx="463.8" cy="124.9" r="1.3" fill="#97a2cc"/>
<circle cx="419.7" cy="114.9" r="1.5" fill="#8e9ac8"/>
<circle cx="475.2" cy="144.6" r="1.4" fill="#aab3d8"/>
<circle cx="455.7" cy="151.8" r="1.2" fill="#a0aad2"/>
<circle cx="472.9" cy="124.9" r="1.6" fill="#aab3d8"/>
<circle cx="416.6" cy="126.1" r="1.3" fill="#97a2cc"/>
<circle cx="466.3" cy="148.1" r="1.4" fill="#aab3d8"/>
<circle cx="463.3" cy="114.9" r="1.5" fill="#aab3d8"/>
<circle cx="440.5" cy="113.4" r="1.3" fill="#a0aad2"/>
<circle cx="434.6" cy="112.3" r="1.5" fill="#8e9ac8"/>
<circle cx="392.8" cy="121.5" r="1.3" fill="#8e9ac8"/>
<circle cx="400.6" cy="105.6" r="1.3" fill="#a0aad2"/>
<circle cx="431.7" cy="140.5" r="1.3" fill="#8e9ac8"/>
<circle cx="452.6" cy="140.5" r="1.4" fill="#8894c4"/>
<circle cx="467.5" cy="89.7" r="1.2" fill="#aab3d8"/>
<circle cx="482.4" cy="149.4" r="1.2" fill="#aab3d8"/>
<circle cx="406.8" cy="93.0" r="1.4" fill="#a0aad2"/>
<circle cx="414.1" cy="89.2" r="1.5" fill="#a0aad2"/>
<circle cx="440.7" cy="121.7" r="1.4" fill="#8894c4"/>
<circle cx="459.1" cy="145.4" r="1.4" fill="#a0aad2"/>
<circle cx="394.7" cy="89.3" r="1.4" fill="#8e9ac8"/>
<circle cx="408.0" cy="155.4" r="1.3" fill="#8894c4"/>
<circle cx="489.0" cy="121.0" r="1.3" fill="#a0aad2"/>
<circle cx="409.8" cy="130.9" r="1.3" fill="#a0aad2"/>
<circle cx="433.4" cy="145.0" r="1.5" fill="#a0aad2"/>
<circle cx="445.3" cy="101.6" r="1.6" fill="#8e9ac8"/>
<circle cx="459.7" cy="126.1" r="1.2" fill="#97a2cc"/>
<circle cx="417.8" cy="154.7" r="1.4" fill="#8e9ac8"/>
<circle cx="474.1" cy="119.9" r="1.4" fill="#97a2cc"/>
<circle cx="386.7" cy="102.7" r="1.3" fill="#aab3d8"/>
<circle cx="474.1" cy="98.5" r="1.2" fill="#8894c4"/>
<circle cx="387.9" cy="109.5" r="1.2" fill="#aab3d8"/>
<circle cx="398.1" cy="92.6" r="1.2" fill="#8e9ac8"/>
<circle cx="424.0" cy="145.4" r="1.6" fill="#97a2cc"/>
<circle cx="405.4" cy="147.9" r="1.3" fill="#aab3d8"/>
<circle cx="388.9" cy="158.4" r="1.2" fill="#97a2cc"/>
<circle cx="396.9" cy="124.0" r="1.5" fill="#8e9ac8"/>
<circle cx="484.7" cy="85.4" r="1.3" fill="#aab3d8"/>
<circle cx="485.0" cy="120.4" r="1.5" fill="#8e9ac8"/>
<circle cx="438.4" cy="148.1" r="1.3" fill="#8e9ac8"/>
<circle cx="436.2" cy="147.8" r="1.5" fill="#8894c4"/>
<circle cx="396.3" cy="135.4" r="1.5" fill="#a0aad2"/>
<circle cx="480.1" cy="146.7" r="1.6" fill="#97a2cc"/>
<circle cx="408.6" cy="124.0" r="1.3" fill="#a0aad2"/>
<circle cx="485.3" cy="152.1" r="1.4" fill="#8e9ac8"/>
<circle cx="429.6" cy="140.3" r="1.5" fill="#a0aad2"/>
<circle cx="418.4" cy="118.0" r="1.5" fill="#8894c4"/>
<circle cx="411.5" cy="92.1" r="1.4" fill="#a0aad2"/>
<circle cx="417.6" cy="112.5" r="1.5" fill="#aab3d8"/>
<circle cx="386.6" cy="127.9" r="1.4" fill="#8894c4"/>
<circle cx="433.4" cy="93.7" r="1.3" fill="#aab3d8"/>
<circle cx="394.1" cy="101.3" r="1.5" fill="#8e9ac8"/>
<circle cx="420.9" cy="149.6" r="1.3" fill="#97a2cc"/>
<circle cx="476.0" cy="138.5" r="1.3" fill="#a0aad2"/>
<circle cx="442.8" cy="132.6" r="1.4" fill="#aab3d8"/>
<circle cx="456.2" cy="118.8" r="1.3" fill="#8e9ac8"/>
<circle cx="451.6" cy="103.9" r="1.5" fill="#97a2cc"/>
<circle cx="397.1" cy="136.2" r="1.6" fill="#8e9ac8"/>
<circle cx="397.4" cy="138.4" r="1.6" fill="#97a2cc"/>
<circle cx="442.2" cy="121.3" r="1.4" fill="#aab3d8"/>
<circle cx="465.7" cy="120.1" r="1.5" fill="#8894c4"/>
<circle cx="474.3" cy="108.7" r="1.6" fill="#aab3d8"/>
<circle cx="415.2" cy="105.8" r="1.6" fill="#8e9ac8"/>
<circle cx="399.5" cy="155.5" r="1.2" fill="#8894c4"/>
<circle cx="413.2" cy="151.2" r="1.4" fill="#97a2cc"/>
<circle cx="410.7" cy="149.9" r="1.4" fill="#aab3d8"/>
<circle cx="419.0" cy="125.0" r="1.2" fill="#aab3d8"/>
<circle cx="468.4" cy="119.8" r="1.2" fill="#8894c4"/>
<circle cx="479.7" cy="140.5" r="1.3" fill="#8e9ac8"/>
<circle cx="469.0" cy="112.1" r="1.4" fill="#a0aad2"/>
<circle cx="416.9" cy="103.6" r="1.4" fill="#a0aad2"/>
<circle cx="413.8" cy="85.6" r="1.4" fill="#aab3d8"/>
<circle cx="387.0" cy="87.5" r="1.6" fill="#97a2cc"/>
<circle cx="411.1" cy="131.5" r="1.3" fill="#aab3d8"/>
<circle cx="395.6" cy="122.7" r="1.3" fill="#97a2cc"/>
<circle cx="474.3" cy="102.5" r="1.4" fill="#aab3d8"/>
<circle cx="407.0" cy="88.5" r="1.4" fill="#aab3d8"/>
<circle cx="426.8" cy="113.7" r="1.6" fill="#aab3d8"/>
<circle cx="469.7" cy="129.2" r="1.5" fill="#8894c4"/>
<circle cx="438.7" cy="132.7" r="1.3" fill="#8894c4"/>
<circle cx="462.0" cy="158.4" r="1.3" fill="#8e9ac8"/>
<circle cx="464.8" cy="94.5" r="1.5" fill="#8894c4"/>
<circle cx="477.8" cy="143.1" r="1.3" fill="#97a2cc"/>
<circle cx="461.0" cy="139.6" r="1.4" fill="#aab3d8"/>
<circle cx="405.8" cy="143.8" r="1.3" fill="#8894c4"/>
<circle cx="383.9" cy="112.9" r="1.2" fill="#aab3d8"/>
<circle cx="478.8" cy="137.2" r="1.2" fill="#aab3d8"/>
<circle cx="411.1" cy="132.1" r="1.5" fill="#aab3d8"/>
<circle cx="485.3" cy="137.1" r="1.5" fill="#8e9ac8"/>
<circle cx="469.1" cy="147.6" r="1.3" fill="#97a2cc"/>
<circle cx="446.2" cy="130.2" r="1.4" fill="#97a2cc"/>
<circle cx="422.1" cy="145.5" r="1.5" fill="#97a2cc"/>
<circle cx="431.0" cy="86.1" r="1.4" fill="#97a2cc"/>
<circle cx="481.5" cy="108.9" r="1.4" fill="#8e9ac8"/>
<circle cx="409.9" cy="93.2" r="1.5" fill="#97a2cc"/>
<circle cx="416.5" cy="95.8" r="1.4" fill="#8894c4"/>
<circle cx="406.2" cy="94.6" r="1.5" fill="#aab3d8"/>
<circle cx="424.0" cy="126.6" r="1.5" fill="#aab3d8"/>
<circle cx="442.2" cy="106.0" r="1.5" fill="#8894c4"/>
<circle cx="477.2" cy="144.5" r="1.4" fill="#a0aad2"/>
<circle cx="391.4" cy="86.1" r="1.3" fill="#8e9ac8"/>
<circle cx="470.8" cy="157.2" r="1.2" fill="#8e9ac8"/>
<circle cx="470.5" cy="117.2" r="1.5" fill="#8e9ac8"/>
<circle cx="421.4" cy="101.7" r="1.4" fill="#a0aad2"/>
<circle cx="463.7" cy="134.0" r="1.5" fill="#aab3d8"/>
<circle cx="460.6" cy="157.9" r="1.3" fill="#8894c4"/>
<circle cx="419.7" cy="122.0" r="1.3" fill="#8894c4"/>
<circle cx="462.2" cy="147.6" r="1.3" fill="#a0aad2"/>
<circle cx="481.1" cy="117.2" r="1.5" fill="#aab3d8"/>
<circle cx="437.0" cy="114.4" r="1.3" fill="#8894c4"/>
<circle cx="400.5" cy="120.4" r="1.6" fill="#aab3d8"/>
<circle cx="460.7" cy="136.6" r="1.4" fill="#8e9ac8"/>
<circle cx="467.4" cy="93.0" r="1.4" fill="#aab3d8"/>
<circle cx="458.0" cy="120.9" r="1.5" fill="#8894c4"/>
<circle cx="418.0" cy="84.0" r="1.4" fill="#aab3d8"/>
<circle cx="400.3" cy="117.9" r="1.5" fill="#8e9ac8"/>
<circle cx="417.6" cy="126.8" r="1.5" fill="#aab3d8"/>
<circle cx="458.3" cy="126.3" r="1.3" fill="#97a2cc"/>
<circle cx="479.6" cy="141.5" r="1.6" fill="#8e9ac8"/>
<circle cx="460.4" cy="135.5" r="1.5" fill="#8894c4"/>
<circle cx="400.0" cy="94.1" r="1.5" fill="#8e9ac8"/>
<circle cx="470.4" cy="153.2" r="1.6" fill="#aab3d8"/>
<circle cx="488.9" cy="120.9" r="1.2" fill="#aab3d8"/>
<circle cx="457.7" cy="101.7" r="1.3" fill="#8e9ac8"/>
<circle cx="421.5" cy="145.6" r="1.3" fill="#97a2cc"/>
<circle cx="387.4" cy="110.7" r="1.4" fill="#97a2cc"/>
<circle cx="426.5" cy="108.0" r="1.3" fill="#97a2cc"/>
<circle cx="395.2" cy="154.1" r="1.3" fill="#a0aad2"/>
<circle cx="449.9" cy="143.8" r="1.5" fill="#8e9ac8"/>
<circle cx="478.8" cy="96.8" r="1.5" fill="#8894c4"/>
<circle cx="388.3" cy="150.9" r="1.5" fill="#8e9ac8"/>
<circle cx="466.6" cy="141.2" r="1.6" fill="#97a2cc"/>
<circle cx="408.8" cy="156.7" r="1.4" fill="#97a2cc"/>
<circle cx="478.1" cy="122.4" r="1.3" fill="#aab3d8"/>
<circle cx="396.9" cy="106.8" r="1.3" fill="#8894c4"/>
<circle cx="395.2" cy="133.7" r="1.3" fill="#aab3d8"/>
<circle cx="489.9" cy="102.3" r="1.3" fill="#a0aad2"/>
<circle cx="461.1" cy="121.3" r="1.5" fill="#a0aad2"/>
<circle cx="439.5" cy="133.1" r="1.5" fill="#aab3d8"/>
<circle cx="457.6" cy="92.0" r="1.4" fill="#8894c4"/>
<circle cx="430.6" cy="154.7" r="1.3" fill="#aab3d8"/>
<circle cx="487.7" cy="121.4" r="1.3" fill="#97a2cc"/>
<circle cx="464.3" cy="97.5" r="1.4" fill="#8e9ac8"/>
<circle cx="476.1" cy="141.1" r="1.5" fill="#aab3d8"/>
<circle cx="391.3" cy="108.2" r="1.3" fill="#8894c4"/>
<circle cx="391.9" cy="111.4" r="1.3" fill="#8894c4"/>
<circle cx="418.8" cy="94.5" r="1.2" fill="#aab3d8"/>
<circle cx="423.1" cy="115.9" r="1.5" fill="#a0aad2"/>
<circle cx="435.2" cy="96.5" r="1.5" fill="#97a2cc"/>
<circle cx="450.7" cy="155.4" r="1.5" fill="#aab3d8"/>
<circle cx="387.7" cy="146.9" r="1.2" fill="#aab3d8"/>
<circle cx="390.8" cy="117.2" r="1.5" fill="#97a2cc"/>
<circle cx="386.8" cy="145.3" r="1.2" fill="#aab3d8"/>
<circle cx="424.1" cy="111.8" r="1.3" fill="#aab3d8"/>
<circle cx="422.4" cy="99.3" r="1.3" fill="#97a2cc"/>
<circle cx="389.0" cy="86.1" r="1.2" fill="#97a2cc"/>
<circle cx="393.9" cy="106.0" r="1.5" fill="#97a2cc"/>
<circle cx="474.8" cy="110.2" r="1.4" fill="#97a2cc"/>
<circle cx="402.1" cy="120.9" r="1.2" fill="#8894c4"/>
<circle cx="477.6" cy="147.3" r="1.4" fill="#aab3d8"/>
<circle cx="451.2" cy="121.0" r="1.4" fill="#97a2cc"/>
<circle cx="459.7" cy="150.2" r="1.6" fill="#aab3d8"/>
<circle cx="456.6" cy="143.3" r="1.3" fill="#97a2cc"/>
<circle cx="420.1" cy="89.9" r="1.4" fill="#a0aad2"/>
<circle cx="397.0" cy="103.7" r="1.6" fill="#97a2cc"/>
<circle cx="390.5" cy="144.0" r="1.4" fill="#a0aad2"/>
<circle cx="423.9" cy="125.5" r="1.5" fill="#aab3d8"/>
<circle cx="405.0" cy="133.7" r="1.3" fill="#97a2cc"/>
<circle cx="458.2" cy="118.9" r="1.5" fill="#8e9ac8"/>
<circle cx="425.5" cy="143.0" r="1.6" fill="#97a2cc"/>
<circle cx="488.7" cy="116.7" r="1.4" fill="#8e9ac8"/>
<circle cx="448.2" cy="115.1" r="1.4" fill="#97a2cc"/>
<circle cx="385.2" cy="86.1" r="1.3" fill="#a0aad2"/>
<circle cx="446.7" cy="150.3" r="1.4" fill="#aab3d8"/>
<circle cx="444.3" cy="93.2" r="1.3" fill="#8894c4"/>
<circle cx="412.9" cy="133.3" r="1.3" fill="#8e9ac8"/>
<circle cx="422.7" cy="113.6" r="1.4" fill="#97a2cc"/>
<circle cx="384.6" cy="110.0" r="1.5" fill="#97a2cc"/>
<circle cx="385.8" cy="96.6" r="1.5" fill="#aab3d8"/>
<circle cx="386.8" cy="125.6" r="1.6" fill="#97a2cc"/>
<circle cx="394.1" cy="88.5" r="1.6" fill="#8894c4"/>
<circle cx="451.8" cy="84.9" r="1.2" fill="#aab3d8"/>
<circle cx="474.4" cy="103.5" r="1.6" fill="#97a2cc"/>
<circle cx="394.1" cy="149.8" r="1.2" fill="#a0aad2"/>
<circle cx="414.7" cy="152.5" r="1.5" fill="#97a2cc"/>
<circle cx="387.5" cy="155.8" r="1.3" fill="#aab3d8"/>
<circle cx="420.7" cy="152.2" r="1.4" fill="#8894c4"/>
<circle cx="483.0" cy="89.8" r="1.5" fill="#97a2cc"/>
<circle cx="422.1" cy="157.2" r="1.5" fill="#97a2cc"/>
<circle cx="489.7" cy="118.1" r="1.5" fill="#97a2cc"/>
<circle cx="480.6" cy="144.2" r="1.5" fill="#8894c4"/>
<circle cx="490.6" cy="157.7" r="1.5" fill="#a0aad2"/>
<circle cx="436.2" cy="152.4" r="1.5" fill="#aab3d8"/>
<circle cx="386.3" cy="113.3" r="1.3" fill="#a0aad2"/>
<circle cx="402.3" cy="122.7" r="1.5" fill="#a0aad2"/>
<circle cx="472.5" cy="109.9" r="1.4" fill="#a0aad2"/>
<circle cx="456.3" cy="115.9" r="1.3" fill="#8894c4"/>
<circle cx="401.4" cy="118.6" r="1.4" fill="#97a2cc"/>
<circle cx="390.8" cy="122.6" r="1.2" fill="#8e9ac8"/>
<circle cx="466.5" cy="157.9" r="1.5" fill="#8e9ac8"/>
<circle cx="487.2" cy="98.6" r="1.3" fill="#97a2cc"/>
<circle cx="388.7" cy="155.8" r="1.5" fill="#97a2cc"/>
<circle cx="411.7" cy="102.5" r="1.2" fill="#97a2cc"/>
<circle cx="394.6" cy="116.0" r="1.2" fill="#97a2cc"/>
<circle cx="483.2" cy="98.5" r="1.3" fill="#8e9ac8"/>
<circle cx="419.6" cy="156.0" r="1.3" fill="#8894c4"/>
<circle cx="409.6" cy="152.2" r="1.4" fill="#8e9ac8"/>
<circle cx="429.0" cy="100.6" r="1.5" fill="#8e9ac8"/>
<circle cx="430.0" cy="105.7" r="1.3" fill="#a0aad2"/>
<circle cx="427.9" cy="116.2" r="1.4" fill="#8894c4"/>
<circle cx="420.8" cy="100.5" r="1.2" fill="#aab3d8"/>
<circle cx="414.9" cy="103.6" r="1.5" fill="#aab3d8"/>
<circle cx="409.3" cy="131.7" r="1.4" fill="#8e9ac8"/>
<circle cx="384.4" cy="104.8" r="1.5" fill="#8894c4"/>
<circle cx="486.8" cy="100.9" r="1.4" fill="#97a2cc"/>
<circle cx="424.9" cy="103.5" r="1.4" fill="#8e9ac8"/>
<circle cx="414.2" cy="116.1" r="1.5" fill="#8e9ac8"/>
<circle cx="486.6" cy="91.9" r="1.5" fill="#a0aad2"/>
<circle cx="385.7" cy="151.1" r="1.3" fill="#a0aad2"/>
<circle cx="442.4" cy="133.4" r="1.5" fill="#8e9ac8"/>
<circle cx="489.4" cy="136.2" r="1.3" fill="#8894c4"/>
<circle cx="452.9" cy="131.7" r="1.6" fill="#97a2cc"/>
<circle cx="460.2" cy="110.3" r="1.2" fill="#8e9ac8"/>
<circle cx="389.5" cy="86.4" r="1.4" fill="#97a2cc"/>
<circle cx="430.8" cy="98.9" r="1.2" fill="#97a2cc"/>
<circle cx="389.5" cy="102.5" r="1.2" fill="#97a2cc"/>
<circle cx="462.4" cy="94.1" r="1.2" fill="#8e9ac8"/>
<circle cx="436.8" cy="106.9" r="1.5" fill="#97a2cc"/>
<circle cx="433.0" cy="134.6" r="1.5" fill="#8894c4"/>
<circle cx="390.8" cy="92.3" r="1.5" fill="#97a2cc"/>
<circle cx="421.0" cy="94.5" r="1.3" fill="#8894c4"/>
<circle cx="397.3" cy="98.6" r="1.2" fill="#a0aad2"/>
<circle cx="420.0" cy="98.5" r="1.4" fill="#8894c4"/>
<circle cx="412.1" cy="116.2" r="1.4" fill="#97a2cc"/>
<circle cx="403.3" cy="142.1" r="1.2" fill="#97a2cc"/>
<circle cx="449.6" cy="100.2" r="1.5" fill="#8894c4"/>
<circle cx="478.9" cy="99.7" r="1.5" fill="#aab3d8"/>
<circle cx="488.6" cy="120.5" r="1.3" fill="#aab3d8"/>
<circle cx="411.5" cy="151.9" r="1.3" fill="#8894c4"/>
<circle cx="463.6" cy="158.3" r="1.3" fill="#a0aad2"/>
<circle cx="489.8" cy="113.3" r="1.4" fill="#8894c4"/>
<circle cx="460.6" cy="112.6" r="1.4" fill="#97a2cc"/>
<circle cx="390.8" cy="96.8" r="1.4" fill="#97a2cc"/>
<circle cx="387.3" cy="140.3" r="1.3" fill="#a0aad2"/>
<circle cx="427.4" cy="96.8" r="1.6" fill="#8894c4"/>
<circle cx="488.7" cy="143.8" r="1.2" fill="#8e9ac8"/>
<circle cx="482.9" cy="128.3" r="1.4" fill="#97a2cc"/>
<circle cx="397.1" cy="156.0" r="1.4" fill="#8894c4"/>
<circle cx="480.5" cy="138.0" r="1.4" fill="#8894c4"/>
<circle cx="413.0" cy="124.1" r="1.3" fill="#a0aad2"/>
<circle cx="439.7" cy="95.3" r="1.5" fill="#8e9ac8"/>
<circle cx="430.1" cy="117.2" r="1.3" fill="#8e9ac8"/>
<circle cx="424.7" cy="106.4" r="1.3" fill="#8894c4"/>
<circle cx="435.2" cy="117.4" r="1.5" fill="#aab3d8"/>
<circle cx="415.1" cy="149.0" r="1.6" fill="#97a2cc"/>
<circle cx="412.3" cy="119.4" r="1.4" fill="#8e9ac8"/>
<circle cx="436.3" cy="149.6" r="1.4" fill="#8894c4"/>
<circle cx="487.1" cy="127.8" r="1.3" fill="#aab3d8"/>
<circle cx="436.3" cy="104.9" r="1.4" fill="#8894c4"/>
<circle cx="411.0" cy="106.2" r="1.2" fill="#97a2cc"/>
<circle cx="455.8" cy="125.6" r="1.3" fill="#8e9ac8"/>
<circle cx="435.7" cy="103.2" r="1.3" fill="#aab3d8"/>
<circle cx="479.7" cy="122.9" r="1.5" fill="#8894c4"/>
<circle cx="390.0" cy="91.5" r="1.3" fill="#8e9ac8"/>
<circle cx="481.3" cy="148.8" r="1.6" fill="#8894c4"/>
<circle cx="415.1" cy="144.3" r="1.4" fill="#97a2cc"/>
<circle cx="423.7" cy="87.8" r="1.5" fill="#8e9ac8"/>
<circle cx="483.0" cy="97.2" r="1.5" fill="#aab3d8"/>
<circle cx="391.6" cy="91.2" r="1.6" fill="#97a2cc"/>
<circle cx="485.1" cy="152.8" r="1.3" fill="#aab3d8"/>
<circle cx="474.9" cy="96.1" r="1.5" fill="#8894c4"/>
<circle cx="391.2" cy="118.7" r="1.3" fill="#8e9ac8"/>
<circle cx="454.7" cy="129.9" r="1.4" fill="#8e9ac8"/>
<circle cx="422.8" cy="141.4" r="1.4" fill="#a0aad2"/>
<circle cx="470.9" cy="100.2" r="1.6" fill="#aab3d8"/>
<circle cx="449.8" cy="144.9" r="1.3" fill="#97a2cc"/>
<circle cx="416.7" cy="107.1" r="1.3" fill="#a0aad2"/>
<circle cx="415.7" cy="106.4" r="1.4" fill="#a0aad2"/>
<circle cx="385.7" cy="158.2" r="1.4" fill="#a0aad2"/>
<circle cx="476.0" cy="106.0" r="1.2" fill="#8894c4"/>
<circle cx="388.5" cy="88.0" r="1.4" fill="#aab3d8"/>
<circle cx="391.2" cy="89.0" r="1.6" fill="#8e9ac8"/>
<circle cx="402.0" cy="121.9" r="1.5" fill="#aab3d8"/>
<circle cx="396.2" cy="116.9" r="1.4" fill="#a0aad2"/>
<circle cx="408.3" cy="106.1" r="1.4" fill="#8894c4"/>
<circle cx="412.0" cy="100.4" r="1.5" fill="#aab3d8"/>
<circle cx="408.1" cy="105.7" r="1.4" fill="#8e9ac8"/>
<circle cx="480.6" cy="93.1" r="1.2" fill="#8e9ac8"/>
<circle cx="407.8" cy="143.8" r="1.4" fill="#aab3d8"/>
<circle cx="396.4" cy="143.1" r="1.5" fill="#a0aad2"/>
<circle cx="487.8" cy="91.6" r="1.5" fill="#8e9ac8"/>
<circle cx="457.6" cy="141.7" r="1.4" fill="#a0aad2"/>
<circle cx="399.0" cy="100.8" r="1.5" fill="#8e9ac8"/>
<circle cx="436.9" cy="124.5" r="1.5" fill="#aab3d8"/>
<circle cx="441.3" cy="146.3" r="1.3" fill="#a0aad2"/>
<circle cx="433.6" cy="156.7" r="1.3" fill="#a0aad2"/>
<circle cx="459.9" cy="148.8" r="1.4" fill="#a0aad2"/>
<circle cx="425.3" cy="120.7" r="1.6" fill="#8e9ac8"/>
<circle cx="470.2" cy="133.7" r="1.3" fill="#8894c4"/>
<circle cx="415.6" cy="84.9" r="1.4" fill="#97a2cc"/>
<circle cx="452.9" cy="108.0" r="1.4" fill="#8894c4"/>
<circle cx="443.3" cy="133.5" r="1.4" fill="#a0aad2"/>
<circle cx="489.7" cy="99.5" r="1.4" fill="#a0aad2"/>
<circle cx="428.6" cy="114.4" r="1.3" fill="#8894c4"/>
<circle cx="426.8" cy="89.8" r="1.4" fill="#a0aad2"/>
<circle cx="443.1" cy="86.4" r="1.6" fill="#8894c4"/>
<circle cx="470.3" cy="117.4" r="1.6" fill="#8894c4"/>
<circle cx="457.7" cy="95.4" r="1.5" fill="#8e9ac8"/>
<circle cx="411.8" cy="98.5" r="1.5" fill="#8894c4"/>
<circle cx="478.7" cy="134.8" r="1.5" fill="#aab3d8"/>
<circle cx="476.8" cy="101.6" r="1.5" fill="#97a2cc"/>
<circle cx="386.3" cy="134.6" r="1.3" fill="#8894c4"/>
<circle cx="443.5" cy="152.0" r="1.2" fill="#8894c4"/>
<circle cx="451.7" cy="128.1" r="1.4" fill="#8894c4"/>
<circle cx="398.7" cy="84.7" r="1.3" fill="#8894c4"/>
<circle cx="441.8" cy="115.9" r="1.4" fill="#8e9ac8"/>
<circle cx="470.9" cy="136.5" r="1.3" fill="#8e9ac8"/>
</g>
<circle cx="436.9" cy="123.3" r="1.8" fill="#1c1c6e"/>
<circle cx="424" cy="103" r="1.1" fill="#3a3a80"/>
</g>
<rect x="383.5" y="84.2" width="106.5" height="73.2" fill="none" stroke="#555" stroke-width="1"/>
<text x="1.6" y="400.2" font-size="12.5" text-anchor="start" font-weight="bold" fill="#000">J</text>
<text x="25.6" y="408.8" font-size="9.9" text-anchor="start" fill="#111" textLength="52.3" lengthAdjust="spacingAndGlyphs">vehicle (BM)</text>
<text x="12.7" y="446.9" font-size="8.8" text-anchor="middle" fill="#111" textLength="18.3" lengthAdjust="spacingAndGlyphs" transform="rotate(-90 12.7 446.9)">c-Kit</text>
<line x1="10.0" y1="479.5" x2="10.0" y2="465.5" stroke="#111" stroke-width="0.9"/>
<path d="M8.4,466.5 L10.0,462.8 L11.6,466.5 Z" fill="#111"/>
<text x="48.8" y="494.0" font-size="7.0" text-anchor="start" fill="#111" textLength="43.2" lengthAdjust="spacingAndGlyphs">Gfp(MLL-AF9)</text>
<line x1="27.3" y1="492.4" x2="42.8" y2="492.4" stroke="#111" stroke-width="0.9"/>
<path d="M41.8,490.8 L44.8,492.4 L41.8,494 Z" fill="#111"/>
<clipPath id="cj1"><rect x="26.3" y="416.0" width="63.10000000000001" height="62.80000000000001"/></clipPath>
<g clip-path="url(#cj1)">
<rect x="26.3" y="416.0" width="63.10000000000001" height="62.80000000000001" fill="#fff"/>
<g filter="url(#bl2)"><rect x="66" y="443" width="2" height="1" fill="#303ea4"/><rect x="64" y="444" width="6" height="1" fill="#303ea4"/><rect x="62" y="445" width="10" height="1" fill="#303ea4"/><rect x="61" y="446" width="3" height="1" fill="#303ea4"/><rect x="64" y="446" width="6" height="1" fill="#3464c0"/><rect x="70" y="446" width="2" height="1" fill="#303ea4"/><rect x="60" y="447" width="3" height="1" fill="#303ea4"/><rect x="63" y="447" width="1" height="1" fill="#3464c0"/><rect x="64" y="447" width="5" height="1" fill="#4096ba"/><rect x="69" y="447" width="2" height="1" fill="#3464c0"/><rect x="71" y="447" width="2" height="1" fill="#303ea4"/><rect x="60" y="448" width="2" height="1" fill="#303ea4"/><rect x="62" y="448" width="1" height="1" fill="#3464c0"/><rect x="63" y="448" width="2" height="1" fill="#4096ba"/><rect x="65" y="448" width="3" height="1" fill="#58b874"/><rect x="68" y="448" width="2" height="1" fill="#4096ba"/><rect x="70" y="448" width="1" height="1" fill="#3464c0"/><rect x="71" y="448" width="2" height="1" fill="#303ea4"/><rect x="59" y="449" width="2" height="1" fill="#303ea4"/><rect x="61" y="449" width="1" height="1" fill="#3464c0"/><rect x="62" y="449" width="1" height="1" fill="#4096ba"/><rect x="63" y="449" width="6" height="1" fill="#58b874"/><rect x="69" y="449" width="1" height="1" fill="#4096ba"/><rect x="70" y="449" width="2" height="1" fill="#3464c0"/><rect x="72" y="449" width="2" height="1" fill="#303ea4"/><rect x="59" y="450" width="1" height="1" fill="#303ea4"/><rect x="60" y="450" width="2" height="1" fill="#3464c0"/><rect x="62" y="450" width="1" height="1" fill="#4096ba"/><rect x="63" y="450" width="2" height="1" fill="#58b874"/><rect x="65" y="450" width="3" height="1" fill="#7ac44c"/><rect x="68" y="450" width="2" height="1" fill="#58b874"/><rect x="70" y="450" width="1" height="1" fill="#4096ba"/><rect x="71" y="450" width="1" height="1" fill="#3464c0"/><rect x="72" y="450" width="2" height="1" fill="#303ea4"/><rect x="58" y="451" width="2" height="1" fill="#303ea4"/><rect x="60" y="451" width="1" height="1" fill="#3464c0"/><rect x="61" y="451" width="1" height="1" fill="#4096ba"/><rect x="62" y="451" width="2" height="1" fill="#58b874"/><rect x="64" y="451" width="4" height="1" fill="#7ac44c"/><rect x="68" y="451" width="2" height="1" fill="#58b874"/><rect x="70" y="451" width="1" height="1" fill="#4096ba"/><rect x="71" y="451" width="1" height="1" fill="#3464c0"/><rect x="72" y="451" width="2" height="1" fill="#303ea4"/><rect x="58" y="452" width="2" height="1" fill="#303ea4"/><rect x="60" y="452" width="1" height="1" fill="#3464c0"/><rect x="61" y="452" width="2" height="1" fill="#58b874"/><rect x="63" y="452" width="6" height="1" fill="#7ac44c"/><rect x="69" y="452" width="1" height="1" fill="#58b874"/><rect x="70" y="452" width="1" height="1" fill="#4096ba"/><rect x="71" y="452" width="1" height="1" fill="#3464c0"/><rect x="72" y="452" width="2" height="1" fill="#303ea4"/><rect x="57" y="453" width="2" height="1" fill="#303ea4"/><rect x="59" y="453" width="1" height="1" fill="#3464c0"/><rect x="60" y="453" width="1" height="1" fill="#4096ba"/><rect x="61" y="453" width="1" height="1" fill="#58b874"/><rect x="62" y="453" width="7" height="1" fill="#7ac44c"/><rect x="69" y="453" width="2" height="1" fill="#58b874"/><rect x="71" y="453" width="1" height="1" fill="#3464c0"/><rect x="72" y="453" width="2" height="1" fill="#303ea4"/><rect x="57" y="454" width="2" height="1" fill="#303ea4"/><rect x="59" y="454" width="1" height="1" fill="#3464c0"/><rect x="60" y="454" width="1" height="1" fill="#4096ba"/><rect x="61" y="454" width="1" height="1" fill="#58b874"/><rect x="62" y="454" width="3" height="1" fill="#7ac44c"/><rect x="65" y="454" width="2" height="1" fill="#ccd62c"/><rect x="67" y="454" width="2" height="1" fill="#7ac44c"/><rect x="69" y="454" width="2" height="1" fill="#58b874"/><rect x="71" y="454" width="1" height="1" fill="#3464c0"/><rect x="72" y="454" width="2" height="1" fill="#303ea4"/><rect x="57" y="455" width="2" height="1" fill="#303ea4"/><rect x="59" y="455" width="1" height="1" fill="#3464c0"/><rect x="60" y="455" width="1" height="1" fill="#4096ba"/><rect x="61" y="455" width="1" height="1" fill="#58b874"/><rect x="62" y="455" width="2" height="1" fill="#7ac44c"/><rect x="64" y="455" width="3" height="1" fill="#ccd62c"/><rect x="67" y="455" width="2" height="1" fill="#7ac44c"/><rect x="69" y="455" width="2" height="1" fill="#58b874"/><rect x="71" y="455" width="1" height="1" fill="#3464c0"/><rect x="72" y="455" width="2" height="1" fill="#303ea4"/><rect x="57" y="456" width="2" height="1" fill="#303ea4"/><rect x="59" y="456" width="1" height="1" fill="#3464c0"/><rect x="60" y="456" width="2" height="1" fill="#58b874"/><rect x="62" y="456" width="2" height="1" fill="#7ac44c"/><rect x="64" y="456" width="2" height="1" fill="#ccd62c"/><rect x="66" y="456" width="3" height="1" fill="#7ac44c"/><rect x="69" y="456" width="1" height="1" fill="#58b874"/><rect x="70" y="456" width="1" height="1" fill="#4096ba"/><rect x="71" y="456" width="1" height="1" fill="#3464c0"/><rect x="72" y="456" width="2" height="1" fill="#303ea4"/><rect x="56" y="457" width="2" height="1" fill="#303ea4"/><rect x="58" y="457" width="1" height="1" fill="#3464c0"/><rect x="59" y="457" width="1" height="1" fill="#4096ba"/><rect x="60" y="457" width="2" height="1" fill="#58b874"/><rect x="62" y="457" width="3" height="1" fill="#7ac44c"/><rect x="65" y="457" width="1" height="1" fill="#ccd62c"/><rect x="66" y="457" width="3" height="1" fill="#7ac44c"/><rect x="69" y="457" width="1" height="1" fill="#58b874"/><rect x="70" y="457" width="1" height="1" fill="#4096ba"/><rect x="71" y="457" width="1" height="1" fill="#3464c0"/><rect x="72" y="457" width="2" height="1" fill="#303ea4"/><rect x="56" y="458" width="2" height="1" fill="#303ea4"/><rect x="58" y="458" width="1" height="1" fill="#3464c0"/><rect x="59" y="458" width="1" height="1" fill="#4096ba"/><rect x="60" y="458" width="2" height="1" fill="#58b874"/><rect x="62" y="458" width="6" height="1" fill="#7ac44c"/><rect x="68" y="458" width="2" height="1" fill="#58b874"/><rect x="70" y="458" width="1" height="1" fill="#4096ba"/><rect x="71" y="458" width="1" height="1" fill="#3464c0"/><rect x="72" y="458" width="2" height="1" fill="#303ea4"/><rect x="56" y="459" width="2" height="1" fill="#303ea4"/><rect x="58" y="459" width="1" height="1" fill="#3464c0"/><rect x="59" y="459" width="1" height="1" fill="#4096ba"/><rect x="60" y="459" width="2" height="1" fill="#58b874"/><rect x="62" y="459" width="6" height="1" fill="#7ac44c"/><rect x="68" y="459" width="2" height="1" fill="#58b874"/><rect x="70" y="459" width="1" height="1" fill="#4096ba"/><rect x="71" y="459" width="1" height="1" fill="#3464c0"/><rect x="72" y="459" width="2" height="1" fill="#303ea4"/><rect x="56" y="460" width="2" height="1" fill="#303ea4"/><rect x="58" y="460" width="1" height="1" fill="#3464c0"/><rect x="59" y="460" width="1" height="1" fill="#4096ba"/><rect x="60" y="460" width="2" height="1" fill="#58b874"/><rect x="62" y="460" width="5" height="1" fill="#7ac44c"/><rect x="67" y="460" width="2" height="1" fill="#58b874"/><rect x="69" y="460" width="1" height="1" fill="#4096ba"/><rect x="70" y="460" width="2" height="1" fill="#3464c0"/><rect x="72" y="460" width="2" height="1" fill="#303ea4"/><rect x="55" y="461" width="3" height="1" fill="#303ea4"/><rect x="58" y="461" width="1" height="1" fill="#3464c0"/><rect x="59" y="461" width="1" height="1" fill="#4096ba"/><rect x="60" y="461" width="2" height="1" fill="#58b874"/><rect x="62" y="461" width="5" height="1" fill="#7ac44c"/><rect x="67" y="461" width="2" height="1" fill="#58b874"/><rect x="69" y="461" width="1" height="1" fill="#4096ba"/><rect x="70" y="461" width="2" height="1" fill="#3464c0"/><rect x="72" y="461" width="2" height="1" fill="#303ea4"/><rect x="55" y="462" width="2" height="1" fill="#303ea4"/><rect x="57" y="462" width="2" height="1" fill="#3464c0"/><rect x="59" y="462" width="1" height="1" fill="#4096ba"/><rect x="60" y="462" width="2" height="1" fill="#58b874"/><rect x="62" y="462" width="4" height="1" fill="#7ac44c"/><rect x="66" y="462" width="3" height="1" fill="#58b874"/><rect x="69" y="462" width="1" height="1" fill="#4096ba"/><rect x="70" y="462" width="1" height="1" fill="#3464c0"/><rect x="71" y="462" width="3" height="1" fill="#303ea4"/><rect x="55" y="463" width="2" height="1" fill="#303ea4"/><rect x="57" y="463" width="1" height="1" fill="#3464c0"/><rect x="58" y="463" width="2" height="1" fill="#4096ba"/><rect x="60" y="463" width="2" height="1" fill="#58b874"/><rect x="62" y="463" width="4" height="1" fill="#7ac44c"/><rect x="66" y="463" width="2" height="1" fill="#58b874"/><rect x="68" y="463" width="2" height="1" fill="#4096ba"/><rect x="70" y="463" width="1" height="1" fill="#3464c0"/><rect x="71" y="463" width="3" height="1" fill="#303ea4"/><rect x="55" y="464" width="2" height="1" fill="#303ea4"/><rect x="57" y="464" width="1" height="1" fill="#3464c0"/><rect x="58" y="464" width="1" height="1" fill="#4096ba"/><rect x="59" y="464" width="2" height="1" fill="#58b874"/><rect x="61" y="464" width="5" height="1" fill="#7ac44c"/><rect x="66" y="464" width="2" height="1" fill="#58b874"/><rect x="68" y="464" width="2" height="1" fill="#4096ba"/><rect x="70" y="464" width="1" height="1" fill="#3464c0"/><rect x="71" y="464" width="3" height="1" fill="#303ea4"/><rect x="54" y="465" width="3" height="1" fill="#303ea4"/><rect x="57" y="465" width="1" height="1" fill="#3464c0"/><rect x="58" y="465" width="1" height="1" fill="#4096ba"/><rect x="59" y="465" width="2" height="1" fill="#58b874"/><rect x="61" y="465" width="5" height="1" fill="#7ac44c"/><rect x="66" y="465" width="2" height="1" fill="#58b874"/><rect x="68" y="465" width="2" height="1" fill="#4096ba"/><rect x="70" y="465" width="1" height="1" fill="#3464c0"/><rect x="71" y="465" width="3" height="1" fill="#303ea4"/><rect x="54" y="466" width="2" height="1" fill="#303ea4"/><rect x="56" y="466" width="1" height="1" fill="#3464c0"/><rect x="57" y="466" width="1" height="1" fill="#4096ba"/><rect x="58" y="466" width="2" height="1" fill="#58b874"/><rect x="60" y="466" width="6" height="1" fill="#7ac44c"/><rect x="66" y="466" width="2" height="1" fill="#58b874"/><rect x="68" y="466" width="2" height="1" fill="#4096ba"/><rect x="70" y="466" width="1" height="1" fill="#3464c0"/><rect x="71" y="466" width="3" height="1" fill="#303ea4"/><rect x="54" y="467" width="2" height="1" fill="#303ea4"/><rect x="56" y="467" width="1" height="1" fill="#3464c0"/><rect x="57" y="467" width="1" height="1" fill="#4096ba"/><rect x="58" y="467" width="2" height="1" fill="#58b874"/><rect x="60" y="467" width="7" height="1" fill="#7ac44c"/><rect x="67" y="467" width="1" height="1" fill="#58b874"/><rect x="68" y="467" width="2" height="1" fill="#4096ba"/><rect x="70" y="467" width="1" height="1" fill="#3464c0"/><rect x="71" y="467" width="2" height="1" fill="#303ea4"/><rect x="29" y="468" width="6" height="1" fill="#303ea4"/><rect x="54" y="468" width="2" height="1" fill="#303ea4"/><rect x="56" y="468" width="1" height="1" fill="#3464c0"/><rect x="57" y="468" width="1" height="1" fill="#4096ba"/><rect x="58" y="468" width="1" height="1" fill="#58b874"/><rect x="59" y="468" width="3" height="1" fill="#7ac44c"/><rect x="62" y="468" width="2" height="1" fill="#ccd62c"/><rect x="64" y="468" width="3" height="1" fill="#7ac44c"/><rect x="67" y="468" width="1" height="1" fill="#58b874"/><rect x="68" y="468" width="1" height="1" fill="#4096ba"/><rect x="69" y="468" width="2" height="1" fill="#3464c0"/><rect x="71" y="468" width="2" height="1" fill="#303ea4"/><rect x="26" y="469" width="5" height="1" fill="#303ea4"/><rect x="31" y="469" width="2" height="1" fill="#3464c0"/><rect x="33" y="469" width="4" height="1" fill="#303ea4"/><rect x="54" y="469" width="2" height="1" fill="#303ea4"/><rect x="56" y="469" width="1" height="1" fill="#3464c0"/><rect x="57" y="469" width="1" height="1" fill="#4096ba"/><rect x="58" y="469" width="1" height="1" fill="#58b874"/><rect x="59" y="469" width="3" height="1" fill="#7ac44c"/><rect x="62" y="469" width="2" height="1" fill="#ccd62c"/><rect x="64" y="469" width="3" height="1" fill="#7ac44c"/><rect x="67" y="469" width="1" height="1" fill="#58b874"/><rect x="68" y="469" width="1" height="1" fill="#4096ba"/><rect x="69" y="469" width="2" height="1" fill="#3464c0"/><rect x="71" y="469" width="2" height="1" fill="#303ea4"/><rect x="26" y="470" width="2" height="1" fill="#303ea4"/><rect x="28" y="470" width="3" height="1" fill="#3464c0"/><rect x="31" y="470" width="2" height="1" fill="#4096ba"/><rect x="33" y="470" width="3" height="1" fill="#3464c0"/><rect x="36" y="470" width="3" height="1" fill="#303ea4"/><rect x="54" y="470" width="1" height="1" fill="#303ea4"/><rect x="55" y="470" width="1" height="1" fill="#3464c0"/><rect x="56" y="470" width="1" height="1" fill="#4096ba"/><rect x="57" y="470" width="2" height="1" fill="#58b874"/><rect x="59" y="470" width="2" height="1" fill="#7ac44c"/><rect x="61" y="470" width="3" height="1" fill="#ccd62c"/><rect x="64" y="470" width="3" height="1" fill="#7ac44c"/><rect x="67" y="470" width="1" height="1" fill="#58b874"/><rect x="68" y="470" width="1" height="1" fill="#4096ba"/><rect x="69" y="470" width="1" height="1" fill="#3464c0"/><rect x="70" y="470" width="3" height="1" fill="#303ea4"/><rect x="26" y="471" width="2" height="1" fill="#3464c0"/><rect x="28" y="471" width="2" height="1" fill="#4096ba"/><rect x="30" y="471" width="3" height="1" fill="#58b874"/><rect x="33" y="471" width="3" height="1" fill="#4096ba"/><rect x="36" y="471" width="1" height="1" fill="#3464c0"/><rect x="37" y="471" width="2" height="1" fill="#303ea4"/><rect x="54" y="471" width="1" height="1" fill="#303ea4"/><rect x="55" y="471" width="1" height="1" fill="#3464c0"/><rect x="56" y="471" width="1" height="1" fill="#4096ba"/><rect x="57" y="471" width="2" height="1" fill="#58b874"/><rect x="59" y="471" width="2" height="1" fill="#7ac44c"/><rect x="61" y="471" width="3" height="1" fill="#ccd62c"/><rect x="64" y="471" width="3" height="1" fill="#7ac44c"/><rect x="67" y="471" width="1" height="1" fill="#58b874"/><rect x="68" y="471" width="1" height="1" fill="#4096ba"/><rect x="69" y="471" width="1" height="1" fill="#3464c0"/><rect x="70" y="471" width="3" height="1" fill="#303ea4"/><rect x="26" y="472" width="1" height="1" fill="#3464c0"/><rect x="27" y="472" width="1" height="1" fill="#4096ba"/><rect x="28" y="472" width="7" height="1" fill="#58b874"/><rect x="35" y="472" width="2" height="1" fill="#4096ba"/><rect x="37" y="472" width="1" height="1" fill="#3464c0"/><rect x="38" y="472" width="2" height="1" fill="#303ea4"/><rect x="54" y="472" width="1" height="1" fill="#303ea4"/><rect x="55" y="472" width="1" height="1" fill="#3464c0"/><rect x="56" y="472" width="1" height="1" fill="#4096ba"/><rect x="57" y="472" width="2" height="1" fill="#58b874"/><rect x="59" y="472" width="2" height="1" fill="#7ac44c"/><rect x="61" y="472" width="3" height="1" fill="#ccd62c"/><rect x="64" y="472" width="2" height="1" fill="#7ac44c"/><rect x="66" y="472" width="2" height="1" fill="#58b874"/><rect x="68" y="472" width="1" height="1" fill="#4096ba"/><rect x="69" y="472" width="1" height="1" fill="#3464c0"/><rect x="70" y="472" width="2" height="1" fill="#303ea4"/><rect x="26" y="473" width="1" height="1" fill="#4096ba"/><rect x="27" y="473" width="3" height="1" fill="#58b874"/><rect x="30" y="473" width="4" height="1" fill="#7ac44c"/><rect x="34" y="473" width="2" height="1" fill="#58b874"/><rect x="36" y="473" width="2" height="1" fill="#4096ba"/><rect x="38" y="473" width="1" height="1" fill="#3464c0"/><rect x="39" y="473" width="2" height="1" fill="#303ea4"/><rect x="54" y="473" width="1" height="1" fill="#303ea4"/><rect x="55" y="473" width="1" height="1" fill="#3464c0"/><rect x="56" y="473" width="1" height="1" fill="#4096ba"/><rect x="57" y="473" width="2" height="1" fill="#58b874"/><rect x="59" y="473" width="3" height="1" fill="#7ac44c"/><rect x="62" y="473" width="1" height="1" fill="#ccd62c"/><rect x="63" y="473" width="3" height="1" fill="#7ac44c"/><rect x="66" y="473" width="2" height="1" fill="#58b874"/><rect x="68" y="473" width="1" height="1" fill="#4096ba"/><rect x="69" y="473" width="1" height="1" fill="#3464c0"/><rect x="70" y="473" width="2" height="1" fill="#303ea4"/><rect x="26" y="474" width="1" height="1" fill="#4096ba"/><rect x="27" y="474" width="2" height="1" fill="#58b874"/><rect x="29" y="474" width="6" height="1" fill="#7ac44c"/><rect x="35" y="474" width="2" height="1" fill="#58b874"/><rect x="37" y="474" width="1" height="1" fill="#4096ba"/><rect x="38" y="474" width="1" height="1" fill="#3464c0"/><rect x="39" y="474" width="2" height="1" fill="#303ea4"/><rect x="54" y="474" width="2" height="1" fill="#303ea4"/><rect x="56" y="474" width="1" height="1" fill="#3464c0"/><rect x="57" y="474" width="1" height="1" fill="#4096ba"/><rect x="58" y="474" width="1" height="1" fill="#58b874"/><rect x="59" y="474" width="7" height="1" fill="#7ac44c"/><rect x="66" y="474" width="1" height="1" fill="#58b874"/><rect x="67" y="474" width="1" height="1" fill="#4096ba"/><rect x="68" y="474" width="1" height="1" fill="#3464c0"/><rect x="69" y="474" width="3" height="1" fill="#303ea4"/><rect x="26" y="475" width="2" height="1" fill="#58b874"/><rect x="28" y="475" width="7" height="1" fill="#7ac44c"/><rect x="35" y="475" width="2" height="1" fill="#58b874"/><rect x="37" y="475" width="1" height="1" fill="#4096ba"/><rect x="38" y="475" width="1" height="1" fill="#3464c0"/><rect x="39" y="475" width="2" height="1" fill="#303ea4"/><rect x="54" y="475" width="2" height="1" fill="#303ea4"/><rect x="56" y="475" width="1" height="1" fill="#3464c0"/><rect x="57" y="475" width="1" height="1" fill="#4096ba"/><rect x="58" y="475" width="2" height="1" fill="#58b874"/><rect x="60" y="475" width="5" height="1" fill="#7ac44c"/><rect x="65" y="475" width="2" height="1" fill="#58b874"/><rect x="67" y="475" width="1" height="1" fill="#4096ba"/><rect x="68" y="475" width="1" height="1" fill="#3464c0"/><rect x="69" y="475" width="2" height="1" fill="#303ea4"/><rect x="26" y="476" width="2" height="1" fill="#58b874"/><rect x="28" y="476" width="7" height="1" fill="#7ac44c"/><rect x="35" y="476" width="2" height="1" fill="#58b874"/><rect x="37" y="476" width="1" height="1" fill="#4096ba"/><rect x="38" y="476" width="1" height="1" fill="#3464c0"/><rect x="39" y="476" width="2" height="1" fill="#303ea4"/><rect x="54" y="476" width="2" height="1" fill="#303ea4"/><rect x="56" y="476" width="1" height="1" fill="#3464c0"/><rect x="57" y="476" width="1" height="1" fill="#4096ba"/><rect x="58" y="476" width="2" height="1" fill="#58b874"/><rect x="60" y="476" width="4" height="1" fill="#7ac44c"/><rect x="64" y="476" width="2" height="1" fill="#58b874"/><rect x="66" y="476" width="1" height="1" fill="#4096ba"/><rect x="67" y="476" width="2" height="1" fill="#3464c0"/><rect x="69" y="476" width="2" height="1" fill="#303ea4"/><rect x="26" y="477" width="1" height="1" fill="#4096ba"/><rect x="27" y="477" width="2" height="1" fill="#58b874"/><rect x="29" y="477" width="6" height="1" fill="#7ac44c"/><rect x="35" y="477" width="2" height="1" fill="#58b874"/><rect x="37" y="477" width="1" height="1" fill="#4096ba"/><rect x="38" y="477" width="1" height="1" fill="#3464c0"/><rect x="39" y="477" width="2" height="1" fill="#303ea4"/><rect x="54" y="477" width="2" height="1" fill="#303ea4"/><rect x="56" y="477" width="2" height="1" fill="#3464c0"/><rect x="58" y="477" width="1" height="1" fill="#4096ba"/><rect x="59" y="477" width="6" height="1" fill="#58b874"/><rect x="65" y="477" width="2" height="1" fill="#4096ba"/><rect x="67" y="477" width="1" height="1" fill="#3464c0"/><rect x="68" y="477" width="2" height="1" fill="#303ea4"/><rect x="26" y="478" width="1" height="1" fill="#4096ba"/><rect x="27" y="478" width="3" height="1" fill="#58b874"/><rect x="30" y="478" width="4" height="1" fill="#7ac44c"/><rect x="34" y="478" width="2" height="1" fill="#58b874"/><rect x="36" y="478" width="2" height="1" fill="#4096ba"/><rect x="38" y="478" width="1" height="1" fill="#3464c0"/><rect x="39" y="478" width="2" height="1" fill="#303ea4"/><rect x="55" y="478" width="2" height="1" fill="#303ea4"/><rect x="57" y="478" width="1" height="1" fill="#3464c0"/><rect x="58" y="478" width="2" height="1" fill="#4096ba"/><rect x="60" y="478" width="4" height="1" fill="#58b874"/><rect x="64" y="478" width="2" height="1" fill="#4096ba"/><rect x="66" y="478" width="1" height="1" fill="#3464c0"/><rect x="67" y="478" width="3" height="1" fill="#303ea4"/></g>
<g fill="#505abe"><rect x="67.2" y="437.3" width=".8" height=".8" fill-opacity="0.80"/><rect x="70.2" y="437.0" width=".8" height=".8" fill-opacity="0.55"/><rect x="70.2" y="439.0" width=".8" height=".8" fill-opacity="0.48"/><rect x="68.0" y="440.1" width=".8" height=".8" fill-opacity="0.47"/><rect x="69.3" y="440.1" width=".8" height=".8" fill-opacity="0.83"/><rect x="67.2" y="441.3" width=".8" height=".8" fill-opacity="0.85"/><rect x="68.0" y="441.2" width=".8" height=".8" fill-opacity="0.61"/><rect x="66.1" y="442.0" width=".8" height=".8" fill-opacity="0.73"/><rect x="70.1" y="442.1" width=".8" height=".8" fill-opacity="0.45"/><rect x="60.3" y="443.1" width=".8" height=".8" fill-opacity="0.69"/><rect x="63.3" y="443.1" width=".8" height=".8" fill-opacity="0.59"/><rect x="64.3" y="443.2" width=".8" height=".8" fill-opacity="0.91"/><rect x="65.0" y="443.2" width=".8" height=".8" fill-opacity="0.82"/><rect x="68.1" y="443.1" width=".8" height=".8" fill-opacity="0.61"/><rect x="69.1" y="443.1" width=".8" height=".8" fill-opacity="0.90"/><rect x="71.0" y="443.2" width=".8" height=".8" fill-opacity="0.81"/><rect x="57.2" y="444.1" width=".8" height=".8" fill-opacity="0.86"/><rect x="59.3" y="444.3" width=".8" height=".8" fill-opacity="0.81"/><rect x="62.1" y="444.1" width=".8" height=".8" fill-opacity="0.82"/><rect x="70.1" y="444.1" width=".8" height=".8" fill-opacity="0.73"/><rect x="71.0" y="444.3" width=".8" height=".8" fill-opacity="0.85"/><rect x="60.3" y="446.2" width=".8" height=".8" fill-opacity="0.80"/><rect x="72.3" y="446.1" width=".8" height=".8" fill-opacity="0.67"/><rect x="76.0" y="446.1" width=".8" height=".8" fill-opacity="0.47"/><rect x="56.1" y="447.3" width=".8" height=".8" fill-opacity="0.72"/><rect x="43.2" y="448.3" width=".8" height=".8" fill-opacity="0.45"/><rect x="59.2" y="448.2" width=".8" height=".8" fill-opacity="0.58"/><rect x="73.1" y="448.2" width=".8" height=".8" fill-opacity="0.61"/><rect x="46.0" y="449.1" width=".8" height=".8" fill-opacity="0.52"/><rect x="74.1" y="449.0" width=".8" height=".8" fill-opacity="0.56"/><rect x="75.3" y="449.1" width=".8" height=".8" fill-opacity="0.50"/><rect x="42.2" y="450.1" width=".8" height=".8" fill-opacity="0.73"/><rect x="46.1" y="450.3" width=".8" height=".8" fill-opacity="0.82"/><rect x="57.2" y="450.1" width=".8" height=".8" fill-opacity="0.48"/><rect x="58.1" y="450.2" width=".8" height=".8" fill-opacity="0.63"/><rect x="75.1" y="450.1" width=".8" height=".8" fill-opacity="0.57"/><rect x="76.1" y="450.0" width=".8" height=".8" fill-opacity="0.45"/><rect x="78.2" y="450.2" width=".8" height=".8" fill-opacity="0.89"/><rect x="43.3" y="451.2" width=".8" height=".8" fill-opacity="0.82"/><rect x="55.0" y="451.1" width=".8" height=".8" fill-opacity="0.75"/><rect x="74.2" y="451.3" width=".8" height=".8" fill-opacity="0.74"/><rect x="79.2" y="451.1" width=".8" height=".8" fill-opacity="0.55"/><rect x="43.3" y="452.1" width=".8" height=".8" fill-opacity="0.66"/><rect x="49.1" y="452.0" width=".8" height=".8" fill-opacity="0.63"/><rect x="51.2" y="452.2" width=".8" height=".8" fill-opacity="0.65"/><rect x="55.2" y="452.2" width=".8" height=".8" fill-opacity="0.89"/><rect x="74.0" y="452.3" width=".8" height=".8" fill-opacity="0.77"/><rect x="76.1" y="452.1" width=".8" height=".8" fill-opacity="0.53"/><rect x="78.2" y="452.1" width=".8" height=".8" fill-opacity="0.74"/><rect x="38.2" y="453.3" width=".8" height=".8" fill-opacity="0.94"/><rect x="42.2" y="453.1" width=".8" height=".8" fill-opacity="0.68"/><rect x="54.2" y="453.1" width=".8" height=".8" fill-opacity="0.60"/><rect x="55.2" y="453.0" width=".8" height=".8" fill-opacity="0.56"/><rect x="56.3" y="453.2" width=".8" height=".8" fill-opacity="0.67"/><rect x="74.2" y="453.1" width=".8" height=".8" fill-opacity="0.49"/><rect x="75.1" y="453.2" width=".8" height=".8" fill-opacity="0.51"/><rect x="78.0" y="453.3" width=".8" height=".8" fill-opacity="0.73"/><rect x="79.3" y="453.1" width=".8" height=".8" fill-opacity="0.69"/><rect x="56.2" y="454.1" width=".8" height=".8" fill-opacity="0.49"/><rect x="74.0" y="454.0" width=".8" height=".8" fill-opacity="0.46"/><rect x="76.1" y="454.2" width=".8" height=".8" fill-opacity="0.47"/><rect x="44.3" y="455.0" width=".8" height=".8" fill-opacity="0.69"/><rect x="47.2" y="455.3" width=".8" height=".8" fill-opacity="0.88"/><rect x="48.0" y="455.3" width=".8" height=".8" fill-opacity="0.48"/><rect x="56.2" y="455.0" width=".8" height=".8" fill-opacity="0.74"/><rect x="74.3" y="455.3" width=".8" height=".8" fill-opacity="0.77"/><rect x="76.1" y="455.1" width=".8" height=".8" fill-opacity="0.67"/><rect x="77.1" y="455.1" width=".8" height=".8" fill-opacity="0.56"/><rect x="43.2" y="456.2" width=".8" height=".8" fill-opacity="0.79"/><rect x="44.2" y="456.2" width=".8" height=".8" fill-opacity="0.56"/><rect x="45.1" y="456.0" width=".8" height=".8" fill-opacity="0.73"/><rect x="54.1" y="456.2" width=".8" height=".8" fill-opacity="0.47"/><rect x="55.1" y="456.1" width=".8" height=".8" fill-opacity="0.56"/><rect x="56.3" y="456.3" width=".8" height=".8" fill-opacity="0.93"/><rect x="74.2" y="456.1" width=".8" height=".8" fill-opacity="0.95"/><rect x="75.0" y="456.3" width=".8" height=".8" fill-opacity="0.87"/><rect x="76.1" y="456.2" width=".8" height=".8" fill-opacity="0.62"/><rect x="77.3" y="456.1" width=".8" height=".8" fill-opacity="0.48"/><rect x="45.2" y="457.2" width=".8" height=".8" fill-opacity="0.84"/><rect x="46.1" y="457.2" width=".8" height=".8" fill-opacity="0.72"/><rect x="48.1" y="457.2" width=".8" height=".8" fill-opacity="0.80"/><rect x="51.2" y="457.2" width=".8" height=".8" fill-opacity="0.92"/><rect x="54.0" y="457.1" width=".8" height=".8" fill-opacity="0.86"/><rect x="74.2" y="457.3" width=".8" height=".8" fill-opacity="0.62"/><rect x="75.1" y="457.3" width=".8" height=".8" fill-opacity="0.82"/><rect x="76.2" y="457.0" width=".8" height=".8" fill-opacity="0.64"/><rect x="79.1" y="457.1" width=".8" height=".8" fill-opacity="0.54"/><rect x="46.2" y="458.1" width=".8" height=".8" fill-opacity="0.68"/><rect x="47.2" y="458.3" width=".8" height=".8" fill-opacity="0.49"/><rect x="55.1" y="458.2" width=".8" height=".8" fill-opacity="0.65"/><rect x="74.0" y="458.3" width=".8" height=".8" fill-opacity="0.76"/><rect x="75.1" y="458.2" width=".8" height=".8" fill-opacity="0.69"/><rect x="79.1" y="458.2" width=".8" height=".8" fill-opacity="0.59"/><rect x="43.1" y="459.2" width=".8" height=".8" fill-opacity="0.51"/><rect x="44.0" y="459.2" width=".8" height=".8" fill-opacity="0.93"/><rect x="45.3" y="459.3" width=".8" height=".8" fill-opacity="0.92"/><rect x="48.3" y="459.0" width=".8" height=".8" fill-opacity="0.51"/><rect x="49.1" y="459.1" width=".8" height=".8" fill-opacity="0.63"/><rect x="55.2" y="459.0" width=".8" height=".8" fill-opacity="0.63"/><rect x="74.2" y="459.0" width=".8" height=".8" fill-opacity="0.64"/><rect x="77.1" y="459.0" width=".8" height=".8" fill-opacity="0.57"/><rect x="81.1" y="459.1" width=".8" height=".8" fill-opacity="0.85"/><rect x="34.1" y="460.0" width=".8" height=".8" fill-opacity="0.65"/><rect x="38.2" y="460.1" width=".8" height=".8" fill-opacity="0.90"/><rect x="41.0" y="460.1" width=".8" height=".8" fill-opacity="0.50"/><rect x="42.0" y="460.1" width=".8" height=".8" fill-opacity="0.47"/><rect x="43.1" y="460.2" width=".8" height=".8" fill-opacity="0.92"/><rect x="44.3" y="460.1" width=".8" height=".8" fill-opacity="0.74"/><rect x="49.1" y="460.3" width=".8" height=".8" fill-opacity="0.82"/><rect x="55.3" y="460.3" width=".8" height=".8" fill-opacity="0.63"/><rect x="74.0" y="460.1" width=".8" height=".8" fill-opacity="0.75"/><rect x="38.2" y="461.0" width=".8" height=".8" fill-opacity="0.48"/><rect x="43.0" y="461.1" width=".8" height=".8" fill-opacity="0.84"/><rect x="44.2" y="461.2" width=".8" height=".8" fill-opacity="0.60"/><rect x="45.2" y="461.0" width=".8" height=".8" fill-opacity="0.89"/><rect x="48.2" y="461.2" width=".8" height=".8" fill-opacity="0.46"/><rect x="49.1" y="461.2" width=".8" height=".8" fill-opacity="0.74"/><rect x="53.1" y="461.2" width=".8" height=".8" fill-opacity="0.65"/><rect x="54.0" y="461.3" width=".8" height=".8" fill-opacity="0.70"/><rect x="74.1" y="461.2" width=".8" height=".8" fill-opacity="0.88"/><rect x="75.1" y="461.3" width=".8" height=".8" fill-opacity="0.92"/><rect x="76.2" y="461.2" width=".8" height=".8" fill-opacity="0.47"/><rect x="40.0" y="462.2" width=".8" height=".8" fill-opacity="0.55"/><rect x="41.2" y="462.0" width=".8" height=".8" fill-opacity="0.69"/><rect x="45.0" y="462.0" width=".8" height=".8" fill-opacity="0.59"/><rect x="47.0" y="462.2" width=".8" height=".8" fill-opacity="0.81"/><rect x="74.3" y="462.2" width=".8" height=".8" fill-opacity="0.60"/><rect x="75.2" y="462.2" width=".8" height=".8" fill-opacity="0.95"/><rect x="36.1" y="463.1" width=".8" height=".8" fill-opacity="0.62"/><rect x="38.0" y="463.1" width=".8" height=".8" fill-opacity="0.56"/><rect x="41.2" y="463.1" width=".8" height=".8" fill-opacity="0.50"/><rect x="43.1" y="463.2" width=".8" height=".8" fill-opacity="0.70"/><rect x="45.1" y="463.0" width=".8" height=".8" fill-opacity="0.87"/><rect x="48.2" y="463.1" width=".8" height=".8" fill-opacity="0.58"/><rect x="53.3" y="463.1" width=".8" height=".8" fill-opacity="0.87"/><rect x="75.0" y="463.2" width=".8" height=".8" fill-opacity="0.63"/><rect x="36.0" y="464.0" width=".8" height=".8" fill-opacity="0.53"/><rect x="39.0" y="464.0" width=".8" height=".8" fill-opacity="0.54"/><rect x="41.2" y="464.1" width=".8" height=".8" fill-opacity="0.94"/><rect x="42.0" y="464.2" width=".8" height=".8" fill-opacity="0.48"/><rect x="43.0" y="464.1" width=".8" height=".8" fill-opacity="0.66"/><rect x="44.1" y="464.0" width=".8" height=".8" fill-opacity="0.79"/><rect x="45.0" y="464.1" width=".8" height=".8" fill-opacity="0.65"/><rect x="46.1" y="464.2" width=".8" height=".8" fill-opacity="0.70"/><rect x="51.2" y="464.0" width=".8" height=".8" fill-opacity="0.53"/><rect x="54.1" y="464.0" width=".8" height=".8" fill-opacity="0.54"/><rect x="74.1" y="464.3" width=".8" height=".8" fill-opacity="0.73"/><rect x="79.0" y="464.2" width=".8" height=".8" fill-opacity="0.78"/><rect x="40.2" y="465.2" width=".8" height=".8" fill-opacity="0.66"/><rect x="42.1" y="465.1" width=".8" height=".8" fill-opacity="0.54"/><rect x="45.1" y="465.2" width=".8" height=".8" fill-opacity="0.76"/><rect x="48.2" y="465.1" width=".8" height=".8" fill-opacity="0.59"/><rect x="49.2" y="465.2" width=".8" height=".8" fill-opacity="0.87"/><rect x="74.1" y="465.2" width=".8" height=".8" fill-opacity="0.53"/><rect x="29.2" y="466.1" width=".8" height=".8" fill-opacity="0.48"/><rect x="34.1" y="466.0" width=".8" height=".8" fill-opacity="0.61"/><rect x="36.2" y="466.1" width=".8" height=".8" fill-opacity="0.79"/><rect x="38.2" y="466.2" width=".8" height=".8" fill-opacity="0.68"/><rect x="39.1" y="466.3" width=".8" height=".8" fill-opacity="0.46"/><rect x="41.1" y="466.3" width=".8" height=".8" fill-opacity="0.89"/><rect x="43.1" y="466.1" width=".8" height=".8" fill-opacity="0.69"/><rect x="44.0" y="466.1" width=".8" height=".8" fill-opacity="0.57"/><rect x="45.2" y="466.2" width=".8" height=".8" fill-opacity="0.90"/><rect x="47.0" y="466.0" width=".8" height=".8" fill-opacity="0.56"/><rect x="49.3" y="466.3" width=".8" height=".8" fill-opacity="0.56"/><rect x="50.1" y="466.1" width=".8" height=".8" fill-opacity="0.46"/><rect x="74.2" y="466.1" width=".8" height=".8" fill-opacity="0.72"/><rect x="30.2" y="467.0" width=".8" height=".8" fill-opacity="0.54"/><rect x="31.2" y="467.0" width=".8" height=".8" fill-opacity="0.90"/><rect x="32.0" y="467.0" width=".8" height=".8" fill-opacity="0.73"/><rect x="33.2" y="467.2" width=".8" height=".8" fill-opacity="0.58"/><rect x="36.1" y="467.2" width=".8" height=".8" fill-opacity="0.73"/><rect x="38.1" y="467.2" width=".8" height=".8" fill-opacity="0.91"/><rect x="39.2" y="467.1" width=".8" height=".8" fill-opacity="0.89"/><rect x="40.2" y="467.0" width=".8" height=".8" fill-opacity="0.51"/><rect x="42.2" y="467.1" width=".8" height=".8" fill-opacity="0.86"/><rect x="43.1" y="467.2" width=".8" height=".8" fill-opacity="0.73"/><rect x="53.1" y="467.2" width=".8" height=".8" fill-opacity="0.57"/><rect x="73.2" y="467.0" width=".8" height=".8" fill-opacity="0.87"/><rect x="74.1" y="467.1" width=".8" height=".8" fill-opacity="0.52"/><rect x="27.3" y="468.0" width=".8" height=".8" fill-opacity="0.90"/><rect x="28.1" y="468.1" width=".8" height=".8" fill-opacity="0.56"/><rect x="35.1" y="468.2" width=".8" height=".8" fill-opacity="0.91"/><rect x="36.1" y="468.2" width=".8" height=".8" fill-opacity="0.93"/><rect x="37.2" y="468.2" width=".8" height=".8" fill-opacity="0.66"/><rect x="38.1" y="468.2" width=".8" height=".8" fill-opacity="0.93"/><rect x="39.2" y="468.2" width=".8" height=".8" fill-opacity="0.91"/><rect x="43.1" y="468.1" width=".8" height=".8" fill-opacity="0.92"/><rect x="44.3" y="468.1" width=".8" height=".8" fill-opacity="0.50"/><rect x="73.1" y="468.1" width=".8" height=".8" fill-opacity="0.90"/><rect x="37.3" y="469.2" width=".8" height=".8" fill-opacity="0.80"/><rect x="38.0" y="469.1" width=".8" height=".8" fill-opacity="0.62"/><rect x="39.2" y="469.3" width=".8" height=".8" fill-opacity="0.69"/><rect x="40.0" y="469.1" width=".8" height=".8" fill-opacity="0.45"/><rect x="41.2" y="469.1" width=".8" height=".8" fill-opacity="0.72"/><rect x="42.2" y="469.0" width=".8" height=".8" fill-opacity="0.89"/><rect x="43.2" y="469.1" width=".8" height=".8" fill-opacity="0.57"/><rect x="46.1" y="469.3" width=".8" height=".8" fill-opacity="0.85"/><rect x="50.1" y="469.3" width=".8" height=".8" fill-opacity="0.54"/><rect x="51.1" y="469.1" width=".8" height=".8" fill-opacity="0.48"/><rect x="52.1" y="469.3" width=".8" height=".8" fill-opacity="0.94"/><rect x="53.0" y="469.1" width=".8" height=".8" fill-opacity="0.88"/><rect x="74.3" y="469.3" width=".8" height=".8" fill-opacity="0.70"/><rect x="75.2" y="469.3" width=".8" height=".8" fill-opacity="0.62"/><rect x="76.1" y="469.2" width=".8" height=".8" fill-opacity="0.59"/><rect x="39.0" y="470.2" width=".8" height=".8" fill-opacity="0.73"/><rect x="40.2" y="470.0" width=".8" height=".8" fill-opacity="0.63"/><rect x="42.2" y="470.1" width=".8" height=".8" fill-opacity="0.75"/><rect x="44.1" y="470.1" width=".8" height=".8" fill-opacity="0.83"/><rect x="46.2" y="470.3" width=".8" height=".8" fill-opacity="0.60"/><rect x="48.3" y="470.2" width=".8" height=".8" fill-opacity="0.67"/><rect x="50.1" y="470.1" width=".8" height=".8" fill-opacity="0.61"/><rect x="52.1" y="470.2" width=".8" height=".8" fill-opacity="0.65"/><rect x="53.0" y="470.1" width=".8" height=".8" fill-opacity="0.87"/><rect x="73.1" y="470.2" width=".8" height=".8" fill-opacity="0.66"/><rect x="39.1" y="471.3" width=".8" height=".8" fill-opacity="0.92"/><rect x="40.2" y="471.2" width=".8" height=".8" fill-opacity="0.57"/><rect x="41.2" y="471.3" width=".8" height=".8" fill-opacity="0.89"/><rect x="42.3" y="471.2" width=".8" height=".8" fill-opacity="0.73"/><rect x="43.0" y="471.2" width=".8" height=".8" fill-opacity="0.53"/><rect x="45.1" y="471.0" width=".8" height=".8" fill-opacity="0.79"/><rect x="46.2" y="471.2" width=".8" height=".8" fill-opacity="0.79"/><rect x="47.1" y="471.3" width=".8" height=".8" fill-opacity="0.78"/><rect x="50.3" y="471.2" width=".8" height=".8" fill-opacity="0.72"/><rect x="51.2" y="471.3" width=".8" height=".8" fill-opacity="0.71"/><rect x="53.1" y="471.3" width=".8" height=".8" fill-opacity="0.55"/><rect x="73.0" y="471.1" width=".8" height=".8" fill-opacity="0.47"/><rect x="74.2" y="471.3" width=".8" height=".8" fill-opacity="0.51"/><rect x="75.3" y="471.0" width=".8" height=".8" fill-opacity="0.69"/><rect x="78.2" y="471.2" width=".8" height=".8" fill-opacity="0.80"/><rect x="80.3" y="471.1" width=".8" height=".8" fill-opacity="0.72"/><rect x="40.3" y="472.1" width=".8" height=".8" fill-opacity="0.93"/><rect x="41.0" y="472.1" width=".8" height=".8" fill-opacity="0.66"/><rect x="42.1" y="472.1" width=".8" height=".8" fill-opacity="0.55"/><rect x="43.1" y="472.2" width=".8" height=".8" fill-opacity="0.79"/><rect x="44.2" y="472.2" width=".8" height=".8" fill-opacity="0.87"/><rect x="45.1" y="472.0" width=".8" height=".8" fill-opacity="0.67"/><rect x="46.1" y="472.1" width=".8" height=".8" fill-opacity="0.68"/><rect x="47.2" y="472.3" width=".8" height=".8" fill-opacity="0.85"/><rect x="48.1" y="472.2" width=".8" height=".8" fill-opacity="0.64"/><rect x="50.2" y="472.3" width=".8" height=".8" fill-opacity="0.63"/><rect x="53.1" y="472.2" width=".8" height=".8" fill-opacity="0.82"/><rect x="72.2" y="472.1" width=".8" height=".8" fill-opacity="0.85"/><rect x="73.2" y="472.0" width=".8" height=".8" fill-opacity="0.76"/><rect x="41.1" y="473.2" width=".8" height=".8" fill-opacity="0.91"/><rect x="42.2" y="473.3" width=".8" height=".8" fill-opacity="0.91"/><rect x="43.1" y="473.2" width=".8" height=".8" fill-opacity="0.80"/><rect x="44.1" y="473.2" width=".8" height=".8" fill-opacity="0.65"/><rect x="45.3" y="473.1" width=".8" height=".8" fill-opacity="0.85"/><rect x="46.2" y="473.2" width=".8" height=".8" fill-opacity="0.72"/><rect x="47.3" y="473.3" width=".8" height=".8" fill-opacity="0.56"/><rect x="48.2" y="473.3" width=".8" height=".8" fill-opacity="0.74"/><rect x="53.2" y="473.1" width=".8" height=".8" fill-opacity="0.91"/><rect x="72.1" y="473.2" width=".8" height=".8" fill-opacity="0.88"/><rect x="74.0" y="473.0" width=".8" height=".8" fill-opacity="0.61"/><rect x="41.1" y="474.2" width=".8" height=".8" fill-opacity="0.92"/><rect x="42.2" y="474.0" width=".8" height=".8" fill-opacity="0.57"/><rect x="43.1" y="474.2" width=".8" height=".8" fill-opacity="0.59"/><rect x="44.1" y="474.2" width=".8" height=".8" fill-opacity="0.90"/><rect x="46.0" y="474.1" width=".8" height=".8" fill-opacity="0.52"/><rect x="47.1" y="474.2" width=".8" height=".8" fill-opacity="0.83"/><rect x="48.0" y="474.2" width=".8" height=".8" fill-opacity="0.58"/><rect x="51.2" y="474.2" width=".8" height=".8" fill-opacity="0.45"/><rect x="53.2" y="474.1" width=".8" height=".8" fill-opacity="0.94"/><rect x="72.2" y="474.0" width=".8" height=".8" fill-opacity="0.49"/><rect x="41.2" y="475.1" width=".8" height=".8" fill-opacity="0.85"/><rect x="42.1" y="475.2" width=".8" height=".8" fill-opacity="0.80"/><rect x="43.0" y="475.2" width=".8" height=".8" fill-opacity="0.84"/><rect x="44.2" y="475.1" width=".8" height=".8" fill-opacity="0.50"/><rect x="45.0" y="475.3" width=".8" height=".8" fill-opacity="0.77"/><rect x="46.2" y="475.1" width=".8" height=".8" fill-opacity="0.69"/><rect x="50.2" y="475.3" width=".8" height=".8" fill-opacity="0.62"/><rect x="53.3" y="475.2" width=".8" height=".8" fill-opacity="0.67"/><rect x="71.1" y="475.0" width=".8" height=".8" fill-opacity="0.47"/><rect x="72.1" y="475.1" width=".8" height=".8" fill-opacity="0.82"/><rect x="73.2" y="475.1" width=".8" height=".8" fill-opacity="0.87"/><rect x="41.0" y="476.1" width=".8" height=".8" fill-opacity="0.65"/><rect x="42.2" y="476.2" width=".8" height=".8" fill-opacity="0.82"/><rect x="43.2" y="476.2" width=".8" height=".8" fill-opacity="0.70"/><rect x="44.1" y="476.2" width=".8" height=".8" fill-opacity="0.73"/><rect x="45.2" y="476.0" width=".8" height=".8" fill-opacity="0.55"/><rect x="46.2" y="476.0" width=".8" height=".8" fill-opacity="0.54"/><rect x="50.3" y="476.0" width=".8" height=".8" fill-opacity="0.63"/><rect x="51.0" y="476.3" width=".8" height=".8" fill-opacity="0.63"/><rect x="52.1" y="476.1" width=".8" height=".8" fill-opacity="0.51"/><rect x="71.1" y="476.1" width=".8" height=".8" fill-opacity="0.78"/><rect x="41.2" y="477.3" width=".8" height=".8" fill-opacity="0.64"/><rect x="42.1" y="477.2" width=".8" height=".8" fill-opacity="0.61"/><rect x="43.1" y="477.3" width=".8" height=".8" fill-opacity="0.60"/><rect x="44.2" y="477.0" width=".8" height=".8" fill-opacity="0.75"/><rect x="45.2" y="477.2" width=".8" height=".8" fill-opacity="0.52"/><rect x="46.1" y="477.1" width=".8" height=".8" fill-opacity="0.95"/><rect x="47.2" y="477.2" width=".8" height=".8" fill-opacity="0.55"/><rect x="48.0" y="477.0" width=".8" height=".8" fill-opacity="0.91"/><rect x="53.1" y="477.2" width=".8" height=".8" fill-opacity="0.69"/><rect x="70.1" y="477.2" width=".8" height=".8" fill-opacity="0.76"/><rect x="74.2" y="477.0" width=".8" height=".8" fill-opacity="0.55"/><rect x="41.3" y="478.3" width=".8" height=".8" fill-opacity="0.54"/><rect x="42.3" y="478.1" width=".8" height=".8" fill-opacity="0.92"/><rect x="43.1" y="478.0" width=".8" height=".8" fill-opacity="0.92"/><rect x="45.1" y="478.2" width=".8" height=".8" fill-opacity="0.73"/><rect x="46.1" y="478.2" width=".8" height=".8" fill-opacity="0.69"/><rect x="47.1" y="478.3" width=".8" height=".8" fill-opacity="0.91"/><rect x="48.0" y="478.3" width=".8" height=".8" fill-opacity="0.82"/><rect x="50.1" y="478.0" width=".8" height=".8" fill-opacity="0.65"/><rect x="54.2" y="478.3" width=".8" height=".8" fill-opacity="0.57"/><rect x="70.1" y="478.0" width=".8" height=".8" fill-opacity="0.57"/></g>
</g>
<rect x="26.3" y="416.0" width="63.10000000000001" height="62.80000000000001" fill="none" stroke="#999" stroke-width="0.7"/>
<line x1="51.8" y1="416.0" x2="51.8" y2="478.8" stroke="#777" stroke-width="0.8"/>
<line x1="26.3" y1="461.8" x2="89.4" y2="461.8" stroke="#777" stroke-width="0.8"/>
<text x="24.5" y="418.2" font-size="4.6" text-anchor="end" fill="#222" style="stroke-width:0.15px">10<tspan dy="-1.6" font-size="3.22">4</tspan></text>
<text x="24.5" y="433.09999999999997" font-size="4.6" text-anchor="end" fill="#222" style="stroke-width:0.15px">10<tspan dy="-1.6" font-size="3.22">3</tspan></text>
<text x="24.5" y="448.79999999999995" font-size="4.6" text-anchor="end" fill="#222" style="stroke-width:0.15px">10<tspan dy="-1.6" font-size="3.22">2</tspan></text>
<text x="24.5" y="463.8" font-size="4.6" text-anchor="end" fill="#222" style="stroke-width:0.15px">10<tspan dy="-1.6" font-size="3.22">1</tspan></text>
<text x="24.5" y="480.7" font-size="4.6" text-anchor="end" fill="#222" style="stroke-width:0.15px">10<tspan dy="-1.6" font-size="3.22">0</tspan></text>
<text x="41.144000000000005" y="485.8" font-size="4.6" text-anchor="middle" fill="#222" style="stroke-width:0.15px">10<tspan dy="-1.6" font-size="3.22">1</tspan></text>
<text x="56.28800000000001" y="485.8" font-size="4.6" text-anchor="middle" fill="#222" style="stroke-width:0.15px">10<tspan dy="-1.6" font-size="3.22">2</tspan></text>
<text x="71.432" y="485.8" font-size="4.6" text-anchor="middle" fill="#222" style="stroke-width:0.15px">10<tspan dy="-1.6" font-size="3.22">3</tspan></text>
<text x="86.57600000000001" y="485.8" font-size="4.6" text-anchor="middle" fill="#222" style="stroke-width:0.15px">10<tspan dy="-1.6" font-size="3.22">4</tspan></text>
<line x1="78.39999999999999" y1="416.0" x2="78.39999999999999" y2="435.5" stroke="#111" stroke-width="0.9"/>
<line x1="66.6" y1="425.8" x2="89.4" y2="425.8" stroke="#111" stroke-width="0.9"/>
<line x1="66.6" y1="432.5" x2="66.6" y2="421.5" stroke="#111" stroke-width="0.9"/>
<path d="M65.3,422.5 L66.6,419.8 L67.89999999999999,422.5 Z" fill="#111"/>
<line x1="70.39999999999999" y1="435.8" x2="84.6" y2="435.8" stroke="#111" stroke-width="1.0"/>
<path d="M83.8,434.4 L86.39999999999999,435.8 L83.8,437.2 Z" fill="#111"/>
<text x="75.8" y="423.2" font-size="4.8" text-anchor="end" fill="#111" style="stroke-width:0.18px">0.9</text>
<text x="79.39999999999999" y="423.2" font-size="4.8" text-anchor="start" fill="#111" style="stroke-width:0.18px">33.8</text>
<text x="76.19999999999999" y="431.6" font-size="4.8" text-anchor="end" fill="#111" style="stroke-width:0.18px">22.1</text>
<text x="79.39999999999999" y="431.6" font-size="4.8" text-anchor="start" fill="#111" style="stroke-width:0.18px">43.1</text>
<text x="112.5" y="408.8" font-size="9.9" text-anchor="start" fill="#111" textLength="65.0" lengthAdjust="spacingAndGlyphs">UNC1999 (BM)</text>
<text x="100.7" y="446.9" font-size="8.8" text-anchor="middle" fill="#111" textLength="18.3" lengthAdjust="spacingAndGlyphs" transform="rotate(-90 100.7 446.9)">c-Kit</text>
<line x1="98.0" y1="479.5" x2="98.0" y2="465.5" stroke="#111" stroke-width="0.9"/>
<path d="M96.4,466.5 L98.0,462.8 L99.6,466.5 Z" fill="#111"/>
<text x="135.0" y="494.0" font-size="7.0" text-anchor="start" fill="#111" textLength="43.0" lengthAdjust="spacingAndGlyphs">Gfp(MLL-AF9)</text>
<line x1="115.0" y1="492.4" x2="129.3" y2="492.4" stroke="#111" stroke-width="0.9"/>
<path d="M128.3,490.8 L131.3,492.4 L128.3,494 Z" fill="#111"/>
<clipPath id="cj2"><rect x="113.7" y="414.6" width="63.8" height="64.69999999999999"/></clipPath>
<g clip-path="url(#cj2)">
<rect x="113.7" y="414.6" width="63.8" height="64.69999999999999" fill="#fff"/>
<g filter="url(#bl2)"><rect x="153" y="445" width="4" height="1" fill="#303ea4"/><rect x="151" y="446" width="7" height="1" fill="#303ea4"/><rect x="150" y="447" width="9" height="1" fill="#303ea4"/><rect x="150" y="448" width="10" height="1" fill="#303ea4"/><rect x="149" y="449" width="3" height="1" fill="#303ea4"/><rect x="152" y="449" width="5" height="1" fill="#3464c0"/><rect x="157" y="449" width="4" height="1" fill="#303ea4"/><rect x="148" y="450" width="4" height="1" fill="#303ea4"/><rect x="152" y="450" width="5" height="1" fill="#3464c0"/><rect x="157" y="450" width="4" height="1" fill="#303ea4"/><rect x="148" y="451" width="3" height="1" fill="#303ea4"/><rect x="151" y="451" width="2" height="1" fill="#3464c0"/><rect x="153" y="451" width="2" height="1" fill="#4096ba"/><rect x="155" y="451" width="3" height="1" fill="#3464c0"/><rect x="158" y="451" width="3" height="1" fill="#303ea4"/><rect x="147" y="452" width="3" height="1" fill="#303ea4"/><rect x="150" y="452" width="2" height="1" fill="#3464c0"/><rect x="152" y="452" width="4" height="1" fill="#4096ba"/><rect x="156" y="452" width="2" height="1" fill="#3464c0"/><rect x="158" y="452" width="4" height="1" fill="#303ea4"/><rect x="147" y="453" width="3" height="1" fill="#303ea4"/><rect x="150" y="453" width="2" height="1" fill="#3464c0"/><rect x="152" y="453" width="5" height="1" fill="#4096ba"/><rect x="157" y="453" width="2" height="1" fill="#3464c0"/><rect x="159" y="453" width="3" height="1" fill="#303ea4"/><rect x="146" y="454" width="4" height="1" fill="#303ea4"/><rect x="150" y="454" width="1" height="1" fill="#3464c0"/><rect x="151" y="454" width="2" height="1" fill="#4096ba"/><rect x="153" y="454" width="2" height="1" fill="#58b874"/><rect x="155" y="454" width="2" height="1" fill="#4096ba"/><rect x="157" y="454" width="2" height="1" fill="#3464c0"/><rect x="159" y="454" width="3" height="1" fill="#303ea4"/><rect x="146" y="455" width="3" height="1" fill="#303ea4"/><rect x="149" y="455" width="2" height="1" fill="#3464c0"/><rect x="151" y="455" width="2" height="1" fill="#4096ba"/><rect x="153" y="455" width="2" height="1" fill="#58b874"/><rect x="155" y="455" width="2" height="1" fill="#4096ba"/><rect x="157" y="455" width="2" height="1" fill="#3464c0"/><rect x="159" y="455" width="4" height="1" fill="#303ea4"/><rect x="146" y="456" width="3" height="1" fill="#303ea4"/><rect x="149" y="456" width="2" height="1" fill="#3464c0"/><rect x="151" y="456" width="1" height="1" fill="#4096ba"/><rect x="152" y="456" width="4" height="1" fill="#58b874"/><rect x="156" y="456" width="1" height="1" fill="#4096ba"/><rect x="157" y="456" width="2" height="1" fill="#3464c0"/><rect x="159" y="456" width="4" height="1" fill="#303ea4"/><rect x="145" y="457" width="4" height="1" fill="#303ea4"/><rect x="149" y="457" width="1" height="1" fill="#3464c0"/><rect x="150" y="457" width="2" height="1" fill="#4096ba"/><rect x="152" y="457" width="4" height="1" fill="#58b874"/><rect x="156" y="457" width="1" height="1" fill="#4096ba"/><rect x="157" y="457" width="2" height="1" fill="#3464c0"/><rect x="159" y="457" width="4" height="1" fill="#303ea4"/><rect x="145" y="458" width="3" height="1" fill="#303ea4"/><rect x="148" y="458" width="2" height="1" fill="#3464c0"/><rect x="150" y="458" width="2" height="1" fill="#4096ba"/><rect x="152" y="458" width="4" height="1" fill="#58b874"/><rect x="156" y="458" width="1" height="1" fill="#4096ba"/><rect x="157" y="458" width="2" height="1" fill="#3464c0"/><rect x="159" y="458" width="4" height="1" fill="#303ea4"/><rect x="145" y="459" width="3" height="1" fill="#303ea4"/><rect x="148" y="459" width="2" height="1" fill="#3464c0"/><rect x="150" y="459" width="1" height="1" fill="#4096ba"/><rect x="151" y="459" width="5" height="1" fill="#58b874"/><rect x="156" y="459" width="2" height="1" fill="#4096ba"/><rect x="158" y="459" width="2" height="1" fill="#3464c0"/><rect x="160" y="459" width="3" height="1" fill="#303ea4"/><rect x="144" y="460" width="3" height="1" fill="#303ea4"/><rect x="147" y="460" width="2" height="1" fill="#3464c0"/><rect x="149" y="460" width="2" height="1" fill="#4096ba"/><rect x="151" y="460" width="5" height="1" fill="#58b874"/><rect x="156" y="460" width="2" height="1" fill="#4096ba"/><rect x="158" y="460" width="2" height="1" fill="#3464c0"/><rect x="160" y="460" width="3" height="1" fill="#303ea4"/><rect x="144" y="461" width="3" height="1" fill="#303ea4"/><rect x="147" y="461" width="1" height="1" fill="#3464c0"/><rect x="148" y="461" width="2" height="1" fill="#4096ba"/><rect x="150" y="461" width="6" height="1" fill="#58b874"/><rect x="156" y="461" width="2" height="1" fill="#4096ba"/><rect x="158" y="461" width="2" height="1" fill="#3464c0"/><rect x="160" y="461" width="3" height="1" fill="#303ea4"/><rect x="144" y="462" width="2" height="1" fill="#303ea4"/><rect x="146" y="462" width="2" height="1" fill="#3464c0"/><rect x="148" y="462" width="1" height="1" fill="#4096ba"/><rect x="149" y="462" width="7" height="1" fill="#58b874"/><rect x="156" y="462" width="2" height="1" fill="#4096ba"/><rect x="158" y="462" width="2" height="1" fill="#3464c0"/><rect x="160" y="462" width="3" height="1" fill="#303ea4"/><rect x="143" y="463" width="3" height="1" fill="#303ea4"/><rect x="146" y="463" width="1" height="1" fill="#3464c0"/><rect x="147" y="463" width="2" height="1" fill="#4096ba"/><rect x="149" y="463" width="8" height="1" fill="#58b874"/><rect x="157" y="463" width="1" height="1" fill="#4096ba"/><rect x="158" y="463" width="2" height="1" fill="#3464c0"/><rect x="160" y="463" width="3" height="1" fill="#303ea4"/><rect x="143" y="464" width="2" height="1" fill="#303ea4"/><rect x="145" y="464" width="2" height="1" fill="#3464c0"/><rect x="147" y="464" width="1" height="1" fill="#4096ba"/><rect x="148" y="464" width="3" height="1" fill="#58b874"/><rect x="151" y="464" width="3" height="1" fill="#7ac44c"/><rect x="154" y="464" width="3" height="1" fill="#58b874"/><rect x="157" y="464" width="1" height="1" fill="#4096ba"/><rect x="158" y="464" width="2" height="1" fill="#3464c0"/><rect x="160" y="464" width="3" height="1" fill="#303ea4"/><rect x="143" y="465" width="2" height="1" fill="#303ea4"/><rect x="145" y="465" width="1" height="1" fill="#3464c0"/><rect x="146" y="465" width="2" height="1" fill="#4096ba"/><rect x="148" y="465" width="2" height="1" fill="#58b874"/><rect x="150" y="465" width="5" height="1" fill="#7ac44c"/><rect x="155" y="465" width="2" height="1" fill="#58b874"/><rect x="157" y="465" width="2" height="1" fill="#4096ba"/><rect x="159" y="465" width="1" height="1" fill="#3464c0"/><rect x="160" y="465" width="3" height="1" fill="#303ea4"/><rect x="143" y="466" width="2" height="1" fill="#303ea4"/><rect x="145" y="466" width="1" height="1" fill="#3464c0"/><rect x="146" y="466" width="1" height="1" fill="#4096ba"/><rect x="147" y="466" width="2" height="1" fill="#58b874"/><rect x="149" y="466" width="6" height="1" fill="#7ac44c"/><rect x="155" y="466" width="2" height="1" fill="#58b874"/><rect x="157" y="466" width="2" height="1" fill="#4096ba"/><rect x="159" y="466" width="1" height="1" fill="#3464c0"/><rect x="160" y="466" width="3" height="1" fill="#303ea4"/><rect x="117" y="467" width="7" height="1" fill="#303ea4"/><rect x="143" y="467" width="2" height="1" fill="#303ea4"/><rect x="145" y="467" width="1" height="1" fill="#3464c0"/><rect x="146" y="467" width="1" height="1" fill="#4096ba"/><rect x="147" y="467" width="2" height="1" fill="#58b874"/><rect x="149" y="467" width="7" height="1" fill="#7ac44c"/><rect x="156" y="467" width="2" height="1" fill="#58b874"/><rect x="158" y="467" width="1" height="1" fill="#4096ba"/><rect x="159" y="467" width="1" height="1" fill="#3464c0"/><rect x="160" y="467" width="3" height="1" fill="#303ea4"/><rect x="115" y="468" width="3" height="1" fill="#303ea4"/><rect x="118" y="468" width="5" height="1" fill="#3464c0"/><rect x="123" y="468" width="3" height="1" fill="#303ea4"/><rect x="143" y="468" width="1" height="1" fill="#303ea4"/><rect x="144" y="468" width="2" height="1" fill="#3464c0"/><rect x="146" y="468" width="1" height="1" fill="#4096ba"/><rect x="147" y="468" width="1" height="1" fill="#58b874"/><rect x="148" y="468" width="3" height="1" fill="#7ac44c"/><rect x="151" y="468" width="2" height="1" fill="#ccd62c"/><rect x="153" y="468" width="3" height="1" fill="#7ac44c"/><rect x="156" y="468" width="2" height="1" fill="#58b874"/><rect x="158" y="468" width="1" height="1" fill="#4096ba"/><rect x="159" y="468" width="1" height="1" fill="#3464c0"/><rect x="160" y="468" width="3" height="1" fill="#303ea4"/><rect x="114" y="469" width="2" height="1" fill="#303ea4"/><rect x="116" y="469" width="2" height="1" fill="#3464c0"/><rect x="118" y="469" width="5" height="1" fill="#4096ba"/><rect x="123" y="469" width="2" height="1" fill="#3464c0"/><rect x="125" y="469" width="2" height="1" fill="#303ea4"/><rect x="142" y="469" width="2" height="1" fill="#303ea4"/><rect x="144" y="469" width="1" height="1" fill="#3464c0"/><rect x="145" y="469" width="1" height="1" fill="#4096ba"/><rect x="146" y="469" width="2" height="1" fill="#58b874"/><rect x="148" y="469" width="3" height="1" fill="#7ac44c"/><rect x="151" y="469" width="2" height="1" fill="#ccd62c"/><rect x="153" y="469" width="3" height="1" fill="#7ac44c"/><rect x="156" y="469" width="2" height="1" fill="#58b874"/><rect x="158" y="469" width="1" height="1" fill="#4096ba"/><rect x="159" y="469" width="1" height="1" fill="#3464c0"/><rect x="160" y="469" width="3" height="1" fill="#303ea4"/><rect x="113" y="470" width="2" height="1" fill="#303ea4"/><rect x="115" y="470" width="1" height="1" fill="#3464c0"/><rect x="116" y="470" width="2" height="1" fill="#4096ba"/><rect x="118" y="470" width="5" height="1" fill="#58b874"/><rect x="123" y="470" width="2" height="1" fill="#4096ba"/><rect x="125" y="470" width="1" height="1" fill="#3464c0"/><rect x="126" y="470" width="2" height="1" fill="#303ea4"/><rect x="142" y="470" width="2" height="1" fill="#303ea4"/><rect x="144" y="470" width="1" height="1" fill="#3464c0"/><rect x="145" y="470" width="1" height="1" fill="#4096ba"/><rect x="146" y="470" width="2" height="1" fill="#58b874"/><rect x="148" y="470" width="2" height="1" fill="#7ac44c"/><rect x="150" y="470" width="4" height="1" fill="#ccd62c"/><rect x="154" y="470" width="2" height="1" fill="#7ac44c"/><rect x="156" y="470" width="2" height="1" fill="#58b874"/><rect x="158" y="470" width="1" height="1" fill="#4096ba"/><rect x="159" y="470" width="1" height="1" fill="#3464c0"/><rect x="160" y="470" width="3" height="1" fill="#303ea4"/><rect x="113" y="471" width="1" height="1" fill="#303ea4"/><rect x="114" y="471" width="1" height="1" fill="#3464c0"/><rect x="115" y="471" width="1" height="1" fill="#4096ba"/><rect x="116" y="471" width="4" height="1" fill="#58b874"/><rect x="120" y="471" width="1" height="1" fill="#7ac44c"/><rect x="121" y="471" width="3" height="1" fill="#58b874"/><rect x="124" y="471" width="2" height="1" fill="#4096ba"/><rect x="126" y="471" width="1" height="1" fill="#3464c0"/><rect x="127" y="471" width="2" height="1" fill="#303ea4"/><rect x="142" y="471" width="2" height="1" fill="#303ea4"/><rect x="144" y="471" width="1" height="1" fill="#3464c0"/><rect x="145" y="471" width="1" height="1" fill="#4096ba"/><rect x="146" y="471" width="2" height="1" fill="#58b874"/><rect x="148" y="471" width="2" height="1" fill="#7ac44c"/><rect x="150" y="471" width="4" height="1" fill="#ccd62c"/><rect x="154" y="471" width="2" height="1" fill="#7ac44c"/><rect x="156" y="471" width="2" height="1" fill="#58b874"/><rect x="158" y="471" width="1" height="1" fill="#4096ba"/><rect x="159" y="471" width="1" height="1" fill="#3464c0"/><rect x="160" y="471" width="2" height="1" fill="#303ea4"/><rect x="113" y="472" width="1" height="1" fill="#3464c0"/><rect x="114" y="472" width="1" height="1" fill="#4096ba"/><rect x="115" y="472" width="3" height="1" fill="#58b874"/><rect x="118" y="472" width="5" height="1" fill="#7ac44c"/><rect x="123" y="472" width="2" height="1" fill="#58b874"/><rect x="125" y="472" width="1" height="1" fill="#4096ba"/><rect x="126" y="472" width="1" height="1" fill="#3464c0"/><rect x="127" y="472" width="2" height="1" fill="#303ea4"/><rect x="142" y="472" width="2" height="1" fill="#303ea4"/><rect x="144" y="472" width="1" height="1" fill="#3464c0"/><rect x="145" y="472" width="1" height="1" fill="#4096ba"/><rect x="146" y="472" width="2" height="1" fill="#58b874"/><rect x="148" y="472" width="2" height="1" fill="#7ac44c"/><rect x="150" y="472" width="3" height="1" fill="#ccd62c"/><rect x="153" y="472" width="3" height="1" fill="#7ac44c"/><rect x="156" y="472" width="2" height="1" fill="#58b874"/><rect x="158" y="472" width="1" height="1" fill="#4096ba"/><rect x="159" y="472" width="1" height="1" fill="#3464c0"/><rect x="160" y="472" width="2" height="1" fill="#303ea4"/><rect x="113" y="473" width="1" height="1" fill="#3464c0"/><rect x="114" y="473" width="1" height="1" fill="#4096ba"/><rect x="115" y="473" width="2" height="1" fill="#58b874"/><rect x="117" y="473" width="7" height="1" fill="#7ac44c"/><rect x="124" y="473" width="2" height="1" fill="#58b874"/><rect x="126" y="473" width="1" height="1" fill="#4096ba"/><rect x="127" y="473" width="1" height="1" fill="#3464c0"/><rect x="128" y="473" width="1" height="1" fill="#303ea4"/><rect x="142" y="473" width="2" height="1" fill="#303ea4"/><rect x="144" y="473" width="1" height="1" fill="#3464c0"/><rect x="145" y="473" width="1" height="1" fill="#4096ba"/><rect x="146" y="473" width="2" height="1" fill="#58b874"/><rect x="148" y="473" width="3" height="1" fill="#7ac44c"/><rect x="151" y="473" width="2" height="1" fill="#ccd62c"/><rect x="153" y="473" width="3" height="1" fill="#7ac44c"/><rect x="156" y="473" width="1" height="1" fill="#58b874"/><rect x="157" y="473" width="1" height="1" fill="#4096ba"/><rect x="158" y="473" width="2" height="1" fill="#3464c0"/><rect x="160" y="473" width="2" height="1" fill="#303ea4"/><rect x="113" y="474" width="1" height="1" fill="#3464c0"/><rect x="114" y="474" width="1" height="1" fill="#4096ba"/><rect x="115" y="474" width="2" height="1" fill="#58b874"/><rect x="117" y="474" width="7" height="1" fill="#7ac44c"/><rect x="124" y="474" width="2" height="1" fill="#58b874"/><rect x="126" y="474" width="1" height="1" fill="#4096ba"/><rect x="127" y="474" width="1" height="1" fill="#3464c0"/><rect x="128" y="474" width="1" height="1" fill="#303ea4"/><rect x="143" y="474" width="1" height="1" fill="#303ea4"/><rect x="144" y="474" width="2" height="1" fill="#3464c0"/><rect x="146" y="474" width="1" height="1" fill="#4096ba"/><rect x="147" y="474" width="1" height="1" fill="#58b874"/><rect x="148" y="474" width="7" height="1" fill="#7ac44c"/><rect x="155" y="474" width="2" height="1" fill="#58b874"/><rect x="157" y="474" width="1" height="1" fill="#4096ba"/><rect x="158" y="474" width="1" height="1" fill="#3464c0"/><rect x="159" y="474" width="3" height="1" fill="#303ea4"/><rect x="113" y="475" width="1" height="1" fill="#3464c0"/><rect x="114" y="475" width="1" height="1" fill="#4096ba"/><rect x="115" y="475" width="2" height="1" fill="#58b874"/><rect x="117" y="475" width="7" height="1" fill="#7ac44c"/><rect x="124" y="475" width="2" height="1" fill="#58b874"/><rect x="126" y="475" width="1" height="1" fill="#4096ba"/><rect x="127" y="475" width="1" height="1" fill="#3464c0"/><rect x="128" y="475" width="1" height="1" fill="#303ea4"/><rect x="143" y="475" width="2" height="1" fill="#303ea4"/><rect x="145" y="475" width="1" height="1" fill="#3464c0"/><rect x="146" y="475" width="1" height="1" fill="#4096ba"/><rect x="147" y="475" width="2" height="1" fill="#58b874"/><rect x="149" y="475" width="6" height="1" fill="#7ac44c"/><rect x="155" y="475" width="2" height="1" fill="#58b874"/><rect x="157" y="475" width="1" height="1" fill="#4096ba"/><rect x="158" y="475" width="1" height="1" fill="#3464c0"/><rect x="159" y="475" width="2" height="1" fill="#303ea4"/><rect x="113" y="476" width="1" height="1" fill="#3464c0"/><rect x="114" y="476" width="1" height="1" fill="#4096ba"/><rect x="115" y="476" width="2" height="1" fill="#58b874"/><rect x="117" y="476" width="7" height="1" fill="#7ac44c"/><rect x="124" y="476" width="1" height="1" fill="#58b874"/><rect x="125" y="476" width="1" height="1" fill="#4096ba"/><rect x="126" y="476" width="2" height="1" fill="#3464c0"/><rect x="128" y="476" width="1" height="1" fill="#303ea4"/><rect x="143" y="476" width="2" height="1" fill="#303ea4"/><rect x="145" y="476" width="1" height="1" fill="#3464c0"/><rect x="146" y="476" width="1" height="1" fill="#4096ba"/><rect x="147" y="476" width="2" height="1" fill="#58b874"/><rect x="149" y="476" width="5" height="1" fill="#7ac44c"/><rect x="154" y="476" width="2" height="1" fill="#58b874"/><rect x="156" y="476" width="1" height="1" fill="#4096ba"/><rect x="157" y="476" width="2" height="1" fill="#3464c0"/><rect x="159" y="476" width="2" height="1" fill="#303ea4"/><rect x="113" y="477" width="2" height="1" fill="#3464c0"/><rect x="115" y="477" width="1" height="1" fill="#4096ba"/><rect x="116" y="477" width="2" height="1" fill="#58b874"/><rect x="118" y="477" width="5" height="1" fill="#7ac44c"/><rect x="123" y="477" width="2" height="1" fill="#58b874"/><rect x="125" y="477" width="1" height="1" fill="#4096ba"/><rect x="126" y="477" width="1" height="1" fill="#3464c0"/><rect x="127" y="477" width="2" height="1" fill="#303ea4"/><rect x="143" y="477" width="2" height="1" fill="#303ea4"/><rect x="145" y="477" width="2" height="1" fill="#3464c0"/><rect x="147" y="477" width="1" height="1" fill="#4096ba"/><rect x="148" y="477" width="3" height="1" fill="#58b874"/><rect x="151" y="477" width="1" height="1" fill="#7ac44c"/><rect x="152" y="477" width="3" height="1" fill="#58b874"/><rect x="155" y="477" width="2" height="1" fill="#4096ba"/><rect x="157" y="477" width="1" height="1" fill="#3464c0"/><rect x="158" y="477" width="3" height="1" fill="#303ea4"/><rect x="113" y="478" width="1" height="1" fill="#303ea4"/><rect x="114" y="478" width="1" height="1" fill="#3464c0"/><rect x="115" y="478" width="2" height="1" fill="#4096ba"/><rect x="117" y="478" width="7" height="1" fill="#58b874"/><rect x="124" y="478" width="1" height="1" fill="#4096ba"/><rect x="125" y="478" width="1" height="1" fill="#3464c0"/><rect x="126" y="478" width="2" height="1" fill="#303ea4"/><rect x="143" y="478" width="3" height="1" fill="#303ea4"/><rect x="146" y="478" width="1" height="1" fill="#3464c0"/><rect x="147" y="478" width="2" height="1" fill="#4096ba"/><rect x="149" y="478" width="6" height="1" fill="#58b874"/><rect x="155" y="478" width="1" height="1" fill="#4096ba"/><rect x="156" y="478" width="2" height="1" fill="#3464c0"/><rect x="158" y="478" width="2" height="1" fill="#303ea4"/><rect x="113" y="479" width="2" height="1" fill="#303ea4"/><rect x="115" y="479" width="2" height="1" fill="#3464c0"/><rect x="117" y="479" width="2" height="1" fill="#4096ba"/><rect x="119" y="479" width="3" height="1" fill="#58b874"/><rect x="122" y="479" width="2" height="1" fill="#4096ba"/><rect x="124" y="479" width="2" height="1" fill="#3464c0"/><rect x="126" y="479" width="2" height="1" fill="#303ea4"/><rect x="144" y="479" width="2" height="1" fill="#303ea4"/><rect x="146" y="479" width="2" height="1" fill="#3464c0"/><rect x="148" y="479" width="2" height="1" fill="#4096ba"/><rect x="150" y="479" width="3" height="1" fill="#58b874"/><rect x="153" y="479" width="2" height="1" fill="#4096ba"/><rect x="155" y="479" width="2" height="1" fill="#3464c0"/><rect x="157" y="479" width="3" height="1" fill="#303ea4"/></g>
<g fill="#505abe"><rect x="154.1" y="438.0" width=".8" height=".8" fill-opacity="0.56"/><rect x="157.1" y="438.1" width=".8" height=".8" fill-opacity="0.86"/><rect x="153.1" y="439.2" width=".8" height=".8" fill-opacity="0.74"/><rect x="154.1" y="439.2" width=".8" height=".8" fill-opacity="0.48"/><rect x="150.3" y="440.1" width=".8" height=".8" fill-opacity="0.90"/><rect x="158.3" y="440.1" width=".8" height=".8" fill-opacity="0.69"/><rect x="152.2" y="441.2" width=".8" height=".8" fill-opacity="0.69"/><rect x="153.3" y="441.0" width=".8" height=".8" fill-opacity="0.54"/><rect x="156.1" y="441.3" width=".8" height=".8" fill-opacity="0.86"/><rect x="158.2" y="441.3" width=".8" height=".8" fill-opacity="0.65"/><rect x="160.1" y="441.2" width=".8" height=".8" fill-opacity="0.69"/><rect x="150.2" y="442.3" width=".8" height=".8" fill-opacity="0.86"/><rect x="153.3" y="442.1" width=".8" height=".8" fill-opacity="0.47"/><rect x="155.1" y="442.2" width=".8" height=".8" fill-opacity="0.83"/><rect x="157.2" y="442.2" width=".8" height=".8" fill-opacity="0.77"/><rect x="129.2" y="443.3" width=".8" height=".8" fill-opacity="0.69"/><rect x="150.3" y="443.2" width=".8" height=".8" fill-opacity="0.73"/><rect x="152.1" y="443.2" width=".8" height=".8" fill-opacity="0.49"/><rect x="154.3" y="443.3" width=".8" height=".8" fill-opacity="0.49"/><rect x="155.1" y="443.1" width=".8" height=".8" fill-opacity="0.58"/><rect x="156.1" y="443.3" width=".8" height=".8" fill-opacity="0.50"/><rect x="157.3" y="443.1" width=".8" height=".8" fill-opacity="0.58"/><rect x="158.1" y="443.3" width=".8" height=".8" fill-opacity="0.56"/><rect x="161.1" y="443.1" width=".8" height=".8" fill-opacity="0.65"/><rect x="150.3" y="444.1" width=".8" height=".8" fill-opacity="0.57"/><rect x="152.3" y="444.2" width=".8" height=".8" fill-opacity="0.93"/><rect x="153.1" y="444.1" width=".8" height=".8" fill-opacity="0.80"/><rect x="154.2" y="444.2" width=".8" height=".8" fill-opacity="0.50"/><rect x="155.0" y="444.3" width=".8" height=".8" fill-opacity="0.67"/><rect x="158.3" y="444.1" width=".8" height=".8" fill-opacity="0.60"/><rect x="147.2" y="445.2" width=".8" height=".8" fill-opacity="0.72"/><rect x="151.1" y="445.2" width=".8" height=".8" fill-opacity="0.66"/><rect x="152.1" y="445.1" width=".8" height=".8" fill-opacity="0.92"/><rect x="159.1" y="445.2" width=".8" height=".8" fill-opacity="0.82"/><rect x="160.1" y="445.1" width=".8" height=".8" fill-opacity="0.66"/><rect x="131.3" y="446.2" width=".8" height=".8" fill-opacity="0.47"/><rect x="143.0" y="446.1" width=".8" height=".8" fill-opacity="0.50"/><rect x="146.0" y="446.1" width=".8" height=".8" fill-opacity="0.64"/><rect x="148.2" y="446.1" width=".8" height=".8" fill-opacity="0.58"/><rect x="158.1" y="446.3" width=".8" height=".8" fill-opacity="0.63"/><rect x="159.2" y="446.0" width=".8" height=".8" fill-opacity="0.89"/><rect x="160.1" y="446.2" width=".8" height=".8" fill-opacity="0.63"/><rect x="163.0" y="446.3" width=".8" height=".8" fill-opacity="0.47"/><rect x="167.3" y="446.0" width=".8" height=".8" fill-opacity="0.55"/><rect x="135.1" y="447.0" width=".8" height=".8" fill-opacity="0.70"/><rect x="141.1" y="447.1" width=".8" height=".8" fill-opacity="0.66"/><rect x="147.2" y="447.2" width=".8" height=".8" fill-opacity="0.58"/><rect x="159.1" y="447.2" width=".8" height=".8" fill-opacity="0.86"/><rect x="161.3" y="447.2" width=".8" height=".8" fill-opacity="0.57"/><rect x="166.0" y="447.1" width=".8" height=".8" fill-opacity="0.61"/><rect x="130.3" y="448.2" width=".8" height=".8" fill-opacity="0.47"/><rect x="134.3" y="448.1" width=".8" height=".8" fill-opacity="0.73"/><rect x="145.3" y="448.1" width=".8" height=".8" fill-opacity="0.65"/><rect x="149.1" y="448.2" width=".8" height=".8" fill-opacity="0.72"/><rect x="160.1" y="448.3" width=".8" height=".8" fill-opacity="0.55"/><rect x="161.3" y="448.3" width=".8" height=".8" fill-opacity="0.68"/><rect x="162.3" y="448.0" width=".8" height=".8" fill-opacity="0.78"/><rect x="164.3" y="448.2" width=".8" height=".8" fill-opacity="0.56"/><rect x="148.2" y="449.1" width=".8" height=".8" fill-opacity="0.87"/><rect x="163.0" y="449.2" width=".8" height=".8" fill-opacity="0.59"/><rect x="165.3" y="449.1" width=".8" height=".8" fill-opacity="0.60"/><rect x="129.2" y="450.1" width=".8" height=".8" fill-opacity="0.95"/><rect x="131.1" y="450.2" width=".8" height=".8" fill-opacity="0.80"/><rect x="132.1" y="450.3" width=".8" height=".8" fill-opacity="0.61"/><rect x="135.2" y="450.0" width=".8" height=".8" fill-opacity="0.72"/><rect x="140.2" y="450.2" width=".8" height=".8" fill-opacity="0.56"/><rect x="161.1" y="450.0" width=".8" height=".8" fill-opacity="0.66"/><rect x="133.3" y="451.3" width=".8" height=".8" fill-opacity="0.60"/><rect x="146.1" y="451.3" width=".8" height=".8" fill-opacity="0.69"/><rect x="162.2" y="451.0" width=".8" height=".8" fill-opacity="0.64"/><rect x="164.2" y="451.0" width=".8" height=".8" fill-opacity="0.58"/><rect x="139.1" y="452.1" width=".8" height=".8" fill-opacity="0.88"/><rect x="143.1" y="452.1" width=".8" height=".8" fill-opacity="0.59"/><rect x="145.1" y="452.2" width=".8" height=".8" fill-opacity="0.49"/><rect x="146.2" y="452.1" width=".8" height=".8" fill-opacity="0.80"/><rect x="162.2" y="452.0" width=".8" height=".8" fill-opacity="0.58"/><rect x="163.2" y="452.2" width=".8" height=".8" fill-opacity="0.63"/><rect x="167.0" y="452.1" width=".8" height=".8" fill-opacity="0.94"/><rect x="134.2" y="453.1" width=".8" height=".8" fill-opacity="0.49"/><rect x="142.1" y="453.0" width=".8" height=".8" fill-opacity="0.60"/><rect x="146.2" y="453.0" width=".8" height=".8" fill-opacity="0.53"/><rect x="162.3" y="453.2" width=".8" height=".8" fill-opacity="0.78"/><rect x="163.2" y="453.2" width=".8" height=".8" fill-opacity="0.82"/><rect x="125.1" y="454.2" width=".8" height=".8" fill-opacity="0.46"/><rect x="129.2" y="454.2" width=".8" height=".8" fill-opacity="0.68"/><rect x="143.2" y="454.1" width=".8" height=".8" fill-opacity="0.51"/><rect x="145.3" y="454.1" width=".8" height=".8" fill-opacity="0.62"/><rect x="162.1" y="454.2" width=".8" height=".8" fill-opacity="0.60"/><rect x="165.1" y="454.2" width=".8" height=".8" fill-opacity="0.57"/><rect x="133.1" y="455.0" width=".8" height=".8" fill-opacity="0.66"/><rect x="139.1" y="455.0" width=".8" height=".8" fill-opacity="0.58"/><rect x="144.1" y="455.2" width=".8" height=".8" fill-opacity="0.46"/><rect x="145.2" y="455.2" width=".8" height=".8" fill-opacity="0.55"/><rect x="163.0" y="455.0" width=".8" height=".8" fill-opacity="0.51"/><rect x="165.1" y="455.2" width=".8" height=".8" fill-opacity="0.93"/><rect x="129.1" y="456.2" width=".8" height=".8" fill-opacity="0.49"/><rect x="131.3" y="456.0" width=".8" height=".8" fill-opacity="0.84"/><rect x="135.3" y="456.2" width=".8" height=".8" fill-opacity="0.80"/><rect x="137.0" y="456.2" width=".8" height=".8" fill-opacity="0.87"/><rect x="145.3" y="456.0" width=".8" height=".8" fill-opacity="0.46"/><rect x="164.0" y="456.2" width=".8" height=".8" fill-opacity="0.52"/><rect x="166.1" y="456.2" width=".8" height=".8" fill-opacity="0.49"/><rect x="168.1" y="456.1" width=".8" height=".8" fill-opacity="0.69"/><rect x="132.2" y="457.2" width=".8" height=".8" fill-opacity="0.81"/><rect x="133.2" y="457.1" width=".8" height=".8" fill-opacity="0.56"/><rect x="135.1" y="457.0" width=".8" height=".8" fill-opacity="0.62"/><rect x="144.2" y="457.1" width=".8" height=".8" fill-opacity="0.81"/><rect x="163.2" y="457.3" width=".8" height=".8" fill-opacity="0.77"/><rect x="165.3" y="457.0" width=".8" height=".8" fill-opacity="0.86"/><rect x="129.2" y="458.1" width=".8" height=".8" fill-opacity="0.64"/><rect x="143.0" y="458.3" width=".8" height=".8" fill-opacity="0.94"/><rect x="144.2" y="458.1" width=".8" height=".8" fill-opacity="0.81"/><rect x="163.2" y="458.0" width=".8" height=".8" fill-opacity="0.63"/><rect x="167.1" y="458.1" width=".8" height=".8" fill-opacity="0.55"/><rect x="124.0" y="459.1" width=".8" height=".8" fill-opacity="0.67"/><rect x="131.3" y="459.2" width=".8" height=".8" fill-opacity="0.56"/><rect x="133.0" y="459.2" width=".8" height=".8" fill-opacity="0.58"/><rect x="136.2" y="459.2" width=".8" height=".8" fill-opacity="0.73"/><rect x="143.1" y="459.1" width=".8" height=".8" fill-opacity="0.63"/><rect x="144.3" y="459.2" width=".8" height=".8" fill-opacity="0.74"/><rect x="163.2" y="459.0" width=".8" height=".8" fill-opacity="0.82"/><rect x="164.1" y="459.3" width=".8" height=".8" fill-opacity="0.53"/><rect x="126.1" y="460.2" width=".8" height=".8" fill-opacity="0.61"/><rect x="132.1" y="460.2" width=".8" height=".8" fill-opacity="0.83"/><rect x="135.0" y="460.2" width=".8" height=".8" fill-opacity="0.51"/><rect x="136.2" y="460.3" width=".8" height=".8" fill-opacity="0.87"/><rect x="163.0" y="460.3" width=".8" height=".8" fill-opacity="0.62"/><rect x="164.2" y="460.1" width=".8" height=".8" fill-opacity="0.51"/><rect x="168.2" y="460.1" width=".8" height=".8" fill-opacity="0.55"/><rect x="129.2" y="461.1" width=".8" height=".8" fill-opacity="0.69"/><rect x="131.2" y="461.1" width=".8" height=".8" fill-opacity="0.87"/><rect x="132.2" y="461.2" width=".8" height=".8" fill-opacity="0.77"/><rect x="140.2" y="461.2" width=".8" height=".8" fill-opacity="0.80"/><rect x="141.1" y="461.1" width=".8" height=".8" fill-opacity="0.48"/><rect x="142.2" y="461.2" width=".8" height=".8" fill-opacity="0.81"/><rect x="143.0" y="461.1" width=".8" height=".8" fill-opacity="0.82"/><rect x="163.0" y="461.1" width=".8" height=".8" fill-opacity="0.51"/><rect x="165.3" y="461.1" width=".8" height=".8" fill-opacity="0.64"/><rect x="166.3" y="461.3" width=".8" height=".8" fill-opacity="0.45"/><rect x="133.2" y="462.0" width=".8" height=".8" fill-opacity="0.76"/><rect x="136.2" y="462.0" width=".8" height=".8" fill-opacity="0.54"/><rect x="141.0" y="462.1" width=".8" height=".8" fill-opacity="0.71"/><rect x="163.3" y="462.2" width=".8" height=".8" fill-opacity="0.92"/><rect x="127.1" y="463.1" width=".8" height=".8" fill-opacity="0.65"/><rect x="130.1" y="463.1" width=".8" height=".8" fill-opacity="0.67"/><rect x="131.1" y="463.0" width=".8" height=".8" fill-opacity="0.52"/><rect x="132.1" y="463.1" width=".8" height=".8" fill-opacity="0.68"/><rect x="133.1" y="463.0" width=".8" height=".8" fill-opacity="0.67"/><rect x="134.2" y="463.2" width=".8" height=".8" fill-opacity="0.63"/><rect x="141.2" y="463.1" width=".8" height=".8" fill-opacity="0.77"/><rect x="163.0" y="463.0" width=".8" height=".8" fill-opacity="0.84"/><rect x="165.3" y="463.2" width=".8" height=".8" fill-opacity="0.65"/><rect x="129.1" y="464.2" width=".8" height=".8" fill-opacity="0.50"/><rect x="131.0" y="464.3" width=".8" height=".8" fill-opacity="0.54"/><rect x="132.2" y="464.2" width=".8" height=".8" fill-opacity="0.45"/><rect x="134.2" y="464.1" width=".8" height=".8" fill-opacity="0.94"/><rect x="136.0" y="464.2" width=".8" height=".8" fill-opacity="0.89"/><rect x="138.0" y="464.3" width=".8" height=".8" fill-opacity="0.85"/><rect x="163.2" y="464.0" width=".8" height=".8" fill-opacity="0.47"/><rect x="164.0" y="464.2" width=".8" height=".8" fill-opacity="0.62"/><rect x="165.2" y="464.1" width=".8" height=".8" fill-opacity="0.74"/><rect x="167.0" y="464.2" width=".8" height=".8" fill-opacity="0.82"/><rect x="120.0" y="465.1" width=".8" height=".8" fill-opacity="0.60"/><rect x="121.0" y="465.0" width=".8" height=".8" fill-opacity="0.66"/><rect x="124.3" y="465.3" width=".8" height=".8" fill-opacity="0.79"/><rect x="128.0" y="465.2" width=".8" height=".8" fill-opacity="0.70"/><rect x="133.2" y="465.0" width=".8" height=".8" fill-opacity="0.85"/><rect x="136.0" y="465.0" width=".8" height=".8" fill-opacity="0.91"/><rect x="142.3" y="465.1" width=".8" height=".8" fill-opacity="0.74"/><rect x="163.1" y="465.2" width=".8" height=".8" fill-opacity="0.86"/><rect x="167.2" y="465.1" width=".8" height=".8" fill-opacity="0.53"/><rect x="116.2" y="466.2" width=".8" height=".8" fill-opacity="0.54"/><rect x="117.0" y="466.1" width=".8" height=".8" fill-opacity="0.59"/><rect x="122.2" y="466.2" width=".8" height=".8" fill-opacity="0.85"/><rect x="126.0" y="466.2" width=".8" height=".8" fill-opacity="0.70"/><rect x="130.2" y="466.0" width=".8" height=".8" fill-opacity="0.80"/><rect x="132.1" y="466.1" width=".8" height=".8" fill-opacity="0.61"/><rect x="133.3" y="466.1" width=".8" height=".8" fill-opacity="0.65"/><rect x="134.1" y="466.2" width=".8" height=".8" fill-opacity="0.72"/><rect x="136.0" y="466.1" width=".8" height=".8" fill-opacity="0.64"/><rect x="141.0" y="466.2" width=".8" height=".8" fill-opacity="0.45"/><rect x="163.1" y="466.2" width=".8" height=".8" fill-opacity="0.84"/><rect x="167.2" y="466.0" width=".8" height=".8" fill-opacity="0.47"/><rect x="168.3" y="466.0" width=".8" height=".8" fill-opacity="0.94"/><rect x="115.1" y="467.1" width=".8" height=".8" fill-opacity="0.74"/><rect x="116.1" y="467.2" width=".8" height=".8" fill-opacity="0.86"/><rect x="124.0" y="467.1" width=".8" height=".8" fill-opacity="0.95"/><rect x="125.2" y="467.1" width=".8" height=".8" fill-opacity="0.49"/><rect x="126.3" y="467.2" width=".8" height=".8" fill-opacity="0.64"/><rect x="130.3" y="467.1" width=".8" height=".8" fill-opacity="0.49"/><rect x="136.2" y="467.2" width=".8" height=".8" fill-opacity="0.91"/><rect x="137.2" y="467.2" width=".8" height=".8" fill-opacity="0.95"/><rect x="139.2" y="467.3" width=".8" height=".8" fill-opacity="0.67"/><rect x="141.1" y="467.3" width=".8" height=".8" fill-opacity="0.62"/><rect x="142.2" y="467.0" width=".8" height=".8" fill-opacity="0.66"/><rect x="164.2" y="467.0" width=".8" height=".8" fill-opacity="0.79"/><rect x="114.1" y="468.1" width=".8" height=".8" fill-opacity="0.94"/><rect x="126.2" y="468.1" width=".8" height=".8" fill-opacity="0.89"/><rect x="128.2" y="468.1" width=".8" height=".8" fill-opacity="0.60"/><rect x="134.0" y="468.2" width=".8" height=".8" fill-opacity="0.90"/><rect x="142.2" y="468.3" width=".8" height=".8" fill-opacity="0.54"/><rect x="164.1" y="468.2" width=".8" height=".8" fill-opacity="0.49"/><rect x="113.1" y="469.1" width=".8" height=".8" fill-opacity="0.92"/><rect x="127.1" y="469.3" width=".8" height=".8" fill-opacity="0.52"/><rect x="131.1" y="469.0" width=".8" height=".8" fill-opacity="0.73"/><rect x="134.1" y="469.0" width=".8" height=".8" fill-opacity="0.80"/><rect x="136.1" y="469.2" width=".8" height=".8" fill-opacity="0.56"/><rect x="141.1" y="469.2" width=".8" height=".8" fill-opacity="0.75"/><rect x="163.1" y="469.1" width=".8" height=".8" fill-opacity="0.61"/><rect x="165.2" y="469.1" width=".8" height=".8" fill-opacity="0.58"/><rect x="166.0" y="469.2" width=".8" height=".8" fill-opacity="0.66"/><rect x="128.3" y="470.1" width=".8" height=".8" fill-opacity="0.59"/><rect x="132.2" y="470.0" width=".8" height=".8" fill-opacity="0.85"/><rect x="134.1" y="470.2" width=".8" height=".8" fill-opacity="0.92"/><rect x="136.2" y="470.0" width=".8" height=".8" fill-opacity="0.88"/><rect x="140.2" y="470.2" width=".8" height=".8" fill-opacity="0.78"/><rect x="141.2" y="470.0" width=".8" height=".8" fill-opacity="0.86"/><rect x="163.1" y="470.0" width=".8" height=".8" fill-opacity="0.89"/><rect x="129.2" y="471.0" width=".8" height=".8" fill-opacity="0.56"/><rect x="136.1" y="471.3" width=".8" height=".8" fill-opacity="0.53"/><rect x="137.2" y="471.2" width=".8" height=".8" fill-opacity="0.79"/><rect x="140.1" y="471.2" width=".8" height=".8" fill-opacity="0.83"/><rect x="141.1" y="471.1" width=".8" height=".8" fill-opacity="0.83"/><rect x="162.1" y="471.2" width=".8" height=".8" fill-opacity="0.74"/><rect x="163.3" y="471.1" width=".8" height=".8" fill-opacity="0.83"/><rect x="164.0" y="471.2" width=".8" height=".8" fill-opacity="0.77"/><rect x="165.1" y="471.0" width=".8" height=".8" fill-opacity="0.70"/><rect x="129.1" y="472.0" width=".8" height=".8" fill-opacity="0.52"/><rect x="131.2" y="472.3" width=".8" height=".8" fill-opacity="0.47"/><rect x="134.2" y="472.1" width=".8" height=".8" fill-opacity="0.59"/><rect x="135.2" y="472.0" width=".8" height=".8" fill-opacity="0.90"/><rect x="136.3" y="472.2" width=".8" height=".8" fill-opacity="0.92"/><rect x="138.3" y="472.0" width=".8" height=".8" fill-opacity="0.85"/><rect x="141.3" y="472.0" width=".8" height=".8" fill-opacity="0.70"/><rect x="162.2" y="472.1" width=".8" height=".8" fill-opacity="0.93"/><rect x="166.2" y="472.2" width=".8" height=".8" fill-opacity="0.50"/><rect x="129.1" y="473.2" width=".8" height=".8" fill-opacity="0.52"/><rect x="130.0" y="473.1" width=".8" height=".8" fill-opacity="0.79"/><rect x="137.2" y="473.2" width=".8" height=".8" fill-opacity="0.81"/><rect x="129.2" y="474.1" width=".8" height=".8" fill-opacity="0.94"/><rect x="130.2" y="474.3" width=".8" height=".8" fill-opacity="0.67"/><rect x="132.2" y="474.2" width=".8" height=".8" fill-opacity="0.94"/><rect x="134.1" y="474.1" width=".8" height=".8" fill-opacity="0.57"/><rect x="135.1" y="474.0" width=".8" height=".8" fill-opacity="0.91"/><rect x="138.1" y="474.3" width=".8" height=".8" fill-opacity="0.68"/><rect x="139.0" y="474.2" width=".8" height=".8" fill-opacity="0.53"/><rect x="140.2" y="474.2" width=".8" height=".8" fill-opacity="0.60"/><rect x="142.0" y="474.0" width=".8" height=".8" fill-opacity="0.58"/><rect x="162.3" y="474.2" width=".8" height=".8" fill-opacity="0.47"/><rect x="163.1" y="474.2" width=".8" height=".8" fill-opacity="0.67"/><rect x="165.1" y="474.1" width=".8" height=".8" fill-opacity="0.83"/><rect x="129.0" y="475.2" width=".8" height=".8" fill-opacity="0.81"/><rect x="130.1" y="475.0" width=".8" height=".8" fill-opacity="0.83"/><rect x="131.1" y="475.1" width=".8" height=".8" fill-opacity="0.88"/><rect x="132.1" y="475.1" width=".8" height=".8" fill-opacity="0.86"/><rect x="133.2" y="475.1" width=".8" height=".8" fill-opacity="0.71"/><rect x="134.2" y="475.2" width=".8" height=".8" fill-opacity="0.79"/><rect x="140.1" y="475.2" width=".8" height=".8" fill-opacity="0.80"/><rect x="141.1" y="475.0" width=".8" height=".8" fill-opacity="0.52"/><rect x="142.1" y="475.1" width=".8" height=".8" fill-opacity="0.66"/><rect x="161.1" y="475.1" width=".8" height=".8" fill-opacity="0.76"/><rect x="162.2" y="475.2" width=".8" height=".8" fill-opacity="0.76"/><rect x="163.2" y="475.0" width=".8" height=".8" fill-opacity="0.90"/><rect x="129.2" y="476.1" width=".8" height=".8" fill-opacity="0.81"/><rect x="131.0" y="476.1" width=".8" height=".8" fill-opacity="0.70"/><rect x="133.3" y="476.1" width=".8" height=".8" fill-opacity="0.69"/><rect x="136.1" y="476.1" width=".8" height=".8" fill-opacity="0.83"/><rect x="142.1" y="476.2" width=".8" height=".8" fill-opacity="0.58"/><rect x="161.0" y="476.1" width=".8" height=".8" fill-opacity="0.59"/><rect x="129.1" y="477.1" width=".8" height=".8" fill-opacity="0.75"/><rect x="131.1" y="477.2" width=".8" height=".8" fill-opacity="0.95"/><rect x="132.3" y="477.2" width=".8" height=".8" fill-opacity="0.80"/><rect x="133.3" y="477.1" width=".8" height=".8" fill-opacity="0.77"/><rect x="135.3" y="477.3" width=".8" height=".8" fill-opacity="0.64"/><rect x="141.1" y="477.1" width=".8" height=".8" fill-opacity="0.56"/><rect x="142.3" y="477.1" width=".8" height=".8" fill-opacity="0.78"/><rect x="161.3" y="477.1" width=".8" height=".8" fill-opacity="0.86"/><rect x="128.2" y="478.1" width=".8" height=".8" fill-opacity="0.54"/><rect x="129.1" y="478.2" width=".8" height=".8" fill-opacity="0.56"/><rect x="130.1" y="478.3" width=".8" height=".8" fill-opacity="0.72"/><rect x="131.1" y="478.1" width=".8" height=".8" fill-opacity="0.58"/><rect x="135.3" y="478.0" width=".8" height=".8" fill-opacity="0.73"/><rect x="137.0" y="478.1" width=".8" height=".8" fill-opacity="0.77"/><rect x="142.2" y="478.0" width=".8" height=".8" fill-opacity="0.53"/><rect x="160.1" y="478.1" width=".8" height=".8" fill-opacity="0.90"/><rect x="161.3" y="478.0" width=".8" height=".8" fill-opacity="0.87"/><rect x="129.1" y="479.0" width=".8" height=".8" fill-opacity="0.81"/><rect x="130.3" y="479.3" width=".8" height=".8" fill-opacity="0.83"/><rect x="133.2" y="479.1" width=".8" height=".8" fill-opacity="0.64"/><rect x="143.0" y="479.2" width=".8" height=".8" fill-opacity="0.81"/><rect x="160.2" y="479.2" width=".8" height=".8" fill-opacity="0.56"/><rect x="161.2" y="479.3" width=".8" height=".8" fill-opacity="0.45"/></g>
</g>
<rect x="113.7" y="414.6" width="63.8" height="64.69999999999999" fill="none" stroke="#999" stroke-width="0.7"/>
<line x1="139.3" y1="414.6" x2="139.3" y2="479.3" stroke="#777" stroke-width="0.8"/>
<line x1="113.7" y1="461.3" x2="177.5" y2="461.3" stroke="#777" stroke-width="0.8"/>
<text x="111.9" y="416.8" font-size="4.6" text-anchor="end" fill="#222" style="stroke-width:0.15px">10<tspan dy="-1.6" font-size="3.22">4</tspan></text>
<text x="111.9" y="432.175" font-size="4.6" text-anchor="end" fill="#222" style="stroke-width:0.15px">10<tspan dy="-1.6" font-size="3.22">3</tspan></text>
<text x="111.9" y="448.35" font-size="4.6" text-anchor="end" fill="#222" style="stroke-width:0.15px">10<tspan dy="-1.6" font-size="3.22">2</tspan></text>
<text x="111.9" y="463.3" font-size="4.6" text-anchor="end" fill="#222" style="stroke-width:0.15px">10<tspan dy="-1.6" font-size="3.22">1</tspan></text>
<text x="111.9" y="481.2" font-size="4.6" text-anchor="end" fill="#222" style="stroke-width:0.15px">10<tspan dy="-1.6" font-size="3.22">0</tspan></text>
<text x="128.712" y="486.3" font-size="4.6" text-anchor="middle" fill="#222" style="stroke-width:0.15px">10<tspan dy="-1.6" font-size="3.22">1</tspan></text>
<text x="144.024" y="486.3" font-size="4.6" text-anchor="middle" fill="#222" style="stroke-width:0.15px">10<tspan dy="-1.6" font-size="3.22">2</tspan></text>
<text x="159.33599999999998" y="486.3" font-size="4.6" text-anchor="middle" fill="#222" style="stroke-width:0.15px">10<tspan dy="-1.6" font-size="3.22">3</tspan></text>
<text x="174.648" y="486.3" font-size="4.6" text-anchor="middle" fill="#222" style="stroke-width:0.15px">10<tspan dy="-1.6" font-size="3.22">4</tspan></text>
<line x1="165.8" y1="414.6" x2="165.8" y2="434.1" stroke="#111" stroke-width="0.9"/>
<line x1="154.0" y1="424.40000000000003" x2="177.5" y2="424.40000000000003" stroke="#111" stroke-width="0.9"/>
<line x1="154.0" y1="431.1" x2="154.0" y2="420.1" stroke="#111" stroke-width="0.9"/>
<path d="M152.7,421.1 L154.0,418.40000000000003 L155.3,421.1 Z" fill="#111"/>
<line x1="157.8" y1="434.40000000000003" x2="172.0" y2="434.40000000000003" stroke="#111" stroke-width="1.0"/>
<path d="M171.2,433.0 L173.8,434.40000000000003 L171.2,435.8 Z" fill="#111"/>
<text x="163.2" y="421.8" font-size="4.8" text-anchor="end" fill="#111" style="stroke-width:0.18px">0.6</text>
<text x="166.8" y="421.8" font-size="4.8" text-anchor="start" fill="#111" style="stroke-width:0.18px">21.6</text>
<text x="163.6" y="430.20000000000005" font-size="4.8" text-anchor="end" fill="#111" style="stroke-width:0.18px">32.5</text>
<text x="166.8" y="430.20000000000005" font-size="4.8" text-anchor="start" fill="#111" style="stroke-width:0.18px">45.0</text>
<text x="205.0" y="408.8" font-size="9.9" text-anchor="start" fill="#111" textLength="50.3" lengthAdjust="spacingAndGlyphs">vehicle (SP)</text>
<text x="189.0" y="446.9" font-size="8.8" text-anchor="middle" fill="#111" textLength="18.3" lengthAdjust="spacingAndGlyphs" transform="rotate(-90 189.0 446.9)">c-Kit</text>
<line x1="186.3" y1="479.5" x2="186.3" y2="465.5" stroke="#111" stroke-width="0.9"/>
<path d="M184.70000000000002,466.5 L186.3,462.8 L187.9,466.5 Z" fill="#111"/>
<text x="225.0" y="494.0" font-size="7.0" text-anchor="start" fill="#111" textLength="41.3" lengthAdjust="spacingAndGlyphs">Gfp(MLL-AF9)</text>
<line x1="206.3" y1="492.4" x2="220.5" y2="492.4" stroke="#111" stroke-width="0.9"/>
<path d="M219.5,490.8 L222.5,492.4 L219.5,494 Z" fill="#111"/>
<clipPath id="cj3"><rect x="203.0" y="413.8" width="63.30000000000001" height="63.80000000000001"/></clipPath>
<g clip-path="url(#cj3)">
<rect x="203.0" y="413.8" width="63.30000000000001" height="63.80000000000001" fill="#fff"/>
<g filter="url(#bl2)"><rect x="242" y="445" width="2" height="1" fill="#303ea4"/><rect x="240" y="446" width="6" height="1" fill="#303ea4"/><rect x="238" y="447" width="9" height="1" fill="#303ea4"/><rect x="237" y="448" width="4" height="1" fill="#303ea4"/><rect x="241" y="448" width="4" height="1" fill="#3464c0"/><rect x="245" y="448" width="3" height="1" fill="#303ea4"/><rect x="237" y="449" width="2" height="1" fill="#303ea4"/><rect x="239" y="449" width="7" height="1" fill="#3464c0"/><rect x="246" y="449" width="3" height="1" fill="#303ea4"/><rect x="236" y="450" width="3" height="1" fill="#303ea4"/><rect x="239" y="450" width="1" height="1" fill="#3464c0"/><rect x="240" y="450" width="5" height="1" fill="#4096ba"/><rect x="245" y="450" width="2" height="1" fill="#3464c0"/><rect x="247" y="450" width="2" height="1" fill="#303ea4"/><rect x="235" y="451" width="3" height="1" fill="#303ea4"/><rect x="238" y="451" width="1" height="1" fill="#3464c0"/><rect x="239" y="451" width="2" height="1" fill="#4096ba"/><rect x="241" y="451" width="3" height="1" fill="#58b874"/><rect x="244" y="451" width="2" height="1" fill="#4096ba"/><rect x="246" y="451" width="1" height="1" fill="#3464c0"/><rect x="247" y="451" width="3" height="1" fill="#303ea4"/><rect x="235" y="452" width="2" height="1" fill="#303ea4"/><rect x="237" y="452" width="2" height="1" fill="#3464c0"/><rect x="239" y="452" width="1" height="1" fill="#4096ba"/><rect x="240" y="452" width="5" height="1" fill="#58b874"/><rect x="245" y="452" width="1" height="1" fill="#4096ba"/><rect x="246" y="452" width="1" height="1" fill="#3464c0"/><rect x="247" y="452" width="3" height="1" fill="#303ea4"/><rect x="234" y="453" width="3" height="1" fill="#303ea4"/><rect x="237" y="453" width="1" height="1" fill="#3464c0"/><rect x="238" y="453" width="1" height="1" fill="#4096ba"/><rect x="239" y="453" width="6" height="1" fill="#58b874"/><rect x="245" y="453" width="1" height="1" fill="#4096ba"/><rect x="246" y="453" width="2" height="1" fill="#3464c0"/><rect x="248" y="453" width="2" height="1" fill="#303ea4"/><rect x="234" y="454" width="2" height="1" fill="#303ea4"/><rect x="236" y="454" width="2" height="1" fill="#3464c0"/><rect x="238" y="454" width="1" height="1" fill="#4096ba"/><rect x="239" y="454" width="6" height="1" fill="#58b874"/><rect x="245" y="454" width="2" height="1" fill="#4096ba"/><rect x="247" y="454" width="1" height="1" fill="#3464c0"/><rect x="248" y="454" width="3" height="1" fill="#303ea4"/><rect x="233" y="455" width="3" height="1" fill="#303ea4"/><rect x="236" y="455" width="1" height="1" fill="#3464c0"/><rect x="237" y="455" width="1" height="1" fill="#4096ba"/><rect x="238" y="455" width="3" height="1" fill="#58b874"/><rect x="241" y="455" width="2" height="1" fill="#7ac44c"/><rect x="243" y="455" width="3" height="1" fill="#58b874"/><rect x="246" y="455" width="1" height="1" fill="#4096ba"/><rect x="247" y="455" width="1" height="1" fill="#3464c0"/><rect x="248" y="455" width="3" height="1" fill="#303ea4"/><rect x="233" y="456" width="3" height="1" fill="#303ea4"/><rect x="236" y="456" width="1" height="1" fill="#3464c0"/><rect x="237" y="456" width="1" height="1" fill="#4096ba"/><rect x="238" y="456" width="2" height="1" fill="#58b874"/><rect x="240" y="456" width="4" height="1" fill="#7ac44c"/><rect x="244" y="456" width="2" height="1" fill="#58b874"/><rect x="246" y="456" width="1" height="1" fill="#4096ba"/><rect x="247" y="456" width="1" height="1" fill="#3464c0"/><rect x="248" y="456" width="3" height="1" fill="#303ea4"/><rect x="233" y="457" width="2" height="1" fill="#303ea4"/><rect x="235" y="457" width="2" height="1" fill="#3464c0"/><rect x="237" y="457" width="1" height="1" fill="#4096ba"/><rect x="238" y="457" width="2" height="1" fill="#58b874"/><rect x="240" y="457" width="4" height="1" fill="#7ac44c"/><rect x="244" y="457" width="2" height="1" fill="#58b874"/><rect x="246" y="457" width="1" height="1" fill="#4096ba"/><rect x="247" y="457" width="2" height="1" fill="#3464c0"/><rect x="249" y="457" width="3" height="1" fill="#303ea4"/><rect x="232" y="458" width="3" height="1" fill="#303ea4"/><rect x="235" y="458" width="1" height="1" fill="#3464c0"/><rect x="236" y="458" width="1" height="1" fill="#4096ba"/><rect x="237" y="458" width="2" height="1" fill="#58b874"/><rect x="239" y="458" width="5" height="1" fill="#7ac44c"/><rect x="244" y="458" width="2" height="1" fill="#58b874"/><rect x="246" y="458" width="1" height="1" fill="#4096ba"/><rect x="247" y="458" width="2" height="1" fill="#3464c0"/><rect x="249" y="458" width="3" height="1" fill="#303ea4"/><rect x="232" y="459" width="3" height="1" fill="#303ea4"/><rect x="235" y="459" width="1" height="1" fill="#3464c0"/><rect x="236" y="459" width="1" height="1" fill="#4096ba"/><rect x="237" y="459" width="2" height="1" fill="#58b874"/><rect x="239" y="459" width="5" height="1" fill="#7ac44c"/><rect x="244" y="459" width="2" height="1" fill="#58b874"/><rect x="246" y="459" width="1" height="1" fill="#4096ba"/><rect x="247" y="459" width="2" height="1" fill="#3464c0"/><rect x="249" y="459" width="3" height="1" fill="#303ea4"/><rect x="232" y="460" width="2" height="1" fill="#303ea4"/><rect x="234" y="460" width="2" height="1" fill="#3464c0"/><rect x="236" y="460" width="1" height="1" fill="#4096ba"/><rect x="237" y="460" width="2" height="1" fill="#58b874"/><rect x="239" y="460" width="5" height="1" fill="#7ac44c"/><rect x="244" y="460" width="2" height="1" fill="#58b874"/><rect x="246" y="460" width="2" height="1" fill="#4096ba"/><rect x="248" y="460" width="1" height="1" fill="#3464c0"/><rect x="249" y="460" width="3" height="1" fill="#303ea4"/><rect x="231" y="461" width="3" height="1" fill="#303ea4"/><rect x="234" y="461" width="1" height="1" fill="#3464c0"/><rect x="235" y="461" width="1" height="1" fill="#4096ba"/><rect x="236" y="461" width="2" height="1" fill="#58b874"/><rect x="238" y="461" width="7" height="1" fill="#7ac44c"/><rect x="245" y="461" width="1" height="1" fill="#58b874"/><rect x="246" y="461" width="2" height="1" fill="#4096ba"/><rect x="248" y="461" width="1" height="1" fill="#3464c0"/><rect x="249" y="461" width="3" height="1" fill="#303ea4"/><rect x="231" y="462" width="3" height="1" fill="#303ea4"/><rect x="234" y="462" width="1" height="1" fill="#3464c0"/><rect x="235" y="462" width="1" height="1" fill="#4096ba"/><rect x="236" y="462" width="2" height="1" fill="#58b874"/><rect x="238" y="462" width="7" height="1" fill="#7ac44c"/><rect x="245" y="462" width="2" height="1" fill="#58b874"/><rect x="247" y="462" width="1" height="1" fill="#4096ba"/><rect x="248" y="462" width="1" height="1" fill="#3464c0"/><rect x="249" y="462" width="3" height="1" fill="#303ea4"/><rect x="231" y="463" width="2" height="1" fill="#303ea4"/><rect x="233" y="463" width="2" height="1" fill="#3464c0"/><rect x="235" y="463" width="1" height="1" fill="#4096ba"/><rect x="236" y="463" width="1" height="1" fill="#58b874"/><rect x="237" y="463" width="8" height="1" fill="#7ac44c"/><rect x="245" y="463" width="2" height="1" fill="#58b874"/><rect x="247" y="463" width="1" height="1" fill="#4096ba"/><rect x="248" y="463" width="1" height="1" fill="#3464c0"/><rect x="249" y="463" width="3" height="1" fill="#303ea4"/><rect x="231" y="464" width="2" height="1" fill="#303ea4"/><rect x="233" y="464" width="1" height="1" fill="#3464c0"/><rect x="234" y="464" width="1" height="1" fill="#4096ba"/><rect x="235" y="464" width="2" height="1" fill="#58b874"/><rect x="237" y="464" width="3" height="1" fill="#7ac44c"/><rect x="240" y="464" width="2" height="1" fill="#ccd62c"/><rect x="242" y="464" width="3" height="1" fill="#7ac44c"/><rect x="245" y="464" width="2" height="1" fill="#58b874"/><rect x="247" y="464" width="1" height="1" fill="#4096ba"/><rect x="248" y="464" width="1" height="1" fill="#3464c0"/><rect x="249" y="464" width="3" height="1" fill="#303ea4"/><rect x="207" y="465" width="5" height="1" fill="#303ea4"/><rect x="231" y="465" width="2" height="1" fill="#303ea4"/><rect x="233" y="465" width="1" height="1" fill="#3464c0"/><rect x="234" y="465" width="1" height="1" fill="#4096ba"/><rect x="235" y="465" width="2" height="1" fill="#58b874"/><rect x="237" y="465" width="2" height="1" fill="#7ac44c"/><rect x="239" y="465" width="4" height="1" fill="#ccd62c"/><rect x="243" y="465" width="2" height="1" fill="#7ac44c"/><rect x="245" y="465" width="2" height="1" fill="#58b874"/><rect x="247" y="465" width="1" height="1" fill="#4096ba"/><rect x="248" y="465" width="1" height="1" fill="#3464c0"/><rect x="249" y="465" width="3" height="1" fill="#303ea4"/><rect x="204" y="466" width="11" height="1" fill="#303ea4"/><rect x="230" y="466" width="3" height="1" fill="#303ea4"/><rect x="233" y="466" width="1" height="1" fill="#3464c0"/><rect x="234" y="466" width="1" height="1" fill="#4096ba"/><rect x="235" y="466" width="2" height="1" fill="#58b874"/><rect x="237" y="466" width="2" height="1" fill="#7ac44c"/><rect x="239" y="466" width="4" height="1" fill="#ccd62c"/><rect x="243" y="466" width="2" height="1" fill="#7ac44c"/><rect x="245" y="466" width="2" height="1" fill="#58b874"/><rect x="247" y="466" width="1" height="1" fill="#4096ba"/><rect x="248" y="466" width="1" height="1" fill="#3464c0"/><rect x="249" y="466" width="3" height="1" fill="#303ea4"/><rect x="203" y="467" width="3" height="1" fill="#303ea4"/><rect x="206" y="467" width="3" height="1" fill="#3464c0"/><rect x="209" y="467" width="1" height="1" fill="#4096ba"/><rect x="210" y="467" width="3" height="1" fill="#3464c0"/><rect x="213" y="467" width="3" height="1" fill="#303ea4"/><rect x="230" y="467" width="3" height="1" fill="#303ea4"/><rect x="233" y="467" width="1" height="1" fill="#3464c0"/><rect x="234" y="467" width="1" height="1" fill="#4096ba"/><rect x="235" y="467" width="1" height="1" fill="#58b874"/><rect x="236" y="467" width="3" height="1" fill="#7ac44c"/><rect x="239" y="467" width="4" height="1" fill="#ccd62c"/><rect x="243" y="467" width="2" height="1" fill="#7ac44c"/><rect x="245" y="467" width="2" height="1" fill="#58b874"/><rect x="247" y="467" width="1" height="1" fill="#4096ba"/><rect x="248" y="467" width="1" height="1" fill="#3464c0"/><rect x="249" y="467" width="3" height="1" fill="#303ea4"/><rect x="203" y="468" width="1" height="1" fill="#303ea4"/><rect x="204" y="468" width="2" height="1" fill="#3464c0"/><rect x="206" y="468" width="2" height="1" fill="#4096ba"/><rect x="208" y="468" width="3" height="1" fill="#58b874"/><rect x="211" y="468" width="2" height="1" fill="#4096ba"/><rect x="213" y="468" width="2" height="1" fill="#3464c0"/><rect x="215" y="468" width="2" height="1" fill="#303ea4"/><rect x="230" y="468" width="3" height="1" fill="#303ea4"/><rect x="233" y="468" width="1" height="1" fill="#3464c0"/><rect x="234" y="468" width="1" height="1" fill="#4096ba"/><rect x="235" y="468" width="1" height="1" fill="#58b874"/><rect x="236" y="468" width="3" height="1" fill="#7ac44c"/><rect x="239" y="468" width="4" height="1" fill="#ccd62c"/><rect x="243" y="468" width="2" height="1" fill="#7ac44c"/><rect x="245" y="468" width="2" height="1" fill="#58b874"/><rect x="247" y="468" width="1" height="1" fill="#4096ba"/><rect x="248" y="468" width="1" height="1" fill="#3464c0"/><rect x="249" y="468" width="3" height="1" fill="#303ea4"/><rect x="203" y="469" width="2" height="1" fill="#3464c0"/><rect x="205" y="469" width="1" height="1" fill="#4096ba"/><rect x="206" y="469" width="7" height="1" fill="#58b874"/><rect x="213" y="469" width="1" height="1" fill="#4096ba"/><rect x="214" y="469" width="2" height="1" fill="#3464c0"/><rect x="216" y="469" width="2" height="1" fill="#303ea4"/><rect x="230" y="469" width="3" height="1" fill="#303ea4"/><rect x="233" y="469" width="1" height="1" fill="#3464c0"/><rect x="234" y="469" width="1" height="1" fill="#4096ba"/><rect x="235" y="469" width="1" height="1" fill="#58b874"/><rect x="236" y="469" width="3" height="1" fill="#7ac44c"/><rect x="239" y="469" width="4" height="1" fill="#ccd62c"/><rect x="243" y="469" width="2" height="1" fill="#7ac44c"/><rect x="245" y="469" width="2" height="1" fill="#58b874"/><rect x="247" y="469" width="1" height="1" fill="#4096ba"/><rect x="248" y="469" width="1" height="1" fill="#3464c0"/><rect x="249" y="469" width="3" height="1" fill="#303ea4"/><rect x="203" y="470" width="1" height="1" fill="#3464c0"/><rect x="204" y="470" width="1" height="1" fill="#4096ba"/><rect x="205" y="470" width="2" height="1" fill="#58b874"/><rect x="207" y="470" width="5" height="1" fill="#7ac44c"/><rect x="212" y="470" width="2" height="1" fill="#58b874"/><rect x="214" y="470" width="1" height="1" fill="#4096ba"/><rect x="215" y="470" width="1" height="1" fill="#3464c0"/><rect x="216" y="470" width="2" height="1" fill="#303ea4"/><rect x="231" y="470" width="2" height="1" fill="#303ea4"/><rect x="233" y="470" width="1" height="1" fill="#3464c0"/><rect x="234" y="470" width="1" height="1" fill="#4096ba"/><rect x="235" y="470" width="2" height="1" fill="#58b874"/><rect x="237" y="470" width="2" height="1" fill="#7ac44c"/><rect x="239" y="470" width="3" height="1" fill="#ccd62c"/><rect x="242" y="470" width="3" height="1" fill="#7ac44c"/><rect x="245" y="470" width="2" height="1" fill="#58b874"/><rect x="247" y="470" width="1" height="1" fill="#4096ba"/><rect x="248" y="470" width="1" height="1" fill="#3464c0"/><rect x="249" y="470" width="2" height="1" fill="#303ea4"/><rect x="203" y="471" width="1" height="1" fill="#4096ba"/><rect x="204" y="471" width="2" height="1" fill="#58b874"/><rect x="206" y="471" width="7" height="1" fill="#7ac44c"/><rect x="213" y="471" width="2" height="1" fill="#58b874"/><rect x="215" y="471" width="1" height="1" fill="#4096ba"/><rect x="216" y="471" width="1" height="1" fill="#3464c0"/><rect x="217" y="471" width="2" height="1" fill="#303ea4"/><rect x="231" y="471" width="2" height="1" fill="#303ea4"/><rect x="233" y="471" width="1" height="1" fill="#3464c0"/><rect x="234" y="471" width="1" height="1" fill="#4096ba"/><rect x="235" y="471" width="2" height="1" fill="#58b874"/><rect x="237" y="471" width="7" height="1" fill="#7ac44c"/><rect x="244" y="471" width="2" height="1" fill="#58b874"/><rect x="246" y="471" width="1" height="1" fill="#4096ba"/><rect x="247" y="471" width="2" height="1" fill="#3464c0"/><rect x="249" y="471" width="2" height="1" fill="#303ea4"/><rect x="203" y="472" width="1" height="1" fill="#4096ba"/><rect x="204" y="472" width="2" height="1" fill="#58b874"/><rect x="206" y="472" width="7" height="1" fill="#7ac44c"/><rect x="213" y="472" width="2" height="1" fill="#58b874"/><rect x="215" y="472" width="1" height="1" fill="#4096ba"/><rect x="216" y="472" width="1" height="1" fill="#3464c0"/><rect x="217" y="472" width="2" height="1" fill="#303ea4"/><rect x="231" y="472" width="2" height="1" fill="#303ea4"/><rect x="233" y="472" width="1" height="1" fill="#3464c0"/><rect x="234" y="472" width="1" height="1" fill="#4096ba"/><rect x="235" y="472" width="2" height="1" fill="#58b874"/><rect x="237" y="472" width="7" height="1" fill="#7ac44c"/><rect x="244" y="472" width="2" height="1" fill="#58b874"/><rect x="246" y="472" width="1" height="1" fill="#4096ba"/><rect x="247" y="472" width="1" height="1" fill="#3464c0"/><rect x="248" y="472" width="3" height="1" fill="#303ea4"/><rect x="203" y="473" width="1" height="1" fill="#4096ba"/><rect x="204" y="473" width="2" height="1" fill="#58b874"/><rect x="206" y="473" width="7" height="1" fill="#7ac44c"/><rect x="213" y="473" width="2" height="1" fill="#58b874"/><rect x="215" y="473" width="1" height="1" fill="#4096ba"/><rect x="216" y="473" width="1" height="1" fill="#3464c0"/><rect x="217" y="473" width="2" height="1" fill="#303ea4"/><rect x="231" y="473" width="2" height="1" fill="#303ea4"/><rect x="233" y="473" width="2" height="1" fill="#3464c0"/><rect x="235" y="473" width="1" height="1" fill="#4096ba"/><rect x="236" y="473" width="2" height="1" fill="#58b874"/><rect x="238" y="473" width="5" height="1" fill="#7ac44c"/><rect x="243" y="473" width="2" height="1" fill="#58b874"/><rect x="245" y="473" width="1" height="1" fill="#4096ba"/><rect x="246" y="473" width="2" height="1" fill="#3464c0"/><rect x="248" y="473" width="2" height="1" fill="#303ea4"/><rect x="203" y="474" width="1" height="1" fill="#4096ba"/><rect x="204" y="474" width="2" height="1" fill="#58b874"/><rect x="206" y="474" width="7" height="1" fill="#7ac44c"/><rect x="213" y="474" width="2" height="1" fill="#58b874"/><rect x="215" y="474" width="1" height="1" fill="#4096ba"/><rect x="216" y="474" width="1" height="1" fill="#3464c0"/><rect x="217" y="474" width="2" height="1" fill="#303ea4"/><rect x="231" y="474" width="3" height="1" fill="#303ea4"/><rect x="234" y="474" width="1" height="1" fill="#3464c0"/><rect x="235" y="474" width="1" height="1" fill="#4096ba"/><rect x="236" y="474" width="4" height="1" fill="#58b874"/><rect x="240" y="474" width="1" height="1" fill="#7ac44c"/><rect x="241" y="474" width="3" height="1" fill="#58b874"/><rect x="244" y="474" width="2" height="1" fill="#4096ba"/><rect x="246" y="474" width="1" height="1" fill="#3464c0"/><rect x="247" y="474" width="3" height="1" fill="#303ea4"/><rect x="203" y="475" width="1" height="1" fill="#4096ba"/><rect x="204" y="475" width="2" height="1" fill="#58b874"/><rect x="206" y="475" width="7" height="1" fill="#7ac44c"/><rect x="213" y="475" width="2" height="1" fill="#58b874"/><rect x="215" y="475" width="1" height="1" fill="#4096ba"/><rect x="216" y="475" width="1" height="1" fill="#3464c0"/><rect x="217" y="475" width="2" height="1" fill="#303ea4"/><rect x="232" y="475" width="2" height="1" fill="#303ea4"/><rect x="234" y="475" width="2" height="1" fill="#3464c0"/><rect x="236" y="475" width="1" height="1" fill="#4096ba"/><rect x="237" y="475" width="6" height="1" fill="#58b874"/><rect x="243" y="475" width="2" height="1" fill="#4096ba"/><rect x="245" y="475" width="2" height="1" fill="#3464c0"/><rect x="247" y="475" width="2" height="1" fill="#303ea4"/><rect x="203" y="476" width="1" height="1" fill="#3464c0"/><rect x="204" y="476" width="1" height="1" fill="#4096ba"/><rect x="205" y="476" width="2" height="1" fill="#58b874"/><rect x="207" y="476" width="5" height="1" fill="#7ac44c"/><rect x="212" y="476" width="2" height="1" fill="#58b874"/><rect x="214" y="476" width="1" height="1" fill="#4096ba"/><rect x="215" y="476" width="1" height="1" fill="#3464c0"/><rect x="216" y="476" width="2" height="1" fill="#303ea4"/><rect x="232" y="476" width="3" height="1" fill="#303ea4"/><rect x="235" y="476" width="2" height="1" fill="#3464c0"/><rect x="237" y="476" width="2" height="1" fill="#4096ba"/><rect x="239" y="476" width="3" height="1" fill="#58b874"/><rect x="242" y="476" width="2" height="1" fill="#4096ba"/><rect x="244" y="476" width="2" height="1" fill="#3464c0"/><rect x="246" y="476" width="3" height="1" fill="#303ea4"/><rect x="203" y="477" width="2" height="1" fill="#3464c0"/><rect x="205" y="477" width="1" height="1" fill="#4096ba"/><rect x="206" y="477" width="7" height="1" fill="#58b874"/><rect x="213" y="477" width="1" height="1" fill="#4096ba"/><rect x="214" y="477" width="2" height="1" fill="#3464c0"/><rect x="216" y="477" width="2" height="1" fill="#303ea4"/><rect x="232" y="477" width="4" height="1" fill="#303ea4"/><rect x="236" y="477" width="2" height="1" fill="#3464c0"/><rect x="238" y="477" width="5" height="1" fill="#4096ba"/><rect x="243" y="477" width="2" height="1" fill="#3464c0"/><rect x="245" y="477" width="3" height="1" fill="#303ea4"/></g>
<g fill="#505abe"><rect x="223.2" y="437.2" width=".8" height=".8" fill-opacity="0.67"/><rect x="224.2" y="438.2" width=".8" height=".8" fill-opacity="0.46"/><rect x="252.0" y="440.3" width=".8" height=".8" fill-opacity="0.62"/><rect x="242.2" y="441.2" width=".8" height=".8" fill-opacity="0.88"/><rect x="239.1" y="443.3" width=".8" height=".8" fill-opacity="0.93"/><rect x="241.1" y="443.2" width=".8" height=".8" fill-opacity="0.76"/><rect x="242.2" y="443.2" width=".8" height=".8" fill-opacity="0.47"/><rect x="247.0" y="443.0" width=".8" height=".8" fill-opacity="0.69"/><rect x="239.1" y="444.2" width=".8" height=".8" fill-opacity="0.91"/><rect x="240.2" y="444.1" width=".8" height=".8" fill-opacity="0.69"/><rect x="242.2" y="444.3" width=".8" height=".8" fill-opacity="0.57"/><rect x="243.2" y="444.1" width=".8" height=".8" fill-opacity="0.68"/><rect x="244.0" y="444.2" width=".8" height=".8" fill-opacity="0.87"/><rect x="248.1" y="444.2" width=".8" height=".8" fill-opacity="0.67"/><rect x="240.2" y="445.0" width=".8" height=".8" fill-opacity="0.91"/><rect x="241.1" y="445.0" width=".8" height=".8" fill-opacity="0.88"/><rect x="244.2" y="445.2" width=".8" height=".8" fill-opacity="0.51"/><rect x="245.3" y="445.2" width=".8" height=".8" fill-opacity="0.50"/><rect x="246.2" y="445.1" width=".8" height=".8" fill-opacity="0.62"/><rect x="247.3" y="445.2" width=".8" height=".8" fill-opacity="0.68"/><rect x="238.2" y="446.3" width=".8" height=".8" fill-opacity="0.50"/><rect x="239.1" y="446.3" width=".8" height=".8" fill-opacity="0.79"/><rect x="246.2" y="446.2" width=".8" height=".8" fill-opacity="0.55"/><rect x="247.3" y="446.1" width=".8" height=".8" fill-opacity="0.66"/><rect x="248.0" y="446.2" width=".8" height=".8" fill-opacity="0.88"/><rect x="228.3" y="447.2" width=".8" height=".8" fill-opacity="0.47"/><rect x="229.3" y="447.1" width=".8" height=".8" fill-opacity="0.59"/><rect x="233.3" y="447.2" width=".8" height=".8" fill-opacity="0.52"/><rect x="234.0" y="447.3" width=".8" height=".8" fill-opacity="0.79"/><rect x="236.0" y="447.3" width=".8" height=".8" fill-opacity="0.94"/><rect x="237.1" y="447.2" width=".8" height=".8" fill-opacity="0.77"/><rect x="247.1" y="447.1" width=".8" height=".8" fill-opacity="0.51"/><rect x="248.1" y="447.3" width=".8" height=".8" fill-opacity="0.93"/><rect x="215.2" y="448.1" width=".8" height=".8" fill-opacity="0.76"/><rect x="226.1" y="448.0" width=".8" height=".8" fill-opacity="0.72"/><rect x="234.0" y="448.1" width=".8" height=".8" fill-opacity="0.83"/><rect x="236.2" y="448.2" width=".8" height=".8" fill-opacity="0.53"/><rect x="248.2" y="448.3" width=".8" height=".8" fill-opacity="0.89"/><rect x="250.1" y="448.1" width=".8" height=".8" fill-opacity="0.82"/><rect x="251.1" y="448.1" width=".8" height=".8" fill-opacity="0.89"/><rect x="218.2" y="449.3" width=".8" height=".8" fill-opacity="0.61"/><rect x="226.0" y="449.2" width=".8" height=".8" fill-opacity="0.88"/><rect x="233.2" y="449.0" width=".8" height=".8" fill-opacity="0.58"/><rect x="236.2" y="449.2" width=".8" height=".8" fill-opacity="0.77"/><rect x="249.1" y="449.0" width=".8" height=".8" fill-opacity="0.81"/><rect x="250.3" y="449.2" width=".8" height=".8" fill-opacity="0.94"/><rect x="226.2" y="450.1" width=".8" height=".8" fill-opacity="0.72"/><rect x="228.0" y="450.3" width=".8" height=".8" fill-opacity="0.71"/><rect x="233.0" y="450.1" width=".8" height=".8" fill-opacity="0.79"/><rect x="234.3" y="450.3" width=".8" height=".8" fill-opacity="0.89"/><rect x="250.1" y="450.0" width=".8" height=".8" fill-opacity="0.56"/><rect x="252.1" y="450.2" width=".8" height=".8" fill-opacity="0.48"/><rect x="220.0" y="451.2" width=".8" height=".8" fill-opacity="0.47"/><rect x="221.1" y="451.2" width=".8" height=".8" fill-opacity="0.56"/><rect x="231.2" y="451.1" width=".8" height=".8" fill-opacity="0.93"/><rect x="234.0" y="451.2" width=".8" height=".8" fill-opacity="0.58"/><rect x="251.1" y="451.2" width=".8" height=".8" fill-opacity="0.79"/><rect x="216.1" y="452.2" width=".8" height=".8" fill-opacity="0.67"/><rect x="218.0" y="452.2" width=".8" height=".8" fill-opacity="0.47"/><rect x="219.1" y="452.1" width=".8" height=".8" fill-opacity="0.88"/><rect x="222.1" y="452.0" width=".8" height=".8" fill-opacity="0.81"/><rect x="225.1" y="452.1" width=".8" height=".8" fill-opacity="0.53"/><rect x="230.1" y="452.1" width=".8" height=".8" fill-opacity="0.52"/><rect x="234.1" y="452.1" width=".8" height=".8" fill-opacity="0.78"/><rect x="250.3" y="452.2" width=".8" height=".8" fill-opacity="0.49"/><rect x="251.1" y="452.0" width=".8" height=".8" fill-opacity="0.48"/><rect x="218.1" y="453.3" width=".8" height=".8" fill-opacity="0.63"/><rect x="219.0" y="453.1" width=".8" height=".8" fill-opacity="0.94"/><rect x="223.0" y="453.3" width=".8" height=".8" fill-opacity="0.86"/><rect x="225.2" y="453.2" width=".8" height=".8" fill-opacity="0.64"/><rect x="231.0" y="453.1" width=".8" height=".8" fill-opacity="0.67"/><rect x="232.0" y="453.1" width=".8" height=".8" fill-opacity="0.52"/><rect x="250.2" y="453.2" width=".8" height=".8" fill-opacity="0.59"/><rect x="251.3" y="453.3" width=".8" height=".8" fill-opacity="0.86"/><rect x="216.1" y="454.1" width=".8" height=".8" fill-opacity="0.91"/><rect x="218.1" y="454.3" width=".8" height=".8" fill-opacity="0.53"/><rect x="221.2" y="454.2" width=".8" height=".8" fill-opacity="0.70"/><rect x="223.1" y="454.1" width=".8" height=".8" fill-opacity="0.62"/><rect x="224.0" y="454.2" width=".8" height=".8" fill-opacity="0.65"/><rect x="227.2" y="454.3" width=".8" height=".8" fill-opacity="0.55"/><rect x="233.0" y="454.2" width=".8" height=".8" fill-opacity="0.66"/><rect x="251.0" y="454.0" width=".8" height=".8" fill-opacity="0.47"/><rect x="224.0" y="455.2" width=".8" height=".8" fill-opacity="0.49"/><rect x="226.1" y="455.1" width=".8" height=".8" fill-opacity="0.93"/><rect x="251.1" y="455.1" width=".8" height=".8" fill-opacity="0.65"/><rect x="252.2" y="455.0" width=".8" height=".8" fill-opacity="0.83"/><rect x="254.2" y="455.2" width=".8" height=".8" fill-opacity="0.90"/><rect x="216.0" y="456.2" width=".8" height=".8" fill-opacity="0.93"/><rect x="221.1" y="456.1" width=".8" height=".8" fill-opacity="0.74"/><rect x="229.2" y="456.0" width=".8" height=".8" fill-opacity="0.50"/><rect x="231.3" y="456.1" width=".8" height=".8" fill-opacity="0.62"/><rect x="232.2" y="456.1" width=".8" height=".8" fill-opacity="0.93"/><rect x="252.0" y="456.3" width=".8" height=".8" fill-opacity="0.81"/><rect x="253.2" y="456.1" width=".8" height=".8" fill-opacity="0.89"/><rect x="219.0" y="457.2" width=".8" height=".8" fill-opacity="0.61"/><rect x="220.1" y="457.1" width=".8" height=".8" fill-opacity="0.49"/><rect x="221.3" y="457.3" width=".8" height=".8" fill-opacity="0.95"/><rect x="223.2" y="457.1" width=".8" height=".8" fill-opacity="0.80"/><rect x="227.2" y="457.2" width=".8" height=".8" fill-opacity="0.60"/><rect x="229.2" y="457.2" width=".8" height=".8" fill-opacity="0.48"/><rect x="231.0" y="457.1" width=".8" height=".8" fill-opacity="0.49"/><rect x="232.2" y="457.1" width=".8" height=".8" fill-opacity="0.63"/><rect x="252.0" y="457.0" width=".8" height=".8" fill-opacity="0.55"/><rect x="254.2" y="457.2" width=".8" height=".8" fill-opacity="0.85"/><rect x="255.2" y="457.2" width=".8" height=".8" fill-opacity="0.83"/><rect x="214.1" y="458.0" width=".8" height=".8" fill-opacity="0.70"/><rect x="217.1" y="458.2" width=".8" height=".8" fill-opacity="0.82"/><rect x="218.2" y="458.1" width=".8" height=".8" fill-opacity="0.56"/><rect x="221.2" y="458.2" width=".8" height=".8" fill-opacity="0.92"/><rect x="223.2" y="458.3" width=".8" height=".8" fill-opacity="0.74"/><rect x="226.2" y="458.2" width=".8" height=".8" fill-opacity="0.61"/><rect x="254.2" y="458.2" width=".8" height=".8" fill-opacity="0.47"/><rect x="213.1" y="459.3" width=".8" height=".8" fill-opacity="0.73"/><rect x="215.1" y="459.0" width=".8" height=".8" fill-opacity="0.48"/><rect x="221.1" y="459.1" width=".8" height=".8" fill-opacity="0.69"/><rect x="223.1" y="459.2" width=".8" height=".8" fill-opacity="0.86"/><rect x="225.0" y="459.2" width=".8" height=".8" fill-opacity="0.57"/><rect x="228.1" y="459.3" width=".8" height=".8" fill-opacity="0.74"/><rect x="231.0" y="459.3" width=".8" height=".8" fill-opacity="0.67"/><rect x="253.2" y="459.1" width=".8" height=".8" fill-opacity="0.82"/><rect x="229.2" y="460.2" width=".8" height=".8" fill-opacity="0.58"/><rect x="231.2" y="460.1" width=".8" height=".8" fill-opacity="0.66"/><rect x="252.2" y="460.1" width=".8" height=".8" fill-opacity="0.87"/><rect x="254.3" y="460.3" width=".8" height=".8" fill-opacity="0.93"/><rect x="255.2" y="460.1" width=".8" height=".8" fill-opacity="0.83"/><rect x="218.3" y="461.0" width=".8" height=".8" fill-opacity="0.86"/><rect x="221.1" y="461.0" width=".8" height=".8" fill-opacity="0.67"/><rect x="222.2" y="461.3" width=".8" height=".8" fill-opacity="0.67"/><rect x="225.2" y="461.3" width=".8" height=".8" fill-opacity="0.87"/><rect x="229.0" y="461.2" width=".8" height=".8" fill-opacity="0.77"/><rect x="253.0" y="461.3" width=".8" height=".8" fill-opacity="0.53"/><rect x="254.1" y="461.3" width=".8" height=".8" fill-opacity="0.86"/><rect x="256.1" y="461.3" width=".8" height=".8" fill-opacity="0.78"/><rect x="217.2" y="462.2" width=".8" height=".8" fill-opacity="0.87"/><rect x="220.2" y="462.2" width=".8" height=".8" fill-opacity="0.67"/><rect x="230.2" y="462.0" width=".8" height=".8" fill-opacity="0.89"/><rect x="252.2" y="462.1" width=".8" height=".8" fill-opacity="0.93"/><rect x="253.2" y="462.1" width=".8" height=".8" fill-opacity="0.53"/><rect x="220.1" y="463.1" width=".8" height=".8" fill-opacity="0.70"/><rect x="221.3" y="463.0" width=".8" height=".8" fill-opacity="0.55"/><rect x="222.2" y="463.1" width=".8" height=".8" fill-opacity="0.48"/><rect x="224.3" y="463.3" width=".8" height=".8" fill-opacity="0.68"/><rect x="228.1" y="463.1" width=".8" height=".8" fill-opacity="0.67"/><rect x="230.2" y="463.0" width=".8" height=".8" fill-opacity="0.54"/><rect x="252.1" y="463.1" width=".8" height=".8" fill-opacity="0.58"/><rect x="204.2" y="464.2" width=".8" height=".8" fill-opacity="0.58"/><rect x="207.0" y="464.2" width=".8" height=".8" fill-opacity="0.66"/><rect x="208.3" y="464.0" width=".8" height=".8" fill-opacity="0.87"/><rect x="210.3" y="464.3" width=".8" height=".8" fill-opacity="0.73"/><rect x="212.3" y="464.2" width=".8" height=".8" fill-opacity="0.93"/><rect x="215.1" y="464.3" width=".8" height=".8" fill-opacity="0.55"/><rect x="222.1" y="464.2" width=".8" height=".8" fill-opacity="0.63"/><rect x="223.3" y="464.0" width=".8" height=".8" fill-opacity="0.78"/><rect x="225.2" y="464.3" width=".8" height=".8" fill-opacity="0.48"/><rect x="228.2" y="464.1" width=".8" height=".8" fill-opacity="0.61"/><rect x="252.2" y="464.1" width=".8" height=".8" fill-opacity="0.71"/><rect x="254.2" y="464.2" width=".8" height=".8" fill-opacity="0.92"/><rect x="205.1" y="465.1" width=".8" height=".8" fill-opacity="0.49"/><rect x="206.2" y="465.3" width=".8" height=".8" fill-opacity="0.50"/><rect x="212.1" y="465.1" width=".8" height=".8" fill-opacity="0.84"/><rect x="215.0" y="465.0" width=".8" height=".8" fill-opacity="0.76"/><rect x="216.1" y="465.1" width=".8" height=".8" fill-opacity="0.94"/><rect x="219.0" y="465.2" width=".8" height=".8" fill-opacity="0.81"/><rect x="220.2" y="465.1" width=".8" height=".8" fill-opacity="0.61"/><rect x="222.2" y="465.2" width=".8" height=".8" fill-opacity="0.77"/><rect x="223.0" y="465.2" width=".8" height=".8" fill-opacity="0.50"/><rect x="224.1" y="465.2" width=".8" height=".8" fill-opacity="0.85"/><rect x="225.1" y="465.3" width=".8" height=".8" fill-opacity="0.70"/><rect x="226.3" y="465.3" width=".8" height=".8" fill-opacity="0.74"/><rect x="228.2" y="465.1" width=".8" height=".8" fill-opacity="0.55"/><rect x="252.1" y="465.1" width=".8" height=".8" fill-opacity="0.81"/><rect x="253.0" y="465.2" width=".8" height=".8" fill-opacity="0.72"/><rect x="203.2" y="466.3" width=".8" height=".8" fill-opacity="0.69"/><rect x="215.2" y="466.0" width=".8" height=".8" fill-opacity="0.79"/><rect x="216.2" y="466.0" width=".8" height=".8" fill-opacity="0.63"/><rect x="219.1" y="466.3" width=".8" height=".8" fill-opacity="0.90"/><rect x="220.2" y="466.0" width=".8" height=".8" fill-opacity="0.72"/><rect x="221.1" y="466.3" width=".8" height=".8" fill-opacity="0.65"/><rect x="223.1" y="466.2" width=".8" height=".8" fill-opacity="0.48"/><rect x="225.1" y="466.2" width=".8" height=".8" fill-opacity="0.72"/><rect x="228.1" y="466.1" width=".8" height=".8" fill-opacity="0.74"/><rect x="216.0" y="467.2" width=".8" height=".8" fill-opacity="0.55"/><rect x="218.2" y="467.0" width=".8" height=".8" fill-opacity="0.62"/><rect x="223.1" y="467.2" width=".8" height=".8" fill-opacity="0.71"/><rect x="224.1" y="467.2" width=".8" height=".8" fill-opacity="0.86"/><rect x="225.2" y="467.0" width=".8" height=".8" fill-opacity="0.49"/><rect x="252.1" y="467.2" width=".8" height=".8" fill-opacity="0.87"/><rect x="217.0" y="468.3" width=".8" height=".8" fill-opacity="0.93"/><rect x="218.0" y="468.1" width=".8" height=".8" fill-opacity="0.66"/><rect x="219.2" y="468.2" width=".8" height=".8" fill-opacity="0.82"/><rect x="220.2" y="468.1" width=".8" height=".8" fill-opacity="0.62"/><rect x="221.1" y="468.0" width=".8" height=".8" fill-opacity="0.77"/><rect x="222.3" y="468.3" width=".8" height=".8" fill-opacity="0.91"/><rect x="223.0" y="468.3" width=".8" height=".8" fill-opacity="0.68"/><rect x="225.2" y="468.2" width=".8" height=".8" fill-opacity="0.70"/><rect x="226.2" y="468.1" width=".8" height=".8" fill-opacity="0.47"/><rect x="227.2" y="468.1" width=".8" height=".8" fill-opacity="0.65"/><rect x="228.0" y="468.2" width=".8" height=".8" fill-opacity="0.93"/><rect x="218.2" y="469.1" width=".8" height=".8" fill-opacity="0.89"/><rect x="219.2" y="469.2" width=".8" height=".8" fill-opacity="0.72"/><rect x="220.1" y="469.1" width=".8" height=".8" fill-opacity="0.61"/><rect x="223.3" y="469.3" width=".8" height=".8" fill-opacity="0.75"/><rect x="225.0" y="469.1" width=".8" height=".8" fill-opacity="0.49"/><rect x="226.0" y="469.2" width=".8" height=".8" fill-opacity="0.75"/><rect x="227.1" y="469.2" width=".8" height=".8" fill-opacity="0.64"/><rect x="228.3" y="469.2" width=".8" height=".8" fill-opacity="0.79"/><rect x="229.2" y="469.0" width=".8" height=".8" fill-opacity="0.62"/><rect x="252.2" y="469.3" width=".8" height=".8" fill-opacity="0.90"/><rect x="253.2" y="469.1" width=".8" height=".8" fill-opacity="0.45"/><rect x="218.2" y="470.2" width=".8" height=".8" fill-opacity="0.69"/><rect x="219.1" y="470.1" width=".8" height=".8" fill-opacity="0.71"/><rect x="221.1" y="470.0" width=".8" height=".8" fill-opacity="0.94"/><rect x="224.1" y="470.0" width=".8" height=".8" fill-opacity="0.47"/><rect x="225.2" y="470.1" width=".8" height=".8" fill-opacity="0.78"/><rect x="228.1" y="470.3" width=".8" height=".8" fill-opacity="0.64"/><rect x="229.0" y="470.3" width=".8" height=".8" fill-opacity="0.94"/><rect x="230.1" y="470.1" width=".8" height=".8" fill-opacity="0.55"/><rect x="251.2" y="470.1" width=".8" height=".8" fill-opacity="0.58"/><rect x="252.1" y="470.0" width=".8" height=".8" fill-opacity="0.78"/><rect x="253.3" y="470.3" width=".8" height=".8" fill-opacity="0.65"/><rect x="219.1" y="471.3" width=".8" height=".8" fill-opacity="0.70"/><rect x="220.2" y="471.2" width=".8" height=".8" fill-opacity="0.88"/><rect x="221.1" y="471.1" width=".8" height=".8" fill-opacity="0.66"/><rect x="230.0" y="471.1" width=".8" height=".8" fill-opacity="0.51"/><rect x="252.0" y="471.0" width=".8" height=".8" fill-opacity="0.86"/><rect x="253.2" y="471.0" width=".8" height=".8" fill-opacity="0.67"/><rect x="219.2" y="472.0" width=".8" height=".8" fill-opacity="0.61"/><rect x="220.0" y="472.3" width=".8" height=".8" fill-opacity="0.91"/><rect x="222.3" y="472.1" width=".8" height=".8" fill-opacity="0.86"/><rect x="224.0" y="472.1" width=".8" height=".8" fill-opacity="0.62"/><rect x="225.2" y="472.1" width=".8" height=".8" fill-opacity="0.94"/><rect x="230.0" y="472.1" width=".8" height=".8" fill-opacity="0.79"/><rect x="253.3" y="472.2" width=".8" height=".8" fill-opacity="0.87"/><rect x="219.0" y="473.1" width=".8" height=".8" fill-opacity="0.83"/><rect x="220.0" y="473.1" width=".8" height=".8" fill-opacity="0.50"/><rect x="221.2" y="473.2" width=".8" height=".8" fill-opacity="0.76"/><rect x="223.3" y="473.3" width=".8" height=".8" fill-opacity="0.73"/><rect x="224.3" y="473.1" width=".8" height=".8" fill-opacity="0.68"/><rect x="227.1" y="473.2" width=".8" height=".8" fill-opacity="0.46"/><rect x="229.3" y="473.1" width=".8" height=".8" fill-opacity="0.63"/><rect x="230.2" y="473.0" width=".8" height=".8" fill-opacity="0.50"/><rect x="250.0" y="473.3" width=".8" height=".8" fill-opacity="0.64"/><rect x="251.2" y="473.2" width=".8" height=".8" fill-opacity="0.59"/><rect x="221.0" y="474.2" width=".8" height=".8" fill-opacity="0.60"/><rect x="222.2" y="474.1" width=".8" height=".8" fill-opacity="0.57"/><rect x="224.1" y="474.3" width=".8" height=".8" fill-opacity="0.70"/><rect x="225.2" y="474.1" width=".8" height=".8" fill-opacity="0.63"/><rect x="227.1" y="474.0" width=".8" height=".8" fill-opacity="0.65"/><rect x="228.1" y="474.3" width=".8" height=".8" fill-opacity="0.67"/><rect x="229.2" y="474.0" width=".8" height=".8" fill-opacity="0.53"/><rect x="230.2" y="474.1" width=".8" height=".8" fill-opacity="0.63"/><rect x="219.0" y="475.1" width=".8" height=".8" fill-opacity="0.76"/><rect x="221.2" y="475.1" width=".8" height=".8" fill-opacity="0.48"/><rect x="224.2" y="475.3" width=".8" height=".8" fill-opacity="0.75"/><rect x="225.2" y="475.2" width=".8" height=".8" fill-opacity="0.61"/><rect x="228.2" y="475.3" width=".8" height=".8" fill-opacity="0.86"/><rect x="229.3" y="475.2" width=".8" height=".8" fill-opacity="0.93"/><rect x="231.1" y="475.1" width=".8" height=".8" fill-opacity="0.76"/><rect x="249.2" y="475.1" width=".8" height=".8" fill-opacity="0.93"/><rect x="255.2" y="475.1" width=".8" height=".8" fill-opacity="0.54"/><rect x="218.0" y="476.2" width=".8" height=".8" fill-opacity="0.90"/><rect x="219.2" y="476.2" width=".8" height=".8" fill-opacity="0.58"/><rect x="220.2" y="476.2" width=".8" height=".8" fill-opacity="0.79"/><rect x="221.2" y="476.3" width=".8" height=".8" fill-opacity="0.70"/><rect x="223.1" y="476.1" width=".8" height=".8" fill-opacity="0.67"/><rect x="225.1" y="476.1" width=".8" height=".8" fill-opacity="0.79"/><rect x="227.2" y="476.1" width=".8" height=".8" fill-opacity="0.84"/><rect x="231.3" y="476.1" width=".8" height=".8" fill-opacity="0.85"/><rect x="249.1" y="476.0" width=".8" height=".8" fill-opacity="0.88"/><rect x="253.3" y="476.0" width=".8" height=".8" fill-opacity="0.91"/><rect x="218.1" y="477.0" width=".8" height=".8" fill-opacity="0.77"/><rect x="221.0" y="477.1" width=".8" height=".8" fill-opacity="0.80"/><rect x="222.1" y="477.1" width=".8" height=".8" fill-opacity="0.65"/><rect x="225.0" y="477.1" width=".8" height=".8" fill-opacity="0.84"/><rect x="231.3" y="477.2" width=".8" height=".8" fill-opacity="0.64"/><rect x="248.0" y="477.1" width=".8" height=".8" fill-opacity="0.79"/></g>
</g>
<rect x="203.0" y="413.8" width="63.30000000000001" height="63.80000000000001" fill="none" stroke="#999" stroke-width="0.7"/>
<line x1="227.5" y1="413.8" x2="227.5" y2="477.6" stroke="#777" stroke-width="0.8"/>
<line x1="203.0" y1="459.5" x2="266.3" y2="459.5" stroke="#777" stroke-width="0.8"/>
<text x="201.2" y="416.0" font-size="4.6" text-anchor="end" fill="#222" style="stroke-width:0.15px">10<tspan dy="-1.6" font-size="3.22">4</tspan></text>
<text x="201.2" y="431.15" font-size="4.6" text-anchor="end" fill="#222" style="stroke-width:0.15px">10<tspan dy="-1.6" font-size="3.22">3</tspan></text>
<text x="201.2" y="447.1" font-size="4.6" text-anchor="end" fill="#222" style="stroke-width:0.15px">10<tspan dy="-1.6" font-size="3.22">2</tspan></text>
<text x="201.2" y="461.5" font-size="4.6" text-anchor="end" fill="#222" style="stroke-width:0.15px">10<tspan dy="-1.6" font-size="3.22">1</tspan></text>
<text x="201.2" y="479.5" font-size="4.6" text-anchor="end" fill="#222" style="stroke-width:0.15px">10<tspan dy="-1.6" font-size="3.22">0</tspan></text>
<text x="217.892" y="484.6" font-size="4.6" text-anchor="middle" fill="#222" style="stroke-width:0.15px">10<tspan dy="-1.6" font-size="3.22">1</tspan></text>
<text x="233.084" y="484.6" font-size="4.6" text-anchor="middle" fill="#222" style="stroke-width:0.15px">10<tspan dy="-1.6" font-size="3.22">2</tspan></text>
<text x="248.276" y="484.6" font-size="4.6" text-anchor="middle" fill="#222" style="stroke-width:0.15px">10<tspan dy="-1.6" font-size="3.22">3</tspan></text>
<text x="263.468" y="484.6" font-size="4.6" text-anchor="middle" fill="#222" style="stroke-width:0.15px">10<tspan dy="-1.6" font-size="3.22">4</tspan></text>
<line x1="253.3" y1="413.8" x2="253.3" y2="433.3" stroke="#111" stroke-width="0.9"/>
<line x1="241.5" y1="423.6" x2="266.3" y2="423.6" stroke="#111" stroke-width="0.9"/>
<line x1="241.5" y1="430.3" x2="241.5" y2="419.3" stroke="#111" stroke-width="0.9"/>
<path d="M240.2,420.3 L241.5,417.6 L242.8,420.3 Z" fill="#111"/>
<line x1="245.3" y1="433.6" x2="259.5" y2="433.6" stroke="#111" stroke-width="1.0"/>
<path d="M258.7,432.2 L261.3,433.6 L258.7,435.0 Z" fill="#111"/>
<text x="250.7" y="421.0" font-size="4.8" text-anchor="end" fill="#111" style="stroke-width:0.18px">0.6</text>
<text x="254.3" y="421.0" font-size="4.8" text-anchor="start" fill="#111" style="stroke-width:0.18px">16.9</text>
<text x="251.1" y="429.40000000000003" font-size="4.8" text-anchor="end" fill="#111" style="stroke-width:0.18px">33.4</text>
<text x="254.3" y="429.40000000000003" font-size="4.8" text-anchor="start" fill="#111" style="stroke-width:0.18px">49.1</text>
<text x="291.5" y="408.8" font-size="9.9" text-anchor="start" fill="#111" textLength="63.0" lengthAdjust="spacingAndGlyphs">UNC1999 (SP)</text>
<text x="277.7" y="446.9" font-size="8.8" text-anchor="middle" fill="#111" textLength="18.3" lengthAdjust="spacingAndGlyphs" transform="rotate(-90 277.7 446.9)">c-Kit</text>
<line x1="275.0" y1="479.5" x2="275.0" y2="465.5" stroke="#111" stroke-width="0.9"/>
<path d="M273.4,466.5 L275.0,462.8 L276.6,466.5 Z" fill="#111"/>
<text x="312.5" y="494.0" font-size="7.0" text-anchor="start" fill="#111" textLength="41.3" lengthAdjust="spacingAndGlyphs">Gfp(MLL-AF9)</text>
<line x1="293.8" y1="492.4" x2="309.3" y2="492.4" stroke="#111" stroke-width="0.9"/>
<path d="M308.3,490.8 L311.3,492.4 L308.3,494 Z" fill="#111"/>
<clipPath id="cj4"><rect x="292.0" y="413.0" width="63.0" height="65.0"/></clipPath>
<g clip-path="url(#cj4)">
<rect x="292.0" y="413.0" width="63.0" height="65.0" fill="#fff"/>
<g filter="url(#bl2)"><rect x="328" y="442" width="5" height="1" fill="#303ea4"/><rect x="327" y="443" width="7" height="1" fill="#303ea4"/><rect x="326" y="444" width="9" height="1" fill="#303ea4"/><rect x="325" y="445" width="4" height="1" fill="#303ea4"/><rect x="329" y="445" width="2" height="1" fill="#3464c0"/><rect x="331" y="445" width="5" height="1" fill="#303ea4"/><rect x="324" y="446" width="3" height="1" fill="#303ea4"/><rect x="327" y="446" width="5" height="1" fill="#3464c0"/><rect x="332" y="446" width="4" height="1" fill="#303ea4"/><rect x="324" y="447" width="2" height="1" fill="#303ea4"/><rect x="326" y="447" width="7" height="1" fill="#3464c0"/><rect x="333" y="447" width="4" height="1" fill="#303ea4"/><rect x="323" y="448" width="3" height="1" fill="#303ea4"/><rect x="326" y="448" width="2" height="1" fill="#3464c0"/><rect x="328" y="448" width="3" height="1" fill="#4096ba"/><rect x="331" y="448" width="3" height="1" fill="#3464c0"/><rect x="334" y="448" width="3" height="1" fill="#303ea4"/><rect x="323" y="449" width="2" height="1" fill="#303ea4"/><rect x="325" y="449" width="2" height="1" fill="#3464c0"/><rect x="327" y="449" width="5" height="1" fill="#4096ba"/><rect x="332" y="449" width="2" height="1" fill="#3464c0"/><rect x="334" y="449" width="3" height="1" fill="#303ea4"/><rect x="322" y="450" width="3" height="1" fill="#303ea4"/><rect x="325" y="450" width="1" height="1" fill="#3464c0"/><rect x="326" y="450" width="2" height="1" fill="#4096ba"/><rect x="328" y="450" width="3" height="1" fill="#58b874"/><rect x="331" y="450" width="2" height="1" fill="#4096ba"/><rect x="333" y="450" width="1" height="1" fill="#3464c0"/><rect x="334" y="450" width="4" height="1" fill="#303ea4"/><rect x="322" y="451" width="3" height="1" fill="#303ea4"/><rect x="325" y="451" width="1" height="1" fill="#3464c0"/><rect x="326" y="451" width="1" height="1" fill="#4096ba"/><rect x="327" y="451" width="4" height="1" fill="#58b874"/><rect x="331" y="451" width="2" height="1" fill="#4096ba"/><rect x="333" y="451" width="2" height="1" fill="#3464c0"/><rect x="335" y="451" width="3" height="1" fill="#303ea4"/><rect x="322" y="452" width="2" height="1" fill="#303ea4"/><rect x="324" y="452" width="2" height="1" fill="#3464c0"/><rect x="326" y="452" width="1" height="1" fill="#4096ba"/><rect x="327" y="452" width="5" height="1" fill="#58b874"/><rect x="332" y="452" width="1" height="1" fill="#4096ba"/><rect x="333" y="452" width="2" height="1" fill="#3464c0"/><rect x="335" y="452" width="3" height="1" fill="#303ea4"/><rect x="322" y="453" width="2" height="1" fill="#303ea4"/><rect x="324" y="453" width="1" height="1" fill="#3464c0"/><rect x="325" y="453" width="2" height="1" fill="#4096ba"/><rect x="327" y="453" width="5" height="1" fill="#58b874"/><rect x="332" y="453" width="1" height="1" fill="#4096ba"/><rect x="333" y="453" width="2" height="1" fill="#3464c0"/><rect x="335" y="453" width="4" height="1" fill="#303ea4"/><rect x="321" y="454" width="3" height="1" fill="#303ea4"/><rect x="324" y="454" width="1" height="1" fill="#3464c0"/><rect x="325" y="454" width="1" height="1" fill="#4096ba"/><rect x="326" y="454" width="6" height="1" fill="#58b874"/><rect x="332" y="454" width="1" height="1" fill="#4096ba"/><rect x="333" y="454" width="2" height="1" fill="#3464c0"/><rect x="335" y="454" width="4" height="1" fill="#303ea4"/><rect x="321" y="455" width="3" height="1" fill="#303ea4"/><rect x="324" y="455" width="1" height="1" fill="#3464c0"/><rect x="325" y="455" width="1" height="1" fill="#4096ba"/><rect x="326" y="455" width="6" height="1" fill="#58b874"/><rect x="332" y="455" width="2" height="1" fill="#4096ba"/><rect x="334" y="455" width="1" height="1" fill="#3464c0"/><rect x="335" y="455" width="4" height="1" fill="#303ea4"/><rect x="321" y="456" width="2" height="1" fill="#303ea4"/><rect x="323" y="456" width="2" height="1" fill="#3464c0"/><rect x="325" y="456" width="1" height="1" fill="#4096ba"/><rect x="326" y="456" width="6" height="1" fill="#58b874"/><rect x="332" y="456" width="2" height="1" fill="#4096ba"/><rect x="334" y="456" width="2" height="1" fill="#3464c0"/><rect x="336" y="456" width="3" height="1" fill="#303ea4"/><rect x="321" y="457" width="2" height="1" fill="#303ea4"/><rect x="323" y="457" width="2" height="1" fill="#3464c0"/><rect x="325" y="457" width="1" height="1" fill="#4096ba"/><rect x="326" y="457" width="6" height="1" fill="#58b874"/><rect x="332" y="457" width="2" height="1" fill="#4096ba"/><rect x="334" y="457" width="2" height="1" fill="#3464c0"/><rect x="336" y="457" width="3" height="1" fill="#303ea4"/><rect x="320" y="458" width="3" height="1" fill="#303ea4"/><rect x="323" y="458" width="1" height="1" fill="#3464c0"/><rect x="324" y="458" width="2" height="1" fill="#4096ba"/><rect x="326" y="458" width="6" height="1" fill="#58b874"/><rect x="332" y="458" width="2" height="1" fill="#4096ba"/><rect x="334" y="458" width="2" height="1" fill="#3464c0"/><rect x="336" y="458" width="3" height="1" fill="#303ea4"/><rect x="320" y="459" width="3" height="1" fill="#303ea4"/><rect x="323" y="459" width="1" height="1" fill="#3464c0"/><rect x="324" y="459" width="2" height="1" fill="#4096ba"/><rect x="326" y="459" width="6" height="1" fill="#58b874"/><rect x="332" y="459" width="2" height="1" fill="#4096ba"/><rect x="334" y="459" width="2" height="1" fill="#3464c0"/><rect x="336" y="459" width="3" height="1" fill="#303ea4"/><rect x="320" y="460" width="3" height="1" fill="#303ea4"/><rect x="323" y="460" width="1" height="1" fill="#3464c0"/><rect x="324" y="460" width="1" height="1" fill="#4096ba"/><rect x="325" y="460" width="8" height="1" fill="#58b874"/><rect x="333" y="460" width="1" height="1" fill="#4096ba"/><rect x="334" y="460" width="2" height="1" fill="#3464c0"/><rect x="336" y="460" width="3" height="1" fill="#303ea4"/><rect x="320" y="461" width="2" height="1" fill="#303ea4"/><rect x="322" y="461" width="2" height="1" fill="#3464c0"/><rect x="324" y="461" width="1" height="1" fill="#4096ba"/><rect x="325" y="461" width="3" height="1" fill="#58b874"/><rect x="328" y="461" width="2" height="1" fill="#7ac44c"/><rect x="330" y="461" width="3" height="1" fill="#58b874"/><rect x="333" y="461" width="1" height="1" fill="#4096ba"/><rect x="334" y="461" width="2" height="1" fill="#3464c0"/><rect x="336" y="461" width="3" height="1" fill="#303ea4"/><rect x="320" y="462" width="2" height="1" fill="#303ea4"/><rect x="322" y="462" width="1" height="1" fill="#3464c0"/><rect x="323" y="462" width="2" height="1" fill="#4096ba"/><rect x="325" y="462" width="2" height="1" fill="#58b874"/><rect x="327" y="462" width="4" height="1" fill="#7ac44c"/><rect x="331" y="462" width="2" height="1" fill="#58b874"/><rect x="333" y="462" width="2" height="1" fill="#4096ba"/><rect x="335" y="462" width="1" height="1" fill="#3464c0"/><rect x="336" y="462" width="3" height="1" fill="#303ea4"/><rect x="296" y="463" width="5" height="1" fill="#303ea4"/><rect x="319" y="463" width="3" height="1" fill="#303ea4"/><rect x="322" y="463" width="1" height="1" fill="#3464c0"/><rect x="323" y="463" width="1" height="1" fill="#4096ba"/><rect x="324" y="463" width="2" height="1" fill="#58b874"/><rect x="326" y="463" width="5" height="1" fill="#7ac44c"/><rect x="331" y="463" width="3" height="1" fill="#58b874"/><rect x="334" y="463" width="1" height="1" fill="#4096ba"/><rect x="335" y="463" width="1" height="1" fill="#3464c0"/><rect x="336" y="463" width="3" height="1" fill="#303ea4"/><rect x="293" y="464" width="11" height="1" fill="#303ea4"/><rect x="319" y="464" width="3" height="1" fill="#303ea4"/><rect x="322" y="464" width="1" height="1" fill="#3464c0"/><rect x="323" y="464" width="1" height="1" fill="#4096ba"/><rect x="324" y="464" width="2" height="1" fill="#58b874"/><rect x="326" y="464" width="6" height="1" fill="#7ac44c"/><rect x="332" y="464" width="2" height="1" fill="#58b874"/><rect x="334" y="464" width="1" height="1" fill="#4096ba"/><rect x="335" y="464" width="1" height="1" fill="#3464c0"/><rect x="336" y="464" width="3" height="1" fill="#303ea4"/><rect x="292" y="465" width="3" height="1" fill="#303ea4"/><rect x="295" y="465" width="7" height="1" fill="#3464c0"/><rect x="302" y="465" width="3" height="1" fill="#303ea4"/><rect x="319" y="465" width="2" height="1" fill="#303ea4"/><rect x="321" y="465" width="2" height="1" fill="#3464c0"/><rect x="323" y="465" width="1" height="1" fill="#4096ba"/><rect x="324" y="465" width="1" height="1" fill="#58b874"/><rect x="325" y="465" width="7" height="1" fill="#7ac44c"/><rect x="332" y="465" width="2" height="1" fill="#58b874"/><rect x="334" y="465" width="1" height="1" fill="#4096ba"/><rect x="335" y="465" width="1" height="1" fill="#3464c0"/><rect x="336" y="465" width="3" height="1" fill="#303ea4"/><rect x="292" y="466" width="1" height="1" fill="#303ea4"/><rect x="293" y="466" width="2" height="1" fill="#3464c0"/><rect x="295" y="466" width="6" height="1" fill="#4096ba"/><rect x="301" y="466" width="3" height="1" fill="#3464c0"/><rect x="304" y="466" width="3" height="1" fill="#303ea4"/><rect x="319" y="466" width="2" height="1" fill="#303ea4"/><rect x="321" y="466" width="1" height="1" fill="#3464c0"/><rect x="322" y="466" width="1" height="1" fill="#4096ba"/><rect x="323" y="466" width="2" height="1" fill="#58b874"/><rect x="325" y="466" width="7" height="1" fill="#7ac44c"/><rect x="332" y="466" width="2" height="1" fill="#58b874"/><rect x="334" y="466" width="1" height="1" fill="#4096ba"/><rect x="335" y="466" width="1" height="1" fill="#3464c0"/><rect x="336" y="466" width="3" height="1" fill="#303ea4"/><rect x="292" y="467" width="1" height="1" fill="#3464c0"/><rect x="293" y="467" width="2" height="1" fill="#4096ba"/><rect x="295" y="467" width="6" height="1" fill="#58b874"/><rect x="301" y="467" width="2" height="1" fill="#4096ba"/><rect x="303" y="467" width="2" height="1" fill="#3464c0"/><rect x="305" y="467" width="2" height="1" fill="#303ea4"/><rect x="319" y="467" width="2" height="1" fill="#303ea4"/><rect x="321" y="467" width="1" height="1" fill="#3464c0"/><rect x="322" y="467" width="1" height="1" fill="#4096ba"/><rect x="323" y="467" width="2" height="1" fill="#58b874"/><rect x="325" y="467" width="2" height="1" fill="#7ac44c"/><rect x="327" y="467" width="3" height="1" fill="#ccd62c"/><rect x="330" y="467" width="3" height="1" fill="#7ac44c"/><rect x="333" y="467" width="1" height="1" fill="#58b874"/><rect x="334" y="467" width="1" height="1" fill="#4096ba"/><rect x="335" y="467" width="1" height="1" fill="#3464c0"/><rect x="336" y="467" width="3" height="1" fill="#303ea4"/><rect x="292" y="468" width="2" height="1" fill="#4096ba"/><rect x="294" y="468" width="9" height="1" fill="#58b874"/><rect x="303" y="468" width="1" height="1" fill="#4096ba"/><rect x="304" y="468" width="2" height="1" fill="#3464c0"/><rect x="306" y="468" width="2" height="1" fill="#303ea4"/><rect x="319" y="468" width="2" height="1" fill="#303ea4"/><rect x="321" y="468" width="1" height="1" fill="#3464c0"/><rect x="322" y="468" width="1" height="1" fill="#4096ba"/><rect x="323" y="468" width="2" height="1" fill="#58b874"/><rect x="325" y="468" width="2" height="1" fill="#7ac44c"/><rect x="327" y="468" width="3" height="1" fill="#ccd62c"/><rect x="330" y="468" width="3" height="1" fill="#7ac44c"/><rect x="333" y="468" width="1" height="1" fill="#58b874"/><rect x="334" y="468" width="1" height="1" fill="#4096ba"/><rect x="335" y="468" width="1" height="1" fill="#3464c0"/><rect x="336" y="468" width="3" height="1" fill="#303ea4"/><rect x="292" y="469" width="1" height="1" fill="#4096ba"/><rect x="293" y="469" width="2" height="1" fill="#58b874"/><rect x="295" y="469" width="6" height="1" fill="#7ac44c"/><rect x="301" y="469" width="3" height="1" fill="#58b874"/><rect x="304" y="469" width="1" height="1" fill="#4096ba"/><rect x="305" y="469" width="2" height="1" fill="#3464c0"/><rect x="307" y="469" width="2" height="1" fill="#303ea4"/><rect x="319" y="469" width="2" height="1" fill="#303ea4"/><rect x="321" y="469" width="1" height="1" fill="#3464c0"/><rect x="322" y="469" width="1" height="1" fill="#4096ba"/><rect x="323" y="469" width="2" height="1" fill="#58b874"/><rect x="325" y="469" width="2" height="1" fill="#7ac44c"/><rect x="327" y="469" width="3" height="1" fill="#ccd62c"/><rect x="330" y="469" width="3" height="1" fill="#7ac44c"/><rect x="333" y="469" width="1" height="1" fill="#58b874"/><rect x="334" y="469" width="1" height="1" fill="#4096ba"/><rect x="335" y="469" width="1" height="1" fill="#3464c0"/><rect x="336" y="469" width="2" height="1" fill="#303ea4"/><rect x="292" y="470" width="2" height="1" fill="#58b874"/><rect x="294" y="470" width="8" height="1" fill="#7ac44c"/><rect x="302" y="470" width="3" height="1" fill="#58b874"/><rect x="305" y="470" width="1" height="1" fill="#4096ba"/><rect x="306" y="470" width="1" height="1" fill="#3464c0"/><rect x="307" y="470" width="2" height="1" fill="#303ea4"/><rect x="319" y="470" width="2" height="1" fill="#303ea4"/><rect x="321" y="470" width="1" height="1" fill="#3464c0"/><rect x="322" y="470" width="1" height="1" fill="#4096ba"/><rect x="323" y="470" width="2" height="1" fill="#58b874"/><rect x="325" y="470" width="2" height="1" fill="#7ac44c"/><rect x="327" y="470" width="3" height="1" fill="#ccd62c"/><rect x="330" y="470" width="2" height="1" fill="#7ac44c"/><rect x="332" y="470" width="2" height="1" fill="#58b874"/><rect x="334" y="470" width="1" height="1" fill="#4096ba"/><rect x="335" y="470" width="1" height="1" fill="#3464c0"/><rect x="336" y="470" width="2" height="1" fill="#303ea4"/><rect x="292" y="471" width="2" height="1" fill="#58b874"/><rect x="294" y="471" width="9" height="1" fill="#7ac44c"/><rect x="303" y="471" width="2" height="1" fill="#58b874"/><rect x="305" y="471" width="1" height="1" fill="#4096ba"/><rect x="306" y="471" width="1" height="1" fill="#3464c0"/><rect x="307" y="471" width="2" height="1" fill="#303ea4"/><rect x="319" y="471" width="2" height="1" fill="#303ea4"/><rect x="321" y="471" width="1" height="1" fill="#3464c0"/><rect x="322" y="471" width="1" height="1" fill="#4096ba"/><rect x="323" y="471" width="2" height="1" fill="#58b874"/><rect x="325" y="471" width="7" height="1" fill="#7ac44c"/><rect x="332" y="471" width="2" height="1" fill="#58b874"/><rect x="334" y="471" width="1" height="1" fill="#4096ba"/><rect x="335" y="471" width="1" height="1" fill="#3464c0"/><rect x="336" y="471" width="2" height="1" fill="#303ea4"/><rect x="292" y="472" width="1" height="1" fill="#58b874"/><rect x="293" y="472" width="10" height="1" fill="#7ac44c"/><rect x="303" y="472" width="2" height="1" fill="#58b874"/><rect x="305" y="472" width="1" height="1" fill="#4096ba"/><rect x="306" y="472" width="2" height="1" fill="#3464c0"/><rect x="308" y="472" width="1" height="1" fill="#303ea4"/><rect x="319" y="472" width="2" height="1" fill="#303ea4"/><rect x="321" y="472" width="2" height="1" fill="#3464c0"/><rect x="323" y="472" width="1" height="1" fill="#4096ba"/><rect x="324" y="472" width="1" height="1" fill="#58b874"/><rect x="325" y="472" width="7" height="1" fill="#7ac44c"/><rect x="332" y="472" width="1" height="1" fill="#58b874"/><rect x="333" y="472" width="1" height="1" fill="#4096ba"/><rect x="334" y="472" width="2" height="1" fill="#3464c0"/><rect x="336" y="472" width="2" height="1" fill="#303ea4"/><rect x="292" y="473" width="1" height="1" fill="#58b874"/><rect x="293" y="473" width="10" height="1" fill="#7ac44c"/><rect x="303" y="473" width="2" height="1" fill="#58b874"/><rect x="305" y="473" width="1" height="1" fill="#4096ba"/><rect x="306" y="473" width="2" height="1" fill="#3464c0"/><rect x="308" y="473" width="1" height="1" fill="#303ea4"/><rect x="320" y="473" width="2" height="1" fill="#303ea4"/><rect x="322" y="473" width="1" height="1" fill="#3464c0"/><rect x="323" y="473" width="1" height="1" fill="#4096ba"/><rect x="324" y="473" width="2" height="1" fill="#58b874"/><rect x="326" y="473" width="5" height="1" fill="#7ac44c"/><rect x="331" y="473" width="2" height="1" fill="#58b874"/><rect x="333" y="473" width="1" height="1" fill="#4096ba"/><rect x="334" y="473" width="1" height="1" fill="#3464c0"/><rect x="335" y="473" width="2" height="1" fill="#303ea4"/><rect x="292" y="474" width="2" height="1" fill="#58b874"/><rect x="294" y="474" width="9" height="1" fill="#7ac44c"/><rect x="303" y="474" width="2" height="1" fill="#58b874"/><rect x="305" y="474" width="1" height="1" fill="#4096ba"/><rect x="306" y="474" width="1" height="1" fill="#3464c0"/><rect x="307" y="474" width="2" height="1" fill="#303ea4"/><rect x="320" y="474" width="2" height="1" fill="#303ea4"/><rect x="322" y="474" width="1" height="1" fill="#3464c0"/><rect x="323" y="474" width="1" height="1" fill="#4096ba"/><rect x="324" y="474" width="2" height="1" fill="#58b874"/><rect x="326" y="474" width="4" height="1" fill="#7ac44c"/><rect x="330" y="474" width="2" height="1" fill="#58b874"/><rect x="332" y="474" width="2" height="1" fill="#4096ba"/><rect x="334" y="474" width="1" height="1" fill="#3464c0"/><rect x="335" y="474" width="2" height="1" fill="#303ea4"/><rect x="292" y="475" width="2" height="1" fill="#58b874"/><rect x="294" y="475" width="8" height="1" fill="#7ac44c"/><rect x="302" y="475" width="3" height="1" fill="#58b874"/><rect x="305" y="475" width="1" height="1" fill="#4096ba"/><rect x="306" y="475" width="1" height="1" fill="#3464c0"/><rect x="307" y="475" width="2" height="1" fill="#303ea4"/><rect x="320" y="475" width="2" height="1" fill="#303ea4"/><rect x="322" y="475" width="2" height="1" fill="#3464c0"/><rect x="324" y="475" width="1" height="1" fill="#4096ba"/><rect x="325" y="475" width="7" height="1" fill="#58b874"/><rect x="332" y="475" width="1" height="1" fill="#4096ba"/><rect x="333" y="475" width="1" height="1" fill="#3464c0"/><rect x="334" y="475" width="3" height="1" fill="#303ea4"/><rect x="292" y="476" width="1" height="1" fill="#4096ba"/><rect x="293" y="476" width="2" height="1" fill="#58b874"/><rect x="295" y="476" width="6" height="1" fill="#7ac44c"/><rect x="301" y="476" width="3" height="1" fill="#58b874"/><rect x="304" y="476" width="1" height="1" fill="#4096ba"/><rect x="305" y="476" width="2" height="1" fill="#3464c0"/><rect x="307" y="476" width="2" height="1" fill="#303ea4"/><rect x="320" y="476" width="3" height="1" fill="#303ea4"/><rect x="323" y="476" width="1" height="1" fill="#3464c0"/><rect x="324" y="476" width="2" height="1" fill="#4096ba"/><rect x="326" y="476" width="5" height="1" fill="#58b874"/><rect x="331" y="476" width="1" height="1" fill="#4096ba"/><rect x="332" y="476" width="2" height="1" fill="#3464c0"/><rect x="334" y="476" width="2" height="1" fill="#303ea4"/><rect x="292" y="477" width="2" height="1" fill="#4096ba"/><rect x="294" y="477" width="9" height="1" fill="#58b874"/><rect x="303" y="477" width="1" height="1" fill="#4096ba"/><rect x="304" y="477" width="2" height="1" fill="#3464c0"/><rect x="306" y="477" width="2" height="1" fill="#303ea4"/><rect x="321" y="477" width="2" height="1" fill="#303ea4"/><rect x="323" y="477" width="2" height="1" fill="#3464c0"/><rect x="325" y="477" width="6" height="1" fill="#4096ba"/><rect x="331" y="477" width="2" height="1" fill="#3464c0"/><rect x="333" y="477" width="3" height="1" fill="#303ea4"/></g>
<g fill="#505abe"><rect x="324.0" y="432.3" width=".8" height=".8" fill-opacity="0.72"/><rect x="332.0" y="435.2" width=".8" height=".8" fill-opacity="0.88"/><rect x="343.2" y="435.1" width=".8" height=".8" fill-opacity="0.76"/><rect x="333.1" y="436.1" width=".8" height=".8" fill-opacity="0.90"/><rect x="336.1" y="436.1" width=".8" height=".8" fill-opacity="0.81"/><rect x="309.1" y="437.3" width=".8" height=".8" fill-opacity="0.87"/><rect x="322.1" y="437.2" width=".8" height=".8" fill-opacity="0.58"/><rect x="325.2" y="438.2" width=".8" height=".8" fill-opacity="0.90"/><rect x="329.2" y="438.1" width=".8" height=".8" fill-opacity="0.52"/><rect x="330.3" y="438.0" width=".8" height=".8" fill-opacity="0.79"/><rect x="332.2" y="438.1" width=".8" height=".8" fill-opacity="0.65"/><rect x="333.2" y="438.2" width=".8" height=".8" fill-opacity="0.82"/><rect x="335.2" y="438.2" width=".8" height=".8" fill-opacity="0.66"/><rect x="326.2" y="439.0" width=".8" height=".8" fill-opacity="0.82"/><rect x="329.2" y="439.0" width=".8" height=".8" fill-opacity="0.86"/><rect x="323.0" y="440.1" width=".8" height=".8" fill-opacity="0.86"/><rect x="327.1" y="440.2" width=".8" height=".8" fill-opacity="0.92"/><rect x="329.0" y="440.2" width=".8" height=".8" fill-opacity="0.69"/><rect x="332.2" y="440.0" width=".8" height=".8" fill-opacity="0.76"/><rect x="333.0" y="440.1" width=".8" height=".8" fill-opacity="0.82"/><rect x="325.2" y="441.2" width=".8" height=".8" fill-opacity="0.77"/><rect x="326.3" y="441.2" width=".8" height=".8" fill-opacity="0.86"/><rect x="327.3" y="441.1" width=".8" height=".8" fill-opacity="0.77"/><rect x="328.1" y="441.0" width=".8" height=".8" fill-opacity="0.52"/><rect x="329.1" y="441.2" width=".8" height=".8" fill-opacity="0.47"/><rect x="331.1" y="441.2" width=".8" height=".8" fill-opacity="0.52"/><rect x="333.3" y="441.1" width=".8" height=".8" fill-opacity="0.90"/><rect x="334.0" y="441.2" width=".8" height=".8" fill-opacity="0.70"/><rect x="335.0" y="441.1" width=".8" height=".8" fill-opacity="0.67"/><rect x="337.0" y="441.0" width=".8" height=".8" fill-opacity="0.67"/><rect x="338.1" y="441.3" width=".8" height=".8" fill-opacity="0.79"/><rect x="310.2" y="442.3" width=".8" height=".8" fill-opacity="0.46"/><rect x="320.2" y="442.1" width=".8" height=".8" fill-opacity="0.46"/><rect x="324.2" y="442.2" width=".8" height=".8" fill-opacity="0.48"/><rect x="327.3" y="442.2" width=".8" height=".8" fill-opacity="0.72"/><rect x="333.2" y="442.1" width=".8" height=".8" fill-opacity="0.57"/><rect x="334.1" y="442.2" width=".8" height=".8" fill-opacity="0.54"/><rect x="335.0" y="442.0" width=".8" height=".8" fill-opacity="0.52"/><rect x="336.0" y="442.0" width=".8" height=".8" fill-opacity="0.59"/><rect x="305.3" y="443.2" width=".8" height=".8" fill-opacity="0.67"/><rect x="324.2" y="443.1" width=".8" height=".8" fill-opacity="0.94"/><rect x="326.1" y="443.0" width=".8" height=".8" fill-opacity="0.82"/><rect x="334.2" y="443.1" width=".8" height=".8" fill-opacity="0.53"/><rect x="335.2" y="443.3" width=".8" height=".8" fill-opacity="0.64"/><rect x="338.2" y="443.3" width=".8" height=".8" fill-opacity="0.48"/><rect x="340.1" y="443.0" width=".8" height=".8" fill-opacity="0.89"/><rect x="324.0" y="444.3" width=".8" height=".8" fill-opacity="0.68"/><rect x="325.2" y="444.2" width=".8" height=".8" fill-opacity="0.65"/><rect x="335.0" y="444.2" width=".8" height=".8" fill-opacity="0.63"/><rect x="312.3" y="445.0" width=".8" height=".8" fill-opacity="0.75"/><rect x="323.2" y="445.1" width=".8" height=".8" fill-opacity="0.87"/><rect x="336.2" y="445.1" width=".8" height=".8" fill-opacity="0.51"/><rect x="337.1" y="445.2" width=".8" height=".8" fill-opacity="0.81"/><rect x="310.1" y="446.0" width=".8" height=".8" fill-opacity="0.50"/><rect x="319.2" y="446.2" width=".8" height=".8" fill-opacity="0.73"/><rect x="322.3" y="446.0" width=".8" height=".8" fill-opacity="0.84"/><rect x="336.2" y="446.2" width=".8" height=".8" fill-opacity="0.74"/><rect x="337.1" y="446.2" width=".8" height=".8" fill-opacity="0.66"/><rect x="338.2" y="446.2" width=".8" height=".8" fill-opacity="0.47"/><rect x="319.2" y="447.1" width=".8" height=".8" fill-opacity="0.58"/><rect x="322.1" y="447.1" width=".8" height=".8" fill-opacity="0.51"/><rect x="323.3" y="447.1" width=".8" height=".8" fill-opacity="0.48"/><rect x="337.0" y="447.0" width=".8" height=".8" fill-opacity="0.95"/><rect x="338.3" y="447.3" width=".8" height=".8" fill-opacity="0.62"/><rect x="339.2" y="447.1" width=".8" height=".8" fill-opacity="0.57"/><rect x="342.3" y="447.1" width=".8" height=".8" fill-opacity="0.94"/><rect x="319.2" y="448.2" width=".8" height=".8" fill-opacity="0.52"/><rect x="321.3" y="448.2" width=".8" height=".8" fill-opacity="0.68"/><rect x="322.2" y="448.3" width=".8" height=".8" fill-opacity="0.46"/><rect x="337.1" y="448.3" width=".8" height=".8" fill-opacity="0.65"/><rect x="308.2" y="449.0" width=".8" height=".8" fill-opacity="0.67"/><rect x="313.2" y="449.1" width=".8" height=".8" fill-opacity="0.47"/><rect x="322.0" y="449.1" width=".8" height=".8" fill-opacity="0.50"/><rect x="337.0" y="449.2" width=".8" height=".8" fill-opacity="0.94"/><rect x="309.1" y="450.1" width=".8" height=".8" fill-opacity="0.90"/><rect x="313.0" y="450.2" width=".8" height=".8" fill-opacity="0.52"/><rect x="314.2" y="450.0" width=".8" height=".8" fill-opacity="0.58"/><rect x="321.1" y="450.2" width=".8" height=".8" fill-opacity="0.70"/><rect x="338.3" y="450.1" width=".8" height=".8" fill-opacity="0.58"/><rect x="339.1" y="450.2" width=".8" height=".8" fill-opacity="0.77"/><rect x="302.1" y="451.2" width=".8" height=".8" fill-opacity="0.57"/><rect x="314.0" y="451.2" width=".8" height=".8" fill-opacity="0.95"/><rect x="319.1" y="451.0" width=".8" height=".8" fill-opacity="0.47"/><rect x="320.1" y="451.3" width=".8" height=".8" fill-opacity="0.56"/><rect x="340.2" y="451.2" width=".8" height=".8" fill-opacity="0.92"/><rect x="306.0" y="452.0" width=".8" height=".8" fill-opacity="0.63"/><rect x="308.2" y="452.0" width=".8" height=".8" fill-opacity="0.68"/><rect x="320.3" y="452.1" width=".8" height=".8" fill-opacity="0.46"/><rect x="321.2" y="452.1" width=".8" height=".8" fill-opacity="0.84"/><rect x="338.2" y="452.1" width=".8" height=".8" fill-opacity="0.93"/><rect x="339.3" y="452.1" width=".8" height=".8" fill-opacity="0.80"/><rect x="340.3" y="452.2" width=".8" height=".8" fill-opacity="0.85"/><rect x="344.1" y="452.2" width=".8" height=".8" fill-opacity="0.54"/><rect x="306.1" y="453.1" width=".8" height=".8" fill-opacity="0.68"/><rect x="311.1" y="453.2" width=".8" height=".8" fill-opacity="0.51"/><rect x="312.1" y="453.0" width=".8" height=".8" fill-opacity="0.46"/><rect x="314.2" y="453.1" width=".8" height=".8" fill-opacity="0.91"/><rect x="320.2" y="453.2" width=".8" height=".8" fill-opacity="0.84"/><rect x="321.2" y="453.0" width=".8" height=".8" fill-opacity="0.94"/><rect x="339.2" y="453.2" width=".8" height=".8" fill-opacity="0.47"/><rect x="340.1" y="453.3" width=".8" height=".8" fill-opacity="0.78"/><rect x="307.2" y="454.3" width=".8" height=".8" fill-opacity="0.84"/><rect x="309.1" y="454.0" width=".8" height=".8" fill-opacity="0.74"/><rect x="310.1" y="454.3" width=".8" height=".8" fill-opacity="0.72"/><rect x="320.3" y="454.2" width=".8" height=".8" fill-opacity="0.94"/><rect x="340.1" y="454.3" width=".8" height=".8" fill-opacity="0.83"/><rect x="341.2" y="454.1" width=".8" height=".8" fill-opacity="0.76"/><rect x="308.3" y="455.1" width=".8" height=".8" fill-opacity="0.64"/><rect x="312.2" y="455.2" width=".8" height=".8" fill-opacity="0.90"/><rect x="313.1" y="455.0" width=".8" height=".8" fill-opacity="0.79"/><rect x="319.1" y="455.2" width=".8" height=".8" fill-opacity="0.85"/><rect x="320.1" y="455.1" width=".8" height=".8" fill-opacity="0.48"/><rect x="339.0" y="455.1" width=".8" height=".8" fill-opacity="0.70"/><rect x="310.1" y="456.0" width=".8" height=".8" fill-opacity="0.46"/><rect x="318.3" y="456.1" width=".8" height=".8" fill-opacity="0.67"/><rect x="320.1" y="456.2" width=".8" height=".8" fill-opacity="0.74"/><rect x="339.2" y="456.2" width=".8" height=".8" fill-opacity="0.46"/><rect x="307.3" y="457.1" width=".8" height=".8" fill-opacity="0.74"/><rect x="308.1" y="457.1" width=".8" height=".8" fill-opacity="0.53"/><rect x="309.1" y="457.3" width=".8" height=".8" fill-opacity="0.67"/><rect x="310.1" y="457.2" width=".8" height=".8" fill-opacity="0.85"/><rect x="311.1" y="457.1" width=".8" height=".8" fill-opacity="0.85"/><rect x="319.2" y="457.3" width=".8" height=".8" fill-opacity="0.50"/><rect x="339.1" y="457.1" width=".8" height=".8" fill-opacity="0.80"/><rect x="305.2" y="458.2" width=".8" height=".8" fill-opacity="0.58"/><rect x="306.2" y="458.3" width=".8" height=".8" fill-opacity="0.83"/><rect x="307.2" y="458.2" width=".8" height=".8" fill-opacity="0.46"/><rect x="310.1" y="458.3" width=".8" height=".8" fill-opacity="0.67"/><rect x="316.0" y="458.1" width=".8" height=".8" fill-opacity="0.86"/><rect x="339.2" y="458.0" width=".8" height=".8" fill-opacity="0.73"/><rect x="340.1" y="458.1" width=".8" height=".8" fill-opacity="0.60"/><rect x="344.1" y="458.2" width=".8" height=".8" fill-opacity="0.56"/><rect x="306.3" y="459.1" width=".8" height=".8" fill-opacity="0.62"/><rect x="315.2" y="459.3" width=".8" height=".8" fill-opacity="0.56"/><rect x="317.2" y="459.2" width=".8" height=".8" fill-opacity="0.54"/><rect x="319.0" y="459.1" width=".8" height=".8" fill-opacity="0.72"/><rect x="339.3" y="459.2" width=".8" height=".8" fill-opacity="0.57"/><rect x="302.1" y="460.1" width=".8" height=".8" fill-opacity="0.79"/><rect x="305.2" y="460.1" width=".8" height=".8" fill-opacity="0.76"/><rect x="308.2" y="460.2" width=".8" height=".8" fill-opacity="0.77"/><rect x="309.1" y="460.0" width=".8" height=".8" fill-opacity="0.68"/><rect x="310.2" y="460.3" width=".8" height=".8" fill-opacity="0.80"/><rect x="311.3" y="460.2" width=".8" height=".8" fill-opacity="0.62"/><rect x="314.2" y="460.1" width=".8" height=".8" fill-opacity="0.90"/><rect x="315.2" y="460.2" width=".8" height=".8" fill-opacity="0.56"/><rect x="316.0" y="460.3" width=".8" height=".8" fill-opacity="0.70"/><rect x="339.0" y="460.0" width=".8" height=".8" fill-opacity="0.55"/><rect x="341.0" y="460.2" width=".8" height=".8" fill-opacity="0.70"/><rect x="344.1" y="460.0" width=".8" height=".8" fill-opacity="0.89"/><rect x="299.1" y="461.2" width=".8" height=".8" fill-opacity="0.55"/><rect x="305.2" y="461.2" width=".8" height=".8" fill-opacity="0.61"/><rect x="310.0" y="461.0" width=".8" height=".8" fill-opacity="0.83"/><rect x="311.3" y="461.3" width=".8" height=".8" fill-opacity="0.69"/><rect x="314.2" y="461.2" width=".8" height=".8" fill-opacity="0.57"/><rect x="317.2" y="461.2" width=".8" height=".8" fill-opacity="0.66"/><rect x="319.1" y="461.1" width=".8" height=".8" fill-opacity="0.95"/><rect x="339.0" y="461.0" width=".8" height=".8" fill-opacity="0.54"/><rect x="340.1" y="461.3" width=".8" height=".8" fill-opacity="0.58"/><rect x="298.2" y="462.0" width=".8" height=".8" fill-opacity="0.53"/><rect x="299.3" y="462.1" width=".8" height=".8" fill-opacity="0.91"/><rect x="304.2" y="462.2" width=".8" height=".8" fill-opacity="0.69"/><rect x="305.1" y="462.1" width=".8" height=".8" fill-opacity="0.54"/><rect x="306.2" y="462.1" width=".8" height=".8" fill-opacity="0.50"/><rect x="307.3" y="462.1" width=".8" height=".8" fill-opacity="0.57"/><rect x="308.1" y="462.1" width=".8" height=".8" fill-opacity="0.54"/><rect x="309.3" y="462.0" width=".8" height=".8" fill-opacity="0.92"/><rect x="313.2" y="462.1" width=".8" height=".8" fill-opacity="0.65"/><rect x="316.2" y="462.1" width=".8" height=".8" fill-opacity="0.92"/><rect x="318.2" y="462.1" width=".8" height=".8" fill-opacity="0.49"/><rect x="319.1" y="462.1" width=".8" height=".8" fill-opacity="0.69"/><rect x="339.1" y="462.3" width=".8" height=".8" fill-opacity="0.87"/><rect x="340.1" y="462.0" width=".8" height=".8" fill-opacity="0.63"/><rect x="292.2" y="463.1" width=".8" height=".8" fill-opacity="0.60"/><rect x="293.3" y="463.2" width=".8" height=".8" fill-opacity="0.45"/><rect x="301.2" y="463.0" width=".8" height=".8" fill-opacity="0.47"/><rect x="303.3" y="463.3" width=".8" height=".8" fill-opacity="0.95"/><rect x="307.3" y="463.2" width=".8" height=".8" fill-opacity="0.59"/><rect x="308.1" y="463.1" width=".8" height=".8" fill-opacity="0.85"/><rect x="309.1" y="463.2" width=".8" height=".8" fill-opacity="0.54"/><rect x="310.1" y="463.0" width=".8" height=".8" fill-opacity="0.67"/><rect x="311.1" y="463.2" width=".8" height=".8" fill-opacity="0.95"/><rect x="316.2" y="463.2" width=".8" height=".8" fill-opacity="0.53"/><rect x="317.0" y="463.0" width=".8" height=".8" fill-opacity="0.50"/><rect x="339.2" y="463.3" width=".8" height=".8" fill-opacity="0.54"/><rect x="292.2" y="464.3" width=".8" height=".8" fill-opacity="0.50"/><rect x="304.2" y="464.2" width=".8" height=".8" fill-opacity="0.79"/><rect x="305.2" y="464.2" width=".8" height=".8" fill-opacity="0.90"/><rect x="306.2" y="464.3" width=".8" height=".8" fill-opacity="0.79"/><rect x="309.1" y="464.1" width=".8" height=".8" fill-opacity="0.59"/><rect x="312.1" y="464.0" width=".8" height=".8" fill-opacity="0.91"/><rect x="315.1" y="464.3" width=".8" height=".8" fill-opacity="0.71"/><rect x="317.0" y="464.3" width=".8" height=".8" fill-opacity="0.76"/><rect x="318.3" y="464.2" width=".8" height=".8" fill-opacity="0.60"/><rect x="339.0" y="464.2" width=".8" height=".8" fill-opacity="0.71"/><rect x="305.3" y="465.1" width=".8" height=".8" fill-opacity="0.60"/><rect x="306.2" y="465.1" width=".8" height=".8" fill-opacity="0.47"/><rect x="310.0" y="465.3" width=".8" height=".8" fill-opacity="0.48"/><rect x="313.3" y="465.0" width=".8" height=".8" fill-opacity="0.45"/><rect x="315.2" y="465.1" width=".8" height=".8" fill-opacity="0.94"/><rect x="317.1" y="465.2" width=".8" height=".8" fill-opacity="0.63"/><rect x="318.1" y="465.3" width=".8" height=".8" fill-opacity="0.76"/><rect x="339.1" y="465.0" width=".8" height=".8" fill-opacity="0.89"/><rect x="307.1" y="466.2" width=".8" height=".8" fill-opacity="0.85"/><rect x="308.3" y="466.1" width=".8" height=".8" fill-opacity="0.61"/><rect x="309.0" y="466.1" width=".8" height=".8" fill-opacity="0.85"/><rect x="310.2" y="466.2" width=".8" height=".8" fill-opacity="0.68"/><rect x="311.1" y="466.1" width=".8" height=".8" fill-opacity="0.81"/><rect x="313.1" y="466.2" width=".8" height=".8" fill-opacity="0.69"/><rect x="314.2" y="466.2" width=".8" height=".8" fill-opacity="0.51"/><rect x="315.2" y="466.2" width=".8" height=".8" fill-opacity="0.59"/><rect x="316.1" y="466.1" width=".8" height=".8" fill-opacity="0.59"/><rect x="339.1" y="466.3" width=".8" height=".8" fill-opacity="0.88"/><rect x="341.2" y="466.1" width=".8" height=".8" fill-opacity="0.82"/><rect x="307.2" y="467.2" width=".8" height=".8" fill-opacity="0.77"/><rect x="308.1" y="467.1" width=".8" height=".8" fill-opacity="0.71"/><rect x="309.1" y="467.3" width=".8" height=".8" fill-opacity="0.90"/><rect x="311.3" y="467.0" width=".8" height=".8" fill-opacity="0.53"/><rect x="315.2" y="467.0" width=".8" height=".8" fill-opacity="0.77"/><rect x="318.1" y="467.2" width=".8" height=".8" fill-opacity="0.90"/><rect x="339.1" y="467.3" width=".8" height=".8" fill-opacity="0.90"/><rect x="340.0" y="467.0" width=".8" height=".8" fill-opacity="0.77"/><rect x="308.0" y="468.2" width=".8" height=".8" fill-opacity="0.49"/><rect x="309.2" y="468.3" width=".8" height=".8" fill-opacity="0.47"/><rect x="312.2" y="468.1" width=".8" height=".8" fill-opacity="0.66"/><rect x="313.0" y="468.0" width=".8" height=".8" fill-opacity="0.63"/><rect x="317.0" y="468.0" width=".8" height=".8" fill-opacity="0.46"/><rect x="318.1" y="468.1" width=".8" height=".8" fill-opacity="0.92"/><rect x="342.0" y="468.3" width=".8" height=".8" fill-opacity="0.72"/><rect x="309.2" y="469.0" width=".8" height=".8" fill-opacity="0.77"/><rect x="311.2" y="469.2" width=".8" height=".8" fill-opacity="0.69"/><rect x="312.0" y="469.0" width=".8" height=".8" fill-opacity="0.79"/><rect x="314.3" y="469.2" width=".8" height=".8" fill-opacity="0.53"/><rect x="318.2" y="469.1" width=".8" height=".8" fill-opacity="0.66"/><rect x="338.1" y="469.2" width=".8" height=".8" fill-opacity="0.58"/><rect x="339.3" y="469.0" width=".8" height=".8" fill-opacity="0.55"/><rect x="309.1" y="470.1" width=".8" height=".8" fill-opacity="0.62"/><rect x="310.1" y="470.0" width=".8" height=".8" fill-opacity="0.62"/><rect x="312.2" y="470.2" width=".8" height=".8" fill-opacity="0.72"/><rect x="338.1" y="470.1" width=".8" height=".8" fill-opacity="0.91"/><rect x="309.2" y="471.0" width=".8" height=".8" fill-opacity="0.57"/><rect x="310.1" y="471.2" width=".8" height=".8" fill-opacity="0.84"/><rect x="311.3" y="471.1" width=".8" height=".8" fill-opacity="0.66"/><rect x="314.2" y="471.3" width=".8" height=".8" fill-opacity="0.76"/><rect x="316.1" y="471.1" width=".8" height=".8" fill-opacity="0.82"/><rect x="318.1" y="471.2" width=".8" height=".8" fill-opacity="0.88"/><rect x="309.1" y="472.3" width=".8" height=".8" fill-opacity="0.59"/><rect x="310.2" y="472.1" width=".8" height=".8" fill-opacity="0.84"/><rect x="311.2" y="472.2" width=".8" height=".8" fill-opacity="0.58"/><rect x="312.0" y="472.2" width=".8" height=".8" fill-opacity="0.70"/><rect x="317.1" y="472.0" width=".8" height=".8" fill-opacity="0.70"/><rect x="318.1" y="472.1" width=".8" height=".8" fill-opacity="0.86"/><rect x="339.2" y="472.0" width=".8" height=".8" fill-opacity="0.53"/><rect x="344.0" y="472.3" width=".8" height=".8" fill-opacity="0.56"/><rect x="309.2" y="473.3" width=".8" height=".8" fill-opacity="0.56"/><rect x="310.3" y="473.0" width=".8" height=".8" fill-opacity="0.49"/><rect x="312.0" y="473.3" width=".8" height=".8" fill-opacity="0.79"/><rect x="314.2" y="473.3" width=".8" height=".8" fill-opacity="0.68"/><rect x="315.1" y="473.1" width=".8" height=".8" fill-opacity="0.83"/><rect x="316.1" y="473.0" width=".8" height=".8" fill-opacity="0.75"/><rect x="319.1" y="473.2" width=".8" height=".8" fill-opacity="0.71"/><rect x="337.2" y="473.2" width=".8" height=".8" fill-opacity="0.57"/><rect x="339.0" y="473.1" width=".8" height=".8" fill-opacity="0.61"/><rect x="309.3" y="474.2" width=".8" height=".8" fill-opacity="0.78"/><rect x="310.1" y="474.2" width=".8" height=".8" fill-opacity="0.94"/><rect x="311.0" y="474.3" width=".8" height=".8" fill-opacity="0.62"/><rect x="312.0" y="474.0" width=".8" height=".8" fill-opacity="0.68"/><rect x="313.1" y="474.0" width=".8" height=".8" fill-opacity="0.81"/><rect x="314.1" y="474.2" width=".8" height=".8" fill-opacity="0.67"/><rect x="316.2" y="474.1" width=".8" height=".8" fill-opacity="0.79"/><rect x="318.1" y="474.3" width=".8" height=".8" fill-opacity="0.94"/><rect x="337.2" y="474.3" width=".8" height=".8" fill-opacity="0.95"/><rect x="338.2" y="474.3" width=".8" height=".8" fill-opacity="0.71"/><rect x="342.0" y="474.2" width=".8" height=".8" fill-opacity="0.55"/><rect x="309.2" y="475.0" width=".8" height=".8" fill-opacity="0.72"/><rect x="310.1" y="475.2" width=".8" height=".8" fill-opacity="0.74"/><rect x="312.2" y="475.2" width=".8" height=".8" fill-opacity="0.75"/><rect x="313.0" y="475.2" width=".8" height=".8" fill-opacity="0.79"/><rect x="315.1" y="475.2" width=".8" height=".8" fill-opacity="0.87"/><rect x="337.1" y="475.0" width=".8" height=".8" fill-opacity="0.47"/><rect x="309.2" y="476.0" width=".8" height=".8" fill-opacity="0.91"/><rect x="310.0" y="476.1" width=".8" height=".8" fill-opacity="0.89"/><rect x="312.3" y="476.1" width=".8" height=".8" fill-opacity="0.91"/><rect x="316.2" y="476.2" width=".8" height=".8" fill-opacity="0.56"/><rect x="317.2" y="476.0" width=".8" height=".8" fill-opacity="0.69"/><rect x="308.0" y="477.1" width=".8" height=".8" fill-opacity="0.87"/><rect x="310.2" y="477.1" width=".8" height=".8" fill-opacity="0.61"/><rect x="312.2" y="477.1" width=".8" height=".8" fill-opacity="0.89"/><rect x="314.3" y="477.0" width=".8" height=".8" fill-opacity="0.91"/><rect x="315.2" y="477.1" width=".8" height=".8" fill-opacity="0.49"/><rect x="316.2" y="477.2" width=".8" height=".8" fill-opacity="0.87"/><rect x="318.2" y="477.3" width=".8" height=".8" fill-opacity="0.52"/><rect x="319.0" y="477.1" width=".8" height=".8" fill-opacity="0.81"/><rect x="320.2" y="477.1" width=".8" height=".8" fill-opacity="0.77"/></g>
</g>
<rect x="292.0" y="413.0" width="63.0" height="65.0" fill="none" stroke="#999" stroke-width="0.7"/>
<line x1="316.3" y1="413.0" x2="316.3" y2="478.0" stroke="#777" stroke-width="0.8"/>
<line x1="292.0" y1="459.3" x2="355.0" y2="459.3" stroke="#777" stroke-width="0.8"/>
<text x="290.2" y="415.2" font-size="4.6" text-anchor="end" fill="#222" style="stroke-width:0.15px">10<tspan dy="-1.6" font-size="3.22">4</tspan></text>
<text x="290.2" y="430.65" font-size="4.6" text-anchor="end" fill="#222" style="stroke-width:0.15px">10<tspan dy="-1.6" font-size="3.22">3</tspan></text>
<text x="290.2" y="446.9" font-size="4.6" text-anchor="end" fill="#222" style="stroke-width:0.15px">10<tspan dy="-1.6" font-size="3.22">2</tspan></text>
<text x="290.2" y="461.3" font-size="4.6" text-anchor="end" fill="#222" style="stroke-width:0.15px">10<tspan dy="-1.6" font-size="3.22">1</tspan></text>
<text x="290.2" y="479.9" font-size="4.6" text-anchor="end" fill="#222" style="stroke-width:0.15px">10<tspan dy="-1.6" font-size="3.22">0</tspan></text>
<text x="306.82" y="485.0" font-size="4.6" text-anchor="middle" fill="#222" style="stroke-width:0.15px">10<tspan dy="-1.6" font-size="3.22">1</tspan></text>
<text x="321.94" y="485.0" font-size="4.6" text-anchor="middle" fill="#222" style="stroke-width:0.15px">10<tspan dy="-1.6" font-size="3.22">2</tspan></text>
<text x="337.06" y="485.0" font-size="4.6" text-anchor="middle" fill="#222" style="stroke-width:0.15px">10<tspan dy="-1.6" font-size="3.22">3</tspan></text>
<text x="352.18" y="485.0" font-size="4.6" text-anchor="middle" fill="#222" style="stroke-width:0.15px">10<tspan dy="-1.6" font-size="3.22">4</tspan></text>
<line x1="342.0" y1="413.0" x2="342.0" y2="432.5" stroke="#111" stroke-width="0.9"/>
<line x1="330.2" y1="422.8" x2="355.0" y2="422.8" stroke="#111" stroke-width="0.9"/>
<line x1="330.2" y1="429.5" x2="330.2" y2="418.5" stroke="#111" stroke-width="0.9"/>
<path d="M328.9,419.5 L330.2,416.8 L331.5,419.5 Z" fill="#111"/>
<line x1="334.0" y1="432.8" x2="348.2" y2="432.8" stroke="#111" stroke-width="1.0"/>
<path d="M347.4,431.4 L350.0,432.8 L347.4,434.2 Z" fill="#111"/>
<text x="339.4" y="420.2" font-size="4.8" text-anchor="end" fill="#111" style="stroke-width:0.18px">0.7</text>
<text x="343.0" y="420.2" font-size="4.8" text-anchor="start" fill="#111" style="stroke-width:0.18px">13.6</text>
<text x="339.8" y="428.6" font-size="4.8" text-anchor="end" fill="#111" style="stroke-width:0.18px">44.8</text>
<text x="343.0" y="428.6" font-size="4.8" text-anchor="start" fill="#111" style="stroke-width:0.18px">40.8</text>
<text x="374.8" y="400.6" font-size="12.5" text-anchor="start" font-weight="bold" fill="#000">K</text>
<line x1="396.3" y1="410.6" x2="396.3" y2="476.9" stroke="#111" stroke-width="0.9"/>
<line x1="396.3" y1="476.9" x2="495.0" y2="476.9" stroke="#111" stroke-width="0.9"/>
<line x1="393.8" y1="476.9" x2="396.3" y2="476.9" stroke="#111" stroke-width="0.7"/>
<text x="393.7" y="478.5" font-size="4.5" text-anchor="end" fill="#111">0</text>
<line x1="393.8" y1="460.4" x2="396.3" y2="460.4" stroke="#111" stroke-width="0.7"/>
<text x="393.7" y="462.0" font-size="4.5" text-anchor="end" fill="#111">50</text>
<line x1="393.8" y1="443.9" x2="396.3" y2="443.9" stroke="#111" stroke-width="0.7"/>
<text x="393.7" y="445.5" font-size="4.5" text-anchor="end" fill="#111">100</text>
<line x1="393.8" y1="427.4" x2="396.3" y2="427.4" stroke="#111" stroke-width="0.7"/>
<text x="393.7" y="429.0" font-size="4.5" text-anchor="end" fill="#111">150</text>
<line x1="393.8" y1="410.9" x2="396.3" y2="410.9" stroke="#111" stroke-width="0.7"/>
<text x="393.7" y="412.5" font-size="4.5" text-anchor="end" fill="#111">200</text>
<line x1="420.6" y1="476.9" x2="420.6" y2="478.9" stroke="#111" stroke-width="0.8"/>
<line x1="469.5" y1="476.9" x2="469.5" y2="478.9" stroke="#111" stroke-width="0.8"/>
<text x="378.2" y="446.2" font-size="9.5" text-anchor="middle" fill="#111" textLength="51.5" lengthAdjust="spacingAndGlyphs" transform="rotate(-90 378.2 446.2)">Weight (mg)</text>
<line x1="404.4" y1="422.4" x2="436.7" y2="422.4" stroke="#111" stroke-width="1.1"/>
<line x1="412.5" y1="420.7" x2="428.6" y2="420.7" stroke="#111" stroke-width="0.9"/>
<line x1="412.5" y1="424.1" x2="428.6" y2="424.1" stroke="#111" stroke-width="0.9"/>
<circle cx="420.6" cy="419.0" r="1.5" fill="#111"/>
<circle cx="422.8" cy="422.0" r="1.5" fill="#111"/>
<circle cx="418.6" cy="425.6" r="1.5" fill="#111"/>
<circle cx="421.2" cy="421.4" r="1.5" fill="#111"/>
<circle cx="419.0" cy="423.0" r="1.5" fill="#111"/>
<line x1="453.8" y1="440.5" x2="486.3" y2="440.5" stroke="#111" stroke-width="1.1"/>
<line x1="461.3" y1="437.5" x2="478.0" y2="437.5" stroke="#111" stroke-width="0.9"/>
<line x1="461.3" y1="443.7" x2="478.0" y2="443.7" stroke="#111" stroke-width="0.9"/>
<circle cx="468.4" cy="436.0" r="1.5" fill="#111"/>
<circle cx="472.4" cy="434.8" r="1.5" fill="#111"/>
<circle cx="470.5" cy="441.5" r="1.5" fill="#111"/>
<circle cx="469.6" cy="451.3" r="1.5" fill="#111"/>
<text x="405.5" y="490.5" font-size="9.8" text-anchor="start" fill="#111" textLength="30.8" lengthAdjust="spacingAndGlyphs">Vehicle</text>
<text x="452.0" y="490.5" font-size="9.8" text-anchor="start" fill="#111" textLength="41.0" lengthAdjust="spacingAndGlyphs">UNC1999</text>
<text x="437.5" y="401.0" font-size="9.8" text-anchor="start" fill="#111" textLength="55.5" lengthAdjust="spacingAndGlyphs">Lymph nodes</text>
<text x="440.0" y="410.5" font-size="9.8" fill="#111" textLength="45" lengthAdjust="spacingAndGlyphs"><tspan font-style="italic">p</tspan> = 0.0055</text>
</svg></body></html>
